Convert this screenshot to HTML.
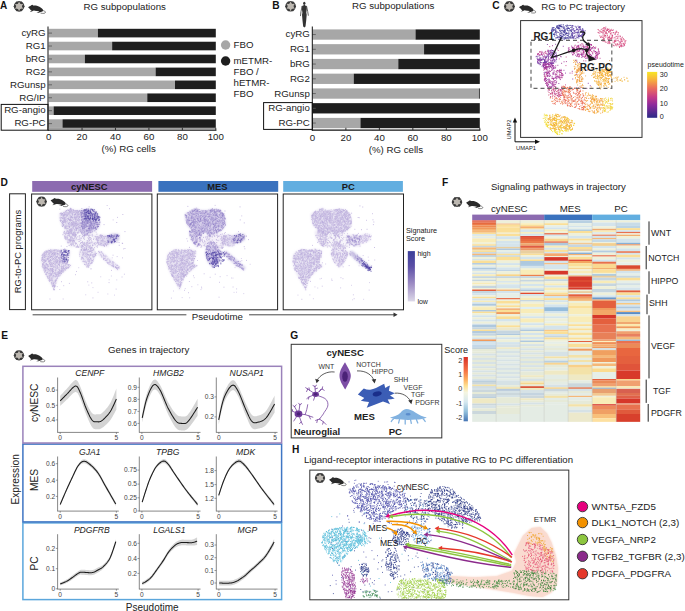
<!DOCTYPE html><html><head><meta charset="utf-8"><style>html,body{margin:0;padding:0;background:#fff}body{width:685px;height:611px;overflow:hidden;font-family:"Liberation Sans",sans-serif}svg{display:block;font-family:"Liberation Sans",sans-serif}</style></head><body><svg width="685" height="611" viewBox="0 0 685 611"><text x="0.0" y="8.5" font-size="10.0" font-weight="bold" fill="#111">A</text>
<circle cx="19.10" cy="6.35" r="5.30" fill="#3a3a3a"/>
<circle cx="23.98" cy="6.35" r="0.64" fill="#3a3a3a"/>
<circle cx="21.54" cy="10.57" r="0.64" fill="#3a3a3a"/>
<circle cx="16.66" cy="10.57" r="0.64" fill="#3a3a3a"/>
<circle cx="14.22" cy="6.35" r="0.64" fill="#3a3a3a"/>
<circle cx="16.66" cy="2.13" r="0.64" fill="#3a3a3a"/>
<circle cx="21.54" cy="2.13" r="0.64" fill="#3a3a3a"/>
<polygon points="19.10,1.47 20.37,4.15 23.32,3.91 21.64,6.35 23.32,8.79 20.37,8.55 19.10,11.23 17.83,8.55 14.88,8.79 16.56,6.35 14.88,3.91 17.83,4.15" fill="#bdb8b1"/>
<circle cx="19.10" cy="6.35" r="2.86" fill="#bdb8b1"/>
<g transform="translate(28.10,4.70) scale(1.040)"><path d="M0 2.5 C0.7 1.8 1.4 1.4 2.1 1.3 L3.4 0.2 L4.3 0.1 L4.8 0.8 C6 0.7 7.2 0.6 8.4 0.9 C10.2 1.3 11.8 2.2 13.0 3.4 C13.8 4.2 14.4 4.8 14.4 5.4 C14.4 6.1 14.1 6.5 13.8 6.6 L12.2 7.0 L10.2 7.7 L8.0 7.8 L9.8 7.1 L10.8 6.4 C9 6.0 7.5 5.8 6.2 5.7 C5.2 5.6 4.6 5.8 4.1 6.2 L2.1 6.9 L2.0 6.6 L3.4 5.8 C2.5 5.2 1.8 4.5 1.5 3.9 C1.0 3.4 0.4 3.0 0 2.5 Z" fill="#2a2a2a"/><path d="M14.3 5.6 C15.6 5.9 16.6 6.4 16.7 7.4 C16.5 8.4 14.6 8.6 12 8.1" fill="none" stroke="#2a2a2a" stroke-width="0.55"/></g>
<text x="83.5" y="9.8" font-size="9.7" fill="#222">RG subpopulations</text>
<rect x="48.60" y="28.80" width="49.32" height="8.60" fill="#a7a7a7"/>
<rect x="97.92" y="28.80" width="117.88" height="8.60" fill="#1e1e1e"/>
<line x1="48.60" y1="33.10" x2="52.00" y2="33.10" stroke="#555" stroke-width="0.8"/>
<text x="45.6" y="35.8" font-size="9.7" text-anchor="end" fill="#222">cyRG</text>
<rect x="48.60" y="41.73" width="63.54" height="8.60" fill="#a7a7a7"/>
<rect x="112.14" y="41.73" width="103.66" height="8.60" fill="#1e1e1e"/>
<line x1="48.60" y1="46.03" x2="52.00" y2="46.03" stroke="#555" stroke-width="0.8"/>
<text x="45.6" y="48.7" font-size="9.7" text-anchor="end" fill="#222">RG1</text>
<rect x="48.60" y="54.66" width="36.28" height="8.60" fill="#a7a7a7"/>
<rect x="84.88" y="54.66" width="130.92" height="8.60" fill="#1e1e1e"/>
<line x1="48.60" y1="58.96" x2="52.00" y2="58.96" stroke="#555" stroke-width="0.8"/>
<text x="45.6" y="61.7" font-size="9.7" text-anchor="end" fill="#222">bRG</text>
<rect x="48.60" y="67.59" width="107.01" height="8.60" fill="#a7a7a7"/>
<rect x="155.61" y="67.59" width="60.19" height="8.60" fill="#1e1e1e"/>
<line x1="48.60" y1="71.89" x2="52.00" y2="71.89" stroke="#555" stroke-width="0.8"/>
<text x="45.6" y="74.6" font-size="9.7" text-anchor="end" fill="#222">RG2</text>
<rect x="48.60" y="80.52" width="126.40" height="8.60" fill="#a7a7a7"/>
<rect x="175.00" y="80.52" width="40.80" height="8.60" fill="#1e1e1e"/>
<line x1="48.60" y1="84.82" x2="52.00" y2="84.82" stroke="#555" stroke-width="0.8"/>
<text x="45.6" y="87.5" font-size="9.7" text-anchor="end" fill="#222">RGunsp</text>
<rect x="48.60" y="93.45" width="98.65" height="8.60" fill="#a7a7a7"/>
<rect x="147.25" y="93.45" width="68.55" height="8.60" fill="#1e1e1e"/>
<line x1="48.60" y1="97.75" x2="52.00" y2="97.75" stroke="#555" stroke-width="0.8"/>
<text x="45.6" y="100.5" font-size="9.7" text-anchor="end" fill="#222">RG/IP</text>
<rect x="48.60" y="106.38" width="5.02" height="8.60" fill="#a7a7a7"/>
<rect x="53.62" y="106.38" width="162.18" height="8.60" fill="#1e1e1e"/>
<line x1="48.60" y1="110.68" x2="52.00" y2="110.68" stroke="#555" stroke-width="0.8"/>
<text x="45.6" y="113.4" font-size="9.7" text-anchor="end" fill="#222">RG-angio</text>
<rect x="48.60" y="119.31" width="13.88" height="8.60" fill="#a7a7a7"/>
<rect x="62.48" y="119.31" width="153.32" height="8.60" fill="#1e1e1e"/>
<line x1="48.60" y1="123.61" x2="52.00" y2="123.61" stroke="#555" stroke-width="0.8"/>
<text x="45.6" y="126.3" font-size="9.7" text-anchor="end" fill="#222">RG-PC</text>
<line x1="48.00" y1="26.50" x2="48.00" y2="130.60" stroke="#111" stroke-width="1.0"/>
<rect x="48.60" y="127.80" width="167.20" height="1.90" fill="#a0a0a0"/>
<line x1="48.00" y1="130.20" x2="216.40" y2="130.20" stroke="#111" stroke-width="1.1"/>
<text x="48.6" y="140.0" font-size="9.7" text-anchor="middle" fill="#222">0</text>
<line x1="82.04" y1="127.80" x2="82.04" y2="130.20" stroke="#222" stroke-width="0.9"/>
<text x="82.0" y="140.0" font-size="9.7" text-anchor="middle" fill="#222">20</text>
<line x1="115.48" y1="127.80" x2="115.48" y2="130.20" stroke="#222" stroke-width="0.9"/>
<text x="115.5" y="140.0" font-size="9.7" text-anchor="middle" fill="#222">40</text>
<line x1="148.92" y1="127.80" x2="148.92" y2="130.20" stroke="#222" stroke-width="0.9"/>
<text x="148.9" y="140.0" font-size="9.7" text-anchor="middle" fill="#222">60</text>
<line x1="182.36" y1="127.80" x2="182.36" y2="130.20" stroke="#222" stroke-width="0.9"/>
<text x="182.4" y="140.0" font-size="9.7" text-anchor="middle" fill="#222">80</text>
<line x1="215.80" y1="127.80" x2="215.80" y2="130.20" stroke="#222" stroke-width="0.9"/>
<text x="215.8" y="140.0" font-size="9.7" text-anchor="middle" fill="#222">100</text>
<text x="128.6" y="152.0" font-size="9.7" text-anchor="middle" fill="#222">(%) RG cells</text>
<rect x="1.20" y="104.40" width="46.80" height="25.80" fill="none" stroke="#111" stroke-width="1.0"/>
<circle cx="225.6" cy="45.0" r="4.7" fill="#a7a7a7"/>
<circle cx="225.6" cy="61.0" r="4.7" fill="#1e1e1e"/>
<text x="233.5" y="48.4" font-size="9.7" fill="#222">FBO</text>
<text x="233.5" y="64.4" font-size="9.7" fill="#222">mETMR-</text>
<text x="233.5" y="75.0" font-size="9.7" fill="#222">FBO /</text>
<text x="233.5" y="86.2" font-size="9.7" fill="#222">hETMR-</text>
<text x="233.5" y="97.2" font-size="9.7" fill="#222">FBO</text>
<text x="272.3" y="8.8" font-size="10.2" font-weight="bold" fill="#111">B</text>
<circle cx="290.60" cy="6.30" r="5.30" fill="#3a3a3a"/>
<circle cx="295.48" cy="6.30" r="0.64" fill="#3a3a3a"/>
<circle cx="293.04" cy="10.52" r="0.64" fill="#3a3a3a"/>
<circle cx="288.16" cy="10.52" r="0.64" fill="#3a3a3a"/>
<circle cx="285.72" cy="6.30" r="0.64" fill="#3a3a3a"/>
<circle cx="288.16" cy="2.08" r="0.64" fill="#3a3a3a"/>
<circle cx="293.04" cy="2.08" r="0.64" fill="#3a3a3a"/>
<polygon points="290.60,1.42 291.87,4.10 294.82,3.86 293.14,6.30 294.82,8.74 291.87,8.50 290.60,11.18 289.33,8.50 286.38,8.74 288.06,6.30 286.38,3.86 289.33,4.10" fill="#bdb8b1"/>
<circle cx="290.60" cy="6.30" r="2.86" fill="#bdb8b1"/>
<g fill="#333"><ellipse cx="304.3" cy="3.2" rx="1.15" ry="1.55"/><path d="M303.7 4.5 L304.9 4.5 L305.1 5.6 L306.9 6.0 L306.8 9 L306.3 12.8 L306.7 14.8 L306.2 20.6 L305.5 26.6 L304.4 27.4 L303.2 26.6 L302.5 20.6 L302.0 14.8 L302.4 12.8 L301.9 9 L301.8 6.0 L303.5 5.6 Z"/></g><path d="M302.1 6.4 L301.0 11.5 L300.5 15.7 M306.6 6.4 L307.7 11.5 L308.3 15.3" stroke="#555" stroke-width="0.9" fill="none" stroke-linecap="round"/>
<text x="352.0" y="9.3" font-size="9.7" fill="#222">RG subpopulations</text>
<rect x="312.40" y="29.40" width="103.12" height="10.30" fill="#a7a7a7"/>
<rect x="415.52" y="29.40" width="64.28" height="10.30" fill="#1e1e1e"/>
<line x1="312.40" y1="34.55" x2="315.80" y2="34.55" stroke="#555" stroke-width="0.8"/>
<text x="309.8" y="37.4" font-size="9.7" text-anchor="end" fill="#222">cyRG</text>
<rect x="312.40" y="44.15" width="111.66" height="10.30" fill="#a7a7a7"/>
<rect x="424.06" y="44.15" width="55.74" height="10.30" fill="#1e1e1e"/>
<line x1="312.40" y1="49.30" x2="315.80" y2="49.30" stroke="#555" stroke-width="0.8"/>
<text x="309.8" y="52.2" font-size="9.7" text-anchor="end" fill="#222">RG1</text>
<rect x="312.40" y="58.90" width="85.88" height="10.30" fill="#a7a7a7"/>
<rect x="398.28" y="58.90" width="81.52" height="10.30" fill="#1e1e1e"/>
<line x1="312.40" y1="64.05" x2="315.80" y2="64.05" stroke="#555" stroke-width="0.8"/>
<text x="309.8" y="67.0" font-size="9.7" text-anchor="end" fill="#222">bRG</text>
<rect x="312.40" y="73.65" width="41.35" height="10.30" fill="#a7a7a7"/>
<rect x="353.75" y="73.65" width="126.05" height="10.30" fill="#1e1e1e"/>
<line x1="312.40" y1="78.80" x2="315.80" y2="78.80" stroke="#555" stroke-width="0.8"/>
<text x="309.8" y="81.7" font-size="9.7" text-anchor="end" fill="#222">RG2</text>
<rect x="312.40" y="88.40" width="166.56" height="10.30" fill="#a7a7a7"/>
<rect x="478.96" y="88.40" width="0.84" height="10.30" fill="#1e1e1e"/>
<line x1="312.40" y1="93.55" x2="315.80" y2="93.55" stroke="#555" stroke-width="0.8"/>
<text x="309.8" y="96.5" font-size="9.7" text-anchor="end" fill="#222">RGunsp</text>
<rect x="312.40" y="103.15" width="0.00" height="10.30" fill="#a7a7a7"/>
<rect x="312.40" y="103.15" width="167.40" height="10.30" fill="#1e1e1e"/>
<line x1="312.40" y1="108.30" x2="315.80" y2="108.30" stroke="#555" stroke-width="0.8"/>
<text x="309.8" y="111.2" font-size="9.7" text-anchor="end" fill="#222">RG-angio</text>
<rect x="312.40" y="117.90" width="48.04" height="10.30" fill="#a7a7a7"/>
<rect x="360.44" y="117.90" width="119.36" height="10.30" fill="#1e1e1e"/>
<line x1="312.40" y1="123.05" x2="315.80" y2="123.05" stroke="#555" stroke-width="0.8"/>
<text x="309.8" y="126.0" font-size="9.7" text-anchor="end" fill="#222">RG-PC</text>
<line x1="312.30" y1="26.50" x2="312.30" y2="130.60" stroke="#111" stroke-width="1.0"/>
<line x1="311.80" y1="130.10" x2="480.40" y2="130.10" stroke="#111" stroke-width="1.1"/>
<text x="312.4" y="140.7" font-size="9.7" text-anchor="middle" fill="#222">0</text>
<line x1="345.88" y1="127.80" x2="345.88" y2="130.10" stroke="#222" stroke-width="0.9"/>
<text x="345.9" y="140.7" font-size="9.7" text-anchor="middle" fill="#222">20</text>
<line x1="379.36" y1="127.80" x2="379.36" y2="130.10" stroke="#222" stroke-width="0.9"/>
<text x="379.4" y="140.7" font-size="9.7" text-anchor="middle" fill="#222">40</text>
<line x1="412.84" y1="127.80" x2="412.84" y2="130.10" stroke="#222" stroke-width="0.9"/>
<text x="412.8" y="140.7" font-size="9.7" text-anchor="middle" fill="#222">60</text>
<line x1="446.32" y1="127.80" x2="446.32" y2="130.10" stroke="#222" stroke-width="0.9"/>
<text x="446.3" y="140.7" font-size="9.7" text-anchor="middle" fill="#222">80</text>
<line x1="479.80" y1="127.80" x2="479.80" y2="130.10" stroke="#222" stroke-width="0.9"/>
<text x="479.8" y="140.7" font-size="9.7" text-anchor="middle" fill="#222">100</text>
<text x="395.9" y="152.5" font-size="9.7" text-anchor="middle" fill="#222">(%) RG cells</text>
<rect x="263.60" y="102.60" width="48.70" height="26.80" fill="none" stroke="#111" stroke-width="1.0"/>
<text x="492.3" y="8.8" font-size="10.2" font-weight="bold" fill="#111">C</text>
<circle cx="509.40" cy="6.40" r="5.30" fill="#3a3a3a"/>
<circle cx="514.28" cy="6.40" r="0.64" fill="#3a3a3a"/>
<circle cx="511.84" cy="10.62" r="0.64" fill="#3a3a3a"/>
<circle cx="506.96" cy="10.62" r="0.64" fill="#3a3a3a"/>
<circle cx="504.52" cy="6.40" r="0.64" fill="#3a3a3a"/>
<circle cx="506.96" cy="2.18" r="0.64" fill="#3a3a3a"/>
<circle cx="511.84" cy="2.18" r="0.64" fill="#3a3a3a"/>
<polygon points="509.40,1.52 510.67,4.20 513.62,3.96 511.94,6.40 513.62,8.84 510.67,8.60 509.40,11.28 508.13,8.60 505.18,8.84 506.86,6.40 505.18,3.96 508.13,4.20" fill="#bdb8b1"/>
<circle cx="509.40" cy="6.40" r="2.86" fill="#bdb8b1"/>
<g transform="translate(519.10,4.70) scale(1.000)"><path d="M0 2.5 C0.7 1.8 1.4 1.4 2.1 1.3 L3.4 0.2 L4.3 0.1 L4.8 0.8 C6 0.7 7.2 0.6 8.4 0.9 C10.2 1.3 11.8 2.2 13.0 3.4 C13.8 4.2 14.4 4.8 14.4 5.4 C14.4 6.1 14.1 6.5 13.8 6.6 L12.2 7.0 L10.2 7.7 L8.0 7.8 L9.8 7.1 L10.8 6.4 C9 6.0 7.5 5.8 6.2 5.7 C5.2 5.6 4.6 5.8 4.1 6.2 L2.1 6.9 L2.0 6.6 L3.4 5.8 C2.5 5.2 1.8 4.5 1.5 3.9 C1.0 3.4 0.4 3.0 0 2.5 Z" fill="#2a2a2a"/><path d="M14.3 5.6 C15.6 5.9 16.6 6.4 16.7 7.4 C16.5 8.4 14.6 8.6 12 8.1" fill="none" stroke="#2a2a2a" stroke-width="0.55"/></g>
<text x="541.2" y="9.7" font-size="9.7" fill="#222">RG to PC trajectory</text>
<rect x="520.60" y="20.60" width="121.40" height="116.80" fill="none" stroke="#333" stroke-width="1.0"/>
<path d="M559.5 25.6h.1m.1 1.3h.1m2.5 0h.1m1.1 0h.1m4.4-1.3h.1m3.7 .5h.1m.2-.5h.1m5.8 .6h.1m2.3 .8h.1m-28.6 2.9h.1m.3-2h.1m-.1 3.3h.1m-.1 0h.1m.6-3.1h.1m.3 2.8h.1m0-1.1h.1m1.8 1h.1m1.3 .8h.1m.3 .7h.1m1-3.7h.1m0 .2h.1m.2 3.7h.1m1-3.7h.1m2.3 1.7h.1m.5 1.5h.1m.5-3.9h.1m.8 4.2h.1m.1-4.2h.1m.1 1.5h.1m.4 1h.1m.6-1h.1m.6-.9h.1m1.3-.4h.1m.5 .2h.1m1.9 2.1h.1m.5 .9h.1m.3-.2h.1m0-1.4h.1m.6 2.7h.1m1.2-2.4h.1m.7 .9h.1m2-1.6h.1m.2 3.2h.1m.2-3.4h.1m.3 3.5h.1m1 0h.1m.3-5.4h.1m-.1 .2h.1m.8 4.8h.1m.9-1.6h.1m.7 1.5h.1m.8-3.6h.1m.3 2.7h.1m.3 .9h.1m-29.1 1.8h.1m.4 .7h.1m.7 3.2h.1m.2-4.9h.1m1.3 4.6h.1m.5-.1h.1m1 .2h.1m.7-1.1h.1m.4-1.1h.1m.8 .8h.1m.4-2.4h.1m1 1.1h.1m2-1.8h.1m1.5-.2h.1m.2 4.3h.1m.1-2.1h.1m1.1-2.1h.1m-.1 4.7h.1m1.2-4h.1m1.9-.4h.1m.7 2.1h.1m.1 1h.1m-.1-1.8h.1m.3 3.8h.1m.7-.7h.1m.8-4.9h.1m2.5 4.7h.1m1-.9h.1m.2 1.2h.1m.5-1.7h.1m0-2.2h.1m.1 2h.1m.2-.5h.1m1.9 1.7h.1m1.3-3.8h.1m.1 1.4h.1m-23.1 5.4h.1" stroke="#4a3a9e" stroke-width="0.95" stroke-linecap="round" fill="none"/>
<path d="M556.5 26.1h.1m.6 .5h.1m.4-1.1h.1m.8 .3h.1m.3-.8h.1m.8 .6h.1m.5 1h.1m.2-.3h.1m.9-1.5h.1m2.8 2.2h.1m2.2 0h.1m-15.7 4.4h.1m-.1-1h.1m.6-2.1h.1m1.3 1.9h.1m.5-.8h.1m1.2 .5h.1m.2-1.4h.1m.1 3.9h.1m.1-2.3h.1m1.3-2.1h.1m-.1-.9h.1m.1 1h.1m.6-1h.1m.2 .3h.1m.4 .7h.1m.3 .7h.1m1.1 2.5h.1m.3-.7h.1m.6-2.8h.1m.9 2.4h.1m.6 1.3h.1m.5-.9h.1m.4 1.8h.1m.1-3.5h.1m.1 2.5h.1m.8 1.2h.1m1.2-2.6h.1m0 .1h.1m.6 .7h.1m.6-2.3h.1m0 3.6h.1m.2-1.4h.1m2.7-3h.1m-18.7 6.8h.1m.4-.8h.1m.3 1h.1m1.8-.6h.1m-.1 3.7h.1m3.2-3.7h.1m.5 1.4h.1m0-.2h.1m.2 2.4h.1m1.4-3.9h.1m0 3.4h.1m.1-.6h.1m1-2.1h.1m0 3.5h.1m.8-2.9h.1m.2 2.5h.1m.3 .8h.1m.6-.4h.1m.8-4.7h.1m.2 4.7h.1m.4 0h.1m.7-1.8h.1m.8 .6h.1m1.1 .2h.1m-11.7 2.4h.1m.3-.1h.1m.3 1.1h.1m.3 0h.1" stroke="#3f3a9c" stroke-width="0.95" stroke-linecap="round" fill="none"/>
<path d="M559.7 25.5h.1m-0 .7h.1m.5-1.1h.1m.8 1.3h.1m.2 0h.1m1.7-1.5h.1m2.3 .7h.1m.5 .6h.1m.6-1.2h.1m.6 .8h.1m2.1-.4h.1m-.1 .1h.1m-18 4h.1m.4 .5h.1m.5-2.4h.1m.7 .1h.1m.3 2.4h.1m.5 2.4h.1m.6-1h.1m.6-4.2h.1m.5-.2h.1m1.5 1.1h.1m.7 2.4h.1m.7 1.1h.1m.5-1.5h.1m.3 2.5h.1m2.4-4.6h.1m-0 4.7h.1m.2-.9h.1m-.1-1.4h.1m.6 .6h.1m2.6-2.8h.1m.6-.6h.1m1 .7h.1m.6 1.2h.1m.7-2.1h.1m.1 3h.1m0 1.5h.1m-16.9 4.1h.1m2.5-.6h.1m.1 1.9h.1m.8-.9h.1m1.2 .5h.1m.8-3.3h.1m.4 4.2h.1m-0-.2h.1m.1-4.6h.1m0 4.8h.1m.4-2h.1m-.1 2.4h.1m.4 0h.1m0-1.9h.1m1.3-.5h.1m.9 2.9h.1m.6-4.2h.1m.2 2.4h.1m.1 1.1h.1m0-4.6h.1m.1 1.5h.1m-.1 3.9h.1m.4-5.4h.1m1-.1h.1m-0 2.1h.1m.6-.6h.1m.1 4h.1m.9-1.7h.1m.1 1h.1m.7-.3h.1m-0-1.9h.1m.7-1.3h.1m0 1.2h.1m-0 2.2h.1m-10.5 2.2h.1m0-.2h.1m2.4-.4h.1" stroke="#3b3494" stroke-width="0.95" stroke-linecap="round" fill="none"/>
<path d="M572.2 26.9h.1m6.8-.3h.1m-7.2 1.5h.1m-.1 1.7h.1m3.6 2.3h.1m-0-1.7h.1m0 2.2h.1m.4-5.4h.1m.3 1.5h.1m1 .6h.1m.5 1.6h.1m.1-3.2h.1m.5 1.4h.1m.2-1.7h.1m1 4.5h.1m.7-1.7h.1m.7 .1h.1m1.4 .7h.1m-11.2 2.2h.1m.7-.1h.1m0 3.6h.1m.9-3.5h.1m.5 5.3h.1m1.6-1.8h.1m.8-1.5h.1m.1-.9h.1m2.2 1.3h.1m.3 .4h.1m.2-.5h.1m0 1h.1m2.1-1.4h.1m.2-1.1h.1m.2 .4h.1" stroke="#6e44a8" stroke-width="0.95" stroke-linecap="round" fill="none"/>
<path d="M572.2 25.6h.1m.8 .3h.1m1.9 .4h.1m4.7 .4h.1m-7.9 3h.1m1.1-.5h.1m.3-.7h.1m.3 2.8h.1m.4-.6h.1m1.3-3.5h.1m.8 5.1h.1m.8 .6h.1m0-3h.1m-.1 2.1h.1m.2 .2h.1m.6-1.2h.1m.6-3.9h.1m.1 2h.1m.5 0h.1m.1 .1h.1m.6 2.4h.1m.9-2.4h.1m.2 3.4h.1m.1-2.2h.1m.1 .2h.1m0-.7h.1m.2 1.7h.1m1.1 .8h.1m.5-1.6h.1m-13.3 4.2h.1m0 2.3h.1m0 .2h.1m-0-2.4h.1m.3-1.9h.1m.1 4.5h.1m.6-.3h.1m.9-1.5h.1m0 .5h.1m1.2-1.3h.1m.2 2.8h.1m2-1.9h.1m-.1-.6h.1m.1 1.1h.1m2.7 .1h.1m0-1.5h.1m.5-.4h.1m.2-1.2h.1m0 1.2h.1m0 .2h.1" stroke="#5b3ea6" stroke-width="0.95" stroke-linecap="round" fill="none"/>
<path d="M598 32.4h.1m.4 .4h.1m1.2-2h.1m.1 .5h.1m1.1-1.7h.1m.1 2.6h.1m.7-3.4h.1m.1 2.2h.1m.6-.8h.1m.3 .6h.1m.1-3h.1m.1 3.2h.1m.1-.9h.1m.2-2.3h.1m.6 1.8h.1m.1 2.8h.1m.4-5.3h.1m.6 5.3h.1m.2-1.9h.1m.1-.6h.1m0 .1h.1m.2-.8h.1m.2 1.2h.1m.7 1.1h.1m.2 1h.1m.6-1.6h.1m.7 .8h.1m.3-1.7h.1m.3 .5h.1m1.2-.1h.1m.8 2.2h.1m2.9-.3h.1m.3-.9h.1m1.5 1.5h.1m-17.4 4.5h.1m-.1-1h.1m1.2 1h.1m.5-3.7h.1m0 1.5h.1m.2 3.8h.1m0-1.2h.1m.4 .9h.1m0-4.7h.1m.6 1.6h.1m-0-.7h.1m.6 .6h.1m.2 1.6h.1m-.1-1.2h.1m.1-2.6h.1m.6 .4h.1m.4 .2h.1m.1 1.5h.1m.2 2.7h.1m1-.2h.1m.8-.3h.1m1 1.2h.1m-.1-5.3h.1m.4 5.4h.1m1.2-3.4h.1m2.2 1.9h.1m.6-4.4h.1m.3 5.8h.1m1.7-.5h.1m2.3 .5h.1m.1-2.1h.1m1.1 1.4h.1m.8-.9h.1m.6 1.3h.1m-20.7 1.9h.1m.2-.3h.1m.1 1.3h.1m1.5-.2h.1m.4 .8h.1m.8 .3h.1m1.3 .8h.1m.2-4h.1m1.1 3.1h.1m.2-.5h.1m.4 1.5h.1m1.1-3h.1m.6 .1h.1m2.1 2.4h.1m.3-1.8h.1m0 2h.1m.1-1.6h.1m.2-.1h.1m.8-.4h.1m0 3.3h.1m0-3.9h.1m1.7 4.5h.1m-.1-.3h.1m.2-4.2h.1m2.3 2.2h.1m.2 .8h.1m.1-4h.1m.5 .4h.1m1.8 4.4h.1m.9 .9h.1m.2-3.7h.1m.1 1.5h.1m.2-1.6h.1m-12 4.2h.1m5.7 1.3h.1m.2 .9h.1m1.5-2.3h.1m0 .5h.1m.1 1h.1m.4-1.5h.1" stroke="#d4487a" stroke-width="0.95" stroke-linecap="round" fill="none"/>
<path d="M602.9 32.5h.1m2.5-4.2h.1m1.5 1.9h.1m1.4-.7h.1m1.5 .9h.1m3-.4h.1m.4 2.8h.1m-14.2 .3h.1m8.6 4.2h.1m1.2 .5h.1m1.8 .5h.1m0-3.3h.1m.2 2.2h.1m.4-1.9h.1m2.8-1.2h.1m.5 2.2h.1m1.8 .4h.1m2-.8h.1m-15.7 4.5h.1m.2 .1h.1m3.5-1.1h.1m.5 3.2h.1m0-1.4h.1m.5-.7h.1m5.3 .8h.1m2.8-.7h.1m1.1 1h.1m.5 2.6h.1m1-2.8h.1m.7 2.6h.1m.1-2.4h.1m2.1 2.5h.1m-10 1.7h.1m6.7-.2h.1m1.7 .6h.1m.9-.2h.1m.8-.8h.1" stroke="#c83a80" stroke-width="0.95" stroke-linecap="round" fill="none"/>
<path d="M598 29.5h.1m.4 .5h.1m2.1 1.8h.1m.3 .1h.1m1.8 .4h.1m.3-4.1h.1m.6 .6h.1m.5 2.9h.1m-.1-.8h.1m1.2 .6h.1m1-2.7h.1m.7 .4h.1m1.1-.1h.1m.2 2.7h.1m2.1-2.5h.1m.1 3.4h.1m3.4-.4h.1m.8-1.1h.1m1.7 1.4h.1m-18.4 3.2h.1m.7 1.6h.1m1.3-1.2h.1m1.8 .5h.1m.3-.8h.1m.2 3h.1m.2-2.1h.1m.5-3.4h.1m2.2 3.6h.1m1.6-.4h.1m.3-.7h.1m.4-2.3h.1m-.1 .5h.1m.1 4.4h.1m.1-5.3h.1m-.1 5.6h.1m.6-1.5h.1m.6 .8h.1m.1-1.7h.1m0 .6h.1m1.5 1h.1m.5-3.8h.1m2 2.4h.1m.6 1.5h.1m.2-3.5h.1m.2 .4h.1m.9 1.8h.1m-16.8 3.9h.1m.3-.9h.1m.1 .1h.1m.5-.6h.1m4.4 2.1h.1m.6 2.2h.1m.6-4.3h.1m.1-.2h.1m.1 4.5h.1m-.1-1.4h.1m1.9 2.7h.1m1-2.8h.1m1.3-1.8h.1m.8-.1h.1m.3 1.3h.1m0 .1h.1m-0 2.8h.1m-.1-.2h.1m1.7-.7h.1m1.6-.7h.1m.5 1.2h.1m1-3.7h.1m.7-.5h.1m0 1.1h.1m.2 .4h.1m.7 2h.1m.2 .1h.1m0-3.6h.1m.8 0h.1m.1 4.9h.1m.4-1.2h.1m.8-2.8h.1m-10.2 4.6h.1m.8 .5h.1m1.3-.8h.1m1.7 1.2h.1m-.1 .5h.1m.3-.6h.1m1.1-.1h.1" stroke="#e0608a" stroke-width="0.95" stroke-linecap="round" fill="none"/>
<path d="M580.2 44.8h.1m1.4-.9h.1m4.6 .9h.1m-.1-.6h.1m.1-.6h.1m.6 .5h.1m2.3 .3h.1m.7 0h.1m.9 .1h.1m-23.3 6h.1m.6-1.4h.1m-.1-1.4h.1m.6 2.2h.1m2.3-2.7h.1m.4 .3h.1m.1 1.6h.1m0-1.7h.1m.6 .7h.1m0 .1h.1m.5 1.6h.1m.4-.9h.1m0 .4h.1m.2-4.1h.1m.4 5.2h.1m.4-3.1h.1m.1-.3h.1m.1 2.1h.1m.4-3.3h.1m.1 3.8h.1m0-2.8h.1m.3 4.2h.1m.7-4.8h.1m0 .9h.1m.8 3.6h.1m.1-.8h.1m0-.9h.1m-.1 .5h.1m1.8-3.5h.1m.1 3.5h.1m.8-2.8h.1m0 2.5h.1m.1-4h.1m.5 .9h.1m-.1 .7h.1m-.1 .1h.1m.2 3.3h.1m.5-3h.1m.5 2.7h.1m.1-.4h.1m-.1-.4h.1m.5 .9h.1m.1-1.4h.1m.2 .6h.1m.1-2.7h.1m0 .8h.1m.3 2.1h.1m.5 1.3h.1m-.1-2h.1m-.1-2h.1m1.1 2.1h.1m.1-1.2h.1m.2 3h.1m-.1-.9h.1m.2-4h.1m-.1 3.8h.1m.4 1.1h.1m.4-2.9h.1m.1 .2h.1m-.1 .7h.1m.4-3.1h.1m1.2 2.3h.1m.7 3.1h.1m.8-3.2h.1m1-.5h.1m2.4 1.8h.1m-0 .2h.1m-30 2.5h.1m.5 1h.1m1.5-1.3h.1m2.3 3.4h.1m.1-2.3h.1m-0-.2h.1m.8 .5h.1m.7-1h.1m1.7 4.5h.1m.1-3.3h.1m.1 1.9h.1m.4 .4h.1m-.1-.9h.1m.9-.6h.1m.1 2.6h.1m2.5-1.6h.1m0 .9h.1m-.1-2h.1m1.4 3h.1m.3-5.2h.1m0 1h.1m-.1 1.4h.1m0-1.4h.1m.1 1.4h.1m1.3 2.2h.1m.3 .3h.1m.2-1.1h.1m.4-.8h.1m.8 2.4h.1m-.1-2.2h.1m.4-2.4h.1m0 1.1h.1m-.1 2.4h.1m.1-3.5h.1m.9 1h.1m.2-1.3h.1m0 2.4h.1m.7 2.5h.1m0-2.4h.1m.8 .8h.1m.1-3.7h.1m.8 1.5h.1m1.9-1.3h.1m.8 1.6h.1m.6 3.4h.1m-.1-1.4h.1m.2 .2h.1m.1-3.2h.1m.4 .6h.1m.6 1.6h.1m.2-.4h.1m.9-1.4h.1m-.1 .5h.1m-14.6 3.7h.1m0 .1h.1m4.9 .1h.1m2.2 0h.1m.4 .1h.1m.2 .2h.1m.3 .2h.1m.6 1.7h.1m0-1.3h.1m.8 1.5h.1m.7-1.6h.1m1 0h.1m.7 0h.1m2.3 .3h.1" stroke="#b5318d" stroke-width="0.95" stroke-linecap="round" fill="none"/>
<path d="M585.7 44.8h.1m1.3-.3h.1m3.8 .1h.1m-22.8 3.6h.1m0 1.8h.1m3.1-3.9h.1m.5 1.8h.1m-0 1.1h.1m.1-1.5h.1m1.5 1h.1m.9 1.1h.1m1.6 1h.1m.1-2.4h.1m.6 1h.1m.1-3.2h.1m.4-.6h.1m.5 5.6h.1m0-3.3h.1m.3 2.1h.1m.4-.7h.1m1.1-1.3h.1m.8 2.8h.1m1-.1h.1m.4-3.1h.1m1.6-.6h.1m.2 2.3h.1m-0-.5h.1m1.1 0h.1m.2-.6h.1m1.2 1.9h.1m.3-.6h.1m1 .4h.1m.1 .6h.1m.3-.6h.1m1-.9h.1m.9-.6h.1m1.2 2h.1m0-2.1h.1m-23.5 3.7h.1m.2 0h.1m.6 1.1h.1m.5 1.8h.1m.2-2.8h.1m2.8 3.3h.1m1.4 1h.1m.6-2.1h.1m.8 .5h.1m.1 2.3h.1m.8-2.6h.1m.8 0h.1m.1-2.2h.1m.6 2.4h.1m.6-.5h.1m.4 2.5h.1m-.1-2.2h.1m-.1 1.1h.1m1.3-3.5h.1m1 3.4h.1m.5-1.5h.1m.6-1.3h.1m3.2 1.7h.1m0 1.5h.1m1.5 .1h.1m1.1-1.9h.1m2.5-2.2h.1m.7 .5h.1m.5 2.7h.1m.7-.8h.1m.2-2h.1m.7-.9h.1m.2 2.4h.1m-17.3 3.8h.1m5.2 .5h.1m.5 .2h.1m3.1 1.9h.1m2.1-1.9h.1m-.1-.8h.1m1.8 .5h.1m.2-.6h.1m.7 2h.1" stroke="#9a2e9c" stroke-width="0.95" stroke-linecap="round" fill="none"/>
<path d="M578 42.3h.1m4.6 1.7h.1m-34.9 6.8h.1m0 .1h.1m1.6-4.3h.1m8.4 3.9h.1m15.1 .1h.1m.8-4.5h.1m0 2.1h.1m2.5 .6h.1m.5 1.3h.1m.1 .8h.1m.3-2.4h.1m-0-1.3h.1m.2-.6h.1m1.4-.8h.1m7.1 .7h.1m0 .9h.1m.9 .6h.1m0 1.8h.1m2 .5h.1m2.7-3.8h.1m2 1.8h.1m2.9 1.9h.1m-61.2 4h.1m.6-.3h.1m.7 .8h.1m.8-2.2h.1m0-1h.1m0 .2h.1m1.2 .9h.1m.7 2h.1m2-2.3h.1m-0 2.7h.1m.7-1.5h.1m.5-.7h.1m1.4 1.4h.1m2.9-1.9h.1m22.9 1.7h.1m3-2h.1m1.6-.7h.1m.7 .2h.1m.1 4.9h.1m.3-.7h.1m2.6-2.8h.1m1-1.2h.1m2 3.2h.1m.3 1.4h.1m-0-4.8h.1m2.6 .6h.1m4.2 .1h.1m2.2 4.3h.1m1-2.5h.1m.4-1h.1m.5 3.4h.1m.2-1.1h.1m1.3-3.8h.1m-39.9 7.4h.1m6.8-1.9h.1m17.5 3.8h.1m2 .1h.1m.2-2.7h.1m4.3 .4h.1m6.7-.7h.1m-44.2 7.6h.1m12.6 .1h.1m6.1 7.5h.1m27.2 .1h.1m.4-1.5h.1m-34.6 13.2h.1" stroke="#c8408a" stroke-width="0.95" stroke-linecap="round" fill="none"/>
<path d="M537.5 54.8h.1m.3-.9h.1m.4-.3h.1m1.2 1.3h.1m.1 .1h.1m1.1-.3h.1m.1-1.1h.1m.1 .8h.1m.3-.3h.1m-.1-2.7h.1m.7 1.3h.1m.6 1.2h.1m1.9-2.5h.1m1.1 2.3h.1m.5-2h.1" stroke="#b03a98" stroke-width="0.95" stroke-linecap="round" fill="none"/>
<path d="M547.3 44.5h.1m8.2-.2h.1m-4.2 5.7h.1m11.6-3.7h.1m-18.5 9.7h.1m3.3-.7h.1m-0-.6h.1m.5 .2h.1m0 1.7h.1m.1-2.4h.1m.1-.7h.1m.2 .3h.1m1.4 2.9h.1m.5-2.8h.1m.7-.3h.1m3.7 1.2h.1m4.6 2h.1m-23.8 2.6h.1m0 2.1h.1m0 .7h.1m.4 .2h.1m.5-2.6h.1m-.1 .8h.1m.2-.2h.1m0-1.2h.1m.5 1.9h.1m.6-1.3h.1m.2 0h.1m.2 .2h.1m.8-2h.1m1.4 4.7h.1m1.3-1.4h.1m0 1h.1m0-.7h.1m.4 1.2h.1m.7-.3h.1m.1-1.3h.1m0-3.6h.1m1.7 3.2h.1m0-2.5h.1m0 1.4h.1m1.8 3.1h.1m.5-4.1h.1m-.1-1h.1m.7 3h.1m.2-.4h.1m1-1.4h.1m-.1-.7h.1m.2-.9h.1m.1 5.7h.1m.2-3h.1m.5 .4h.1m1.2-3.1h.1m.2 1.4h.1m.6-1.7h.1m18.4 3.4h.1m1.1-.2h.1m.4 2h.1m8.5-3.8h.1m9.7-1.3h.1m-55.8 7.6h.1m1.9 1.5h.1m1.2-.9h.1m-0 .7h.1m1.3 1.8h.1m1.2-.4h.1m.3-1h.1m0-.1h.1m0 1.2h.1m1.8-3.3h.1m.1 .8h.1m2.7-1.4h.1m36.6 4.1h.1m11.2-3.8h.1m-54.9 9.5h.1m8.5 .3h.1m6.3-3h.1m4.1-.4h.1m1.4 2.8h.1m13.6-3.9h.1m-6.5 9.8h.1m-14 4.5h.1m5.9 3.5h.1m23.3-3.7h.1m1.9 2.5h.1m-15.7 2.5h.1m2-.4h.1m3.4-.1h.1m2.9 .4h.1" stroke="#8a3aa8" stroke-width="0.95" stroke-linecap="round" fill="none"/>
<path d="M548.6 51h.1m2.6 0h.1m-15.3 5.8h.1m.1-.5h.1m2.4-.2h.1m3.4-.4h.1m.8 1.2h.1m3.3-.3h.1m1.7-4.5h.1m1.5 1.7h.1m.3 1.6h.1m.1-1.4h.1m1.4-1.4h.1m.2 3.5h.1m.1-.5h.1m.2 .6h.1m.1 0h.1m1-4.5h.1m-0 2.8h.1m0-1.6h.1m1 2.9h.1m.1 0h.1m.1-2.9h.1m.7 3.2h.1m-19.7 2.5h.1m.4 1.3h.1m1-.7h.1m-0 3h.1m.1-2.6h.1m.8-1.1h.1m.3-.3h.1m.4 2.4h.1m.8-.6h.1m.5-.8h.1m1.1 .2h.1m.8 .3h.1m.8-1.1h.1m.1 3.5h.1m-.1-4.8h.1m.1-.1h.1m.3 4.4h.1m.3-4.3h.1m1.5 5.6h.1m4.5-.6h.1m.1-3.7h.1m.1 1h.1m1.3 2h.1m1.1-1.5h.1m.1 1.8h.1m.6-2.3h.1m-17.6 3.8h.1m1.1 1h.1m3.1 .1h.1m.8-1.3h.1m1.7 1.2h.1m1.3-.8h.1m2.5-.1h.1m-.1 2.9h.1m2.2-3.2h.1m.5 .4h.1" stroke="#7a3aa8" stroke-width="0.95" stroke-linecap="round" fill="none"/>
<path d="M548 50.1h.1m2.6 .5h.1m1.7 0h.1m-12.8 5.1h.1m4.2 1.2h.1m3.9-2.8h.1m.6-2.1h.1m1.3 .3h.1m.8 2.9h.1m-.1-2.8h.1m2.9-.4h.1m.1 4h.1m.3-3.8h.1m-0-.2h.1m-17 8.2h.1m2.2 2.1h.1m-.1-1.7h.1m1.3-.9h.1m.5 3.2h.1m2.2-.3h.1m.1-1.7h.1m.3-.6h.1m.1-3.3h.1m-.1 2.1h.1m2.3 .1h.1m.5-2h.1m.7 2.2h.1m1.3 .7h.1m.1 .7h.1m.1-3h.1m0 .1h.1m.1 .5h.1m.3 3.8h.1m1.4-1.5h.1m-.1 1.5h.1m.7-5h.1m2.1 .2h.1m-13.4 7.9h.1m.1-.6h.1m.2 1.6h.1m.1-.2h.1m.1 .2h.1m1.1 1.3h.1m.2 .2h.1m1.4-.4h.1m.8-3.4h.1m.6 .6h.1m1.6 1.8h.1m.1-3h.1m.4 .7h.1m.2-.8h.1m.7 1.6h.1m1.3-1.8h.1" stroke="#9a36a0" stroke-width="0.95" stroke-linecap="round" fill="none"/>
<path d="M549.9 50.7h.1m2.4-.1h.1m.5 .2h.1m-15.7 6.1h.1m9.5-1.8h.1m.2 1h.1m.8 .2h.1m.2-3.1h.1m1.5-2h.1m1.6 1.9h.1m.1 1.8h.1m-.1-.5h.1m.1-1.9h.1m1.2-1.4h.1m1 1.4h.1m1.1 .8h.1m.7 2.6h.1m-19.2 7.1h.1m2-3.3h.1m.2-2.1h.1m.5 4.6h.1m.6 .4h.1m.1-2.8h.1m.7 0h.1m.9-1.1h.1m.1 3.9h.1m.8-.3h.1m-.1-1.9h.1m.1-.2h.1m0 1.7h.1m.2-.9h.1m.1 1.4h.1m0 .4h.1m.7-3.8h.1m.3 3.2h.1m1.2-.9h.1m.6-3.5h.1m.5 4.7h.1m1.9 .5h.1m-.1-1h.1m.1-4.9h.1m1.1 3.8h.1m1.6-1.4h.1m-15.7 4.2h.1m1.3 0h.1m3.2 3.4h.1m.1-.7h.1m.6-2.2h.1m.5 1h.1m.4 2.2h.1m.2-2.7h.1m1.8 2.1h.1m1.3-.4h.1m1.5 .1h.1m.9-3.2h.1m.7 1.9h.1m.5-1.7h.1" stroke="#6a3aa0" stroke-width="0.95" stroke-linecap="round" fill="none"/>
<path d="M549.7 62.5h.1m-5.8 5.7h.1m.8-.8h.1m.1-1.6h.1m.2 1.1h.1m-.1-2.8h.1m.2-.4h.1m.5 3h.1m.8-2.8h.1m.2 2.9h.1m.6-.3h.1m.6-2.3h.1m2 2.9h.1m.1 .3h.1m.8-1.3h.1m.8 2.3h.1m0-2.5h.1m-9.5 4.2h.1m.8-1.1h.1m-.1 5.9h.1m-.1-5.6h.1m.1 5.7h.1m1.3-5.6h.1m-0-.2h.1m.1 3.1h.1m0 2.4h.1m-.1-.8h.1m.2-.1h.1m0-1.1h.1m.1 .8h.1m-.1-2.3h.1m1.1 1h.1m.6 .5h.1m-.1-2.3h.1m1.3 1h.1m4.6 2.4h.1m.6 1.1h.1m.1-3.3h.1m.5 2.8h.1m.1-3.4h.1m.1 1.9h.1m.2-2.4h.1m1 .3h.1m.8 3.4h.1m0-3.9h.1m-.1-.3h.1m0 2h.1m.8-1.3h.1m.8 2.8h.1m-.1-.7h.1m.1-2.2h.1m-.1 3.4h.1m.7-.1h.1m.8 1.1h.1m-19.1 4.5h.1m-.1 1.1h.1m-.1-3.9h.1m.1 1.7h.1m.1-2.2h.1m.2 3.5h.1m.2-2.8h.1m.1 2.2h.1m0-1.8h.1m.1 1.1h.1m.4-2.4h.1m1.1-.6h.1m4.6 3.3h.1m-.1-.3h.1m-.1 0h.1m1.8 .1h.1m3.7-1.5h.1m1.1-.6h.1m0-1.1h.1m.1 2.8h.1m.6-.7h.1m0 1.6h.1m.4-3.8h.1m.9 .7h.1m.1 1.7h.1m-.1 .1h.1m.7-2h.1m-16.6 7.9h.1m.3 1.4h.1m0-.8h.1m-.1-1.7h.1m.6 4h.1m.1-.7h.1m.1-1.9h.1m-.1-1.8h.1m.2 0h.1m1.3-.1h.1m0 .7h.1m0-1.7h.1m2.2 .4h.1m1.1 1.7h.1m.2-1.2h.1m.1 3.5h.1m.7 .8h.1m.3-1.6h.1m-.1 1.9h.1m1.1-3.7h.1m-8.4 5.7h.1m1.7-.3h.1m-.1-1h.1m.5 .9h.1m.1-.1h.1" stroke="#b8408e" stroke-width="0.95" stroke-linecap="round" fill="none"/>
<path d="M543.5 65.8h.1m-.1-2.2h.1m.2 .7h.1m.2 3.8h.1m.1-2.8h.1m.3-1.4h.1m.1 1.1h.1m0 .2h.1m0 3.2h.1m.2 .1h.1m0-2.5h.1m.2 .5h.1m.1-2.2h.1m0 3.1h.1m-.1 .6h.1m-.1-3.6h.1m0-.4h.1m.2 .8h.1m0 3.8h.1m.6-4.8h.1m.3 5.1h.1m-0-1.6h.1m.7-.2h.1m.4-1.2h.1m0-1.5h.1m.3 .2h.1m0 2.4h.1m.4-1.7h.1m1.2-.8h.1m.1 .4h.1m-0 .2h.1m1.1 .8h.1m0 2.3h.1m.2-.6h.1m.3-.6h.1m.1 1.5h.1m1.1-.5h.1m.3-.3h.1m-11.7 7h.1m-.1-1.9h.1m2.6-.6h.1m.7 1.2h.1m.3-.8h.1m0 1.3h.1m.1-1h.1m.7-1.4h.1m.6-.2h.1m1.9-.8h.1m.1-.7h.1m.3-.5h.1m.3 3.7h.1m.1 1.2h.1m.8-1.8h.1m-.1 1.8h.1m.1-2.2h.1m0-1.3h.1m1.1 4.2h.1m.6-.7h.1m.7-2.2h.1m.3-1.5h.1m.2-.1h.1m1.3 1.4h.1m.6 .1h.1m.4 .6h.1m0-1.9h.1m.3 1.9h.1m.3-3.1h.1m.1 1.5h.1m1 3h.1m-17.9 5.9h.1m1.2-1.2h.1m0 2h.1m.5 .1h.1m-.1-.3h.1m.8-4.3h.1m0-.7h.1m.1 1.2h.1m-0-.8h.1m.9-.4h.1m0 3.5h.1m1.3-3.3h.1m1.7 2.3h.1m-.1-1.5h.1m1.2 3.1h.1m.7 1.3h.1m.8-2.8h.1m0-.7h.1m-0 3.3h.1m.4-3.5h.1m.1 .6h.1m.1-1h.1m-.1 1.5h.1m.1 .7h.1m.5-2.9h.1m0 .5h.1m.4-.3h.1m.1 1.8h.1m.5-.7h.1m.3-.7h.1m.6 1h.1m.7 2h.1m.6-2.4h.1m0-2.1h.1m.7 .2h.1m.5 .3h.1m-17.4 5.8h.1m.1 .1h.1m.2 2h.1m.5-.9h.1m1.3 .9h.1m-.1 1.5h.1m.8-4h.1m.4 1.1h.1m0 .3h.1m.3 4h.1m.6-5.4h.1m.1 1.3h.1m.5 4.5h.1m.3-2.8h.1m.7 1.4h.1m-.1-1.9h.1m0 .9h.1m.9 0h.1m0 1.6h.1m.6-5h.1m-0 3.2h.1m.5-1.8h.1m.6 2h.1m.9-3.1h.1m-8.6 6h.1m-.1 .6h.1m-.1-.8h.1m1.6 1.4h.1m.8-.7h.1m1 0h.1m3.6-.5h.1" stroke="#a83aa0" stroke-width="0.95" stroke-linecap="round" fill="none"/>
<path d="M544.8 67.4h.1m.8-3.3h.1m2.7 .5h.1m.1-1.2h.1m.6 4.9h.1m.7-2.1h.1m1.4 1.9h.1m.3-1.1h.1m.2-1h.1m.2-.5h.1m.8 3.3h.1m.4-1.7h.1m-9.2 5.1h.1m.2 .2h.1m1.7-2.3h.1m.9 2.1h.1m1.1 1.3h.1m.3 .8h.1m-4.3 4.6h.1m.6-.2h.1m1 1h.1m1.3 .1h.1m.6 .1h.1m.2-3.6h.1m3.7 2h.1m-.1 .4h.1m-6.8 6.8h.1m.9 .1h.1m.7-1.1h.1m2-1.2h.1m.1 3.1h.1m.9-4.7h.1m.3 4.4h.1m-.1-3.5h.1m3.8 .1h.1m-7.6 6.2h.1m2.7-1.7h.1m4 0h.1" stroke="#9030a0" stroke-width="0.95" stroke-linecap="round" fill="none"/>
<path d="M576.6 61h.1m-2.1 7.4h.1m1.7 4.1h.1m.7-1.6h.1m.6 .3h.1m.2-1.5h.1m.2 1.1h.1m1.3 .1h.1m1.5-1h.1m-3.4 10.2h.1m1-3.8h.1m.6 1h.1m-.1-1.8h.1m2.6 3.8h.1m-.8 6.2h.1m-2.5 3.1h.1" stroke="#ec8a50" stroke-width="0.95" stroke-linecap="round" fill="none"/>
<path d="M573.6 60.3h.1m2.5 1.3h.1m-1.2 5.4h.1m-.1 1.4h.1m.7-3.8h.1m1.1 2.4h.1m.4-1.6h.1m.1-1.6h.1m.4 4.5h.1m.3-2.4h.1m.6-1.8h.1m1.6 4h.1m5.6-1.3h.1m25-.3h.1m-36.3 8.1h.1m.8-4.5h.1m.2 0h.1m.2-.8h.1m1.9 .1h.1m.4 1.4h.1m-.1 4.1h.1m.4-4.5h.1m.8 2.4h.1m.1 .8h.1m1-2h.1m.2-2.2h.1m1.1 3.6h.1m10-2.1h.1m-18.8 7.8h.1m.4-3.6h.1m2.1 2.1h.1m1.3 .9h.1m0 2.2h.1m1.8-.2h.1m.5-2.4h.1m.8 1h.1m12.7-3.5h.1m10.4 .1h.1m-29.7 7.3h.1m.3-1.3h.1m2.4 .3h.1m.4 1.8h.1m.3-1.9h.1m.4 4.5h.1m1.5-1.6h.1m8.6 2.5h.1m4.9-5.9h.1m8.7 2.9h.1m-27.8 5.3h.1" stroke="#f5b040" stroke-width="0.95" stroke-linecap="round" fill="none"/>
<path d="M573.7 62.5h.1m.9-1.1h.1m.3-1.3h.1m.2 2.7h.1m34.1-2.2h.1m-35.5 5.8h.1m1.3-2.2h.1m0 .2h.1m1.9 1.5h.1m.7-1.9h.1m0 4.5h.1m.3-.8h.1m0 1.1h.1m.5-2.1h.1m.1 1.5h.1m1-1.3h.1m13-3.1h.1m10.1-.1h.1m-29.9 5.5h.1m.6 2.8h.1m1.1 .6h.1m.1-.5h.1m.2-.7h.1m.4 1.2h.1m0-1.9h.1m.2-.6h.1m.1 4.6h.1m0-4.6h.1m-.1 1.2h.1m1.1-2.3h.1m.5 3.9h.1m.4 1.7h.1m.2-3.4h.1m.3 3h.1m.7-1.4h.1m0 .4h.1m.5-2.1h.1m.1 2h.1m0-3.1h.1m11-.4h.1m6.1 1.1h.1m-25.6 4.6h.1m.3-.1h.1m.2 2.4h.1m1.3 2.5h.1m.2 .8h.1m-.1-4.6h.1m0 3.6h.1m-0-.1h.1m-.1-4.6h.1m.2 4.3h.1m.4-1.9h.1m.7-.4h.1m.5 3.6h.1m0-4.8h.1m-.1 3.9h.1m.1-1.2h.1m-.1 1.6h.1m1.5-3.8h.1m0 2.9h.1m0-.3h.1m.5-1h.1m3.3-2.2h.1m6.1-.3h.1m6.4 .8h.1m4.2-.9h.1m5.4-.2h.1m-31.5 6.1h.1m-.1 1.4h.1m.8 2.2h.1m.1-3.1h.1m1.9-.5h.1m0 4.9h.1m1.7-4.8h.1m.3-.3h.1m.8 4.5h.1m15.5-.4h.1m5.3-2.1h.1m4.5-.7h.1m2.8 3.4h.1m-30 1.4h.1m.1 0h.1m1 .3h.1m17.6 1.4h.1m7.5-1.6h.1" stroke="#f0a040" stroke-width="0.95" stroke-linecap="round" fill="none"/>
<path d="M606.1 67.9h.1m2.5 1h.1m-16.2 5.1h.1m.6-.2h.1m.7 .1h.1m.9-2.3h.1m1.6-.8h.1m2.4 .5h.1m.2-.6h.1m.2 2.3h.1m0-2.9h.1m-.1 3.3h.1m0-1.8h.1m.3 .6h.1m.1-.1h.1m.1 2.7h.1m.6-5.1h.1m0 3.7h.1m-0-2.7h.1m.1 1.4h.1m.1-.4h.1m1.2-.5h.1m0 .1h.1m.1-.4h.1m0 .6h.1m0 .4h.1m.5-2.1h.1m.1 2.9h.1m.1 1.8h.1m.2 .1h.1m.3-4.1h.1m.9 2.7h.1m-0-3.9h.1m.3 2.1h.1m.1 3.1h.1m.1-1.8h.1m-.1 .8h.1m0-.2h.1m.8-1.6h.1m0-1.4h.1m.9 4.4h.1m-.1-2.4h.1m.1-1.1h.1m.3 3.5h.1m.6-.1h.1m0-3.5h.1m.5 3.9h.1m-.1-3.3h.1m-17.2 9h.1m.1-3.6h.1m2.2 1.7h.1m0-.7h.1m.1-2.9h.1m0-.1h.1m.1 2.1h.1m.1-1.1h.1m.7 3.1h.1m.4-3.6h.1m.4 1.5h.1m.1-1.2h.1m.4 1.5h.1m1.1-2h.1m.6 .1h.1m.4 3.9h.1m.4 1h.1m.6-1.5h.1m.2 .9h.1m.6-2.9h.1m1.9 3.6h.1m.8-4.4h.1m0 2.6h.1m0-2.4h.1m.2 3h.1m.2-.7h.1m.6 0h.1m.4-3.2h.1m1.4 2.1h.1m.4 2.3h.1m-17.1 1.5h.1m1.1 .5h.1m.3 1.2h.1m1.2-.2h.1m.3-1.1h.1m.3 3.3h.1m0-.6h.1m.4 .6h.1m1.8 .8h.1m1.7-4.5h.1m1 .3h.1m.6 2h.1m.3 1.3h.1m.1-1.5h.1m.3-2.3h.1m.2 4.2h.1m.5-3.4h.1m1.7 .1h.1m.1 0h.1m.7 1.8h.1m.3 .1h.1m2-2h.1m-12.2 5.3h.1m1.3-.1h.1" stroke="#f5b030" stroke-width="0.95" stroke-linecap="round" fill="none"/>
<path d="M593.7 72.1h.1m.9 1.1h.1m.5 .9h.1m.2-1.8h.1m2.4 .3h.1m1.6-1h.1m0 .8h.1m-.1 1.7h.1m1-1.3h.1m.4 1.8h.1m.8-1h.1m-.1-3.7h.1m.1-.1h.1m.5 5.2h.1m.6-5.5h.1m1.4-.3h.1m0 4.1h.1m.6-3.2h.1m.1 3h.1m.4-1.4h.1m1.2 1.6h.1m.3-3.9h.1m0 .8h.1m.2 1.9h.1m-.1-.7h.1m.1 .5h.1m-0-1.3h.1m.6 1.9h.1m.1-.7h.1m.1 .1h.1m.8 .4h.1m.1-.2h.1m0 .7h.1m-.1 1.7h.1m.2-.9h.1m-18.6 4h.1m.6-.8h.1m-.1 .5h.1m1.4 1.1h.1m.3-1.9h.1m3.6-1h.1m1.3 2.5h.1m.2 .3h.1m.2-.9h.1m.3-2.3h.1m.2 2.2h.1m.5-1.3h.1m.4 .5h.1m1.4 1.4h.1m.1 2.6h.1m-0-5.3h.1m0-.1h.1m.3 2.8h.1m0 .3h.1m.2 .8h.1m.2-.3h.1m0 .2h.1m1-.2h.1m.3 2.2h.1m.5-4.6h.1m.3-1.2h.1m1.1 .9h.1m-.1-.6h.1m.9 .8h.1m-.1 2.9h.1m-14.4 2.2h.1m.1 2.7h.1m.5 .7h.1m.2-2.1h.1m.2-1.6h.1m.6 2.5h.1m0-.9h.1m.4-1.3h.1m.7 3.1h.1m.1-.3h.1m.2-1.3h.1m0 1.2h.1m-.1-.7h.1m-.1 1.5h.1m2.4 .9h.1m.3 .9h.1m1.2-3h.1m2.3-.8h.1m.4-1.2h.1m.3-.3h.1" stroke="#f3a838" stroke-width="0.95" stroke-linecap="round" fill="none"/>
<path d="M607.5 67.9h.1m-14 6.7h.1m3.3-1.7h.1m.9-.2h.1m3.8 2.1h.1m-.1 0h.1m.6-3.9h.1m0 2.3h.1m-0-3h.1m1.6 1h.1m1 1.5h.1m1-1.1h.1m.2-2.5h.1m.1-.1h.1m.6 4h.1m.3-.2h.1m.4-1.4h.1m-13.7 4.5h.1m1.7 2.5h.1m.4-1.3h.1m1.2 1h.1m.8-2.6h.1m.3 2.7h.1m.2 1.1h.1m.5 1.5h.1m.8-5.4h.1m.1 .7h.1m.4-.4h.1m.6 3.9h.1m1.5 .4h.1m-.1-.7h.1m.2 1.3h.1m.8-2.7h.1m1.3-2.5h.1m3.4 1.4h.1m-12.4 7.3h.1m-0-2.6h.1m5.4 3.4h.1m.6-2.7h.1m1.6 4h.1m.6-3.9h.1m.9 2h.1m-8.9 3h.1" stroke="#f8c040" stroke-width="0.95" stroke-linecap="round" fill="none"/>
<path d="M564.5 86.5h.1m-2.3 4.8h.1m.2-1.7h.1m.9 0h.1m.4 .8h.1m-.1-2.6h.1m.2 3.5h.1m.4-3.9h.1m.1 .5h.1m.6-.5h.1m.2 4.3h.1m.5-3.2h.1m.6-1.1h.1m0 4.6h.1m.2-2.1h.1m.5 2.1h.1m-.1-2.3h.1m0 1.9h.1m.1-1.8h.1m.3 .7h.1m-.1 2h.1m0-3h.1m.1 2.5h.1m1-3h.1m3.6-.5h.1m2.2 .8h.1m.4-.2h.1m.4 .2h.1m2.3 2.1h.1m.1-.3h.1m2.7-.2h.1m-32.4 6.7h.1m8.9 1.1h.1m.9-1.1h.1m2-3.4h.1m1-1.2h.1m.6 3.1h.1m.4-2h.1m.7 1.3h.1m0 2.2h.1m.7-1.5h.1m.2 1.8h.1m.6 1h.1m1.1-1.6h.1m.9 .1h.1m.8 1.4h.1m.1-3.2h.1m1.1 2.8h.1m2.7-1.7h.1m1 2.2h.1m.7-1.4h.1m1.4-4.5h.1m.1 4.1h.1m.9-.9h.1m.5-1.3h.1m.4-.2h.1m2-1.1h.1m.6 2.2h.1m-31.9 5.5h.1m.8 .1h.1m1.2-.5h.1m1.3 1.5h.1m5.1-2.9h.1m.7 1.8h.1m.4 1.5h.1m.3-.4h.1m6.4-2.2h.1m.2 3.4h.1m.7-3.4h.1m.5 4h.1m0 .2h.1m.7-1.2h.1m.6-3.4h.1m0 3.1h.1m.9-1.7h.1m2.4-.3h.1m.3 1.9h.1m.9-.8h.1m.3-.4h.1m.3-.2h.1m.1 2.5h.1m1-4.7h.1m2-.1h.1m-.1 3h.1m1.7 .4h.1m-.1-2.4h.1m-11.8 4.9h.1m1 1.3h.1m2.6 1.1h.1m1.2-2.1h.1m3.1 3.3h.1m2-.8h.1m.4 2h.1m.1-2.3h.1m1.2 1.2h.1m.1 1h.1m.2-3.5h.1m-0 1h.1m.2-.6h.1" stroke="#f08048" stroke-width="0.95" stroke-linecap="round" fill="none"/>
<path d="M563.1 86.9h.1m-1.2 1.7h.1m.8-.5h.1m3.1 3.2h.1m.3-2.5h.1m1.3-.6h.1m1.3 4.6h.1m.2-2.8h.1m.2-2.5h.1m1.9 2.5h.1m.6-.4h.1m.6 2.7h.1m1-3.9h.1m2.2 2.6h.1m.3-.1h.1m.5-.4h.1m-.1-.5h.1m.7-2h.1m0 .3h.1m.4 3.6h.1m1.2-1.7h.1m-.1 1.4h.1m-25.5 5.4h.1m.1 1.4h.1m1-.7h.1m6-4.3h.1m.2 1.5h.1m.8 .5h.1m0 2h.1m-0-2.5h.1m.5 2.4h.1m0 0h.1m2.7-1.3h.1m-.1 2h.1m.8-.4h.1m.1-1.9h.1m.4-2.6h.1m.1 1.5h.1m.8 2.3h.1m1.5-.1h.1m-.1-.9h.1m3.2-2.6h.1m.5 .8h.1m.8-.7h.1m.6 1.6h.1m.2 2.9h.1m1.1-4.1h.1m.5-.2h.1m2.9 4h.1m.7-2.8h.1m.2 1h.1m-30.5 7.6h.1m1.5 0h.1m.9 .7h.1m.9-2.9h.1m.8-.1h.1m.3 .5h.1m5.1-1.3h.1m1.4-1.2h.1m-.1 .3h.1m.4 1.3h.1m0 .8h.1m.8-1h.1m-.1 2.6h.1m1.1 1.8h.1m.4-2.8h.1m-.1 1.8h.1m.8-2.4h.1m1.9 2.5h.1m2.8-2.6h.1m.2-.9h.1m1.1 3.3h.1m.1-4.3h.1m3.3 .8h.1m0 4.1h.1m-0-.2h.1m2.2-3.3h.1m.6 0h.1m.4 4h.1m.2-2.1h.1m-.1 .4h.1m.1 .3h.1m2.1-2.9h.1m-17.3 5.1h.1m1.6 .2h.1m.9 .6h.1m3.7 .9h.1m1.1-.4h.1m.4-.4h.1m2 1.9h.1m4.8 .7h.1m.4-2.7h.1m-.1 1.7h.1m.4-1.2h.1" stroke="#e86458" stroke-width="0.95" stroke-linecap="round" fill="none"/>
<path d="M610.6 98.6h.1m.2 .2h.1m1.4 .1h.1m-5.7 3.5h.1m.7 .8h.1m.1-2.3h.1m1.2 2.6h.1m3.3-2.6h.1m.1 2.8h.1m-9.8 4.6h.1m1.3 2.2h.1m.2-5h.1m1.2 1.4h.1m1-.8h.1m.4 2.1h.1m.9-.3h.1m1.8 .5h.1m.8 .5h.1m.1-1.8h.1m.5 1.8h.1m-.1-.9h.1m-7.7 3.1h.1" stroke="#f0d030" stroke-width="0.95" stroke-linecap="round" fill="none"/>
<path d="M586 92.5h.1m2.6 5.9h.1m.9-3h.1m.5 2.9h.1m1.4 .1h.1m.8-.1h.1m.9 .4h.1m2.2-2.5h.1m.1 .3h.1m5.4 2.4h.1m-15.9 1.7h.1m1 3.5h.1m4.4-2.1h.1m-.1-2.4h.1m.5 3.8h.1m.6-3.9h.1m1.6 1.2h.1m0 .3h.1m0-1.5h.1m.5 .6h.1m1.4 1.5h.1m2.1-1.4h.1m.1 1.1h.1m.2 .8h.1m1.1 1.9h.1m.1-3.3h.1m0-.1h.1m.7 4.2h.1m-16.6 2.5h.1m1.6-.7h.1m.2 2.7h.1m.3-4.2h.1m.2 4.4h.1m.3-3.8h.1m.6-.5h.1m.2 1.2h.1m.1 .5h.1m.2 1.5h.1m.7-1h.1m2.8-2.3h.1m.8 5.8h.1m.7-4.2h.1m.2 .4h.1m.9 2.6h.1m.4-4.4h.1m.1 .4h.1m.2 2.5h.1m1.2-.8h.1m.7 .5h.1m2.2-.1h.1m-13.8 3.5h.1m4.5 .4h.1m1.2 0h.1m3.6-.1h.1" stroke="#f09038" stroke-width="0.95" stroke-linecap="round" fill="none"/>
<path d="M561.9 86.3h.1m-13.7 3h.1m.6 3.2h.1m.3-3.1h.1m2.2 1.5h.1m.9-1.6h.1m.5-1.4h.1m2.1 0h.1m.9 3.7h.1m1.7-1.9h.1m2.1 .2h.1m.4 .8h.1m.3 .3h.1m-12.8 4h.1m3.3-.6h.1m.1 2.3h.1m.5-1.1h.1m1.6 .7h.1m.3-2.2h.1m3-1h.1m.6 1.5h.1m.6 .7h.1m.9 .2h.1m.5-1.8h.1m0 1.8h.1" stroke="#d04a70" stroke-width="0.95" stroke-linecap="round" fill="none"/>
<path d="M548.1 91h.1m1-.6h.1m2.2-.2h.1m.6 2.3h.1m1.4-2.7h.1m-0-1h.1m.2 4h.1m.2-1.4h.1m1-1.5h.1m.3-2.7h.1m.4 1.6h.1m1.9 1.5h.1m1.1 2.5h.1m.4-1.8h.1m1.4-3.1h.1m.3 1.5h.1m-11.9 4.8h.1m.3 2.3h.1m3.6-2.6h.1m.5-.7h.1m.3 1h.1m1.3-.6h.1m.4 2h.1m.3-.3h.1m.9-2.3h.1m.3 1.4h.1m.6 2.1h.1" stroke="#b83a88" stroke-width="0.95" stroke-linecap="round" fill="none"/>
<path d="M585.4 94.9h.1m.1-1.3h.1m2.6-.4h.1m1.6 2.1h.1m.7 0h.1m1 1.7h.1m.2 .3h.1m-.1-.8h.1m-0-.5h.1m0 2.8h.1m.3-.6h.1m.8-1h.1m1.4-.3h.1m.6-.5h.1m.6 2.2h.1m3.8-.1h.1m0 .5h.1m0-.4h.1m-10.8 6.3h.1m.3-3.9h.1m-.1 .3h.1m1.5 2.2h.1m1.2-2.3h.1m.9 1.5h.1m0-3.2h.1m1.7 2.4h.1m.5 2.7h.1m.5-3.4h.1m.1 2.9h.1m.3-1.5h.1m.5 1.6h.1m1.1-2.7h.1m0 .7h.1m1.7-3.1h.1m1.1 2.3h.1m-17.7 6.3h.1m.2 2.6h.1m1.4-2h.1m5.7-.3h.1m.1-2.2h.1m.4 .4h.1m.1 .5h.1m2.9 3.8h.1m.1-2.1h.1m.7-3.2h.1m.8 4.8h.1m.2-1.9h.1m.2-2h.1m1.1-1.1h.1m.5 3h.1m1.7 2.9h.1m-53.4 4.5h.1m6.2-1h.1m.1 1.2h.1m.3 .8h.1m1 .4h.1m1.7-.6h.1m34.5-3.5h.1m2.1 .3h.1m.9-.7h.1m-0-.5h.1m5.4-.7h.1m-54.5 11.4h.1m1.5-5.3h.1m.2 5.7h.1m.1-2.3h.1m0-1.5h.1m.1 .7h.1m.8 1.2h.1m.6-.9h.1m0 .8h.1m1.7-3.8h.1m.7 3.2h.1m.7 .5h.1m2.8 1.9h.1m.1-1.6h.1m1.1 1.1h.1m1.8-3.2h.1m.3 3.2h.1m.6-1.2h.1m1.3-.8h.1m1.1 0h.1m.3 .9h.1m-0 1.6h.1m.2-3.3h.1m.3 2.4h.1m0-2.9h.1m1.1-.2h.1m2.4 3.8h.1m1.3-1.6h.1m-23.2 7.2h.1m1.1-.7h.1m.4-2.8h.1m0-.8h.1m1.3 1.5h.1m.7 1.4h.1m.4-1.2h.1m.8-.3h.1m1.5 2.4h.1m.1-2.4h.1m.2-1.3h.1m-.1 .7h.1m1.3 1.6h.1m1.5 .9h.1m2-3.5h.1m.4 4.1h.1m.7-.1h.1m.5 .3h.1m2.3 .4h.1m.4-2.9h.1m2.4 2.4h.1m.1-2h.1m.3 2.5h.1m.1-4.5h.1m.5 1.5h.1m1-.4h.1m.8 3.2h.1m-17.3 1.4h.1m1.3 0h.1m2.7 0h.1m7.5-.5h.1" stroke="#f3b038" stroke-width="0.95" stroke-linecap="round" fill="none"/>
<path d="M563.5 86.2h.1m6.2 .6h.1m.2 0h.1m-7.4 .3h.1m0 5.1h.1m0 0h.1m.8-1.3h.1m1 1.2h.1m.2-4h.1m.3 3.6h.1m.1-.7h.1m.1-2.8h.1m1.6-.5h.1m.9 1.8h.1m.4-1.5h.1m.5 2h.1m.3 1.6h.1m1.2-3.6h.1m1.6 1.5h.1m1.6-1.5h.1m2.2 4.4h.1m2.1-.5h.1m-29.4 6h.1m2.3 .3h.1m3.7 .5h.1m.8 .2h.1m5.1-5.6h.1m0 1.8h.1m.8-.1h.1m0 1.2h.1m1.1 .3h.1m.2-1.6h.1m5.2 0h.1m-.1-1.1h.1m.9 2.9h.1m.2 2.3h.1m1.7-1.5h.1m.1-4.2h.1m3.4 1.5h.1m-.1 1h.1m1 3.2h.1m0-4.1h.1m.7-1.9h.1m.3 4h.1m.1-1.1h.1m-.1 1.7h.1m1.4 .8h.1m1.1-1.1h.1m1.2-1.5h.1m.7 2.2h.1m-30.7 5.9h.1m.3-4.3h.1m1 .7h.1m3.4-.6h.1m.2 .1h.1m.2 1.9h.1m.9 1.9h.1m1.7 .5h.1m.5-2.4h.1m0 1.9h.1m.4-4.5h.1m1 3.2h.1m.3 1.3h.1m0-3.5h.1m.3 0h.1m.1 2.8h.1m.1-2.7h.1m1.5 .9h.1m.7-1.2h.1m.8 2.9h.1m1.1 2h.1m1.2-3.7h.1m.1-.9h.1m.9 1.1h.1m1.5-.4h.1m0 .5h.1m.1 3.3h.1m1.5-.6h.1m3.1-3.9h.1m.9 1.3h.1m.4 2h.1m-0-2.8h.1m1 .9h.1m.4 .5h.1m1.2 1.3h.1m.3 .4h.1m0-4.2h.1m-17.4 6.1h.1m.3 0h.1m3.2 .2h.1m8.1 3.3h.1m0-2.6h.1m1.4-.7h.1m.1 3.7h.1m.6-1.8h.1m.6 1.7h.1m.1-2.1h.1m.6 2.4h.1m.1-1.6h.1" stroke="#ec7050" stroke-width="0.95" stroke-linecap="round" fill="none"/>
<path d="M605.7 98.1h.1m-2.6 5.9h.1m.9-4.1h.1m-0 4.9h.1m.7-4.2h.1m.6 1.4h.1m2.6-2.2h.1m-.1 1.5h.1m.1-.6h.1m1.5 3.2h.1m.5-3.6h.1m-.1 4.3h.1m1.5-.5h.1m-9.2 3.4h.1m.1-2.3h.1m.6 3.5h.1m.2-.4h.1m.9 1.4h.1m.2-1.5h.1m.7-2.5h.1m.8 1.3h.1m1.2-1.2h.1m.2 2.3h.1m.7 2.3h.1m.2-2.7h.1m.2-1.6h.1m0 .5h.1m-60.8 8.6h.1m2.2 1h.1m3.4-2h.1m-.1 1.3h.1m1.3-1.1h.1m.5 2h.1m47.4-5.3h.1m1.7 1.1h.1m-57.3 5.6h.1m0 3.9h.1m1.6-2.1h.1m.8-1h.1m.1 1h.1m.5-.4h.1m.1 .8h.1m.6-2.2h.1m.1 .2h.1m.2 .7h.1m.7-.7h.1m.5 4.9h.1m.2-1.7h.1m0-3h.1m.1 4.8h.1m-.1-3.5h.1m1.7-.1h.1m.9 .2h.1m0 2.1h.1m.7-.6h.1m.9 .9h.1m1.8-4.6h.1m1.2 4.2h.1m.1 1.2h.1m.4-2.2h.1m1-1h.1m.8-1.2h.1m.2 2h.1m.4 .2h.1m.4 1.2h.1m2.3-1.6h.1m.5 .6h.1m.3 .1h.1m-22.3 4h.1m1.2-.6h.1m.2 .7h.1m0 0h.1m1.2-1.7h.1m.8 3.6h.1m.5-.6h.1m0-1.9h.1m.3 4h.1m2-3.3h.1m1.1 2.4h.1m-0-3.5h.1m0 4.9h.1m-.1 0h.1m1.4-5.7h.1m.1 3h.1m.3-.4h.1m1.3-.3h.1m0-.6h.1m1.7-1.8h.1m1.3 5.6h.1m-0-.6h.1m.3-4.3h.1m-.1 1.6h.1m.4 2.5h.1m.2-.8h.1m.5-1.5h.1m.6 1h.1m.9-.3h.1m.5 1.6h.1m0-.1h.1m.1-1.6h.1m.8-1.8h.1m.8 2.1h.1m1.8-1.1h.1m.8-1.8h.1m-19.7 6h.1m2-.4h.1m4.6 .7h.1m9.5 .1h.1" stroke="#f5c030" stroke-width="0.95" stroke-linecap="round" fill="none"/>
<path d="M553.1 91.1h.1m.4-1h.1m.2-1.1h.1m1.1 1.7h.1m2.2 .2h.1m.6 1h.1m0 .9h.1m1-3.6h.1m.7 1.6h.1m.2-1.3h.1m.9-1.9h.1m-.1 5.3h.1m.5-3.1h.1m-11.6 3.7h.1m1.2-.3h.1m.3 .2h.1m-0-.3h.1m3.5 1.9h.1m2 1h.1m.2 0h.1m.2 1h.1m1.3-2.6h.1m.9 .9h.1" stroke="#c8407a" stroke-width="0.95" stroke-linecap="round" fill="none"/>
<path d="M604.3 98.7h.1m4.1-.6h.1m2.6 0h.1m-7.6 3.6h.1m1.4 1.3h.1m.1 .1h.1m1.1-3.5h.1m-.1 2h.1m0-.1h.1m1.5-2.1h.1m2.1 4.1h.1m.7 .6h.1m-8.3 4.9h.1m.4-1.5h.1m.1 2.3h.1m.2-4.3h.1m.2 1.6h.1m.5 3.6h.1m3.7-3.6h.1m1.1-1.2h.1m.4 3.5h.1m.8-1.5h.1m.1-1.2h.1m.4 .5h.1m.5 .1h.1m-8.2 4.3h.1m3.8 .3h.1" stroke="#eee040" stroke-width="0.95" stroke-linecap="round" fill="none"/>
<path d="M585.7 97.6h.1m.6 .5h.1m.1 .3h.1m.4-2.4h.1m.8-.4h.1m.5-1.3h.1m2 3h.1m1.6-2.4h.1m1.1 .7h.1m1.1 3.1h.1m1-.6h.1m1.9 .9h.1m4.7-.2h.1m-17.7 4.1h.1m.3 1.8h.1m.9-3.5h.1m1-.6h.1m2.7 3.5h.1m1-2h.1m0-1.2h.1m.1-1.2h.1m.6 2.5h.1m1.2-2.7h.1m0 .9h.1m.1-.7h.1m.1 .4h.1m.6 4.8h.1m1-1.2h.1m.1-4.1h.1m.2 1.5h.1m.1 1.4h.1m.4-2.2h.1m1.4 4.3h.1m.2-4.5h.1m2.6 4.7h.1m.1-3.7h.1m.1 2.9h.1m.3-3h.1m0 1.7h.1m-17.6 4.2h.1m.2 3.1h.1m1.1-.8h.1m.8 .2h.1m1 .5h.1m1.6-2.4h.1m.2 1.2h.1m1.3-2h.1m-.1 3.9h.1m1.8-2.1h.1m.6-.4h.1m1.9 1.4h.1m.2-2.1h.1m.3 3.6h.1m1.5-5.7h.1m1.2 2.8h.1m.1 1.6h.1m1.8-4.3h.1m-12.9 6.3h.1m.2-.4h.1m3.2 1.3h.1m1-.2h.1m.3 1h.1m3.9-1.6h.1m1.9 1.4h.1m1.8-.6h.1" stroke="#f5a030" stroke-width="0.95" stroke-linecap="round" fill="none"/>
<path d="M552.7 114.6h.1m-0 1.5h.1m1.4-.5h.1m1.9 .7h.1m1.6-1.8h.1m.3 1.4h.1m6.2 .8h.1m-16.8 2.6h.1m1.3-.5h.1m1.8 2.6h.1m1.3-3.6h.1m1.5 4.7h.1m1.1 0h.1m-.1-3.9h.1m.4 2h.1m.5-2.4h.1m-.1 2.4h.1m.1 .7h.1m.4-1.8h.1m3.1 1.3h.1m.1 .5h.1m.3-3.3h.1m1.5 4.7h.1m.7-2.2h.1m.9 1.7h.1m0-5.1h.1m1 .6h.1m-0 3.1h.1m1.2-3.4h.1m0 1.8h.1m-.1-1h.1m.9 1.6h.1m.2 2.2h.1m-20.5 2h.1m.3 1.3h.1m1.7-.9h.1m0 4.2h.1m.5-3.6h.1m.6 3.7h.1m.4-.3h.1m.6 .2h.1m.3-5.1h.1m.1 .9h.1m-.1 3.3h.1m1 1.2h.1m.1-2.4h.1m.6-1h.1m.1 .1h.1m-.1 2.7h.1m.6-5.2h.1m1.7 2.6h.1m.6-2.5h.1m.3 3.4h.1m.6-.7h.1m.4 2.1h.1m0-.5h.1m0-2.4h.1m.3 2h.1m.5 .1h.1m1.4 .5h.1m.1-1.3h.1m.3-2.5h.1m0 3.9h.1m0-4.7h.1m1.8 3.5h.1m1 2.3h.1m.9-2.4h.1m.4-.6h.1m.5 2.5h.1m2.2-2.5h.1m-.1 0h.1m2.3-.7h.1m.1-2h.1m.5 .2h.1m-24.6 6h.1m9.1 .5h.1m1.6-.9h.1m7.3 .3h.1m2.9 .1h.1" stroke="#f5d030" stroke-width="0.95" stroke-linecap="round" fill="none"/>
<path d="M545.4 115.7h.1m.5-.9h.1m.2 .5h.1m-3.2 3.1h.1m1 2.5h.1m.8-3.1h.1m.2 4.1h.1m-.1-2.3h.1m1.8 2.4h.1m-1.5 2.8h.1m0-1.4h.1m0 .6h.1m.6 .8h.1m.4 1.2h.1m.5 1.5h.1m3.3 3h.1m1.1 1.2h.1m1.6-.1h.1m-.1-1.1h.1m.9 2h.1m-.1 .2h.1m0-.8h.1m1.1 1.4h.1m.1 .4h.1m0-1.2h.1m.4 1.6h.1m.3 .3h.1m1.5-4.3h.1m.1 4.2h.1m-.1-2.2h.1m.2 0h.1m.1-.9h.1m.6-.9h.1m1 3.2h.1m0 .5h.1m.1-3.5h.1m2.5-.2h.1m.2 0h.1m1.1 .1h.1m1.6-.1h.1m2.4 0h.1" stroke="#f0e020" stroke-width="0.95" stroke-linecap="round" fill="none"/>
<path d="M549.8 116.8h.1m5.9-1.2h.1m.3 .3h.1m1.6-1.4h.1m1 2.2h.1m1-1.4h.1m3.3 1.6h.1m-15.4 5.4h.1m.3-3.3h.1m0 1.1h.1m-.1-1.6h.1m.8 .9h.1m.3-1.7h.1m.9-.4h.1m.8 5.3h.1m1.2-3.7h.1m.4 3.9h.1m-.1-4.3h.1m.5-.6h.1m0 2.5h.1m-.1-.8h.1m1.2 1.1h.1m.4-.6h.1m4-1.2h.1m.9-1.7h.1m.1 3.5h.1m.2 .8h.1m.4 .7h.1m0-5.1h.1m.1 5.1h.1m1.4-.5h.1m.2-2.4h.1m.1-.4h.1m.1-1.8h.1m0 2.1h.1m0-2.2h.1m.7 4.1h.1m0-3.2h.1m1.2 5h.1m.5-1.6h.1m.9 1.1h.1m.6-2.5h.1m1.2 2.7h.1m.2-.3h.1m1 .5h.1m-20.2 5.5h.1m.2-2.5h.1m.4-.6h.1m.6 3.5h.1m.2-4.5h.1m.4 1.1h.1m0-.4h.1m.1 3.4h.1m-.1 .4h.1m.5-1.7h.1m-.1-3.6h.1m.2 .7h.1m1.2-.3h.1m.7 3.2h.1m1.3 .9h.1m1.2-1.8h.1m1 2h.1m0-3.2h.1m2.5 1.5h.1m-0 .6h.1m.1 1.3h.1m.6 .5h.1m.2-1.4h.1m.4-1.4h.1m0 1.2h.1m0-4.1h.1m.5 1.5h.1m.3 .1h.1m-0 4.1h.1m0-3.9h.1m.1-.6h.1m1.5-1.2h.1m-0 2.3h.1m0 1.1h.1m.2 2.3h.1m.3-1.3h.1m-.1-.2h.1m2.3 1.6h.1m-21.8 .4h.1m7.9 .3h.1m7-.3h.1m1-.1h.1m2.9 .1h.1m2.1 .1h.1" stroke="#f0a838" stroke-width="0.95" stroke-linecap="round" fill="none"/>
<path d="M544.2 115.9h.1m-0-1.7h.1m2.7 1h.1m0 .5h.1m-2.5 2.5h.1m-.1 4.3h.1m1.4-1.9h.1m.4-3.5h.1m.2 1.7h.1m-.1 3.7h.1m-1 2.1h.1m-0 1.5h.1m.3-1.7h.1m.5 2.1h.1m0-.4h.1m0-.3h.1m7.3 4.7h.1m.6-.2h.1m.5 1.5h.1m.9 2.1h.1m.5-2.2h.1m4.7-1h.1m.4 .8h.1m2.4-.5h.1m.7 0h.1m1.5 .2h.1m2.9-1.2h.1" stroke="#f2d82a" stroke-width="0.95" stroke-linecap="round" fill="none"/>
<path d="M614 78.2h.1m5.8 2.3h.1m.1-.9h.1m6.8-1.1h.1m.8 2.4h.1m-10.2 .2h.1m4.2 .1h.1m5.7 .1h.1" stroke="#f5c040" stroke-width="0.95" stroke-linecap="round" fill="none"/>
<path d="M611.6 79.5h.1m3.8-1.7h.1m1.1 .9h.1m-.1 1.5h.1m-0-3h.1m.5 .7h.1m.1 1.8h.1m.5-2.7h.1m2.4 3.5h.1m.7-1.7h.1m2.4-1.5h.1m.3 2.5h.1m.2 0h.1m2-1.9h.1m-14.7 3.8h.1m2.7-.3h.1m7-.3h.1" stroke="#f0b040" stroke-width="0.95" stroke-linecap="round" fill="none"/>
<path d="M588.7 43h.1m-36.3 2.7h.1m4.6 3.2h.1m35.2-1.5h.1m-32 8.9h.1m13.5-2.7h.1m14.7 2.6h.1m6.3-4.7h.1m.4 3.7h.1m-52.1 1.8h.1m3.3 3.8h.1m16.6 1h.1m2.2-.2h.1m13.3 .9h.1m-24.1 3.4h.1m2-.6h.1m3.7-2h.1m8.3 9.8h.1m2.1-1.8h.1m4.1 2.9h.1m10.8-4.2h.1m-38.2 6.4h.1m37.5 12h.1" stroke="#a03090" stroke-width="0.95" stroke-linecap="round" fill="none"/>
<rect x="531.0" y="40.4" width="80.8" height="47.9" fill="none" stroke="#666" stroke-width="1.2" stroke-dasharray="4,3"/>
<path d="M561.4 37.3 L551.8 57.4 C555 56.8 566 52.5 573.6 50.4 C577 49 582 47.2 586.8 50.4 C590.8 48.5 590 45 588.1 44.3 C584.5 42 582 39 582.8 36.4 C583.5 34.6 585.8 34 584.6 32.4 C583.5 31.6 581.5 32 580.2 32" fill="none" stroke="#1a1a1a" stroke-width="1.3"/>
<path d="M586.8 50.4 C586 53 587 55.5 589 57.2" fill="none" stroke="#1a1a1a" stroke-width="1.3"/>
<polygon points="588.0,54.6 596.2,59.2 588.6,61.4" fill="#1a1a1a"/>
<circle cx="573.6" cy="50.4" r="1.8" fill="#1a1a1a"/>
<circle cx="586.8" cy="50.4" r="1.8" fill="#1a1a1a"/>
<circle cx="588.1" cy="44.3" r="1.8" fill="#1a1a1a"/>
<text x="533.4" y="40.0" font-size="10" font-weight="bold" fill="#222">RG1</text>
<text x="579.8" y="70.6" font-size="10" font-weight="bold" fill="#222">RG-PC</text>
<defs><linearGradient id="plasma" x1="0" y1="0" x2="0" y2="1"><stop offset="0" stop-color="#f7e625"/><stop offset="0.15" stop-color="#f8b83a"/><stop offset="0.35" stop-color="#eb6d5c"/><stop offset="0.55" stop-color="#c53a88"/><stop offset="0.72" stop-color="#8c2a9c"/><stop offset="1" stop-color="#2b2a86"/></linearGradient></defs>
<rect x="647.10" y="71.90" width="10.10" height="45.90" fill="url(#plasma)"/>
<text x="647.6" y="66.5" font-size="7.0" fill="#222">pseudotime</text>
<text x="659.7" y="76.5" font-size="7.2" fill="#222">30</text>
<text x="659.7" y="90.8" font-size="7.2" fill="#222">20</text>
<text x="659.7" y="105.5" font-size="7.2" fill="#222">10</text>
<text x="659.7" y="119.4" font-size="7.2" fill="#222">0</text>
<path d="M515 141.8 L515 121" stroke="#111" stroke-width="1" fill="none"/>
<polygon points="512.8,122.5 515,117.6 517.2,122.5" fill="#111"/>
<path d="M515 141.8 L536 141.8" stroke="#111" stroke-width="1" fill="none"/>
<polygon points="535,139.6 540,141.8 535,144" fill="#111"/>
<text x="511.0" y="129.5" font-size="5.8" text-anchor="middle" fill="#222" transform="rotate(-90 511 129.5)">UMAP2</text>
<text x="516.0" y="150.4" font-size="5.8" fill="#222">UMAP1</text>
<text x="0.5" y="185.8" font-size="10.2" font-weight="bold" fill="#111">D</text>
<rect x="32.20" y="181.00" width="119.90" height="10.80" fill="#8c6bb0"/>
<text x="89.2" y="189.7" font-size="9.4" text-anchor="middle" font-weight="bold" fill="#1a1a1a">cyNESC</text>
<rect x="158.40" y="181.00" width="119.80" height="10.80" fill="#3a72be"/>
<text x="217.3" y="189.7" font-size="9.4" text-anchor="middle" font-weight="bold" fill="#1a1a1a">MES</text>
<rect x="283.20" y="181.00" width="119.70" height="10.80" fill="#62aee0"/>
<text x="348.2" y="189.7" font-size="9.4" text-anchor="middle" font-weight="bold" fill="#1a1a1a">PC</text>
<rect x="9.60" y="193.80" width="15.80" height="115.80" fill="none" stroke="#222" stroke-width="1.0"/>
<text x="20.8" y="251.5" font-size="9.4" text-anchor="middle" fill="#222" transform="rotate(-90 20.8 251.5)">RG-to-PC programs</text>
<rect x="31.60" y="194.00" width="120.30" height="115.80" fill="none" stroke="#222" stroke-width="1.0"/>
<rect x="157.30" y="194.00" width="120.30" height="115.80" fill="none" stroke="#222" stroke-width="1.0"/>
<rect x="283.20" y="194.00" width="120.30" height="115.80" fill="none" stroke="#222" stroke-width="1.0"/>
<line x1="32.60" y1="314.80" x2="186.40" y2="314.80" stroke="#333" stroke-width="0.9"/>
<line x1="249.10" y1="314.80" x2="395.00" y2="314.80" stroke="#333" stroke-width="0.9"/>
<polygon points="393.5,312.6 397.6,314.8 393.5,317.0" fill="#333"/>
<text x="191.8" y="319.9" font-size="9.7" fill="#222">Pseudotime</text>
<text x="405.9" y="232.8" font-size="7.3" fill="#222">Signature</text>
<text x="405.9" y="240.9" font-size="7.3" fill="#222">Score</text>
<defs><linearGradient id="sig" x1="0" y1="0" x2="0" y2="1"><stop offset="0" stop-color="#3b3f9a"/><stop offset="0.3" stop-color="#5b4fa6"/><stop offset="0.65" stop-color="#9d8cc4"/><stop offset="1" stop-color="#dcd8e8"/></linearGradient></defs>
<rect x="407.80" y="251.10" width="7.10" height="50.30" fill="url(#sig)"/>
<text x="417.4" y="256.4" font-size="7.0" fill="#222">high</text>
<text x="417.4" y="303.6" font-size="7.0" fill="#222">low</text>
<defs><filter id="bl1" x="-20%" y="-20%" width="140%" height="140%"><feGaussianBlur stdDeviation="1.2"/></filter></defs>
<g filter="url(#bl1)">
<polygon points="59.3,213.8 64.5,210.9 70.4,207.9 74.8,210.2 80.7,210.2 82.0,222.0 80.0,232.0 74.0,236.0 68.0,232.0 62.0,226.0 59.5,219.0" fill="#d6cdea" opacity="0.55"/>
<polygon points="80.7,210.2 86.6,208.7 93.9,209.4 98.3,213.8 99.8,219.7 99.8,225.6 96.9,230.0 93.2,231.5 88.0,234.5 83.6,236.7 80.0,232.0 82.0,222.0" fill="#b4a8da" opacity="0.55"/>
<polygon points="63.0,231.0 70.0,230.0 76.0,236.0 74.0,244.0 71.8,247.7 68.0,244.0 64.5,238.0" fill="#dcd4ec" opacity="0.55"/>
<polygon points="82.0,242.0 88.0,241.8 96.9,253.6 93.0,262.0 88.0,268.3 82.0,262.0 79.2,253.6" fill="#ddd6ed" opacity="0.55"/>
<polygon points="95.4,236.0 102.0,234.5 108.6,236.0 108.6,246.2 102.0,246.2 96.0,244.0" fill="#d2c8e8" opacity="0.55"/>
<polygon points="107.0,236.0 112.0,233.7 119.0,234.0 119.0,240.0 113.0,243.3 108.0,243.0" fill="#9a8ecc" opacity="0.55"/>
<polygon points="98.3,251.0 101.0,251.0 112.0,260.5 120.0,267.5 118.5,270.5 110.0,265.5 97.5,254.0" fill="#d8d0ec" opacity="0.55"/>
<polygon points="43.8,252.1 49.7,249.2 57.1,249.9 64.5,249.2 70.4,250.7 69.6,256.6 67.4,263.9 71.8,265.4 64.5,271.3 58.6,277.2 55.6,284.5 54.1,290.4 51.2,284.5 46.8,277.2 42.4,268.3 40.9,261.0 41.6,255.1" fill="#d8cfea" opacity="0.55"/>
<polygon points="68.0,232.0 84.0,236.0 96.0,232.0 100.0,236.0 98.0,248.0 92.0,250.0 84.0,246.0 76.0,248.0 70.0,244.0" fill="#f0ecf6" opacity="0.55"/>
</g>
<path d="M89.1 206.8h.1m17.9-1.3h.1m-47.4 3.7h.1m6.9 2.9h.1m.7-2.1h.1m.8 .6h.1m.5 2.2h.1m.3-.6h.1m.9-3.7h.1m.5 2.5h.1m1-1.3h.1m1-.1h.1m1.1 1.3h.1m1.2 0h.1m.1-.3h.1m.1 2.3h.1m.4-1.6h.1m.3 .6h.1m.1 1h.1m.2-.6h.1m.3-1.8h.1m1.1 1.1h.1m1.6 1.2h.1m-0 0h.1m9.5-3.6h.1m-30.5 8.9h.1m.8-4.2h.1m.4-.1h.1m1.6 .6h.1m.2 3.7h.1m0-2.5h.1m-.1-.8h.1m-0 .6h.1m1.2-1.1h.1m.3 .6h.1m.5 1.6h.1m.3-.7h.1m1.4-1.2h.1m.7 2.4h.1m.6-3.1h.1m.7 3.4h.1m.3-2.2h.1m1.4-2.1h.1m.1 1h.1m.1 4.7h.1m1.3-3.8h.1m.5 2.2h.1m.3 1.7h.1m-.1-1.5h.1m.9-2.1h.1m.4 2.6h.1m-0-.6h.1m.2-2h.1m.9 1.2h.1m-.1-2.9h.1m-0 3.3h.1m.1 1.8h.1m1.4-2.3h.1m.2-1.5h.1m-.1-.2h.1m.4 .9h.1m.4 1.6h.1m.1 1.1h.1m10.1-2.7h.1m25.9 1.9h.1m-55.1 4h.1m1.2 .8h.1m-0-1.2h.1m.4-.1h.1m.2 1h.1m.1 .3h.1m.5 .5h.1m.3-3.4h.1m.8 5.6h.1m2-5.6h.1m-.1 5.4h.1m.1-.8h.1m-0-4.4h.1m.1 1.1h.1m.7-.2h.1m1.1 3.4h.1m.6-3.5h.1m.2 4.4h.1m.6-2.8h.1m.2 2.3h.1m.1 .5h.1m-0-2.7h.1m-.1-2.7h.1m1.6 3.4h.1m.4 1.6h.1m.6-2.7h.1m.5 3.3h.1m-.1-5h.1m.2 4.1h.1m-0 .4h.1m-0-3.9h.1m.5 4.2h.1m.2-3.5h.1m.7 2.1h.1m.5 .8h.1m.1-.3h.1m.7-.9h.1m.9-.7h.1m31.1-2.3h.1m-48.4 6.3h.1m.2 2h.1m-.1-3h.1m-.1 2.9h.1m.1-.4h.1m0 .4h.1m-0-2h.1m.1 1h.1m3.1-1.5h.1m.6 1.7h.1m1 3.4h.1m.5-2.3h.1m.1-2.7h.1m.2 5h.1m.4-2.8h.1m.5-2.1h.1m.4 2.1h.1m-0 .9h.1m.1-1.6h.1m1-.7h.1m.3 2h.1m-0-1.4h.1m.8-1.4h.1m1.2 2.2h.1m-0-2.6h.1m.3 1.7h.1m.7 1.3h.1m1.1-2.4h.1m-0-.3h.1m.4 .1h.1m-.1 3.5h.1m.3-3.4h.1m-.1 3.8h.1m1.5 .8h.1m1.9-1h.1m1.6 .9h.1m8.6 .4h.1m.8-1.2h.1m-31.6 6.5h.1m.1 .8h.1m.4-.7h.1m1.1-2.6h.1m.7-2.1h.1m1.5 .2h.1m.9 3.8h.1m.7 1.5h.1m1-5.2h.1m.7 2.5h.1m.3 .6h.1m.9 1.1h.1m.5 .3h.1m.6 .5h.1m.1-3.3h.1m0 1.4h.1m.2 .8h.1m3.1-3.4h.1m1.3-.8h.1m0 .5h.1m4.6 2.9h.1m.5 0h.1m.6-.2h.1m-.1-.1h.1m.7-.1h.1m.7-.6h.1m1.3 1.3h.1m.5-3h.1m1.1 .5h.1m.4-.8h.1m.3 .2h.1m.3 2.3h.1m2.3 2h.1m.8 .4h.1m.2-4.5h.1m1.1 4.4h.1m4.1-.7h.1m-.1 .8h.1m.2-.9h.1m.4-.3h.1m3.8 1.2h.1m-41.6 1.5h.1m.3-.7h.1m1 .2h.1m3.8 3.4h.1m.1 .9h.1m.7-1.9h.1m1.4-1.3h.1m6.1 2.6h.1m1.2-3.4h.1m2.3 3.8h.1m-0 .4h.1m.9-4h.1m.6 1.2h.1m4.6 2.8h.1m4.8-4h.1m3 2.3h.1m.3 .1h.1m1-2.3h.1m.3 4.2h.1m1.9-1.5h.1m-.1-2.2h.1m-0 2.1h.1m.8-.2h.1m.2 .7h.1m.4-1.7h.1m.5 .5h.1m.5 1h.1m.2-4h.1m1.8 5.5h.1m10.7-.3h.1m-55.8 3.7h.1m9.3-1.8h.1m.8 .9h.1m.9-1.3h.1m.7 0h.1m4.2 1.9h.1m.5 1.5h.1m-0-.1h.1m1.5-.2h.1m1.2-.1h.1m.3-1.8h.1m1.1 .2h.1m2 3.5h.1m1.8-1.6h.1m.9-1.1h.1m.4-.2h.1m1-2.5h.1m.1 4.3h.1m.1-.2h.1m.7-2.2h.1m.2 3.4h.1m-0 .2h.1m1.5-3.5h.1m5.9-1.8h.1m.2 .3h.1m2.2-.5h.1m.4 0h.1m.1 1.8h.1m2-.5h.1m.1 .6h.1m.8-1.1h.1m18.4 4.7h.1m-79.2 3h.1m1.6-.5h.1m.8 .9h.1m0-1.1h.1m2.5-.2h.1m.5 1.8h.1m.2-1.3h.1m-0-1.5h.1m-.1-.4h.1m.3 5.2h.1m.1-2.6h.1m0-.1h.1m.1 2h.1m-0 .2h.1m0 0h.1m2.5 .6h.1m.1-4h.1m-0 0h.1m-.1 2.1h.1m.1 .4h.1m.9-3.3h.1m0-.2h.1m1.3 .5h.1m.3 3.2h.1m1-2.3h.1m-.1 3h.1m.7-1.4h.1m0-1.7h.1m.2 1.2h.1m6.6-.8h.1m1.2 2.6h.1m1.2-2.9h.1m11.6-1.1h.1m-0-.5h.1m.3 .6h.1m.8 4.6h.1m.6-5.4h.1m.4 4h.1m.3-.8h.1m1-2.9h.1m0 3h.1m1.3 .8h.1m1.2 1.3h.1m.8-2.6h.1m1 2.1h.1m.3-5.4h.1m-0 5.8h.1m.7-2.1h.1m.3-3.7h.1m.6 1.6h.1m.8-1.4h.1m.7 4.6h.1m1.6-.3h.1m.4 0h.1m2.6-1.6h.1m1.6 3.1h.1m.5-3.1h.1m1.8 2.4h.1m-61.5 5.1h.1m-.1-4h.1m.1 3.8h.1m-.1-1.5h.1m2.3-2.5h.1m.1 4.8h.1m1.8-3.4h.1m.5-1.5h.1m.2 4.5h.1m.3-1.8h.1m.1 1.5h.1m.1-2.4h.1m0 1.8h.1m.4-.3h.1m.2-2.6h.1m.2 1.5h.1m.6 2.2h.1m-0-2.8h.1m.5 4.1h.1m.6-4.2h.1m.1-.1h.1m.1 0h.1m.1 2.5h.1m.2-1.4h.1m.4-1.8h.1m0-.5h.1m.4 .8h.1m2.3 2.5h.1m0-1.4h.1m.7-.8h.1m.4 3.5h.1m-.1-3.4h.1m0-1.4h.1m1.1 3.1h.1m-.1-.6h.1m.6 2.6h.1m.7 .5h.1m.1-1.1h.1m0 1h.1m.3-5.3h.1m1.8 5.2h.1m3.9-2.1h.1m.2 2.3h.1m.7-4.9h.1m11.7 .3h.1m1.4 3h.1m1.3-.9h.1m.6 .2h.1m.6-3.1h.1m1.9-.2h.1m.1 2.7h.1m2.3 .6h.1m0 1.1h.1m.4-4.3h.1m.2 4.8h.1m.8-4.6h.1m.2 3h.1m-.1-2.9h.1m.3 4.6h.1m1 .5h.1m.2-.1h.1m.2-4.5h.1m.5 3.3h.1m.2-2.7h.1m-0 0h.1m-.1 1.2h.1m.2-1.4h.1m1.6-1.1h.1m5.7 1.7h.1m1.7-1.7h.1m1.6 3.3h.1m.5 1.6h.1m-0-4.9h.1m1.6 3.7h.1m2.1 1.9h.1m3.2-5.7h.1m4 1.4h.1m5.2 1.3h.1m-80 6.8h.1m0 .6h.1m-.1 1.7h.1m0-3.1h.1m.8-1.6h.1m.3 3.4h.1m.2-4.7h.1m.1 1.2h.1m.2 3.1h.1m.1 1.6h.1m-.1-3h.1m.3 2.9h.1m.2-5.3h.1m-.1 .3h.1m.1 3.2h.1m-.1 .4h.1m1.6-.8h.1m-.1 .1h.1m.8-3.5h.1m.9 1.8h.1m.7 3.6h.1m.6-2h.1m.3-.7h.1m0 2.7h.1m.6-3.6h.1m1.2 .4h.1m.2 3.4h.1m.1-5.6h.1m2 .8h.1m2.8-.1h.1m.2 3h.1m.1 1.1h.1m-.1-1.9h.1m1.3-2.1h.1m.5-.1h.1m.6 .3h.1m-0 .8h.1m.3 .1h.1m.6 2.9h.1m.1 .4h.1m0-5.2h.1m1 0h.1m.7 3.9h.1m-.1-1.2h.1m2.2 1.2h.1m15.4-3.8h.1m1.6-.3h.1m.6 3.8h.1m.4-2.6h.1m1.5 3.2h.1m.9-3.3h.1m.6 3.1h.1m1.5-2.3h.1m.2-.2h.1m.3 .6h.1m.4-1h.1m15 .5h.1m1.7 1.4h.1m2.2 1.2h.1m.8-3.5h.1m-0 3.9h.1m0-3.8h.1m.6 .1h.1m2.1 4.8h.1m0-2.7h.1m.7 1.1h.1m2.5 1.5h.1m-74.6 2h.1m.3 2.2h.1m.1-3.5h.1m.2 3.7h.1m0-2.9h.1m.9-.6h.1m.1 1h.1m1.1 2.9h.1m0-2.3h.1m0 .3h.1m1.3 1.4h.1m.1-2h.1m.7 2.1h.1m-.1-2.5h.1m.1 .8h.1m.6 1.2h.1m.5 1.6h.1m.2-2h.1m.2-1.2h.1m2.1 3.5h.1m.3-1.7h.1m1.2 2.1h.1m1-.2h.1m.2-1.3h.1m.2 .7h.1m.4-.6h.1m.3-1.9h.1m-.1 2.3h.1m.4-1.6h.1m.1 .2h.1m.2 2h.1m-0-.6h.1m.7-3h.1m0 1.6h.1m.1 .3h.1m0-2.5h.1m.2-.2h.1m.4 3.9h.1m.3-3.1h.1m.4 2.3h.1m1.9-1h.1m3.2-2.4h.1m.1-.3h.1m7.7 4h.1m10.4-4.4h.1m24.4 3.3h.1m4.6-3.1h.1m.1 1.2h.1m-70.2 6.2h.1m-.1 .1h.1m.7 1.7h.1m.4 1.5h.1m.5-4.1h.1m1.3 1.5h.1m.9-1h.1m.3-.2h.1m.2 1.2h.1m.1 3.6h.1m.9-5.2h.1m.2 4h.1m.5-2h.1m.6-2.1h.1m.7-.7h.1m.1 .8h.1m.5 .6h.1m.8 2.1h.1m0-2.2h.1m.5 3.3h.1m0 1h.1m.2-5.4h.1m-0 2.1h.1m.3 1h.1m-0-.6h.1m0-2.7h.1m1.7 1.2h.1m1-.5h.1m14 1h.1m46.5 2.3h.1m2.2-2.8h.1m-74.9 7.2h.1m.2-2.2h.1m.1 1.5h.1m1.7 2h.1m.1 1.1h.1m.2-3h.1m.3-.1h.1m.7 2.5h.1m.7-.5h.1m.4-1.8h.1m.8 .1h.1m-0 2.1h.1m.2-3.1h.1m5.2 1.7h.1m7.8 1.7h.1m18.3-1.6h.1m3.9 1.1h.1m17.2-.3h.1m-56.9 3.2h.1m1.2-.8h.1m.4 .6h.1m9.6 .1h.1m52.3 3.4h.1m-66.3 9.9h.1m13.1 0h.1m29.7-1.1h.1" stroke="#c3b6e0" stroke-width="0.85" stroke-linecap="round" fill="none"/>
<path d="M63.9 212.6h.1m.1-.2h.1m1.1-1.2h.1m.1 .5h.1m.9-.8h.1m.4 1.7h.1m1-2.6h.1m.8 .8h.1m-0 1.8h.1m-.1-2.2h.1m.1-.5h.1m.5 2.4h.1m.4-4h.1m-0 4.3h.1m.3-.8h.1m.2 .9h.1m.1-3.7h.1m-.1 1h.1m.4 1.2h.1m1.6-.8h.1m0 2.2h.1m.8-.2h.1m.6-.5h.1m2-1.1h.1m1 1.2h.1m-0 .3h.1m.3-.8h.1m.9-1.1h.1m-0 .7h.1m-20.1 2.5h.1m.4-.3h.1m.2-.1h.1m.3 1.3h.1m.1 .5h.1m0-1.8h.1m0 4.5h.1m.8-2.7h.1m.5 1.4h.1m1 2.1h.1m0-4.2h.1m.2 1.1h.1m.6 2.3h.1m1-1.8h.1m.2-2.5h.1m.7 5.2h.1m.2-4.5h.1m-0-1h.1m.5 .2h.1m0 4.9h.1m.2-3.9h.1m1.1 2.9h.1m.5-.4h.1m.4 0h.1m.3-3h.1m.1 3.3h.1m.5-2.3h.1m1.7-.6h.1m.2 3.1h.1m.2-.6h.1m.5 1.2h.1m.2-4.3h.1m.1 3.6h.1m.1 .7h.1m1.4-3h.1m-.1 0h.1m.1 1.2h.1m.5-1.3h.1m.9 1.6h.1m1.2-.6h.1m.1-1.2h.1m-20.6 6.8h.1m2.3 .9h.1m0 1.7h.1m.6-1.2h.1m.8-2.8h.1m-.1 1h.1m.6 .6h.1m.5 1.5h.1m-0-3.5h.1m-0 1.9h.1m1.3-1.3h.1m.8-.7h.1m-.1-.4h.1m.8 3.4h.1m0-2.2h.1m.4 4.1h.1m.2-4.6h.1m-0 1.2h.1m0 2.9h.1m1.4-.6h.1m-0 .6h.1m.7 .3h.1m1-2.7h.1m.1 1h.1m.2 1.8h.1m.8-5.1h.1m0 4.3h.1m-.1 1.2h.1m-0-5.3h.1m1.3-.3h.1m1.2 5h.1m1.1-3.9h.1m1.6-.1h.1m-.1 4h.1m.1-1h.1m.1-4h.1m.1 1.2h.1m-19.7 5.5h.1m1.2-.3h.1m2.3 1.6h.1m.8-.5h.1m.9 1.8h.1m.1 2.5h.1m.7-4.5h.1m.5 .9h.1m.1 3.4h.1m.8-1h.1m-.1 .4h.1m.1-4.3h.1m1.2 4.5h.1m-0-4.5h.1m1.2 .2h.1m.4 .5h.1m1 3.4h.1m.2 .3h.1m.3-2.6h.1m1.7 1h.1m.9-.7h.1m.5-1.8h.1m.3 1.8h.1m-0-2.7h.1m.1 5.4h.1m.4-.7h.1m.4-2.3h.1m.8 3.2h.1m.6 .2h.1m2.6-1.2h.1m.9 .4h.1m1.6-.7h.1m1.5-.5h.1m2.1 .4h.1m-0 1.1h.1m.5-.4h.1m2.1 .8h.1m1.5-1.7h.1m-0-.1h.1m-32.6 3.9h.1m.8 .2h.1m-.1-1.8h.1m.7 3.2h.1m0-1.4h.1m.9-.9h.1m.6 1.5h.1m1.5-.6h.1m.4 .8h.1m.3 2.4h.1m.3-4.7h.1m.8 .8h.1m1.6 1.3h.1m1.3-.4h.1m-0 1.1h.1m.4-2.8h.1m.5 .7h.1m-0 1.7h.1m-.1 2.7h.1m0-.9h.1m2.2 .9h.1m.1-4.5h.1m.2 .6h.1m4.2 1.5h.1m1.6 1.4h.1m.6-1.9h.1m-.1 .8h.1m2.4 .4h.1m.1-.5h.1m.7 1.1h.1m1.6-.4h.1m5.4 1.5h.1m1.1-2.6h.1m3.8 1.7h.1m2.2 .8h.1m.5-.1h.1m1.9-.2h.1m-40.2 2.5h.1m.4-.3h.1m-0 .7h.1m1.2 .6h.1m.3 1.9h.1m1.4-1.8h.1m.2 1.1h.1m-.1-1.1h.1m.3 .8h.1m.1-2.1h.1m.1 2.2h.1m.2-3.6h.1m.3 2.6h.1m1-2.5h.1m.6 2.8h.1m.5 .3h.1m-0 .2h.1m.8-2.6h.1m-0 2.4h.1m.3-1.3h.1m1.1-1.5h.1m3-.7h.1m.2 4.3h.1m1.1-.8h.1m.1 2.1h.1m1.3 .4h.1m.6-.2h.1m.7-4.6h.1m.6 4.3h.1m1.9 .5h.1m.6-.9h.1m.5-4.4h.1m.6 2.3h.1m.8-2.5h.1m-0 .2h.1m.7 1.4h.1m.2 3.5h.1m.3-1.4h.1m.3-1.1h.1m4.1 2.7h.1m-0-3.6h.1m.5-1.3h.1m2.1 2.6h.1m.2-2.9h.1m.6-.5h.1m2.2 .3h.1m.7 3.3h.1m-0-2.2h.1m2 3.3h.1m2.2 .6h.1m.5-4.6h.1m0 5.2h.1m-36.8 1.2h.1m-.1 .7h.1m1.6-.8h.1m1.2 1.4h.1m1.4-.7h.1m-0-1.2h.1m.6 0h.1m.8 1.4h.1m2.4 .8h.1m2.1 .6h.1m.8 .4h.1m.2-2.5h.1m.1 0h.1m.9 3.6h.1m1.8-.1h.1m-0-1.5h.1m.2-1.8h.1m1.3-1.1h.1m-0 3.8h.1m1.1-4.1h.1m.5 5.4h.1m0-1.6h.1m.5-3.3h.1m.7 3.9h.1m2.1-4.1h.1m.5 4.3h.1m2.5-1h.1m.5-1.3h.1m.8-1.8h.1m.5 1.4h.1m5.1 1.1h.1m1.4-1.3h.1m.6 .9h.1m-.1-.5h.1m1.3-1h.1m-65.3 10h.1m1.2 .6h.1m.5-1.2h.1m.2 1h.1m.3 .3h.1m.9-.2h.1m0-3.1h.1m0 1.8h.1m.3-1.5h.1m1.3 2.5h.1m.1-4h.1m1 3.4h.1m-.1-3h.1m1.2 1.7h.1m1.4 1.1h.1m.3-1.4h.1m.4 0h.1m.2-1.7h.1m0 2.3h.1m-0 2h.1m.3-.6h.1m.1-1.5h.1m.5-.2h.1m.7-2.6h.1m0 4.7h.1m-.1-2.3h.1m1.1 1.2h.1m.7 .7h.1m1.9-2.1h.1m.5 .5h.1m0-.9h.1m.3 1.3h.1m.7 1h.1m.5-1.2h.1m.8-.2h.1m1.5-2.5h.1m.1 1.6h.1m.7-.8h.1m1.7-.5h.1m12.3 2h.1m.9-2.3h.1m1.1 2.8h.1m.6-.8h.1m.1-1.9h.1m1.7-.4h.1m1.2 3.4h.1m.7-.8h.1m0-1.3h.1m2 0h.1m.9-2h.1m.1 2.4h.1m-.1-.6h.1m.7 .5h.1m.3-.9h.1m.2 0h.1m.1 4.3h.1m.6-5.7h.1m.9 5.7h.1m-0 .1h.1m7.6-2.8h.1m.8 1.2h.1m-61.1 7.3h.1m.4-2.9h.1m.2 1.4h.1m0-2.2h.1m0 2.1h.1m.2 .2h.1m-.1-3.8h.1m.1 5.2h.1m.6-.6h.1m.7-4.6h.1m.2 5.3h.1m1.4-.5h.1m1.3-1.4h.1m1.2-2.9h.1m1.2 1.2h.1m.1 .4h.1m1 3.2h.1m1.6-2h.1m1.7-3.1h.1m.2 3h.1m.1-1.7h.1m.2 2.5h.1m-.1 1.2h.1m.3-.7h.1m.7-3.4h.1m1.3 1.5h.1m-.1 2.3h.1m1.1-2.9h.1m.1 .7h.1m.2-1.2h.1m.2 .6h.1m1.2-1.1h.1m.7 3h.1m4.1-1.8h.1m14.9-.5h.1m.4 .4h.1m.4 .6h.1m3.6-1.2h.1m.6 2h.1m-.1-1.9h.1m.4 2.5h.1m.1-1.5h.1m1.4-.8h.1m-.1 2.9h.1m.3-2.3h.1m-0 1.6h.1m2.8-2.9h.1m10.1 .6h.1m.4 2.5h.1m0-4h.1m.7 2.7h.1m.4-1.8h.1m1.2 3.5h.1m-63.8 1.3h.1m.2 4.4h.1m.1-1.4h.1m1 1.5h.1m.1 1h.1m1.4 .2h.1m.3-3.2h.1m1.3 1.4h.1m.5 1.3h.1m0-5.4h.1m0 5.4h.1m.2-4.4h.1m-.1 3.1h.1m.1-4.2h.1m.4 2.8h.1m.1 0h.1m.6-1.8h.1m.2 3h.1m-0 .1h.1m1.2-.1h.1m.2 1.2h.1m.6-2.8h.1m.6-2h.1m.2 4.9h.1m.8-2.1h.1m0-.8h.1m.4 1.5h.1m.1-3.8h.1m.8 .3h.1m.1 4h.1m.1 1.3h.1m.1-3.6h.1m-.1-1.4h.1m1 2.6h.1m1.2-1.1h.1m.8-1h.1m1.7 .6h.1m0 3.9h.1m.5-2.8h.1m.4 2h.1m0-3.2h.1m2 .7h.1m.1 1.2h.1m-0-2.5h.1m.4 1.6h.1m.6 .5h.1m1.1 1.4h.1m.5 1h.1m1.2-1.2h.1m12.4-4h.1m1.6 .2h.1m1.3 .8h.1m1.6 3.5h.1m.4-1.2h.1m.3 1.5h.1m0-5.1h.1m.7 .5h.1m1.9 1.4h.1m1.6-2h.1m16.8 .3h.1m.4 .9h.1m2.1 3.5h.1m.5 .8h.1m.1-.5h.1m3.7-.8h.1m.3 .4h.1m-74 2.7h.1m.6 3.9h.1m.4-2.5h.1m1.5 2.7h.1m-.1-2.3h.1m-0-2.2h.1m.9 .7h.1m.2 1.7h.1m1.5 .2h.1m2.7 0h.1m.6 .8h.1m.2 .5h.1m1.5-4.6h.1m0 2.7h.1m-0-1.9h.1m-.1 2.4h.1m.6-1.1h.1m.6-1.2h.1m.4 .4h.1m.9 4.4h.1m.6-5.2h.1m.4 2.6h.1m1.3 1.1h.1m.1-.2h.1m.8-3h.1m-.1 .5h.1m.2 1.8h.1m.1-.6h.1m.6 2.3h.1m0-2.8h.1m-.1 1.2h.1m.1-2.3h.1m.3 .2h.1m0 2.4h.1m1.5-3.1h.1m1 .9h.1m21.9-1.6h.1m27.7 .8h.1m1 1.7h.1m.2-1.1h.1m-71.7 5.7h.1m1.2 3h.1m.8 .9h.1m.5-1.8h.1m.6-1.2h.1m.1-1.5h.1m-.1 4.3h.1m.3-2.5h.1m1.2 2.4h.1m3.1-1.8h.1m.6-2.9h.1m.1 1.1h.1m.2 1.3h.1m.1-1h.1m.1 .9h.1m2.1-1.7h.1m.1 2h.1m.8-2h.1m.2 1.9h.1m-11 5h.1m.4-1.3h.1m1.1-.1h.1m.4 3.3h.1m.2-1.8h.1m0 3.2h.1m.2-4.8h.1m3.5 2h.1m0 1.9h.1m-1.9 6.8h.1m.2-3.7h.1m-0 .9h.1" stroke="#bfb2de" stroke-width="0.85" stroke-linecap="round" fill="none"/>
<path d="M63.8 212.6h.1m.3 .2h.1m1-.3h.1m.1 .4h.1m3.6-.2h.1m.1-.2h.1m.2-.9h.1m.5 1.3h.1m-.1-3.7h.1m.3 1.7h.1m.5 2h.1m.2-1.5h.1m-.1-1h.1m1.1 1.8h.1m.1-1.8h.1m-0 1.6h.1m.1-1.3h.1m0-.5h.1m.2 1.8h.1m1 .3h.1m2.7-.4h.1m2.3-1.3h.1m.6 2.3h.1m-20.6 1.2h.1m-0 1.8h.1m1.4-1.2h.1m.2 3.5h.1m0-4.8h.1m.2 .3h.1m-.1 0h.1m.2 4.4h.1m0 0h.1m.4 0h.1m.3-4.8h.1m.4 4.4h.1m.2 .7h.1m.1-.9h.1m.2-.3h.1m0-3.7h.1m.6 4.9h.1m.1-.6h.1m0-2.7h.1m.3 1.2h.1m-.1 .6h.1m0-1.9h.1m.2-1.6h.1m.1 2.9h.1m2.5-2.7h.1m1.3 2.9h.1m-0-.4h.1m1.8 1h.1m1-1.4h.1m.3-.6h.1m-0 3h.1m.9 0h.1m.6-1.9h.1m-0 .9h.1m-.1 .2h.1m-.1-.4h.1m.8-2.1h.1m.3 .4h.1m.1 .3h.1m.1-2.2h.1m2.4 2.9h.1m.3-1.1h.1m-20.9 4.2h.1m1.6 5.4h.1m0-1.7h.1m.2 .7h.1m.9-3.9h.1m2.1 .8h.1m1.1 .3h.1m.1 .8h.1m0 .4h.1m1.3 2.6h.1m.8 .1h.1m.3-5.2h.1m.2-.5h.1m-0 2.9h.1m.3-2.8h.1m.4-.1h.1m-0 4h.1m0-2.3h.1m.2 2.1h.1m.2 .1h.1m.2 1.3h.1m.7-.9h.1m0-3.4h.1m.3 4.1h.1m.4-2.2h.1m1.6 1.9h.1m.4-3.1h.1m0-1.2h.1m.1 2.3h.1m0 2.7h.1m.4-5.1h.1m.1 3.8h.1m2.1-1.9h.1m.1 1.5h.1m0 .2h.1m.7 .7h.1m-16.4 3.6h.1m.4 1.4h.1m1.1-2.2h.1m-.1 .3h.1m.4 2.1h.1m-.1-1h.1m.2-2.4h.1m-0 5.4h.1m1.5-2.2h.1m1.4-3.5h.1m0 3.8h.1m.3 1.8h.1m.2-4.7h.1m1.1 3.1h.1m.1 1h.1m-.1-4.9h.1m.4 2.8h.1m-.1-.2h.1m.1-.6h.1m.3 1.2h.1m1.2-2.7h.1m-0 .6h.1m.8 1.7h.1m.9-.7h.1m3.6-1.8h.1m6.2 5.2h.1m.5-1.6h.1m4.3 .8h.1m-27.1 3.4h.1m1.3 3.5h.1m.8-5.7h.1m-0 1.9h.1m1.3-1.4h.1m.3 4.1h.1m.6-3.1h.1m.5 .2h.1m-.1-1h.1m.3 1.9h.1m.1-.8h.1m0 3.7h.1m.3-4h.1m0 3.7h.1m.3-1.6h.1m.5-.5h.1m.1 .7h.1m-.1-.9h.1m.2-3h.1m.3 1.5h.1m.2 2.9h.1m.8-.7h.1m.4 .1h.1m1.2-.1h.1m.9-2h.1m.2 .3h.1m.7-1.5h.1m1.5 4h.1m2.9 .3h.1m1.1-3.6h.1m.4 .2h.1m.2 2.6h.1m-0-1.6h.1m2.6-.1h.1m0 .4h.1m.7 1.8h.1m-0-3.6h.1m.4-.7h.1m1.9 3.7h.1m.8 1.1h.1m4.1 .5h.1m1.7 .2h.1m1.8-1.4h.1m.2-.3h.1m.3-.3h.1m.3 1.1h.1m-.1-.8h.1m-35.1 2h.1m2.1 3.7h.1m.9 1.6h.1m.5-3h.1m1.3-.1h.1m.3 1.7h.1m1.3-2.5h.1m-0 3.8h.1m.5-.2h.1m.6-1.4h.1m0-2.9h.1m1.5 .5h.1m.1 .5h.1m.4 1h.1m2.6-.9h.1m2-1.6h.1m2.1 0h.1m3.1 3.7h.1m-0 2h.1m.2-.2h.1m1.1-1.3h.1m.3-4.4h.1m2.2 1.3h.1m3.2 4.3h.1m1.7-3h.1m0 3.3h.1m.5-5.4h.1m.2 1h.1m-.1 1h.1m.8-1h.1m.3 1.3h.1m1-1.9h.1m.2 .6h.1m.1-.8h.1m.3 4.4h.1m1.3-2.2h.1m.2 .8h.1m-.1-1.3h.1m-.1 .1h.1m.1 2.4h.1m.2 .3h.1m.4-1.4h.1m.3-2.8h.1m.3-.9h.1m2.2 1.3h.1m.2 0h.1m.5 3.3h.1m-36.4 2.6h.1m0 1.1h.1m2.3-2.2h.1m.2 3.1h.1m2.1 .9h.1m1-.9h.1m.3 .8h.1m.2-.3h.1m1.5-2.3h.1m2.5 .8h.1m.7 2.8h.1m.7-4.4h.1m.2 4.9h.1m.2-3.3h.1m2-.6h.1m.7 .2h.1m.6 .4h.1m.2-1.4h.1m.6 3.8h.1m1.3-.3h.1m1.7 .4h.1m-.1-3.9h.1m.8 4.9h.1m1.6-4.2h.1m1.1 1.4h.1m.1-2.5h.1m1-.5h.1m-.1 4.1h.1m.9-3.5h.1m2.1 1.1h.1m2.4 .5h.1m1.1 .8h.1m3.2-2.9h.1m-64.1 11.7h.1m0-1.6h.1m-0 .5h.1m.8-1.4h.1m1 1.6h.1m.1-2h.1m-.1 .3h.1m.7-.6h.1m.1-1h.1m1.1 2.4h.1m-0-2.7h.1m.7 4.1h.1m.1-.3h.1m.6-3.4h.1m.4 1.1h.1m.2 1.2h.1m.5-.8h.1m.9-2.2h.1m1.7 .5h.1m.1 .1h.1m0 1.5h.1m.8 1h.1m.1 1.4h.1m.8-3.4h.1m.5-1.3h.1m0 4.4h.1m.2-2.6h.1m1-1.5h.1m0 0h.1m.4 1.2h.1m.1 1.8h.1m.6 0h.1m.6-2h.1m.1-1.2h.1m19.1 1.4h.1m1.2-1h.1m1.1 1.2h.1m.6 1.1h.1m.6 .2h.1m.7-1.5h.1m-.1-1.8h.1m.1 4.1h.1m.7-2.7h.1m.5-1.3h.1m.9 2.1h.1m.4-1.5h.1m.1 1.2h.1m5.4-1.4h.1m.2 4.4h.1m.8 0h.1m5.6-2.3h.1m0 2.2h.1m-58.8 4.3h.1m.6-3.5h.1m.1 .6h.1m.4 2.2h.1m.3-.2h.1m.2 2.3h.1m.3-4.8h.1m.9 2.3h.1m0-1.4h.1m.9 4h.1m2-1h.1m-.1-1.2h.1m.6 0h.1m.5-2.3h.1m-.1-.3h.1m.2 4.9h.1m.7-3.6h.1m.2 1.9h.1m.1-2.8h.1m.5 2.6h.1m.5-2.3h.1m.1 3.7h.1m1.7 .4h.1m0-3.6h.1m2.1 4.2h.1m.5-.4h.1m.2-2.9h.1m1.4 3.4h.1m.1-3.7h.1m-0 3.2h.1m1.1-4.6h.1m1.2 4.9h.1m1.8-3.6h.1m17.1 1.4h.1m.3 .8h.1m.6-3.7h.1m-0 2.9h.1m1.1-2.5h.1m1.7 .2h.1m2 3.5h.1m.2 1.1h.1m.8-5.5h.1m-.1 4.2h.1m-0 1.1h.1m1.8-1.6h.1m.1 .7h.1m1.5 .6h.1m-0-4.8h.1m0 1.8h.1m.6-.1h.1m10.5-1.4h.1m.2 2.9h.1m.8-1.7h.1m1.3-.6h.1m1.3 2.6h.1m1.1 1h.1m2.7-2.2h.1m-70.2 8.6h.1m.7-2.1h.1m.5-1.2h.1m.3 1.9h.1m3 1h.1m1.6 .7h.1m1-4.6h.1m0-.1h.1m1.2 1.7h.1m2 2.1h.1m.8-1.2h.1m-.1-.4h.1m.4-2.1h.1m.5 2.9h.1m0 .1h.1m.3-1h.1m-.1 2.4h.1m1.6-.9h.1m.9-1.3h.1m1-2.7h.1m.2 .9h.1m.7 .4h.1m.1 3.7h.1m.1-5.2h.1m.1-.2h.1m.7 2.1h.1m1.5 2.8h.1m.1-2.2h.1m.3-1.7h.1m1.4 1.8h.1m.8 2.8h.1m.1-3.8h.1m.3-.3h.1m.2-.1h.1m1.2 2h.1m-0 .3h.1m.3 1.2h.1m14.2-4.5h.1m.7 .2h.1m.1 2.6h.1m.5-3h.1m.5 .7h.1m.2 3h.1m.2-2h.1m1.6 2.8h.1m.2-2.5h.1m.4 1.6h.1m.6-2.2h.1m18.1 .4h.1m.4 .8h.1m-0-1.4h.1m1.3-1.1h.1m.3 3.2h.1m1.5 1.2h.1m-0-2.5h.1m.7-.5h.1m1.1-.2h.1m-71 5.2h.1m.2 0h.1m.4-.2h.1m.1 3h.1m.3-2.4h.1m0 .3h.1m-.1 3.1h.1m.5 .3h.1m1.8-3.3h.1m.2 .1h.1m2.2 1.4h.1m.3 .7h.1m.4-2.2h.1m.2 2.6h.1m.2-.9h.1m-.1-.1h.1m1.4-1.9h.1m2.1-1.2h.1m.6 4.8h.1m.3-1.4h.1m1.2-3.3h.1m1 2h.1m.5-.3h.1m.1 2.6h.1m2.1 .4h.1m.6-.5h.1m-.1-1.5h.1m1.1-2.4h.1m.4 .1h.1m.8 1.8h.1m.4-.8h.1m13.4-1h.1m9.8-.5h.1m2.2 1.6h.1m-0 0h.1m26.2 .4h.1m1.6-.6h.1m-73.3 5.9h.1m.3 0h.1m.7-1.3h.1m1.2 5.6h.1m.7-2.9h.1m.1-.4h.1m1-2.5h.1m.9 1.4h.1m.6 2.5h.1m0-.7h.1m.5 .1h.1m1.1 .6h.1m.9-.5h.1m2 .4h.1m.3-.3h.1m.7-2.2h.1m.1 .1h.1m.5 1.7h.1m41.5 .7h.1m10.5-.8h.1m-60.1 7.6h.1m.6-.9h.1m.2-1.9h.1m-.1-1.7h.1m1.4 4.6h.1m55.2-3.9h.1m7.5 .1h.1m-64.1 5.9h.1m.7 2.9h.1m.1-3.1h.1m.4 3.6h.1m.3-2.3h.1m2.5-.3h.1m2.4 2.9h.1m29-4.4h.1m4 2.5h.1m-7.3 7.2h.1m12.2-2.5h.1m9.7 1.7h.1m6.5 1.1h.1" stroke="#cdc3e6" stroke-width="0.85" stroke-linecap="round" fill="none"/>
<path d="M66.4 210.6h.1m1.7-.1h.1m1.3 1.3h.1m.2-.3h.1m-0-2.4h.1m.3 .3h.1m.2-.4h.1m-0 1.7h.1m.2 .2h.1m1.8 .9h.1m.6-1.3h.1m1.2 .6h.1m.9-.5h.1m.1 2.1h.1m.5-.5h.1m.2-1.8h.1m.9 1.4h.1m.1 .1h.1m1.1-1.3h.1m.7 1.5h.1m1.4-3.6h.1m27.5 .2h.1m-49.4 9.1h.1m1.5-2.8h.1m-0 2.5h.1m.4-3.9h.1m-.1 4.8h.1m0-4.7h.1m.5 2.3h.1m.6 2.1h.1m.1-2.6h.1m.3 1.6h.1m0-3h.1m.1 4.7h.1m.2-4.5h.1m1.2 .3h.1m1.2 .7h.1m.1-.2h.1m.3 3.4h.1m1.7-2.9h.1m.4 3.4h.1m.7-1.4h.1m-0-.8h.1m.4 .1h.1m.5 .6h.1m-0-2.5h.1m.1-1.8h.1m1.3 4.5h.1m.3-3h.1m.4 4.1h.1m.4-4.6h.1m-.1 .4h.1m.2-.6h.1m.2 3.2h.1m1-.1h.1m.3-3.2h.1m.8 4.3h.1m-0-3.9h.1m.3 2.8h.1m.2-3.3h.1m-.1 3.5h.1m.1 .5h.1m.8-3.8h.1m.8 2.9h.1m19 .4h.1m22.3-2.8h.1m-62.8 5.8h.1m.3 .3h.1m.9-.3h.1m.1 2.4h.1m.4-1.4h.1m.1 2.3h.1m.2-1.9h.1m.3 .5h.1m0-2h.1m.4 4.3h.1m-.1-2.5h.1m.8-2.1h.1m-.1 .1h.1m.8 .9h.1m2.4 2.3h.1m.3 .4h.1m.5-.5h.1m.2-3.7h.1m.7 .5h.1m.8 .5h.1m-.1-.4h.1m.3 4.7h.1m.1-2.1h.1m.1 .2h.1m.5 1.3h.1m-.1-3.1h.1m-0 3.6h.1m.4-1h.1m.1-1.2h.1m.6 1.7h.1m.6-.7h.1m.3-.6h.1m.5-1.7h.1m0 0h.1m.3 2.3h.1m-.1 .5h.1m0-.1h.1m.5-1.5h.1m1.1 2.2h.1m-0-4.2h.1m0 2.8h.1m-0-3.2h.1m1.2-.3h.1m.6 3.6h.1m.2 .3h.1m.3-.3h.1m-0 0h.1m0-3.1h.1m.4 2.2h.1m22.2 2.3h.1m12.6-2.1h.1m-54.3 4h.1m.4-.6h.1m.4-.9h.1m1.4 1.8h.1m1.8 1.8h.1m.1-2.4h.1m.5 4.8h.1m1.5-3.9h.1m0-.6h.1m.1 3.4h.1m.1-.1h.1m1.1-.8h.1m.2 1.2h.1m.4-.6h.1m1.4-3.4h.1m.8-.7h.1m.1 4.3h.1m.6-4.1h.1m1 2.6h.1m-0-2.5h.1m-.1 2.4h.1m0 .6h.1m-.1 1.7h.1m-0-1.4h.1m-0 .4h.1m0-3.7h.1m.4 2.7h.1m1.2-2.1h.1m-.1 3.6h.1m.8-2.5h.1m.4 2.2h.1m.3-1.9h.1m1.9 1.4h.1m6.8 1.2h.1m.7 .6h.1m.2-.6h.1m5.3-.9h.1m-32.9 5.2h.1m1.1-2.7h.1m3.1 3.8h.1m.2-2.6h.1m.7 .3h.1m.3 2h.1m-.1-2.3h.1m0-.8h.1m-.1 2.4h.1m-0-2.6h.1m-.1 1.7h.1m1.6-2.4h.1m.1 1.8h.1m.4 0h.1m.1-1.2h.1m1 2.2h.1m.1 1h.1m-0-.1h.1m.1-2.8h.1m.3 1.5h.1m0 .7h.1m-0-1.6h.1m.6 0h.1m-.1 2.3h.1m1.1-.7h.1m-0 0h.1m-.1 1.3h.1m1.3-3.1h.1m1.9 3h.1m1.1-4.7h.1m.4 .2h.1m.4 1.2h.1m-0-.2h.1m-.1 .9h.1m.1-.3h.1m.3-.1h.1m.1-.9h.1m0 4.6h.1m1-1h.1m.9-1h.1m.1 .4h.1m.1-.2h.1m-0-3.3h.1m.9 4.1h.1m.6-1.3h.1m.5 .1h.1m-.1-3h.1m1.4 4.9h.1m1.2-3.2h.1m.2-.5h.1m.1-.3h.1m1.9-.6h.1m0 4.2h.1m7.2-.4h.1m.1 .7h.1m.6-.1h.1m1.2-.4h.1m2.7 .8h.1m2-.7h.1m.4 .5h.1m3.9-.3h.1m13.2-4.3h.1m-59.4 5.4h.1m1.8 .2h.1m-.1 1h.1m.4 4.7h.1m-.1-.4h.1m.5-2.8h.1m1.1 0h.1m.4 .3h.1m.4-2h.1m.1 2.7h.1m-0-2.6h.1m.7-1.1h.1m.1 3.4h.1m.1 1.5h.1m0 0h.1m.4-3.3h.1m.2 1.7h.1m-.1-.3h.1m.5 1.3h.1m.6 .5h.1m.7 1.2h.1m.5 0h.1m2.2-3.6h.1m1.5 0h.1m1.3-.8h.1m.2 4h.1m5.4 .1h.1m.1-2h.1m1.4-1.8h.1m-0-.3h.1m.5 1.8h.1m.5-.8h.1m.3-1.9h.1m1.2 4.6h.1m.9-.2h.1m.6-2.7h.1m3.1-.6h.1m0 .2h.1m.6 3.4h.1m-.1-.6h.1m.3-1.9h.1m0-2.9h.1m.6 5.1h.1m.3-4.2h.1m2.4-.7h.1m.3 3.3h.1m2.3-1.9h.1m.6 2.8h.1m2 1.1h.1m.3-5.3h.1m-.1 5h.1m.1-5.1h.1m.6 .5h.1m10.5 5h.1m-54.4 6.3h.1m2.1-2.3h.1m2.1-1.1h.1m1.9-2.3h.1m2 1.8h.1m2.7 2h.1m.8-.6h.1m1 .5h.1m2.3-3.5h.1m1 4.3h.1m.1-1.7h.1m.4-.2h.1m.1 .1h.1m.1 2.2h.1m.5-1.8h.1m.6-2.3h.1m.5 1h.1m-0-1.2h.1m.3 4h.1m.4-2.7h.1m.1 .9h.1m.2-2.6h.1m.4 5.4h.1m-0-.2h.1m.3-3.5h.1m2.5 1.2h.1m0-.3h.1m1.4 1.9h.1m.7-.9h.1m.4-1.7h.1m.5-.2h.1m1.2-1.7h.1m.5 1.3h.1m3.8-.2h.1m1.7-1.3h.1m-.1 .9h.1m.2 1h.1m2-.8h.1m0 1.2h.1m1-2.3h.1m0 2.8h.1m1.1-2.5h.1m.1 .8h.1m1.2-.2h.1m12 1.2h.1m2.9-2.1h.1m.3 .3h.1m2.2 5h.1m-82.1 6.2h.1m.9-1.7h.1m1 0h.1m.8-1.9h.1m-.1 1.3h.1m1.7-.4h.1m.7 0h.1m.3 1.6h.1m.4-.8h.1m-.1-2.2h.1m.7 .6h.1m1.2-.3h.1m.8 2.8h.1m.2-2.6h.1m-.1 2.5h.1m.1-.3h.1m.9 .7h.1m0-4.2h.1m.4 4.4h.1m0-4.1h.1m.5 3.7h.1m1.7-.7h.1m.6 .4h.1m.1-2.1h.1m1.7-.6h.1m1.1 .4h.1m0 1h.1m.1-2.1h.1m.3 3h.1m5.6 1.5h.1m1.2-3.9h.1m10.9 3.5h.1m1.6-4.8h.1m1.7 4.9h.1m.1-4h.1m0 3.8h.1m.8-4.2h.1m.1 .4h.1m.1-.8h.1m-0 .8h.1m.3 4h.1m.5-4.1h.1m-.1-.6h.1m.8 5.4h.1m-.1-5.6h.1m.3 .6h.1m.1 4.1h.1m0 .4h.1m.7-2.9h.1m.2 3.1h.1m-.1-5.3h.1m.9 2h.1m.4-.6h.1m.6 3.2h.1m1.2 1h.1m.1-2.7h.1m1.4-2.4h.1m1.3 2.2h.1m.2 2.5h.1m.1-.6h.1m2.9-2.6h.1m.8 1.2h.1m-57.2 4.8h.1m1.2-1h.1m.1 3.3h.1m.3-2.1h.1m.1-.4h.1m0-1.4h.1m.3 4.3h.1m0-3.7h.1m.7 2.5h.1m1.2-.5h.1m.3 .4h.1m.4-2.3h.1m1.1 4h.1m1.1-.6h.1m0-2.8h.1m-.1 3h.1m.8-3.7h.1m1.1 3.2h.1m.8-1h.1m.6-1h.1m.2 1.7h.1m1.5-2.5h.1m-.1 .6h.1m1 2.7h.1m.8-2.3h.1m.9-2.6h.1m.3 4.2h.1m.1-.9h.1m.3-1.2h.1m.4-1.6h.1m2.8 2.6h.1m18-.9h.1m2 2.3h.1m1.2-3.2h.1m2.6-.6h.1m1.7 .3h.1m.9 2.3h.1m1.5 2.3h.1m2.5-4.5h.1m.4-.9h.1m6.2 .5h.1m1.9 2.9h.1m.1-.1h.1m1.3 1.8h.1m1.5 0h.1m-64 3.7h.1m0-.3h.1m0 3.1h.1m.8-4.6h.1m1-1.4h.1m.3 0h.1m.7 2.8h.1m.3 .7h.1m.6 1.6h.1m2-4.5h.1m.8 2.6h.1m.3 1.8h.1m0-3.3h.1m.8 .3h.1m-.1 3.5h.1m.5-1.7h.1m.9-1.6h.1m1.4-1h.1m.3-1.1h.1m.7 1.8h.1m.5 0h.1m.1-.4h.1m.3-1h.1m-.1 5.5h.1m.8-2.7h.1m.5 .5h.1m.1-1.8h.1m.2-1.5h.1m-.1 .5h.1m0 0h.1m0 3.3h.1m.9-3.9h.1m.7 5.4h.1m.2-1.8h.1m.2 2h.1m1.9-3.7h.1m.9 2.5h.1m-.1-3.1h.1m1.2 .6h.1m.3-1.6h.1m.1 1.1h.1m1.9 1.7h.1m15.7-.1h.1m2.2 2.3h.1m-0-2.7h.1m.8-2.9h.1m.8 2.4h.1m1.6 .2h.1m.5-2.6h.1m15.7 1h.1m.8 .9h.1m1.4-.3h.1m3.6 2.2h.1m-.1 1.4h.1m.1-2.3h.1m.5 3h.1m1.6 0h.1m-71.7 2.8h.1m.7-1.9h.1m.1 .7h.1m.4 1.7h.1m0-2.8h.1m1.6 .4h.1m-0 4.6h.1m1.2-3.1h.1m1.4-.6h.1m.8 .2h.1m.6 .9h.1m.1-1.3h.1m.2 2.9h.1m.1 1.2h.1m0-4.1h.1m.2 2.8h.1m0-.5h.1m-.1-1.6h.1m0 .3h.1m.2-2.4h.1m6.1 5.1h.1m1.7-2.4h.1m.2 1.4h.1m.1 .7h.1m1.6-4.2h.1m1.1 .8h.1m.2 1.1h.1m.9-2.5h.1m.5 1.2h.1m.3-.4h.1m.7-.7h.1m.1 .6h.1m47.4-.4h.1m.7 .4h.1m1.2-.1h.1m.5-.4h.1m.5 0h.1m-72.9 6.4h.1m1.6 2.3h.1m1.2-2.8h.1m0 4.8h.1m.4-.9h.1m.3-4.2h.1m0 3.2h.1m1.1-2.7h.1m0 1.1h.1m1.7 .6h.1m.3 .7h.1m.2-2.7h.1m1.5 3.6h.1m.8 2.1h.1m1.2-4.4h.1m1.3-.7h.1m.4-.5h.1m.9-.2h.1m.6 .4h.1m-12.2 6.6h.1m1.4 .5h.1m2.5 2.9h.1m.3-1.3h.1m1.4-.8h.1m.3-1.3h.1m.4 .2h.1m-3.8 6.3h.1m.4-1.5h.1m.1 0h.1m.5 4h.1m-0-2.1h.1m0-1.7h.1m0 1.1h.1m.1 3.3h.1m.2-2.9h.1m.1-1.8h.1m.3 .2h.1m-.1 1.1h.1" stroke="#b9abdb" stroke-width="0.85" stroke-linecap="round" fill="none"/>
<path d="M84.5 210h.1m.1 .3h.1m.8-.3h.1m.2 2.5h.1m.2 .3h.1m-0-3.7h.1m.5 3.1h.1m.2 .7h.1m-.1-2.6h.1m.6 1.2h.1m.1-2.6h.1m0 1h.1m.4 .6h.1m.2 1.1h.1m.5-.5h.1m-.1 1.7h.1m.8-1.1h.1m-0-1.2h.1m.9-1.2h.1m0-.1h.1m2.9 2.1h.1m1 1.3h.1m-11.1 2.8h.1m0 3.3h.1m-0-5.4h.1m.2 2.1h.1m.1 2.2h.1m.6-3h.1m.4 2.8h.1m.3-2.2h.1m.1 3h.1m.4-.3h.1m0-.5h.1m-0-3.8h.1m.9 .2h.1m-.1 4.8h.1m1.3-.9h.1m.1 .1h.1m1.4-1.3h.1m.3 2.3h.1m-0-4.2h.1m-.1 1.4h.1m.8-2.1h.1m.8 .5h.1m1.4 1h.1m.3 1.1h.1m.8-1.6h.1m.2 1.8h.1m-0-1.5h.1m1.3 1.5h.1m-10.4 3.5h.1m.3-.9h.1m.4 .2h.1m.9 1.2h.1m2.5 .2h.1m.5 0h.1m1.5-1.1h.1m1.3-.6h.1m11.9 16.5h.1m0 .5h.1m1.4 .1h.1m3.4 0h.1m3.1-1h.1m1.4 1.2h.1m.2-.9h.1m-11.1 4.8h.1m.2 1.1h.1m2.1-3.6h.1m.8 4.7h.1m.3 .4h.1m.8-1.8h.1m.7-2.3h.1m.9 3.1h.1m.7-3.3h.1m.8-1h.1m-55 14.2h.1m.1 2.6h.1m.1-.3h.1m.3 0h.1m.4-1.4h.1m.3 .1h.1m.8-1.5h.1m.1 .8h.1m.7-2.3h.1m.5 .4h.1m.1 1.3h.1m.9-1.3h.1m.5 1.6h.1m.6 1.6h.1m.4-2.2h.1m.4 1.5h.1m.2-2.2h.1m-7.3 8.1h.1m1-3.1h.1m0 3.2h.1m-0-2.7h.1m.6-.6h.1m.4-.4h.1m-.1 4.8h.1m-0-.1h.1m.8-4.1h.1m1.2 .6h.1m.5-1h.1m.4 4.4h.1m.2-2.2h.1m-.9 4.4h.1m.2-.8h.1" stroke="#6a5cb4" stroke-width="0.85" stroke-linecap="round" fill="none"/>
<path d="M81.8 210.7h.1m2.1-.9h.1m3.7 3h.1m-6.8 .5h.1m0-.3h.1m.2 3.4h.1m-0-1.7h.1m0 1.3h.1m4.3 2.3h.1m.1 .4h.1m.2-4.6h.1m.2 4.6h.1m2.2-.1h.1m3.5-.2h.1m-11 4.8h.1m-0 .1h.1m.6 1.6h.1m.1-1h.1m.2-4.5h.1m1.2 3.5h.1m.9 1.2h.1m-0-2.7h.1m0 2.9h.1m.3-.9h.1m-.1-.2h.1m2.1 .8h.1m-.1-1h.1m.6-1.3h.1m.5 .9h.1m.4 1.2h.1m.2-1.1h.1m-.1-.3h.1m-.1-2.4h.1m-.1 2.4h.1m.3 1.7h.1m.1-1.7h.1m.5 1.2h.1m0 .9h.1m-0-1.4h.1m.1 .1h.1m1.6 .6h.1m-0 .7h.1m1.2-.3h.1m-.1-.6h.1m0-1.7h.1m.5-.2h.1m.7 2.4h.1m1.1-1.5h.1m1.7-.5h.1m.1-.1h.1m-18.1 4h.1m.5 2.1h.1m-.1-.3h.1m1.1-.7h.1m.1-1.8h.1m.3 .9h.1m.4 .4h.1m.2-1.1h.1m.4 .8h.1m.7-.6h.1m0 1.1h.1m1-.5h.1m.8 .5h.1m.3-1.2h.1m.2 1.3h.1m.6 .6h.1m.7 1.1h.1m.1-.4h.1m0-.4h.1m.2-2.3h.1m.2 2.6h.1m.3-.4h.1m.2 .5h.1m1.2 .1h.1m-0-2.2h.1m1.6 .8h.1m1.8-1.9h.1m.1 1.2h.1m.2 .6h.1m-.1-.7h.1m.3-.1h.1m0 .5h.1" stroke="#a899d4" stroke-width="0.85" stroke-linecap="round" fill="none"/>
<path d="M84.2 211h.1m.8 .2h.1m.6-.9h.1m-.1-.6h.1m1.4 1.8h.1m.9-1.1h.1m0 1.6h.1m2.1-.3h.1m0 .8h.1m1.6-2.9h.1m.2 1.1h.1m.1-.4h.1m.4 1h.1m.6-1.7h.1m1.7 3h.1m-12 1.1h.1m.4 .5h.1m-0 2.1h.1m.5 2.4h.1m-.1-.3h.1m-.1-.1h.1m.1-1.8h.1m1.6-.3h.1m0-.2h.1m.3 .5h.1m.6-.6h.1m-.1-2.2h.1m-.1 2.8h.1m.1 1.7h.1m-0-4.6h.1m.4-.2h.1m.4 0h.1m.5 4.8h.1m-0-2.9h.1m.3 1.8h.1m.5-4.1h.1m.3 .8h.1m.1 4.9h.1m.2-3.5h.1m-0 3.6h.1m.3-.2h.1m-0-.1h.1m.4-1.5h.1m.4 1.8h.1m.2-3.9h.1m.2 2.5h.1m.4-.6h.1m.5-3h.1m.1 1.2h.1m.1 2.2h.1m.1 1.2h.1m1.2-.7h.1m.2-1.4h.1m-0 2.1h.1m-.1-.4h.1m.6-1.4h.1m.2 1h.1m.2-.5h.1m-14 2.9h.1m.6 0h.1m.8 .9h.1m.6 0h.1m1.5-.2h.1m.7-1.2h.1m2.6-.1h.1m2.7 1.4h.1m-.1-1.4h.1m.3 1.4h.1m.3-.6h.1m11.5 15.8h.1m0-.4h.1m1.3 .8h.1m.2-.3h.1m1.6-1h.1m2.6 .8h.1m2.6-.9h.1m.9 0h.1m-9.1 7.3h.1m3.1-1h.1m-.1 .8h.1m-.1-4.9h.1m1 .1h.1m.8 2.3h.1m-.1 .6h.1m.4-.9h.1m-.1 2.4h.1m1.7-3.3h.1m-55.1 12.3h.1m1.9 4h.1m1-2.8h.1m0 2.8h.1m.7-2.5h.1m.2-.1h.1m.6 .5h.1m-0-.3h.1m1 1.5h.1m-6 1.4h.1m1.4 1.4h.1m.2 1.3h.1m.9-.7h.1m.6 .5h.1m.1 2.1h.1m.9-4.5h.1m-0 4.1h.1m.1 0h.1m2.1-4.3h.1m-3.5 6.1h.1" stroke="#4c41a2" stroke-width="0.85" stroke-linecap="round" fill="none"/>
<path d="M81.4 210.7h.1m.8 1.5h.1m.7-1.2h.1m5.2 1.1h.1m5.3-.9h.1m-12.5 4.8h.1m-.1-2h.1m.3 3.3h.1m.5-.9h.1m-0-3.3h.1m-0 5.7h.1m.2-2h.1m.2-1.2h.1m.4 .7h.1m2.1 2.7h.1m2.9-1.6h.1m2.9-3h.1m1.9 .5h.1m-0 3.7h.1m-12.3 1.3h.1m0-.4h.1m-0 .9h.1m.4 3.1h.1m-.1-1.2h.1m-0-.8h.1m.1 0h.1m0 1.5h.1m.3-2.6h.1m0 3.8h.1m.4-4.9h.1m-.1 5.5h.1m.1-2.3h.1m.3-1.1h.1m.5 .6h.1m.4-.9h.1m.3 1.6h.1m.6-.7h.1m-.1-.3h.1m.2 1.4h.1m1-.2h.1m.1-1.8h.1m1.6 1.7h.1m.6-.4h.1m-0 1.2h.1m.2 .1h.1m.2 .6h.1m.6 .2h.1m.2-3.3h.1m.7 1.6h.1m1.5-1.6h.1m.5 .4h.1m.2 1.1h.1m.4 2h.1m-0-2.2h.1m.3 1.9h.1m1.8-4.4h.1m0 4.4h.1m.1-.1h.1m.1-4.8h.1m.5 3.1h.1m-18.2 4.2h.1m.1-.4h.1m.5 1.6h.1m.4 1.3h.1m-0-1.1h.1m.7 2.1h.1m-.1-4h.1m1.2-1.1h.1m1.3 4.9h.1m-.1 .9h.1m-0 0h.1m.8-4.7h.1m.1 4.2h.1m.1 .2h.1m-0 .3h.1m.1-2.3h.1m.6 1.3h.1m.3-1.4h.1m.2 1.3h.1m-.1-1.6h.1m.2-2.9h.1m-.1 4.7h.1m-0-2.6h.1m.1-2.3h.1m.5 4.6h.1m.4-3.4h.1m.5-.6h.1m-.1 2.5h.1m-.1 .5h.1m-0 .2h.1m1-1.3h.1m-.1-1.6h.1m.1 2.7h.1m-.1-2h.1m.4 1.1h.1m-.1-2.1h.1m0 2.4h.1m.2-.1h.1m.7 .1h.1m.2-.7h.1m.3 .9h.1m.7 .9h.1m.6-1.6h.1m-13.4 5.2h.1m.3-1.1h.1m.1 4.1h.1m2.6-2.8h.1m-.1 .5h.1m1.3-1.2h.1m1.3-.4h.1m21.6 4.6h.1m2.8-.2h.1m.3-2.1h.1m.3 1.8h.1m1.1 .3h.1m0-.4h.1m-8.7 6h.1m.4-4.7h.1m1.4 4.3h.1m2.3-2h.1m.2 2.8h.1m.6-2.3h.1" stroke="#9d8fcf" stroke-width="0.85" stroke-linecap="round" fill="none"/>
<path d="M80.9 212.2h.1m.2 .4h.1m.7-1.7h.1m.7 1.5h.1m.5-1.9h.1m-.1 .7h.1m1.3 1.2h.1m1.9-3.1h.1m-5.2 8.1h.1m-0-3.1h.1m.3-.7h.1m-0 3.3h.1m1-3.1h.1m-0 5.2h.1m.3-.7h.1m-.1-2.1h.1m-.1-1.6h.1m-0 2.1h.1m.9 .7h.1m1.6 1.2h.1m.8-1.4h.1m2-.2h.1m3.9-3.2h.1m2.2 3.3h.1m.7-.7h.1m.8 .7h.1m-16 6.2h.1m.3 1.4h.1m.2-3h.1m.2-.3h.1m0 .9h.1m-0-.2h.1m1 2.3h.1m.4-2h.1m.1 1.2h.1m.9 1.3h.1m.7 0h.1m.3-1.7h.1m.1-3.9h.1m.1 3.7h.1m-0-1.8h.1m-0 2.1h.1m-.1-.6h.1m.8-.9h.1m1.3 2.8h.1m-.1-2.4h.1m.6-.7h.1m.6 1.3h.1m.3 .7h.1m-.1-2.2h.1m1.3 1.9h.1m1.3 .5h.1m.3-.8h.1m.1-.8h.1m.9 0h.1m.3 .5h.1m.6 1.4h.1m-0-1.6h.1m0 2.1h.1m1.6-.3h.1m-17.5 2.1h.1m-0-1.1h.1m.3 1.2h.1m.1 1.8h.1m.9 .1h.1m.4-1.6h.1m.2-1h.1m-0 1.7h.1m.1 1h.1m1-1h.1m.7-1.2h.1m2 2.4h.1m.2-.3h.1m0 0h.1m.1 .5h.1m0-2.6h.1m.1 2h.1m.5-1.7h.1m.1-1.3h.1m-.1 .6h.1m.4 .4h.1m.5 1.3h.1m.9-2.2h.1m.9 1.5h.1m.4 0h.1m.7-1.6h.1m.7 2.3h.1m-0 .1h.1m.1 .6h.1m1.1-1.6h.1m.4 0h.1m.3-.1h.1m.6 0h.1" stroke="#8f80c6" stroke-width="0.85" stroke-linecap="round" fill="none"/>
<path d="M84.2 209.7h.1m-0 2.6h.1m1.6 0h.1m.2-.1h.1m.1 0h.1m.1-2.1h.1m-.1 2.6h.1m1-.7h.1m.7-1.6h.1m-.1 1.7h.1m1.5-2.8h.1m.3 3.3h.1m5.4-.8h.1m-11.8 7.2h.1m.3-.4h.1m.9-4.1h.1m-.1 1.8h.1m0-3.3h.1m-.1 1h.1m.3 1.2h.1m.2 3.1h.1m.4-1.9h.1m.9 1.3h.1m-.1 .5h.1m0 .7h.1m.7-3.1h.1m.1 2.8h.1m.5-3.8h.1m.5-1h.1m-0 4.7h.1m.1-2.3h.1m.2-1.1h.1m.9-1.5h.1m.2 1.3h.1m0 2.5h.1m.8 1.6h.1m1-2.7h.1m-.1 1.3h.1m-0 1.3h.1m-.1-3.6h.1m-0-2.2h.1m0 4.7h.1m.8-4.1h.1m1.2 0h.1m.6 .2h.1m1.2 4.1h.1m-12.5 1.1h.1m5.6 .4h.1m1.2 1.3h.1m.3-1.5h.1m.5 0h.1m.8-.1h.1m.8 .2h.1m0-.2h.1m1.8 1.1h.1m.5 0h.1m.2-.1h.1m.1-.9h.1m10 16.1h.1m1.5-.3h.1m0 1.5h.1m.9-.9h.1m4.1 .9h.1m.6-.8h.1m0 .2h.1m-6.1 6.5h.1m.3-.7h.1m1.9-2.2h.1m.4 .9h.1m.5 .6h.1m.6 .5h.1m-53.1 12.4h.1m.8-4.1h.1m0 4.9h.1m1.2-3.9h.1m-0 .4h.1m1 3.4h.1m1.4 0h.1m.9-3.6h.1m-0-.4h.1m.3 2.3h.1m-7.4 5h.1m0-1h.1m.2 3.3h.1m1.4-.8h.1m.3 1.4h.1m.4-2.6h.1m1.3 .7h.1m.3-.9h.1m.3 2.1h.1m1.3 0h.1m-5.3 1.4h.1m1.2 .2h.1m.5 0h.1" stroke="#5a4cab" stroke-width="0.85" stroke-linecap="round" fill="none"/>
<circle cx="41.60" cy="201.60" r="5.10" fill="#3a3a3a"/>
<circle cx="46.29" cy="201.60" r="0.61" fill="#3a3a3a"/>
<circle cx="43.95" cy="205.66" r="0.61" fill="#3a3a3a"/>
<circle cx="39.25" cy="205.66" r="0.61" fill="#3a3a3a"/>
<circle cx="36.91" cy="201.60" r="0.61" fill="#3a3a3a"/>
<circle cx="39.25" cy="197.54" r="0.61" fill="#3a3a3a"/>
<circle cx="43.95" cy="197.54" r="0.61" fill="#3a3a3a"/>
<polygon points="41.60,196.91 42.82,199.48 45.66,199.25 44.05,201.60 45.66,203.95 42.82,203.72 41.60,206.29 40.38,203.72 37.54,203.95 39.15,201.60 37.54,199.25 40.38,199.48" fill="#bdb8b1"/>
<circle cx="41.60" cy="201.60" r="2.75" fill="#bdb8b1"/>
<g transform="translate(50.60,198.00) scale(1.040)"><path d="M0 2.5 C0.7 1.8 1.4 1.4 2.1 1.3 L3.4 0.2 L4.3 0.1 L4.8 0.8 C6 0.7 7.2 0.6 8.4 0.9 C10.2 1.3 11.8 2.2 13.0 3.4 C13.8 4.2 14.4 4.8 14.4 5.4 C14.4 6.1 14.1 6.5 13.8 6.6 L12.2 7.0 L10.2 7.7 L8.0 7.8 L9.8 7.1 L10.8 6.4 C9 6.0 7.5 5.8 6.2 5.7 C5.2 5.6 4.6 5.8 4.1 6.2 L2.1 6.9 L2.0 6.6 L3.4 5.8 C2.5 5.2 1.8 4.5 1.5 3.9 C1.0 3.4 0.4 3.0 0 2.5 Z" fill="#2a2a2a"/><path d="M14.3 5.6 C15.6 5.9 16.6 6.4 16.7 7.4 C16.5 8.4 14.6 8.6 12 8.1" fill="none" stroke="#2a2a2a" stroke-width="0.55"/></g>
<g filter="url(#bl1)">
<polygon points="185.0,213.8 190.2,210.9 196.1,207.9 200.5,210.2 206.4,210.2 207.7,222.0 205.7,232.0 199.7,236.0 193.7,232.0 187.7,226.0 185.2,219.0" fill="#b8acdc" opacity="0.55"/>
<polygon points="206.4,210.2 212.3,208.7 219.6,209.4 224.0,213.8 225.5,219.7 225.5,225.6 222.6,230.0 218.9,231.5 213.7,234.5 209.3,236.7 205.7,232.0 207.7,222.0" fill="#c0b4e0" opacity="0.55"/>
<polygon points="188.7,231.0 195.7,230.0 201.7,236.0 199.7,244.0 197.5,247.7 193.7,244.0 190.2,238.0" fill="#c8bce2" opacity="0.55"/>
<polygon points="207.7,242.0 213.7,241.8 222.6,253.6 218.7,262.0 213.7,268.3 207.7,262.0 204.9,253.6" fill="#b0a4d8" opacity="0.55"/>
<polygon points="221.1,236.0 227.7,234.5 234.3,236.0 234.3,246.2 227.7,246.2 221.7,244.0" fill="#ccc2e6" opacity="0.55"/>
<polygon points="232.7,236.0 237.7,233.7 244.7,234.0 244.7,240.0 238.7,243.3 233.7,243.0" fill="#a496d0" opacity="0.55"/>
<polygon points="224.0,251.0 226.7,251.0 237.7,260.5 245.7,267.5 244.2,270.5 235.7,265.5 223.2,254.0" fill="#b8acdc" opacity="0.55"/>
<polygon points="169.5,252.1 175.4,249.2 182.8,249.9 190.2,249.2 196.1,250.7 195.3,256.6 193.1,263.9 197.5,265.4 190.2,271.3 184.3,277.2 181.3,284.5 179.8,290.4 176.9,284.5 172.5,277.2 168.1,268.3 166.6,261.0 167.3,255.1" fill="#d4cae8" opacity="0.55"/>
<polygon points="193.7,232.0 209.7,236.0 221.7,232.0 225.7,236.0 223.7,248.0 217.7,250.0 209.7,246.0 201.7,248.0 195.7,244.0" fill="#ece6f4" opacity="0.55"/>
</g>
<path d="M190 211.5h.1m.5 .8h.1m1.2-2.3h.1m.5 .5h.1m.4 .9h.1m.2-1.1h.1m1.1 .2h.1m-.1-1.3h.1m1.2 .4h.1m.6 1.7h.1m.2-1.7h.1m-.1-.4h.1m-0 .3h.1m-0 1.3h.1m.4 0h.1m-0-.3h.1m2 1.5h.1m.1-.2h.1m1.1 .6h.1m1-1.5h.1m2 1.6h.1m.9-2h.1m4.4 .1h.1m.4 1h.1m-.1 .2h.1m.3-1.9h.1m.6 .3h.1m.9 .4h.1m.7-.6h.1m-.1 .4h.1m.7 2.3h.1m.5-1.9h.1m1.1 1.7h.1m.2-.7h.1m.6-1.7h.1m.9 .4h.1m-0 .1h.1m-.1-.9h.1m.3 2.1h.1m1.3-.6h.1m.4-.8h.1m-.1-.1h.1m1.8 2.6h.1m-36.3 2.6h.1m.7 2.5h.1m-.1-.3h.1m1.7-3.5h.1m.1 3.6h.1m.7-2.5h.1m.3-1.5h.1m-0 1.9h.1m1.4 .8h.1m-.1 2.1h.1m-0-1.3h.1m-0 1h.1m0-4.3h.1m-.1 1.6h.1m.3 2.9h.1m1-4.2h.1m.9-.1h.1m.1 4.8h.1m.2-4.3h.1m1.1 1.5h.1m.9 .9h.1m1.2-2.8h.1m.2 3.5h.1m1.5-1h.1m.1 1.7h.1m-0-2.8h.1m.6 1.7h.1m.1-2h.1m.3-1.9h.1m.6 3.1h.1m.2-3.6h.1m.1 3h.1m.4 2.4h.1m-.1 .3h.1m.8-.8h.1m-.1-.8h.1m.5-3.8h.1m-.1 1.6h.1m.8 1.1h.1m.9 2.7h.1m1.2-1.8h.1m.1-.1h.1m.3-2.4h.1m.1-.2h.1m.1 2.3h.1m.3-.8h.1m.3-1.9h.1m.5 5h.1m-0-4.4h.1m.1 2.4h.1m.2-2.1h.1m.5 3.3h.1m.8-.4h.1m.9 1.1h.1m.3-4.9h.1m.1 4.7h.1m.5-.3h.1m.1-4.7h.1m.2 1.1h.1m.6-.3h.1m.1 .6h.1m.4 .1h.1m.1-1.2h.1m.1 2.5h.1m.2 2.1h.1m2.4-3.5h.1m.2-1h.1m.9 3.6h.1m.4-3.9h.1m.1 3.9h.1m.1-3h.1m-.1-.9h.1m0-.6h.1m-0 5.7h.1m.3-2.6h.1m.1 2.5h.1m.7-4.9h.1m1 4.4h.1m-38.5 3.8h.1m-0 .6h.1m.1 .3h.1m-0 .1h.1m.2-2.1h.1m.3-.3h.1m-0-.9h.1m.4 1.4h.1m0 3.9h.1m.3-3.2h.1m-.1-1.4h.1m.7 4.2h.1m-0-.2h.1m.6 .4h.1m-0-.3h.1m-.1-.1h.1m.2-.2h.1m-.1-3.8h.1m.6 2h.1m.4-2h.1m1.1 2.1h.1m.2 2.5h.1m.1-.1h.1m.2-4h.1m-.1 2h.1m.2 1.9h.1m0-1h.1m-0-1.8h.1m.5 .1h.1m.2-2.8h.1m-.1 1.5h.1m-0 .3h.1m1.1 .7h.1m.5-.6h.1m.4-1.7h.1m1 1.8h.1m.6 .8h.1m.9-1.7h.1m.2 .9h.1m.4 .3h.1m.5-.3h.1m-0-.8h.1m1.9 .6h.1m.3 2.5h.1m1.7 .1h.1m.4 1.3h.1m.1-1.6h.1m-.1 1.2h.1m.1-5.3h.1m1.7 2.6h.1m-.1 2h.1m.3-1h.1m1.1-3h.1m.6 0h.1m.6-.2h.1m-0 3.4h.1m1.3 1.3h.1m.1-4.5h.1m1.7 5h.1m.3-1.1h.1m.1-.2h.1m.3-4.2h.1m-.1-.1h.1m1.6 3.6h.1m.5-3h.1m.7 .4h.1m.5 1h.1m-.1 1.1h.1m-0-.4h.1m-.1-1.7h.1m1.1 .5h.1m.5 3.4h.1m.3-4.2h.1m.3 2.9h.1m1.5-1.8h.1m-.1 2.7h.1m.1-1.7h.1m-0 1.5h.1m.1-4.4h.1m-.1 3.8h.1m-36 2.3h.1m.7 .6h.1m.7-.8h.1m.9 4.9h.1m-0-2.5h.1m-.1 .2h.1m.2 2.6h.1m-.1 .7h.1m-0-1.1h.1m.2-4.5h.1m.5 4.6h.1m.3-4.3h.1m-0 3.8h.1m1.3-2.3h.1m.1 .6h.1m.7 1h.1m-0-1.2h.1m1.8 1.4h.1m.3-2h.1m.6 3.8h.1m1.8-1.7h.1m.1 .6h.1m.1-1.7h.1m.8 2.4h.1m.3-1.9h.1m.5 2.3h.1m1.4-.3h.1m.3-1.6h.1m.6 1.5h.1m.9 .7h.1m.2-1h.1m.6 .2h.1m.1-4.4h.1m.3-.7h.1m1 2.9h.1m.2-1.9h.1m.5 4.1h.1m-.1-2.3h.1m.1-2.4h.1m.3 5.5h.1m1.1-1.3h.1m1.1-.9h.1m1.3 2.2h.1m.1-2.6h.1m.3-.7h.1m2.6-1.4h.1m.2 3.7h.1m-.1-1.9h.1m.1 1.2h.1m-0 .4h.1m-.1-3.4h.1m-.1 3.9h.1m.2-4.4h.1m.2 4.4h.1m.4-.1h.1m.6-.3h.1m-30.3 3h.1m1.2 3.9h.1m-.1-1.5h.1m-0-3.2h.1m2.6 3.9h.1m.5-3.8h.1m.8 2.1h.1m.5-3.1h.1m-.1 2.2h.1m.2-2h.1m1.2 4.1h.1m.5-4.2h.1m1.3 2.3h.1m.3 1.9h.1m-0-2.9h.1m-0 2.2h.1m.1 1.4h.1m.1-4.9h.1m-.1 4.4h.1m.1-.9h.1m1.4-3.6h.1m.9 1.7h.1m-0-1.2h.1m-0 .2h.1m2.6-.2h.1m.3 2.2h.1m1-1.5h.1m1.3 2.3h.1m.4 .4h.1m.1-1.7h.1m1.3-.7h.1m.2 .4h.1m1.8 .4h.1m.4-.7h.1m20.9 3.3h.1m.6-.2h.1m4.9 .4h.1m1.5 .2h.1m-50.2 1.8h.1m.2 1.2h.1m1 3.5h.1m-.1-.6h.1m.5 .1h.1m.3 .4h.1m-.1-.7h.1m.1-4h.1m-.1 1.8h.1m.5-2.8h.1m.7 5.5h.1m-0-2.5h.1m14 2.2h.1m3.3 .4h.1m19.3-.7h.1m.5 0h.1m3.3-1.6h.1m.5-.9h.1m4.2-.9h.1m-48.5 4.9h.1m1.4 .8h.1m3-.4h.1m0 .1h.1m.5 .1h.1m7.2 2.2h.1m.3-.2h.1m.6-.6h.1m.2 .4h.1m.1 .6h.1m.8-3.3h.1m-.1 2.7h.1m.4 .8h.1m1.7-2.2h.1m2.5 3.3h.1m.2-3.8h.1m.6 0h.1m1.4 1.7h.1m-11.1 7h.1m.5-1.3h.1m1-2.1h.1m.8 3.6h.1m-.1-3.6h.1m1.2-.1h.1m.1 .9h.1m.5 1.5h.1m2.5 3.4h.1m.7-3.8h.1m1.2 .2h.1m1.3-1.7h.1m.6 1.7h.1m-0-1.1h.1m.7 .3h.1m-.1 1.2h.1m.2 1.5h.1m.2-3.9h.1m1.9 1.7h.1m4 2.4h.1m0 1.5h.1m1-2.3h.1m.4-.4h.1m-18.9 7.5h.1m-0 .8h.1m4.1-4.2h.1m4.6 4.1h.1m1.2-1.4h.1m-0-1.5h.1m.3 .1h.1m2.2-.9h.1m6.3 .3h.1m2-.1h.1m-.1-.5h.1m.7 0h.1m.4 3.3h.1m.5-1.7h.1m.2 1.9h.1m1-3.1h.1m.3 .5h.1m1.2 1.8h.1m.2-.7h.1m-23.8 2.7h.1m1.5-.1h.1m.5 1.6h.1m2.1 .1h.1m.6-.8h.1m18 1.5h.1m.9 0h.1m.8-.5h.1m1 0h.1m1.5-1.6h.1m.6 4.8h.1m.8-2.1h.1m.3 .6h.1m1.8 .5h.1m-.8 3.3h.1m-0-.8h.1" stroke="#9d8fcf" stroke-width="0.85" stroke-linecap="round" fill="none"/>
<path d="M193.7 211.5h.1m.7-.9h.1m-0-.1h.1m2.8-.2h.1m.2 .6h.1m.6 .8h.1m1.3 0h.1m2.4-.5h.1m.8-.5h.1m2.1 .9h.1m1 .6h.1m.7 .7h.1m.2-1.7h.1m3.1-.9h.1m.1 2.2h.1m1.8-.4h.1m-0-1.2h.1m1.2-.1h.1m1.7-.6h.1m0 1.4h.1m.2-2.4h.1m1.8 .6h.1m.1 1.7h.1m.2-.7h.1m.5-.5h.1m-.1 1.1h.1m-0 .3h.1m1.5 .6h.1m-34.8 4.5h.1m1.9 2.2h.1m-.1-1.8h.1m-0 .7h.1m.6-3.1h.1m2.8 1.4h.1m.5 .6h.1m-.1-2h.1m.4 3.3h.1m-.1-3.9h.1m.1 4.7h.1m.6-4.5h.1m.4 2.4h.1m1.2-1.3h.1m.3-2.1h.1m.3 4.1h.1m.2 1.1h.1m.4-1.7h.1m0-2.8h.1m-0 4.7h.1m.3-2.2h.1m1.5-1h.1m1.3 3.3h.1m1.4-4.1h.1m.7-1.5h.1m-0 2.2h.1m.2 2.6h.1m.4 0h.1m.2-2.7h.1m-.1 1.8h.1m1-.3h.1m.2-1.1h.1m-.1-2.8h.1m.9 1.4h.1m.6-.9h.1m.8 2.4h.1m-0-1.9h.1m.6 1.6h.1m-0-.2h.1m0-1.3h.1m.4 4.7h.1m.6-2.5h.1m1.8 2.1h.1m.7-.2h.1m.3-3.8h.1m.4-.1h.1m1.4 .9h.1m1.1 1h.1m.1-1.3h.1m2-.1h.1m.8 1.4h.1m.1-2.7h.1m.9 3.4h.1m1 2.1h.1m-.1-4.9h.1m1 3h.1m.3 .1h.1m-38 2.9h.1m-0 1.9h.1m.2 1h.1m-.1-.9h.1m.1-1.2h.1m.2 .6h.1m.7 2.8h.1m-.1-1.3h.1m.1 0h.1m2.2 .9h.1m.2-.8h.1m1.9-1.1h.1m.1-.9h.1m.2-.6h.1m.1-1.2h.1m1.9 3.9h.1m2 1.1h.1m.2-4.7h.1m-0 .8h.1m-0-1h.1m.8 2h.1m.2 .3h.1m.6-1.7h.1m.4 1.4h.1m.1 0h.1m-.1-.7h.1m2 .3h.1m1.6-1.6h.1m-0 2.5h.1m.1-1.6h.1m.2-.8h.1m-.1-.2h.1m0 3.8h.1m.4-.5h.1m.4-2.4h.1m.9 4.6h.1m.1-.6h.1m.2-2.8h.1m.3-1.1h.1m.8 2.6h.1m.9 1.6h.1m.2-.5h.1m.2-2.9h.1m1.7 1.8h.1m-.1-.5h.1m-0 .5h.1m.4-1.8h.1m.1 3.4h.1m.4-.1h.1m.3-.8h.1m.2 1.3h.1m-.1-5.4h.1m.4 1.3h.1m.2 2.5h.1m-0-4.2h.1m.4 4.8h.1m-0-1.3h.1m-0 .1h.1m-.1-1.1h.1m.1 1.8h.1m-0-4.3h.1m-.1 .6h.1m.8 3.9h.1m3.4-.9h.1m1.1 .3h.1m.1-2h.1m-.1-.1h.1m0 2.5h.1m.1 .6h.1m.3-1h.1m1.3-1.1h.1m-0 0h.1m-0-.6h.1m-34.5 4.3h.1m2.3 4.9h.1m-.1-.7h.1m.3-.5h.1m.6-3h.1m.6 3h.1m.6-1.6h.1m-.1-.5h.1m.3 3.2h.1m.3-3.9h.1m-.1 1.3h.1m.1-1.9h.1m.1 1.1h.1m2 .7h.1m.7-.5h.1m.2 3.4h.1m.1-1.7h.1m1.8-.2h.1m.5-1.5h.1m.9-1.3h.1m1.4 4.7h.1m.6-2.6h.1m.2 2.3h.1m.4-5.1h.1m.8 2.8h.1m.3-1.8h.1m.3 3.9h.1m-0 .7h.1m.3-5.6h.1m1.8 4.7h.1m.2-3h.1m-0 3.5h.1m.9-1.5h.1m.2 .6h.1m1-1.3h.1m.1-1.1h.1m0 3.1h.1m-0-3.4h.1m.2-.5h.1m.2 .5h.1m.2-.2h.1m1.3-.7h.1m.4 4.6h.1m.1-3h.1m2.2-1.4h.1m0 4.7h.1m.2-4.7h.1m1.4 4.6h.1m.6-.4h.1m.3-4.5h.1m0 .1h.1m1.9-.9h.1m.2 1.7h.1m-34.6 6.2h.1m.4 1.8h.1m-0 0h.1m0-2.8h.1m1.3 .8h.1m.2-.3h.1m1 2.2h.1m2.1 1.3h.1m-0-1.4h.1m.5 2.3h.1m.2-2.6h.1m-.1 1.7h.1m.9-4.1h.1m.2 3.3h.1m.9 .1h.1m.3 0h.1m.4-4h.1m.1 3.1h.1m1-2.6h.1m2.4 1.3h.1m.1-1.8h.1m3.2 1.5h.1m1.5 .8h.1m-0-1.3h.1m.5-.7h.1m.4 2.4h.1m-0 2.5h.1m-.1-2.9h.1m.2 0h.1m1.8 .5h.1m-0-.1h.1m1.4-2.2h.1m.2 2h.1m2.6-1.7h.1m-.1 .9h.1m-0-.1h.1m22.5 3.4h.1m5.2-.4h.1m-53.4 3.5h.1m0 0h.1m.4 .5h.1m1 0h.1m.8-2.7h.1m1.1 4.5h.1m.3-.5h.1m-0-2.9h.1m.7 1.8h.1m.4 2.4h.1m.4-4h.1m2-.7h.1m9.4 5.1h.1m1.7-.3h.1m2-.1h.1m.5-.5h.1m20.4-2.3h.1m4.2 .6h.1m1.4 .5h.1m.2 1.8h.1m2.5-2.4h.1m1.2-3h.1m-0 1.9h.1m-49.7 4.9h.1m.6 .5h.1m2 2.1h.1m.7-2.3h.1m.2 1.4h.1m.3-1.3h.1m7.8 3.8h.1m-.1 .6h.1m2.8-4.5h.1m-0 1.9h.1m.4 .5h.1m.5-3.2h.1m.3 4.8h.1m1.7-1.5h.1m-.1 .7h.1m.6-1.7h.1m.1 .7h.1m1.1 .2h.1m.8 1.9h.1m.1 .3h.1m1.4-1.6h.1m-10.2 2h.1m1.3 1.5h.1m.5-.8h.1m.8 .8h.1m-0 .7h.1m.3 2h.1m.6 1.6h.1m.6-.3h.1m.1-4.4h.1m.3-1.2h.1m1.4-.1h.1m1 2.1h.1m.2-1.3h.1m.3 1.3h.1m2.7 .2h.1m6.2 2.3h.1m1.3-.7h.1m.5 .9h.1m.8 .4h.1m.5 .7h.1m.3-.2h.1m-22.2 3.9h.1m-0 .7h.1m.5 1.3h.1m.3-.4h.1m.7-4.9h.1m4.3 1.9h.1m1.2 2.5h.1m1.1-2.2h.1m3 1.6h.1m1-3.4h.1m7.9 .8h.1m.2 1.7h.1m2.4-1.5h.1m.2 0h.1m.3-.7h.1m1.8 3.7h.1m1.1 .2h.1m-22.5 1.2h.1m3.5 .6h.1m1.1-.3h.1m17.1 0h.1m-0 1.8h.1m1.7 2h.1m1.6-3.6h.1m-0 0h.1m.2 4.8h.1m1.4-1.4h.1m-.1-.8h.1m2 .7h.1m-2.2 2.5h.1m2.1 1.1h.1m1 1.2h.1m.4-1.1h.1m-.1 1.4h.1" stroke="#a899d4" stroke-width="0.85" stroke-linecap="round" fill="none"/>
<path d="M215.1 205.4h.1m-26.2 7.4h.1m7.4-4.6h.1m5.3 4h.1m3.1 .3h.1m.8-.6h.1m.2 .7h.1m.3 .3h.1m2.7-2.6h.1m2 1h.1m2.9 1.5h.1m1.1-1.1h.1m2 .2h.1m3 .7h.1m-29.4 5.4h.1m1.1-3.2h.1m.8-1.2h.1m-0 3.2h.1m.9-1.7h.1m4.4 2.4h.1m.4 .5h.1m1.6-4.3h.1m1.2 1.7h.1m3.4-1.3h.1m1.5-.7h.1m.5 .1h.1m1.3 2h.1m.2-.5h.1m2.2 4h.1m.3-.7h.1m.6-5.3h.1m.2 2.8h.1m.9-.1h.1m.8 .4h.1m4.5 2.4h.1m2.4-2.5h.1m18.6-.1h.1m-55.5 4.2h.1m1.4-.2h.1m.9 1.8h.1m.1 .4h.1m.1 1.8h.1m.9-3.4h.1m.8-.1h.1m2.1 .6h.1m-.1-.8h.1m4.7-.4h.1m.4 5.1h.1m1.2-4.9h.1m1.4 4.2h.1m3-3.8h.1m.8 .9h.1m.2 2.4h.1m.6-3.8h.1m4.3 2.8h.1m2.9-.4h.1m1.6-.5h.1m2.5 .8h.1m1.1-1.3h.1m.3 2h.1m1.9-4h.1m1.6 4.7h.1m1.9 .6h.1m-35.2 2.6h.1m.4-.8h.1m2.5 4h.1m.5-5.3h.1m3.9 4.4h.1m1.2-1.7h.1m1.9-2.4h.1m.7 1.1h.1m.4-.6h.1m.5 .2h.1m2.7 4.1h.1m.9-4.4h.1m1.3 4.6h.1m1-5.2h.1m.8 3.6h.1m2.3-1.2h.1m1.8-.2h.1m3-2h.1m2.3 .4h.1m0-.6h.1m.6 2.1h.1m1 .5h.1m1.6-2.5h.1m-34 10.6h.1m4.5-3.9h.1m.9 1.1h.1m2.8 .3h.1m2 .6h.1m.2-.7h.1m3.1-1.5h.1m1.8 4.6h.1m.9-4.8h.1m1.9 4.5h.1m-0-3.2h.1m.9-1.7h.1m.1 4.4h.1m3.2-1h.1m.5 .9h.1m.3 .7h.1m-.1-2.7h.1m.1 2.9h.1m4.5-.4h.1m1.7 .3h.1m1.1-2.3h.1m1.4 1.8h.1m-0 .5h.1m.5-2.7h.1m.5 2.2h.1m4.8-.3h.1m1.9 .5h.1m1.2-.1h.1m5.1-4.3h.1m7.6 4.7h.1m-59.5 2.4h.1m.7 2.4h.1m3.4-1.4h.1m2 .6h.1m2.3-.5h.1m-0 1.6h.1m.4-3.2h.1m.4 3.1h.1m1.4-2.8h.1m1.1 2.5h.1m2.9-.3h.1m3.1-3h.1m2.2 .5h.1m.4 1.5h.1m1.9 1.7h.1m.6 1h.1m5.5 .3h.1m6-.1h.1m.4-3.7h.1m.5 2.6h.1m.3-3.4h.1m.1 1.4h.1m-.1-.8h.1m.4 .6h.1m.1 2.3h.1m.1-4.6h.1m2.1 3.2h.1m-.1-1.9h.1m-0 4.1h.1m.5-.7h.1m3.9-2.4h.1m1.3-1.4h.1m.3 .9h.1m-32.6 7.1h.1m2.8-1.1h.1m.4-1.6h.1m3.6 4.8h.1m2-4.2h.1m2.2 2.5h.1m3-1.2h.1m.3 0h.1m-0 0h.1m4.6 1h.1m.5-2.2h.1m1 1.8h.1m.2-2.1h.1m.3-.4h.1m3.7 2.2h.1m2.3 0h.1m2.9-.2h.1m.5-1.7h.1m11.1 5.3h.1m-76.1 5.7h.1m1.8 .4h.1m.1-.5h.1m-0-.9h.1m.8 1.2h.1m.3-.1h.1m.1-.8h.1m.1 0h.1m.8 1.2h.1m.2-3h.1m1.6-1.8h.1m-.1 2h.1m.1-.7h.1m-.1 1.3h.1m.5 2h.1m1.2-1.5h.1m.5-3h.1m.4 3.6h.1m.5 .3h.1m.8-1.4h.1m.7 .2h.1m.2 .4h.1m1.7-.8h.1m1.6-1h.1m2 2.8h.1m.3-.1h.1m.6-.4h.1m-0 .4h.1m.7 .6h.1m.7-2.7h.1m-.1 0h.1m.7 2.2h.1m1.7 0h.1m.2 .6h.1m.2-2.2h.1m-.1-1.1h.1m2.6 .1h.1m-27.7 7h.1m.4 .5h.1m1.3 1.4h.1m-0-3.3h.1m.2 1h.1m1.5 .9h.1m.8-1h.1m.9 .5h.1m-0-1.2h.1m.4 1.2h.1m-0-3h.1m1.4 3.6h.1m3.9 1h.1m-.1-4.7h.1m.8 4.8h.1m.1-2.5h.1m.8-.8h.1m-0 3.4h.1m-.1-5h.1m.1 .7h.1m.5 1.1h.1m.3 1.9h.1m.3-3.9h.1m-.1 1.6h.1m2.6 2.7h.1m.3 0h.1m.1-2.4h.1m-.1-1.6h.1m1.3 2.9h.1m-0-1.8h.1m.9-.9h.1m1.4 2.7h.1m-0-2.1h.1m-.1-.2h.1m.2 4.2h.1m.1 .1h.1m1.4-2.3h.1m.1 2.1h.1m-0-4.1h.1m.3 .1h.1m21.2 3.8h.1m12.8-.5h.1m13.6 1h.1m4.6-.3h.1m-79 4.6h.1m.7 1.4h.1m-.1-2.6h.1m1.4 1.2h.1m.9 .9h.1m-0-.8h.1m.3 0h.1m2.1-3.2h.1m.3-.6h.1m1.5 3.7h.1m.2-.8h.1m-.1 2.6h.1m.4-1.9h.1m.3-2.7h.1m-0 1.6h.1m-.1-1.1h.1m-0-1.6h.1m.2 5.1h.1m.2-2.8h.1m.2-1.9h.1m.5 .1h.1m1 2.6h.1m-0-2.3h.1m.7 1.5h.1m.7-.8h.1m.3 2.1h.1m.6-1.1h.1m.5 .4h.1m.4 .5h.1m1.5 1.4h.1m.1-3.7h.1m.1 2.9h.1m.3-1.2h.1m.5-1.9h.1m.2-.4h.1m-0-.6h.1m-0 5.4h.1m-.1-.8h.1m.6-.1h.1m.1-2.7h.1m.6 2.3h.1m.3 .7h.1m.1-4.2h.1m.2 3.3h.1m1.5-1.5h.1m.2 .2h.1m-0 2.8h.1m.7-2.8h.1m.9 2.9h.1m-0-2.5h.1m.7 2.1h.1m45.9-4.7h.1m-71.7 5.7h.1m-.1 1.9h.1m1.2 0h.1m1.2-.1h.1m2.1 3h.1m.2-1.6h.1m1.3-2.9h.1m.9-.1h.1m.3 5h.1m.9-.9h.1m.4-1.8h.1m.2-1.6h.1m.1 1.6h.1m.3 1.8h.1m.1-2.2h.1m-.1 .4h.1m.4-2.5h.1m1.9 3.1h.1m.6-2.2h.1m-0 .8h.1m-.1 .6h.1m1.6-.3h.1m1 1.8h.1m.3-1h.1m1.9 .3h.1m-0 .2h.1m1.5 1.1h.1m.3-4h.1m.2 .3h.1m.5 3h.1m-.1-3.7h.1m-19.6 6.4h.1m.3 1h.1m.1 .1h.1m.7 1.3h.1m.9-2.9h.1m.1 2.1h.1m-.1 1.9h.1m.2 0h.1m.5-3.9h.1m-.1 .1h.1m-0 4.8h.1m1-4.5h.1m.2 3.5h.1m1.1-1.4h.1m.3-.7h.1m.6 2.3h.1m2.4-4.2h.1m.2 2.3h.1m.2 2.8h.1m-.1-2h.1m1-1.2h.1m.3-.8h.1m.4 .9h.1m.3 .2h.1m1.6 .4h.1m-.1-.9h.1m.9 1.4h.1m1-2.7h.1m5.6 2.4h.1m10.6-2h.1m5.9 3.5h.1m5-3.1h.1m4.8 2.5h.1m-44.8 4.6h.1m.1 .3h.1m.5-2.2h.1m2.4-.1h.1m1.5 4.9h.1m.1-2.6h.1m-.1 2.2h.1m.8-1.1h.1m.4 .1h.1m.1-2.9h.1m7.1 1.6h.1m30 .8h.1m-39.8 4.4h.1m4.6 3.6h.1m7.3-3.6h.1m9.5 .4h.1m22.4 .1h.1m9-.2h.1m3.5 1.9h.1m-48.3 3.8h.1m-17.2 5.4h.1m47.6-.9h.1" stroke="#c3b6e0" stroke-width="0.85" stroke-linecap="round" fill="none"/>
<path d="M188.1 212.7h.1m2.1 .1h.1m1.5-1.7h.1m.6 1.8h.1m-0-1.3h.1m1.4-1h.1m1.2-.8h.1m.2 1.9h.1m.4-.7h.1m.6 .5h.1m.3-.5h.1m.2-.8h.1m1.2-.7h.1m.8 2.2h.1m5.4 .7h.1m.7-.6h.1m.5-1h.1m3.1 1.6h.1m.3-1.9h.1m.9 .6h.1m.4-1.7h.1m.1 1.9h.1m.1-2.5h.1m1.8 1h.1m0 1.8h.1m-0 1h.1m.3-.6h.1m-0-2.7h.1m-0 3.1h.1m-.1 .2h.1m.7-.7h.1m1.3-.3h.1m1.5-.8h.1m1 .9h.1m.7-1.1h.1m0 2.2h.1m-35.7 1.9h.1m.4 1.1h.1m.3-.2h.1m.4 .5h.1m4.5 2.1h.1m0-.4h.1m.2-4.2h.1m1.1 3.7h.1m-0-3.3h.1m.7 4h.1m1.6-.9h.1m.1-4h.1m.5 .5h.1m.3 1.7h.1m.3 3.3h.1m-0-5.2h.1m.6 5.3h.1m.4-3.6h.1m.7-2.1h.1m-0 4.1h.1m.9 1.3h.1m.1-4.7h.1m.1 3.4h.1m1.1-4h.1m1.2 3.8h.1m1.1-3.3h.1m.7 4.3h.1m.3-1.4h.1m2.2-1.9h.1m-.1 2.3h.1m.2-3.6h.1m1.1 4.9h.1m.4-1.8h.1m1.2 1.4h.1m.3 .3h.1m.1 .7h.1m.4-2.9h.1m.1-2.1h.1m.4 3.4h.1m.6-2.6h.1m-0 .8h.1m1.3 .5h.1m-0-.9h.1m.5 2.6h.1m.2 .7h.1m-0-2.9h.1m.5-1.5h.1m.4 2.3h.1m1.1 .8h.1m.4 .4h.1m-0-2.5h.1m.5 .4h.1m.2 1.5h.1m.7 1.2h.1m-0-.8h.1m.8-1.8h.1m.5 .5h.1m-0-2.1h.1m.1 1.7h.1m0 .8h.1m.2-1.2h.1m.1-.9h.1m.1 .4h.1m.3 2.3h.1m.1-1.6h.1m.6 3.4h.1m-.1 0h.1m-37.1 1.3h.1m.1 4.3h.1m1-3.8h.1m.2-.3h.1m.6 3.6h.1m.4 .1h.1m.4 .5h.1m.2-1.1h.1m.3-2.9h.1m.1 2h.1m.3-.2h.1m.7-.4h.1m-.1 2.1h.1m0-3.8h.1m-.1 .8h.1m.4 2.3h.1m.7 1.6h.1m.1-5.3h.1m-0 2.6h.1m.8-.5h.1m.1 1.6h.1m1.5-.5h.1m.4 1.5h.1m.1-3.7h.1m1.6 .7h.1m.2-1.6h.1m-0 0h.1m2 2.9h.1m.3 1.1h.1m-0-.9h.1m.8-2.5h.1m-0-1h.1m.2 4.6h.1m-0-4.7h.1m.3 2.8h.1m-0-1.1h.1m.3 .2h.1m.5-1.6h.1m-0 5.4h.1m.6-4h.1m.4 .5h.1m.5-.5h.1m-.1 2.4h.1m.1-.5h.1m.3 1.2h.1m.2-4.1h.1m1 2.2h.1m.2 1.1h.1m1.7 1.4h.1m-0-3.7h.1m-0 2.7h.1m.5-1.9h.1m-.1-2.5h.1m.2 4.2h.1m.2-2.7h.1m.1 3.9h.1m.9-4.1h.1m.6 3.9h.1m0-1.2h.1m.1-3.8h.1m.4 .6h.1m1.1 .6h.1m.2 1h.1m1 0h.1m.3-.5h.1m.1 3h.1m1.8-2.6h.1m1.8 .8h.1m.3 .7h.1m-.1 1.6h.1m.1-4.2h.1m-34.1 6.4h.1m1.3 1.6h.1m1.2-2.2h.1m.1 4.9h.1m.2-.2h.1m-.1-4.9h.1m1.8-.1h.1m.1 3.8h.1m3.2-2.5h.1m.2 3.5h.1m.9-5.2h.1m.3 2.7h.1m.9-1.4h.1m.5 3.1h.1m.2 .1h.1m.9-1.4h.1m.3-1.1h.1m.5-2.2h.1m.1 2.8h.1m.2 1.3h.1m.5-3h.1m.7 0h.1m0-1.3h.1m.5 2.9h.1m.7 1.1h.1m.3-2h.1m.3-1.6h.1m.2-.1h.1m.5 1.5h.1m.4 1.3h.1m.1 2.5h.1m.6-3.4h.1m3 2.6h.1m.2-2.1h.1m.5-1.5h.1m.4-.7h.1m-0 5h.1m.2-4.9h.1m.2 3.9h.1m.3-1.7h.1m-.1-.8h.1m.2 3.6h.1m.7-3.9h.1m-.1 3.3h.1m-0-4h.1m.2 3.5h.1m.8-3.4h.1m.1-.9h.1m-0 1.5h.1m.9 4.2h.1m1-.9h.1m.5-2.6h.1m.3-1.5h.1m.2 0h.1m.2 2.8h.1m.2-1.7h.1m.8 .8h.1m1.8-2.7h.1m-36.1 6.4h.1m.1-.4h.1m.4 4.2h.1m-0-3.9h.1m2.1 5h.1m.6-.6h.1m.2-3.9h.1m.6 1.8h.1m.6-2h.1m-0-.6h.1m-.1 2.8h.1m.3-1.1h.1m.7-.6h.1m.4 .3h.1m-0 3.3h.1m-.1 .5h.1m0-3.8h.1m-0 3.8h.1m.4-2.3h.1m1.6 .3h.1m-0-1.9h.1m-.1 2.2h.1m-.1 .4h.1m.1-1.8h.1m-.1 .5h.1m2.1-1.4h.1m.7-.4h.1m.2-.6h.1m.4 2.2h.1m2-1.6h.1m1.9-.1h.1m.2 2.1h.1m1.2-1.8h.1m.3 3.7h.1m.4-.1h.1m.3 .5h.1m0-3.7h.1m1 .8h.1m5.2-1.7h.1m.1 .6h.1m-.1-.1h.1m1.3-.4h.1m16.7 5h.1m-43.7 1h.1m1 3.1h.1m.6-2.6h.1m.3 4.7h.1m1.1 0h.1m1.1-.6h.1m.3-.3h.1m.3-2.6h.1m-.1 2.1h.1m2.4-4.1h.1m.2 1.5h.1m.3-1.4h.1m-0 1.4h.1m.4 1.2h.1m10.5 2h.1m.6 .9h.1m1.9-.2h.1m19.8-3.7h.1m1.8-1.6h.1m1.1 5.4h.1m.4-2.1h.1m2.2-3.1h.1m.3 1.5h.1m2.8-2.1h.1m.6 1.2h.1m-48.9 5h.1m2.5 2.1h.1m.7-1.1h.1m-0 0h.1m8 2.9h.1m.9-3.8h.1m-0 3.8h.1m2.6 .4h.1m.9-4.5h.1m1.3 2.6h.1m1.2 1.2h.1m.9 1.5h.1m-.1-.7h.1m.2-1.7h.1m.2 1h.1m1.8 .6h.1m-.1-.4h.1m-11.7 2.1h.1m.3 2.6h.1m.5-2.4h.1m.9 2.2h.1m.3-1.5h.1m.3 3.2h.1m.9-4h.1m3.5 .9h.1m1.2 1.4h.1m.7-2.4h.1m1 5.4h.1m.7-3.3h.1m.1-1.3h.1m-.1 1.4h.1m-0-.8h.1m1.4-.4h.1m1.2 1.4h.1m3 1h.1m.6-1h.1m1.8 1.6h.1m2.7 .8h.1m-22.4 4.1h.1m7.1-.1h.1m1-.7h.1m1-1.6h.1m4.8 1.2h.1m-.1-1.9h.1m5.5 1.4h.1m1.2-.3h.1m1.2 2.1h.1m.4 .4h.1m.1 .6h.1m.6-1.4h.1m1.3 1.2h.1m1.4 1.5h.1m.4-2.8h.1m-22 8.3h.1m2.7-5.1h.1m2.8 1.7h.1m17.7-.4h.1m.4-.3h.1m-0 3.8h.1m.5-2.3h.1m.5 1.5h.1m.4 1.2h.1m.8-2.7h.1m-0-.1h.1m.1 1.7h.1m.2 0h.1m1-.7h.1m1 .7h.1m-1 2h.1m1.5 2h.1" stroke="#8f80c6" stroke-width="0.85" stroke-linecap="round" fill="none"/>
<path d="M190.1 211h.1m1.1 1.5h.1m1-2.4h.1m-0 2.7h.1m1.2-3.6h.1m.6 2.8h.1m2.3 .3h.1m.5-2.5h.1m.7 1.6h.1m2.8-1h.1m2.2 1h.1m1-.5h.1m11.2 1.3h.1m2.1-.8h.1m1.4 1.2h.1m-34.6 3.3h.1m.2 1.7h.1m3.8-4.4h.1m1.5 5.6h.1m1.1-5.2h.1m3.2 4h.1m.1-1.7h.1m-0-.9h.1m.2 2.9h.1m4.3-.4h.1m.2-.2h.1m.9 1.7h.1m2.2-3.9h.1m.4-.1h.1m1.2 .7h.1m2.3-.9h.1m3.3-.3h.1m2.8-.2h.1m5.5 3.4h.1m.1-2.3h.1m1.7 3.6h.1m-35.1 1.8h.1m.6 2.6h.1m3.4-4.1h.1m4 1.3h.1m.6 4.1h.1m2.4-1.8h.1m2.2-1.9h.1m1.1 3.2h.1m.3-4.5h.1m4 4h.1m3.7-1.7h.1m.3 2.2h.1m4.3-2h.1m.5-1.4h.1m3 1.9h.1m2.8-1.6h.1m2.3 1.3h.1m-32.9 3.8h.1m.4 0h.1m.1 3.7h.1m1.4-.4h.1m2.1 .8h.1m1.1-4.7h.1m.2 5h.1m2.5-1.3h.1m2.4 1.2h.1m2.8-4.4h.1m.2 3.3h.1m.2-1.7h.1m-0 3.1h.1m.8-.4h.1m2.7-.7h.1m1-2.2h.1m2.1-1.5h.1m.3 .3h.1m.5 3.5h.1m1-3.9h.1m1.5-.8h.1m4.3 1.9h.1m.9 2.3h.1m-26.2 2.4h.1m1.1 3.5h.1m1.9-3.4h.1m1.6 1h.1m-0 2.1h.1m8.3-3.1h.1m3.1 1.9h.1m4.9 .2h.1m5.5 3h.1m.6-1.5h.1m-.1 .8h.1m2.2-.7h.1m3.2-.1h.1m2.1 1h.1m-35.6 3.8h.1m.1 .7h.1m3.7 .8h.1m.5-1.6h.1m3.5 1.6h.1m-.1-.9h.1m2.5-3.8h.1m-0 3.3h.1m.1-2.4h.1m.9 4.4h.1m1.4-4.3h.1m-.1 3.1h.1m.1 1.9h.1m6.5-.5h.1m4.8-2h.1m-0-3.5h.1m.6 5.5h.1m.4-.6h.1m.2-3.9h.1m.4 .4h.1m.1 0h.1m.7 3h.1m.2-1.9h.1m-0 .1h.1m.4-1.5h.1m2.5 1h.1m1.7 3.9h.1m-.1-3.4h.1m1.2 1.2h.1m.3-.2h.1m1.2-1.2h.1m.1-.1h.1m-33.9 6h.1m.5 .2h.1m.3-1h.1m12.5-1.2h.1m.3 1.3h.1m-0 .6h.1m-0 1.8h.1m.5-3h.1m.9 2.7h.1m7 1.5h.1m-.1-4.8h.1m.1 .4h.1m-.1 4.3h.1m1.1-4.2h.1m.7-.7h.1m.2 .2h.1m.4 .4h.1m2.5 .4h.1m.3 .2h.1m-58.9 8.9h.1m1.1-.3h.1m1.1-1.1h.1m.2 1.5h.1m2 1.5h.1m2.8-1.2h.1m.7 1h.1m.7-3.8h.1m1.3 .4h.1m.5 1.8h.1m.6-3.2h.1m-0 3h.1m.1-.4h.1m1.8-1.8h.1m.1 1.3h.1m2.4 .4h.1m-.1-1.9h.1m.9 1.1h.1m.7-.3h.1m3.4-.2h.1m.3 3.7h.1m.7-.6h.1m1.3-.5h.1m-27.1 5.4h.1m.3-2.1h.1m1.5-.3h.1m.2 .2h.1m1.1 2.2h.1m.5-1.8h.1m.6 2.3h.1m.3-3.4h.1m-0 1.1h.1m.1 2.5h.1m0-1.9h.1m.5-.4h.1m.1 1.3h.1m.3-2h.1m.1 3.1h.1m1.3-2.3h.1m.1-.1h.1m.5 .5h.1m.5-1.6h.1m.1 1h.1m.2 3h.1m-0-5.2h.1m.1 1h.1m.2 2.7h.1m2.5-3.2h.1m0 .8h.1m-.1 3.9h.1m.5-1.1h.1m.8 .7h.1m.2-1.1h.1m.3 .2h.1m.2-3.8h.1m.6 1.1h.1m.2 3.9h.1m.2-2.3h.1m.7-2.5h.1m1.5 2.8h.1m.1 1.3h.1m.6-.7h.1m.3-2.8h.1m.4 2.3h.1m.7 .2h.1m.6 .2h.1m.8 .6h.1m.1-3h.1m-23.7 7.9h.1m.3-3.1h.1m.1 5.2h.1m.3-4.7h.1m.4 4.3h.1m1.1-3.1h.1m.1-.6h.1m.4-.6h.1m.2 5.2h.1m.1-.6h.1m.3-1.2h.1m.2 .4h.1m.1 .8h.1m1.3-4.2h.1m.9-1.1h.1m.8 .1h.1m.5 2.6h.1m-0 3.1h.1m-.1 .2h.1m-0-.7h.1m2.3-1.3h.1m1.5-.2h.1m.3-3.6h.1m1.2 1.5h.1m.4 1.2h.1m-.1 1.8h.1m.6-2.4h.1m.2-.8h.1m.6 1.5h.1m.3-2.9h.1m-0 3.7h.1m2.1-2.8h.1m-0 .1h.1m-.1-.7h.1m1.8 2.6h.1m.9 2.6h.1m.1-1.7h.1m.4-.5h.1m.8-.9h.1m.4 3.4h.1m-.1-4.3h.1m.2 2.8h.1m.5-2.8h.1m.5 3.1h.1m.5-.3h.1m-0-.4h.1m2.2 .7h.1m-27.6 1.7h.1m1 4.1h.1m.1-2.2h.1m.1 1.9h.1m.1-3.9h.1m-.1-.2h.1m.4 2.3h.1m.3-.7h.1m1.1 4h.1m1-4.1h.1m1.4 2.9h.1m.6-1.4h.1m2.1-2.8h.1m1.6 .8h.1m.1-.8h.1m-.1 .8h.1m.2 1.5h.1m.3 1.8h.1m-.1-4.1h.1m.1 2.3h.1m.2 3h.1m.6-2.9h.1m.6-2.1h.1m.4 .2h.1m.2 5h.1m.2-3.2h.1m-0-.8h.1m1.5 2h.1m.4 .8h.1m.5-2.3h.1m-0 3.2h.1m0-2.6h.1m.2-.2h.1m1.4-1.1h.1m2.2 1.2h.1m3.2-2.7h.1m-22.5 8.3h.1m.2 .3h.1m-0 .8h.1m5.8-3h.1m1.2 1.2h.1m.1 .2h.1m.1 3h.1m.9-3.8h.1m.1 4.6h.1m.5-2.1h.1m-0-2.9h.1m.4 1h.1m.6 2h.1m-0-.8h.1m.2 1h.1m-.1 .8h.1m.3-1.7h.1m1.1-.8h.1m.4-.8h.1m.8-.6h.1m-10.6 7.1h.1m.4-1.1h.1m.2 .6h.1m.2 .5h.1m.5 3.8h.1m-0-4.9h.1m-.1 3.6h.1m-0-2.8h.1m.3 .7h.1m.5 1h.1m1.4 .2h.1m0 1h.1m-0 1h.1m-1.5 4.1h.1m.2-2.5h.1m-.1-.8h.1m.2 1.9h.1m.6-2h.1" stroke="#bfb2de" stroke-width="0.85" stroke-linecap="round" fill="none"/>
<path d="M187.8 206.4h.1m52.1 .5h.1m-52.8 6h.1m.7-.1h.1m7.8-2.3h.1m.3 .5h.1m.4 1.3h.1m1.1 .5h.1m4.1-.1h.1m1.3-.2h.1m1.2-1.4h.1m3.5-1h.1m3.1-.2h.1m1.7 .9h.1m.6 2h.1m2.4-2.2h.1m1.6-.2h.1m1.3 0h.1m4.9 .6h.1m-39.7 3.6h.1m3.2 2.5h.1m.9-2.5h.1m.3 3.8h.1m.5-.5h.1m4.1-4.2h.1m.2 3.9h.1m.5-3.3h.1m2.8-.4h.1m.4 2.7h.1m1 0h.1m1.3-2.8h.1m3.7 2.1h.1m.7-2h.1m.2 2.2h.1m.1 .4h.1m2.7-1h.1m.3 1.6h.1m4.9-2.4h.1m-0 3.8h.1m-.1-1.4h.1m.4 .4h.1m-0-3.2h.1m1.3 3.8h.1m2.1-2.9h.1m2-.5h.1m1.8-.6h.1m1.6 4.4h.1m-38.4 2.4h.1m1.1 3h.1m3.8-3.2h.1m3.7 .4h.1m1.6 3.6h.1m3.9-3.5h.1m2.1-.8h.1m1.9 3.3h.1m5.9-3.6h.1m3.8 2.9h.1m.2 1.6h.1m1.1-3.2h.1m1.1 2.8h.1m-.1-4.7h.1m.5 3.8h.1m1-4.1h.1m.7 4.8h.1m.1-1.8h.1m1.3 2h.1m.9-4.7h.1m.4 .9h.1m.2 2.1h.1m.1-1.7h.1m-0 2.2h.1m15.9-3.1h.1m3.9 3h.1m-55.5 2.1h.1m3.6 5.8h.1m.9-2.6h.1m4-3h.1m1.2-.2h.1m1.6 3.4h.1m.3 .4h.1m.3 .1h.1m.5 .8h.1m4.1-2.6h.1m3.5-1.1h.1m1.1-.2h.1m3.6 1.9h.1m3 .4h.1m.8-2h.1m1.6 4.5h.1m.6-4.2h.1m-30.2 9.9h.1m6.4 .6h.1m.3-2.1h.1m1.8-3.7h.1m1 2.9h.1m6.6 2.2h.1m.8-1.1h.1m1.3-3.6h.1m2.8 1.5h.1m1.7 .5h.1m.9-1.6h.1m1.3 3.6h.1m1 .7h.1m-.1 .2h.1m2.5-1.9h.1m3.2 1.8h.1m.9 .1h.1m.1-3.9h.1m.7 4.1h.1m2.1-1.7h.1m1.8 .6h.1m16 .5h.1m-49.1 3.6h.1m.1 1.2h.1m2.4 .5h.1m2.1-1.9h.1m.2 2.3h.1m.7 1.1h.1m.2-5.4h.1m2.8 1.8h.1m2.8 0h.1m1.2 2.5h.1m1.5-1.6h.1m2.1 2.5h.1m1.8-3.1h.1m.6 .9h.1m.3-3.2h.1m4.2 .7h.1m.2 1.9h.1m-0 2.6h.1m.5-2.1h.1m.3-1.2h.1m-0 2.7h.1m.3-3.5h.1m.6 1.3h.1m.1 1h.1m-0 1.3h.1m.2-1.4h.1m-.1-.7h.1m-0-2.7h.1m1.6 2.6h.1m.2 3h.1m.4-4.4h.1m.6 .8h.1m1.4 .2h.1m.3-1.5h.1m1 4h.1m.5 .1h.1m-.1-2.9h.1m-0 2.8h.1m1.1 .5h.1m-.1-1.4h.1m.2-1.5h.1m15 .2h.1m-59.2 7.8h.1m11.4-.1h.1m.5-1.2h.1m2.4-.7h.1m4.4 0h.1m6.9 3.5h.1m.8-2.1h.1m.1 1.1h.1m.6-1.5h.1m4.6 1.3h.1m-.1-.1h.1m1-3.3h.1m2.4 .4h.1m2.6 1.1h.1m1.4 .2h.1m4-2.2h.1m10.2 2.9h.1m-74.9 6.3h.1m2.2-1.4h.1m.9 .4h.1m.2-1.1h.1m.3 3h.1m.4-3.8h.1m.6 1.6h.1m.2 1.7h.1m.1-.4h.1m-0-3.2h.1m.9 2.9h.1m-.1-.2h.1m.1-2.7h.1m.3 3.5h.1m-0 1.2h.1m.1-1.2h.1m-0 .9h.1m-.1-1.8h.1m1.2 1.9h.1m-.1-4.3h.1m.1 2.4h.1m2 2.6h.1m.4-4.1h.1m.2 .4h.1m.9-1.1h.1m1.7 .9h.1m.4-.6h.1m-.1-.5h.1m.1 .6h.1m.1 1.5h.1m.8 2.8h.1m1.1-5h.1m.3 3.1h.1m.5-2.5h.1m-.1 3.3h.1m.1-3.9h.1m1.2 3.7h.1m-0 0h.1m-0 .3h.1m.1 .8h.1m.4-4.5h.1m.3 .2h.1m.1 4.3h.1m.1-3.7h.1m.6 2.5h.1m.1 .4h.1m.1-2.5h.1m-.1 1.8h.1m0-1.4h.1m1.1 3.2h.1m.6-2.3h.1m17.1-2.9h.1m-45 9.9h.1m.9-1.1h.1m-.1-1.4h.1m.3-2.1h.1m2 2.5h.1m1.2-.3h.1m-0 2.8h.1m1.6-4.7h.1m.7 .3h.1m-0 5.2h.1m-0-4.6h.1m-0 .8h.1m1 3.4h.1m.5-3.4h.1m.3-1.7h.1m1.2 1.6h.1m2.4 1.3h.1m-0 .7h.1m.9 1.1h.1m.1-.9h.1m.2-2.5h.1m0 3.4h.1m.1-1.7h.1m.3-1.6h.1m1.1 3.7h.1m.8-3.8h.1m.1 3.3h.1m.8-4.2h.1m1-.1h.1m.8 4.5h.1m.9-3.4h.1m-.1 .9h.1m.1 .4h.1m1-2.7h.1m.3 2.6h.1m1.1 2.3h.1m.1-.7h.1m.2-.7h.1m.1-.8h.1m-.1 1.5h.1m0-3.7h.1m1.3 2.9h.1m0-.3h.1m.1 0h.1m.2-2.3h.1m.4 .4h.1m-28.5 5.6h.1m.2 1.3h.1m.4-1.7h.1m.1-.5h.1m4.1 0h.1m1 4.7h.1m.3-4.8h.1m.6 5.3h.1m.6-1h.1m-.1-.6h.1m.2 .6h.1m2.9 .6h.1m.9-.8h.1m.6 .4h.1m.4-.8h.1m.3-.6h.1m.3-1.4h.1m.1-1.9h.1m.4 2.3h.1m.6-.5h.1m-.1 3.6h.1m1 0h.1m.5-2.7h.1m-0 2.3h.1m.9-2.2h.1m.5-2.5h.1m.3 2.5h.1m.3-2.1h.1m.5 4.5h.1m1-2.8h.1m-0 1.7h.1m.1-.9h.1m2.1 2.7h.1m.6-.9h.1m.3-2.9h.1m0-.4h.1m-0 2.6h.1m1 1.5h.1m2.7-1h.1m-27.1 2.5h.1m1.5-.5h.1m.3 3h.1m.8 1.2h.1m.3-2.6h.1m-0 .6h.1m.8-2h.1m.1 1.1h.1m1.2 1.1h.1m.3-.7h.1m-0 2.9h.1m-.1-.9h.1m-0-1h.1m.7-2.2h.1m.6 3.2h.1m2-1.2h.1m-0 1.7h.1m.8-2.4h.1m.6-1.1h.1m.4-.9h.1m.9 2.6h.1m.1-.5h.1m0 1.1h.1m.6 .8h.1m.5 .1h.1m.6-3.2h.1m.2-1.2h.1m1.1 0h.1m.1 3.7h.1m.1 1.6h.1m.1-4.3h.1m.9 .7h.1m-0 .5h.1m1.9-2.1h.1m.8 1.9h.1m.2-.7h.1m1.4-.2h.1m1.2-1.1h.1m-22.2 8.3h.1m.1-1.1h.1m-0 1.6h.1m.4-.2h.1m0-2.7h.1m.6-.2h.1m-0 4.1h.1m4-1.3h.1m.1 1.9h.1m-0-.6h.1m.2-3.5h.1m.4 3h.1m1.5-.3h.1m.2-3.3h.1m0 4.9h.1m.2-4.5h.1m.7 3.4h.1m.1-2h.1m.1-1.6h.1m.6 5.7h.1m-.1-4.9h.1m.4-.7h.1m.2 2.7h.1m.2-1.9h.1m-0 1.6h.1m-.1-.7h.1m0 1.6h.1m.9-2h.1m1.5-.3h.1m-12.7 5.7h.1m.4-.1h.1m1-.7h.1m.3 4.1h.1m1.8 1.3h.1m2.3-.2h.1m.7-4h.1m.2-1h.1m.8-.1h.1m.4 .6h.1m-4.1 6.1h.1m.1-1h.1m.9 1h.1m.2-.3h.1" stroke="#b9abdb" stroke-width="0.85" stroke-linecap="round" fill="none"/>
<path d="M195.5 208.5h.1m1 1.1h.1m1.1-.4h.1m1.7 3.5h.1m1.3-.8h.1m3.4 .4h.1m2.9 .3h.1m.3-.2h.1m-18.1 .8h.1m-.1 2.6h.1m3.2 2.4h.1m.5-2.2h.1m2.1 1.4h.1m-0-3.6h.1m1.1 1.6h.1m.5 2.2h.1m1 0h.1m4.8 1.2h.1m2.3-5.2h.1m2.5-.2h.1m1.7 2.7h.1m-.1 1.8h.1m.1 .6h.1m2-1.5h.1m1-2.3h.1m.3 3.7h.1m2.9-4.1h.1m1.2 4.4h.1m.5-2.2h.1m.1 .3h.1m.2-.7h.1m.3-.1h.1m3.6 .5h.1m-38.1 3.8h.1m.5 1.9h.1m1.2-1h.1m.6 3.2h.1m4.2-4.2h.1m1.6 3.9h.1m3.2 .1h.1m2.1-.9h.1m.7 1.5h.1m.5-3.1h.1m.8 .1h.1m.1 0h.1m9.3 .9h.1m.1 1.2h.1m2.3-3.1h.1m1.8-1.4h.1m1.7 1.4h.1m2.3 .9h.1m.4 .4h.1m-22.9 4.8h.1m.3-1.1h.1m3 1.2h.1m1.6 1h.1m2 3h.1m.7-4.1h.1m-0 3.5h.1m.3-4h.1m.1-1.1h.1m.6 2.9h.1m1.4-3h.1m.1 2.3h.1m-.1 .3h.1m.9-.6h.1m2 2.6h.1m4.3-3.4h.1m.7 3.5h.1m1.8-2.6h.1m-24.9 5.1h.1m.5 2.7h.1m.7-.3h.1m-0-3h.1m4.7 1.8h.1m.6-.8h.1m5.1-1.5h.1m.5 .1h.1m1.4 4.7h.1m.3-2.4h.1m.8-.2h.1m1.3 3.2h.1m-0 .1h.1m.2 0h.1m.3-1.8h.1m.2-.9h.1m1.6 .9h.1m.9-2.2h.1m.5 2.3h.1m7.5 1.1h.1m.9-.9h.1m1.5 1.2h.1m-30.9 2.1h.1m.2 .9h.1m1.1-1.1h.1m.1 .8h.1m3.6 1.1h.1m4.4 1.5h.1m1-2.5h.1m3.4 2.5h.1m.9 .4h.1m6.8-1.5h.1m.5-.5h.1m1.6-1.5h.1m.3 1h.1m.6-1h.1m-.1-.8h.1m1.2 1.5h.1m.1 1.8h.1m.8-.4h.1m-.1 .2h.1m.8-1.7h.1m.7-.5h.1m.2 1.8h.1m.1 .3h.1m-.1-1.4h.1m0-2.1h.1m.3 5h.1m0-1.9h.1m.4-.3h.1m.1-1.3h.1m.4 1h.1m.5 1.6h.1m.6-3.1h.1m.1-1.2h.1m.3 .7h.1m1.6 .9h.1m.2 0h.1m.3-.7h.1m1 3h.1m-35.7 4h.1m6.2 .5h.1m.4 .2h.1m1 .5h.1m.1-2.3h.1m3.7-.6h.1m0 2.1h.1m.1-1.3h.1m.8 .7h.1m.6 1.5h.1m3.4-3h.1m1.4 3.6h.1m.2 1.1h.1m1.1-1.3h.1m.5 .5h.1m.3-1.6h.1m.8 1.7h.1m.3-3.6h.1m.2 1.8h.1m.4 2.8h.1m1.1-2.3h.1m.8-2.5h.1m.1 3.7h.1m.6-3.7h.1m.9 .4h.1m.5 1.1h.1m1.5-.7h.1m.8-.5h.1m3.7 2.2h.1m.5-2.6h.1m1.4 1.6h.1m-65.8 9.3h.1m1.7-.1h.1m-0 .4h.1m.7 0h.1m.4-3.1h.1m.6 .1h.1m.5 2.7h.1m.1-.5h.1m.3-1.9h.1m.2-.8h.1m.4 3h.1m.8-1.6h.1m.4-.2h.1m.1-1.1h.1m.7 2.8h.1m-0-3.2h.1m-.1 3.5h.1m1.4-4.2h.1m.2 1.8h.1m.6-1.3h.1m2.1 .2h.1m-.1 1.4h.1m1.2 2h.1m1.1-.6h.1m-0-.4h.1m.5-2.6h.1m-.1 4.3h.1m.1-4.4h.1m.8 1.7h.1m1.9 .5h.1m-0-1.4h.1m.1 1h.1m-.1 2.3h.1m0-1.8h.1m-0 .1h.1m1.1-3.5h.1m.3 .6h.1m.7 1.6h.1m.6 .2h.1m.1 1.4h.1m.4-.5h.1m.1 1.9h.1m.9-2.8h.1m.4-.3h.1m.2 2.1h.1m.4-2.3h.1m.5-.6h.1m.2 2.8h.1m20.5-4.5h.1m.9 .3h.1m.5-.4h.1m-50.4 7.3h.1m-0-.9h.1m1.1 1.8h.1m1 .5h.1m.3-.4h.1m1 .2h.1m.4 .8h.1m.2 1.5h.1m2.2-3.1h.1m1.8 .1h.1m.3 1.8h.1m1.4-2.2h.1m.7 2h.1m-0 .2h.1m.2-1.5h.1m.1 2.1h.1m-.1-1.1h.1m1.4-1.8h.1m.4 2.1h.1m.2 1h.1m1.9-4.3h.1m.3 1.7h.1m.1 1.3h.1m.3-1.8h.1m.2-1.1h.1m.3 2.2h.1m2.4-.7h.1m.2 1.7h.1m1.8 .1h.1m-0-.4h.1m1.6 1.6h.1m.3-2.9h.1m-.1 2.9h.1m.7-2.9h.1m.4 3.1h.1m3.4 .6h.1m10.3-1.4h.1m14.9 1h.1m18.4-1.6h.1m-74.6 3.6h.1m-0-.1h.1m-0 0h.1m1.6-.6h.1m.6 3.9h.1m.4-2h.1m.3-1h.1m.2 1h.1m.7-1.9h.1m.1 1.2h.1m.5-1.2h.1m1.4 1.1h.1m.7 3.5h.1m-0-1.5h.1m.3 .1h.1m.1-.3h.1m.8 .4h.1m.6-1.7h.1m-0 2h.1m-.1 .5h.1m.2-4h.1m1.3 3.5h.1m1.1-3.6h.1m.3 3.5h.1m.5 1.6h.1m-0-.4h.1m.1-2.1h.1m.2 2.5h.1m1.3-5.1h.1m.9 .7h.1m-0 2.4h.1m.3 .7h.1m.3-2.7h.1m1.9 3h.1m.3-2.2h.1m.3-2h.1m.2 4.1h.1m1-2.7h.1m.5-.3h.1m1 .9h.1m.4-.3h.1m1.4 3.6h.1m.9-5h.1m1.6 4.8h.1m54.7-2.1h.1m-80.2 7.4h.1m.8-2.9h.1m.5 2.4h.1m.1-2.8h.1m.1 4.2h.1m.7-.9h.1m.4 0h.1m.1-2.7h.1m.9 2.4h.1m.3-.8h.1m.4 1.5h.1m-0-2.9h.1m.2 1.8h.1m.8-3.8h.1m1.5 .5h.1m.4 1.9h.1m.8 1.3h.1m-0-2.8h.1m.3 1.1h.1m.1-.2h.1m-.1-.4h.1m-0-.2h.1m.1 1.7h.1m-0-.2h.1m0 2.6h.1m2-.1h.1m.6-.6h.1m.1-2.5h.1m.2-.7h.1m.2-.9h.1m-0 1h.1m.1 3.4h.1m.5 .7h.1m.3-2.3h.1m1 1.5h.1m.6-4.2h.1m1.1 1.5h.1m0 1.5h.1m2.2-2h.1m1.6 0h.1m42.1-1.2h.1m-63.1 6.7h.1m-0 .4h.1m1.3 1.4h.1m-0 2.8h.1m-0-2.2h.1m1.8-1h.1m-0 2.1h.1m0 .5h.1m.2-3h.1m.2 1.7h.1m.4 1.6h.1m.8-4.1h.1m-0 .7h.1m.4 1.2h.1m.8 .5h.1m-.1-.3h.1m1.6 .1h.1m.3-.5h.1m2.5 1.3h.1m10.1 .2h.1m32.7-2.1h.1m4.3 2.4h.1m1.4 .1h.1m-58 1.4h.1m1.9 1.9h.1m-0 3.4h.1m.6-1.3h.1m.3-1.9h.1m.6 3.3h.1m.7-5.1h.1m.7-.5h.1m1.1 .1h.1m.5 0h.1m15.4 5.4h.1m-24.4 6.2h.1m3.8-6h.1m.4 1h.1m1-.8h.1m.2-.2h.1m5.8 3.6h.1m15.6 1h.1m.7-1.5h.1m32.2 4.3h.1m2.3-.2h.1m7.2 1.4h.1m-61.7 4h.1m7.4 .2h.1" stroke="#cdc3e6" stroke-width="0.85" stroke-linecap="round" fill="none"/>
<path d="M236.6 236h.1m1.5 .4h.1m5.8 .5h.1m-10.4 3.9h.1m1.2 2.1h.1m.1-3h.1m.8 2.6h.1m1.3-2.1h.1m4.1-1.8h.1m-34.4 14.9h.1m1 1h.1m2.3-1.6h.1m.1 .4h.1m1.2-.6h.1m.6 0h.1m1-.1h.1m1.3 1.6h.1m.9 .4h.1m1.3-1.3h.1m.5-1.2h.1m.4 2.6h.1m.5-1.6h.1m1.8 1.1h.1m-15.6 1.7h.1m.6 2h.1m-0-.9h.1m.7-1.7h.1m.6 1.3h.1m.9 3.1h.1m.3-2.6h.1m1.2 .4h.1m.9 1h.1m.8-.4h.1m-.1-1h.1m.4 .9h.1m.1-1.8h.1m.5 3.9h.1m-.1 .5h.1m.4-5.3h.1m.5 .7h.1m.2 3.3h.1m-0-3.7h.1m-0 3.5h.1m-.1-3.6h.1m.1 1.1h.1m.3 1.9h.1m.4-1.1h.1m-.1 2.4h.1m3.3-2.6h.1m.3 3h.1m-0-2.3h.1m1.7-1.3h.1m.9 3h.1m.1 .3h.1m.4-3.8h.1m-12.6 8h.1m.1-2.8h.1m.6 2.6h.1m-0 .6h.1m.5-3.2h.1m1.6 .1h.1m.4 3.6h.1m.4-1.8h.1m-.1 2.9h.1m.6-3.2h.1m.6-1.3h.1m3.3-.6h.1m-8.3 6.1h.1m1 .1h.1" stroke="#6a5cb4" stroke-width="0.85" stroke-linecap="round" fill="none"/>
<path d="M238.6 234.8h.1m4.1-.2h.1m-9.7 4.6h.1m.8 1.1h.1m.6-2h.1m2.4 4.5h.1m.5-.4h.1m.1-2.6h.1m1.7 .8h.1m.7 1.4h.1m.3-2.7h.1m.5 .5h.1m-35.8 13.1h.1m.4 1.7h.1m-0-2.2h.1m.3 2.1h.1m.2-1h.1m4.3 1.5h.1m1.1-2.1h.1m.6 1h.1m.2-1.6h.1m-0 .2h.1m.6 .3h.1m.8 .3h.1m.3 1.9h.1m1.4-.2h.1m.9-2.7h.1m1.2 1.4h.1m-.1 1.2h.1m.6-.7h.1m.7 0h.1m1.8-1.1h.1m1.7 1h.1m-18.6 1.2h.1m2.5 3h.1m-0 1.3h.1m.1-.4h.1m.4-.5h.1m1.9-1.1h.1m.6 1.3h.1m.1 .1h.1m-0-3.4h.1m-.1 3.5h.1m.2-.4h.1m.1-.1h.1m.3 1.2h.1m.2-2.1h.1m.7 1.5h.1m.2-3.8h.1m-.1 5.5h.1m.3-5.3h.1m.1-.2h.1m.3 2.7h.1m.1 1.8h.1m2.7 .4h.1m1.2-3.1h.1m1.9 2.8h.1m.7 1h.1m-14 2.6h.1m3.2-.4h.1m0 1.6h.1m.7-2.5h.1m.4 4.8h.1m.1-5.1h.1m.2-.5h.1m.1 1h.1m.6 1.8h.1m-.1 .2h.1m1.1-1h.1m.4-2.1h.1m-.1 1.6h.1m.5-.9h.1m-.1 3.9h.1m.6 .8h.1m.6-5.6h.1m1.5 2h.1m1.8-1.6h.1" stroke="#4c41a2" stroke-width="0.85" stroke-linecap="round" fill="none"/>
<path d="M234.4 235.5h.1m2 .4h.1m3.1-1.5h.1m0 .5h.1m.4-1h.1m-.1 1.7h.1m.6 .3h.1m-4.3 5.2h.1m1.3-2.8h.1m2.4 2.8h.1m0-.3h.1m2.1-3.6h.1m-33.7 16.3h.1m.4 .6h.1m1.1 .8h.1m-0-.3h.1m.5-1.1h.1m.6-1.3h.1m-0 1.7h.1m3.1-1.7h.1m.3 .5h.1m.4 1.5h.1m1.2 0h.1m-0 .3h.1m1.6-.7h.1m-.1-.1h.1m2 .1h.1m-.1-1.7h.1m1.5 .7h.1m.8 1.7h.1m-17.5 2.3h.1m.7 2.5h.1m.8 1.3h.1m.1-1.8h.1m1.5-.5h.1m1.9-.3h.1m.2 .7h.1m.2 1.4h.1m.3-4h.1m.5 0h.1m1.4 1.9h.1m.7 2.3h.1m.9-2.6h.1m.1 2.4h.1m1.3-4.3h.1m.4 .2h.1m.2 1.2h.1m1.6 .7h.1m2.2-2.8h.1m-0 5.3h.1m-14.1 3.6h.1m1.1-.9h.1m-0-.1h.1m0 .3h.1m.7-.3h.1m-.1-.1h.1m.2-1.7h.1m.9 1.9h.1m.1 1h.1m.3-.4h.1m.2-1.2h.1m.2 3h.1m.5 .7h.1m-.1-2.7h.1m1-1.8h.1m.3 2.5h.1m.4 1.6h.1m.8-2.7h.1m.3 2.2h.1m2.2-1.4h.1m-6.6 3.6h.1" stroke="#5a4cab" stroke-width="0.85" stroke-linecap="round" fill="none"/>
<g filter="url(#bl1)">
<polygon points="310.9,213.8 316.1,210.9 322.0,207.9 326.4,210.2 332.3,210.2 333.6,222.0 331.6,232.0 325.6,236.0 319.6,232.0 313.6,226.0 311.1,219.0" fill="#d4caea" opacity="0.55"/>
<polygon points="332.3,210.2 338.2,208.7 345.5,209.4 349.9,213.8 351.4,219.7 351.4,225.6 348.5,230.0 344.8,231.5 339.6,234.5 335.2,236.7 331.6,232.0 333.6,222.0" fill="#d4caea" opacity="0.55"/>
<polygon points="314.6,231.0 321.6,230.0 327.6,236.0 325.6,244.0 323.4,247.7 319.6,244.0 316.1,238.0" fill="#dcd4ec" opacity="0.55"/>
<polygon points="333.6,242.0 339.6,241.8 348.5,253.6 344.6,262.0 339.6,268.3 333.6,262.0 330.8,253.6" fill="#dcd4ec" opacity="0.55"/>
<polygon points="347.0,236.0 353.6,234.5 360.2,236.0 360.2,246.2 353.6,246.2 347.6,244.0" fill="#d4caea" opacity="0.55"/>
<polygon points="358.6,236.0 363.6,233.7 370.6,234.0 370.6,240.0 364.6,243.3 359.6,243.0" fill="#dcd4ee" opacity="0.55"/>
<polygon points="349.9,251.0 352.6,251.0 363.6,260.5 371.6,267.5 370.1,270.5 361.6,265.5 349.1,254.0" fill="#a098d0" opacity="0.55"/>
<polygon points="295.4,252.1 301.3,249.2 308.7,249.9 316.1,249.2 322.0,250.7 321.2,256.6 319.0,263.9 323.4,265.4 316.1,271.3 310.2,277.2 307.2,284.5 305.7,290.4 302.8,284.5 298.4,277.2 294.0,268.3 292.5,261.0 293.2,255.1" fill="#d6cdea" opacity="0.55"/>
<polygon points="319.6,232.0 335.6,236.0 347.6,232.0 351.6,236.0 349.6,248.0 343.6,250.0 335.6,246.0 327.6,248.0 321.6,244.0" fill="#f0ecf6" opacity="0.55"/>
</g>
<path d="M314.1 212.3h.1m.7-.4h.1m.5-.1h.1m4-2.4h.1m1.6 2.6h.1m1.5-2.7h.1m.3 2.9h.1m.4-1h.1m.7 0h.1m2 .9h.1m.1-.8h.1m.6-.5h.1m.3 1h.1m.9-1.5h.1m.4 1.8h.1m.8-.8h.1m5-1.7h.1m1.4-.2h.1m.1 1h.1m.1-.5h.1m0 .6h.1m.7-.7h.1m.1 1.7h.1m.4 1h.1m1.1-1.9h.1m2.2 1.1h.1m1-1.5h.1m-.1 1h.1m1.7 1.2h.1m1.4 .1h.1m-35.6 3.3h.1m.2 1.4h.1m.2-1.3h.1m.3 2.6h.1m.2-3.2h.1m.5-2h.1m-0 .7h.1m1.9 1.4h.1m.1-1.9h.1m-0 3.9h.1m.1-1.5h.1m.4-1.6h.1m.3 4h.1m.6-.8h.1m1.4 .3h.1m.3 .9h.1m.2-5.5h.1m.5 3.6h.1m-0-1.3h.1m.1 1.3h.1m-0 1.4h.1m.2-4.6h.1m.2 3.7h.1m.2-3h.1m.7-.2h.1m.3 2.4h.1m.3-2.7h.1m.1 1.9h.1m.1 2.7h.1m.2-3.2h.1m-.1 1.8h.1m.2-1.3h.1m.6 1.3h.1m.2 1.3h.1m0-4.2h.1m.4 1.1h.1m.1 1.8h.1m.1-.2h.1m.4-3.8h.1m.1 1.1h.1m-.1 1.4h.1m.3 3.2h.1m.7-2.2h.1m1 1h.1m.2 .3h.1m.3-3.9h.1m0-.2h.1m0-.1h.1m-0 .8h.1m-.1 2.7h.1m0-.7h.1m.2 1.2h.1m.3-.9h.1m.5-.6h.1m.4-2.1h.1m-.1 3.5h.1m.2-.7h.1m.1 1.8h.1m1.7 .4h.1m.1-5h.1m1.2 .8h.1m.2 2h.1m.3-.2h.1m-0 .8h.1m-.1-3.5h.1m-.1 4.7h.1m.2-4.1h.1m0 1.1h.1m.3 1.8h.1m0-.7h.1m1.1-2.9h.1m.3 1.2h.1m1.4-.1h.1m.5-1.4h.1m-0 3.8h.1m.3-.4h.1m-0-1.5h.1m.2 .7h.1m.9 2.3h.1m.1-3.1h.1m.5-1.5h.1m0 .8h.1m-0-1.1h.1m.6 .1h.1m.9 .9h.1m0-.2h.1m1.2-1h.1m.2 .4h.1m-0 4h.1m-.1 .4h.1m1.1-3.2h.1m0 .2h.1m0-2h.1m-.1 4.7h.1m.4-.4h.1m.1-2.7h.1m.1-.4h.1m-38.5 5.1h.1m.7 2.8h.1m.1-1.3h.1m1.3-1.6h.1m.7 2.9h.1m.6 2h.1m.7-1.5h.1m.5-.9h.1m.3 2.1h.1m.7-1.7h.1m.6-.7h.1m1.2-2h.1m.5-.4h.1m1.1 2.8h.1m.2 1.8h.1m0-2.2h.1m.5-1.7h.1m0 5h.1m.3-2.1h.1m.6-3.1h.1m2.2 2.2h.1m0-.9h.1m.2 1h.1m-0 1.2h.1m.3 1.4h.1m.2-1.8h.1m1.2-2.3h.1m.2 .9h.1m1.3-.8h.1m-0-.6h.1m.2-.7h.1m.2 1.1h.1m.3 2.4h.1m.5-1.9h.1m.1 4.1h.1m.2-2.1h.1m.5-.9h.1m-.1 .9h.1m.9 2.1h.1m-.1-.2h.1m0-2.4h.1m.2-.3h.1m.9-.7h.1m.1-2.1h.1m.7 3.4h.1m.3-1.8h.1m.3 2.1h.1m.3-1.8h.1m.1 2.9h.1m.2 .5h.1m.9-2.7h.1m1.8 2.4h.1m.8-2.2h.1m-.1 2.4h.1m.7-3.1h.1m.3-.3h.1m.5 1.3h.1m.1-1.9h.1m1.1 3.2h.1m.7 .5h.1m.1-2.6h.1m.5 1.7h.1m.7-2.6h.1m.4-1.5h.1m.8 1.8h.1m.3 3.1h.1m1-2.9h.1m.1 1.3h.1m.1-.3h.1m0-1h.1m-34.5 4.8h.1m.7 1.8h.1m.3 .6h.1m-0-2.6h.1m0 2h.1m-0 1.2h.1m0-.7h.1m-.1 2.2h.1m.2-4.1h.1m.1 3.3h.1m.8 .5h.1m.5 .5h.1m.5-.5h.1m-.1-.1h.1m1.1-1h.1m.4 .5h.1m-.1-.9h.1m.8 1.5h.1m2-3.5h.1m2.7 1.4h.1m.3-2.6h.1m2.3 3.3h.1m.8 .4h.1m.1 1.4h.1m.9-4.6h.1m0 4.4h.1m.3-1.3h.1m0 1h.1m-.1 .2h.1m-0-2.4h.1m.4 2.6h.1m2.1-3h.1m.6-2.2h.1m.4 .9h.1m.5 4.7h.1m0-1.6h.1m.8 .8h.1m.2-.6h.1m.5-1.5h.1m.9 .9h.1m-0-.6h.1m0 0h.1m2.5-.6h.1m0 1.5h.1m0-.1h.1m.8-1.5h.1m.9-1h.1m0 1.3h.1m.4 2.2h.1m2.7-2.6h.1m-33.8 7.9h.1m1.6-3.1h.1m.8-.3h.1m.6-.7h.1m0 1.1h.1m.8 2h.1m.1 1.8h.1m.8-4.1h.1m-0 4.5h.1m.7-5h.1m-.1 1.9h.1m-.1-.2h.1m.3-1.9h.1m0 .5h.1m.2-.2h.1m1.4 1.9h.1m.1-.1h.1m.1 1.4h.1m.1-.1h.1m.1 1.1h.1m.2-4h.1m0 3.4h.1m.3-.4h.1m.6-1.9h.1m.6-.5h.1m.2-1.2h.1m.3 1.8h.1m1.3-1h.1m2.1-.8h.1m1.1 2.6h.1m.6 1.9h.1m.3-3.8h.1m-.1 .8h.1m0-1.6h.1m-.1 1.4h.1m.5 1.8h.1m-.1 1.6h.1m-.1-.9h.1m.3 .9h.1m.2 0h.1m-0-2.5h.1m1.1 2.3h.1m.2-3.5h.1m0 3.2h.1m-.1-3.7h.1m.5 3.6h.1m-0-4.2h.1m0 .3h.1m-0 5.3h.1m.2-4.6h.1m.2 2.9h.1m1.7-3.4h.1m.2 3.9h.1m1.1-1.5h.1m.1-2.4h.1m.4 .5h.1m.1-.9h.1m2.2-.1h.1m1.6 5.7h.1m3.7-.1h.1m1.9-2.1h.1m.5 .8h.1m.9 1.1h.1m2.2-.8h.1m4.7 .7h.1m1.3-.3h.1m1.7-.1h.1m.2-.9h.1m.8 .5h.1m1.1 .1h.1m1.7 .9h.1m1.1 .2h.1m-0 0h.1m-51.6 5.1h.1m1.5-3.7h.1m.6 1.1h.1m0 0h.1m.6-.3h.1m1.2 2.5h.1m-.1 .1h.1m-.1-1.5h.1m.4 2.3h.1m1-4.8h.1m.2 3.6h.1m0-.2h.1m.2 1h.1m.8-2.5h.1m0 1.6h.1m.9 1.4h.1m.9-2h.1m.8 1.2h.1m.7-3.9h.1m1.4 .5h.1m-0-.3h.1m.7 4.6h.1m1.5-3.4h.1m.1 2.8h.1m.8-3.8h.1m1.4 3.7h.1m.3 .8h.1m1.7-4.8h.1m.1-.5h.1m-.1 5.5h.1m.6-2.1h.1m3.7-3.4h.1m5.2 .2h.1m.2 5h.1m0-4h.1m.2-.2h.1m.2 3.1h.1m-0-3.6h.1m.5 .3h.1m.2-.8h.1m1.6 1.8h.1m1.2 2.4h.1m4.8-2.1h.1m.2-2.3h.1m1 0h.1m.6 0h.1m.4 4.4h.1m.2-4h.1m.4 3.2h.1m1.4-3.6h.1m.6 3.8h.1m-0-2.4h.1m0 2.8h.1m1.6-2.5h.1m4 .7h.1m-47 4.9h.1m0-.3h.1m3.4 2.8h.1m.7-1.2h.1m3.1-1.8h.1m1.5 2.2h.1m.2 .8h.1m.5-2.8h.1m.2-.2h.1m.5 3.1h.1m.1 1.3h.1m3.3-5.3h.1m-.1 .6h.1m.1 4h.1m.1-.7h.1m.3-3h.1m-.1 4.5h.1m-.1-2h.1m-0-2h.1m.6 1.6h.1m.5-.6h.1m2.3-.3h.1m2.3 3.2h.1m3.9-1.1h.1m-0-2.3h.1m.2-.1h.1m6.1-.7h.1m2.6-.1h.1m.9 .1h.1m-0-.4h.1m-63.6 8.4h.1m1 2.5h.1m1-.5h.1m.4-3.3h.1m.2 .1h.1m.8-.7h.1m.6-.3h.1m-.1 1.8h.1m-0-1.4h.1m.1 2.4h.1m.1 .9h.1m.4-4.1h.1m-0-.3h.1m.1 1.7h.1m.3 1.9h.1m1.1-3.3h.1m.3 .2h.1m.7 .4h.1m.6 1.1h.1m.1-1.3h.1m.5 .1h.1m1.4 3h.1m2.1 1.5h.1m.3-2.7h.1m.6-1.5h.1m0 .4h.1m.1 .5h.1m3.3 3.5h.1m-.1-2.1h.1m.4-.7h.1m0-2.3h.1m.4 5.2h.1m1.5-1.6h.1m1.2-2.8h.1m0 .1h.1m.2 3.8h.1m.1-4.2h.1m.5 4.1h.1m1.2-2.3h.1m9.8 1.3h.1m.1 1.3h.1m.6-2h.1m.7-3.2h.1m.2 1.7h.1m.3 2.5h.1m.4-2.4h.1m2-2h.1m.5 .2h.1m-.1 4h.1m.6 .8h.1m.5 .4h.1m.3-4.1h.1m.9 3.5h.1m2.1-3.6h.1m.7 .6h.1m.9 3.9h.1m.3-2.6h.1m1.4-1.1h.1m0-.7h.1m.6 1.2h.1m-0 1.1h.1m.2 1.2h.1m.1-.3h.1m2.8-.2h.1m.3 1.1h.1m2-1.7h.1m1.6 1h.1m-60.3 1.5h.1m.7 .1h.1m.1 0h.1m-0 3h.1m-.1-2h.1m.9 2.6h.1m0 1h.1m0-1.9h.1m-0-2.5h.1m.7 3.6h.1m.1-3h.1m.2-.3h.1m.3 2.7h.1m.2-1.8h.1m.2-.6h.1m.5 1.7h.1m1-.8h.1m.1 2.1h.1m.8-1.5h.1m.1 .3h.1m.4-.6h.1m.2-.8h.1m-0 .4h.1m-.1-2h.1m.2 4.5h.1m.1 1h.1m.6-4.7h.1m-.1 4h.1m.9-2.6h.1m2.1 2.2h.1m-0 1.1h.1m.7-3h.1m.8-1.9h.1m-.1 .9h.1m.2 2.2h.1m0 .9h.1m.9 .7h.1m.7-4.5h.1m.4 3.7h.1m.1-3h.1m.2 4.3h.1m.6-2h.1m.5-1.3h.1m.2-.5h.1m.1 .7h.1m1.3 2.5h.1m.7-4.8h.1m.1 4.1h.1m0-1.9h.1m.1-1.3h.1m.6 .9h.1m.4 .3h.1m-.1 1.7h.1m0 .5h.1m.5-4.3h.1m.6 3.4h.1m0-1.2h.1m.2 0h.1m.9-2.3h.1m.5 1.7h.1m10.9-2h.1m1.4 4.6h.1m0-3.9h.1m.8 1.6h.1m.7-2.1h.1m2.2 2.5h.1m0-2.2h.1m1.7 2.5h.1m0-.8h.1m.2 .3h.1m-0 2.9h.1m.2-1.7h.1m.2-3.4h.1m1 3.5h.1m1-1.4h.1m.9 1.2h.1m1.8 0h.1m5.1-3.3h.1m3.8 2.5h.1m.1 1.2h.1m.1-3.7h.1m-61 7.7h.1m.3 .3h.1m.1 1.3h.1m1.1 .8h.1m.3-3.4h.1m.9 .2h.1m-.1 .2h.1m1 3.5h.1m0-2h.1m.1 2.7h.1m1.1-1.4h.1m.4 .8h.1m3.3-2.5h.1m0 .4h.1m.4-1.8h.1m-.1 2.5h.1m1.2-3.4h.1m1.1 4h.1m.1-2.4h.1m.1 1.7h.1m2.6-.2h.1m.9-2h.1m.1 4.5h.1m-.1-1h.1m.3-.9h.1m.4 1.3h.1m1.3-1.7h.1m2.4-.1h.1m.4-3.4h.1m.1 4.3h.1m-0 .1h.1m.1-3h.1m1 4.2h.1m.4-3.5h.1m.5-2.2h.1m.6 5.2h.1m.3-1.1h.1m.1 .5h.1m14.4-3.6h.1m3.2 1.5h.1m.6-1.3h.1m.5-.6h.1m.2 1.3h.1m1.3 .7h.1m1-2.4h.1m.3 1h.1m-47.5 6.4h.1m1.5 3h.1m.4-3h.1m1.8-.1h.1m1.4 2.3h.1m0-2.5h.1m.6 4h.1m.6-.9h.1m.4-2.7h.1m1.5 .4h.1m.2 3h.1m.4-3.8h.1m0-.4h.1m.8-.5h.1m.4 .3h.1m.1 3.9h.1m1.1-1.8h.1m.1 2.6h.1m.3-5.3h.1m.1 3.8h.1m-.1-1.2h.1m-0-2.5h.1m0 2h.1m.7 .3h.1m.4 1h.1m-0-.2h.1m.4-2.2h.1m2.8 .4h.1m2.3 2.5h.1m-.1-1.4h.1m0-1.5h.1m2.9 .4h.1m-20.8 9.2h.1m.1 .6h.1m1.1-4.1h.1m1.1 .8h.1m.2 3.7h.1m.2-4h.1m.3 2.7h.1m0 0h.1m-.1-1.1h.1m.8-.3h.1m0 1.3h.1m.6-3.4h.1m.5-.9h.1m1 1.5h.1m0-1.5h.1m-0 4.7h.1m2.1-2.3h.1m.1 .5h.1m-.1-.6h.1m.1 1.8h.1m.4-2.5h.1m.4 3.1h.1m.3-.8h.1m.6-1.9h.1m0-1.8h.1m2-.2h.1m-12 6.4h.1m.7 3.3h.1m.4-3.2h.1m0 .1h.1m.5 4h.1m.1 .3h.1m-.1-4.5h.1m.6 4.1h.1m.1 .6h.1m.9-2.1h.1m-0 2.5h.1m-.1-3.5h.1m0 .9h.1m.1 7.9h.1" stroke="#bfb2de" stroke-width="0.85" stroke-linecap="round" fill="none"/>
<path d="M315.6 211.1h.1m-0 .8h.1m0 .7h.1m2.6-.9h.1m1.1-1.2h.1m1.4-.4h.1m.9 .3h.1m.5-1.4h.1m.7 3.6h.1m1.1 .3h.1m.5-1.7h.1m6.2 .3h.1m3-1.3h.1m-0 .3h.1m1.1 .6h.1m1.7-1.5h.1m0 2.3h.1m1.5-1h.1m.6 1.6h.1m.1-1.4h.1m-.1 .5h.1m.5 .8h.1m-0-1h.1m1 1.1h.1m.2-2.7h.1m2.5 1.6h.1m.8-.1h.1m.6 .2h.1m.3 .9h.1m-34.4 2.8h.1m.4-.1h.1m0-.9h.1m0 4.2h.1m.5-4.5h.1m.5 5.1h.1m.2-2.9h.1m.1 2.5h.1m.1-5.4h.1m.3 3.5h.1m.8-2.7h.1m.3 3.9h.1m.5-4.7h.1m.7 1.6h.1m.8-1.2h.1m-.1 1h.1m.2 1.3h.1m.1-1.4h.1m.5 3.7h.1m1-3.6h.1m.1-.8h.1m.4 0h.1m.7 4.1h.1m0-3h.1m-.1 .4h.1m.3-2.1h.1m.3 1h.1m.5 1.1h.1m.1-.7h.1m.1 1.1h.1m.2-1.4h.1m.2 2.5h.1m.8 .3h.1m.4 1.6h.1m1.5 .1h.1m.5 0h.1m.1-2.6h.1m.1-2.6h.1m.2 2h.1m0-2.6h.1m.4 .8h.1m-.1 .7h.1m.4 4.2h.1m1-1.7h.1m1.2-3.8h.1m1.3 5.6h.1m.1-4.1h.1m-0 3.6h.1m.1-1.2h.1m.6-.2h.1m.1-1.8h.1m.7 .8h.1m.7 1.3h.1m-.1 1.3h.1m0-2.8h.1m.2-2.1h.1m.3 5.1h.1m1-.6h.1m.2-4.8h.1m2.2 3.1h.1m1.3-2.2h.1m1.2 .8h.1m2-1.5h.1m1-.5h.1m.1 1.7h.1m0 1.4h.1m1.9 .8h.1m8.5 .8h.1m13.1-4h.1m-59.8 5.9h.1m.1 3.7h.1m.6 .2h.1m.7-1.1h.1m.1-.8h.1m1.2 3.1h.1m0-4.4h.1m1.2 4.4h.1m-.1-4.8h.1m.1 3h.1m.7-.1h.1m.2-3.6h.1m.9 .6h.1m.1 3.5h.1m.7 .2h.1m.1-2.1h.1m.6 .9h.1m.2-.9h.1m.4 .3h.1m.7 2.4h.1m.1-.8h.1m.1-.8h.1m-.1 2h.1m.2 .4h.1m.4-4h.1m-.1 1.8h.1m-0-1.2h.1m.3 1.4h.1m.6 .4h.1m.3-3.1h.1m0 3.4h.1m.6-2.8h.1m1.5-.1h.1m.8 1h.1m.2 .4h.1m.3-.1h.1m.2 .7h.1m.2 .1h.1m.6-.1h.1m.3 1.3h.1m.4-3.9h.1m.5 3.2h.1m.5-1h.1m.9 2.6h.1m1.2-3.4h.1m.1-1.4h.1m-.1 2.7h.1m1 .9h.1m0-3h.1m0-.5h.1m1.1 2.9h.1m.1 .7h.1m-.1-2.5h.1m.3-.2h.1m1.2-1.2h.1m0 3.2h.1m.1-3.8h.1m.5-.2h.1m-0 .3h.1m.2 4.5h.1m.2-1.5h.1m.9 .6h.1m1.9-1.5h.1m-0 .5h.1m-.1-1.6h.1m.1 2.2h.1m.1 .9h.1m.2-1.5h.1m1.5-2.7h.1m.1 5h.1m.6-3.2h.1m-0 .9h.1m.5-.6h.1m2.2-.5h.1m-.1 .8h.1m-.1 2h.1m15.2-3.4h.1m-51.6 4.9h.1m1 1.7h.1m1.4 2h.1m.6 .1h.1m.2 1.7h.1m.2-5.2h.1m.1 3.6h.1m.3-2.1h.1m0 2.2h.1m.2-4.2h.1m-.1 2.2h.1m.6 .4h.1m.5-1.7h.1m-.1 2.3h.1m-0 .1h.1m.1-2.8h.1m0 2.7h.1m.2 2.7h.1m.5-4.4h.1m.7 3.6h.1m.1-1.1h.1m.3-1.3h.1m.6-1.2h.1m0 4.4h.1m.1-4.9h.1m-0 2h.1m2.3 .7h.1m.2 2.3h.1m-0-1h.1m-.1-1.3h.1m.7 .2h.1m.2-1.7h.1m-0 1.4h.1m.8-1.1h.1m.2-1.3h.1m-0 3.3h.1m.8-1.6h.1m.1-1.3h.1m.4-1.3h.1m.3 3.4h.1m.7-3.6h.1m.9 2.4h.1m0-2.5h.1m.1 4.1h.1m.5-4.1h.1m-.1 3.6h.1m1.3 2.3h.1m.5-.4h.1m1.3-3.4h.1m.3 2.7h.1m.1-4.2h.1m.4 5.1h.1m.6-2.9h.1m1-2.5h.1m0 3.5h.1m.3-3.4h.1m2.1 1.6h.1m-.1-1.3h.1m.1 4.5h.1m.5-5h.1m0 5.5h.1m.1-2h.1m.2-1.8h.1m.2 3.6h.1m1.4-3.1h.1m.2 2.1h.1m-.1-.6h.1m.9-.9h.1m0-1h.1m.9 .3h.1m1.4-1.1h.1m3.7 3.1h.1m-39.2 6.4h.1m2.5-.6h.1m-0-3.6h.1m.3 1.6h.1m.5-1.4h.1m.3 3h.1m-0 1.6h.1m.2-4.8h.1m.1 3.7h.1m.1-2.1h.1m1.1-.9h.1m-.1 1.3h.1m.1 3h.1m.8-.7h.1m.2-2.4h.1m1 1.5h.1m.3-.4h.1m0 1h.1m.1-3.5h.1m1.7 2.4h.1m.5 0h.1m0-.8h.1m0-.4h.1m.2-1.3h.1m.3 .3h.1m.9 .3h.1m.6 4.3h.1m3.1-3.6h.1m.2 .1h.1m0-2.2h.1m.1 .1h.1m.3 2.5h.1m1.5-2.3h.1m.1 1.5h.1m-.1 0h.1m.3 .9h.1m0 .7h.1m1.2-2.1h.1m-.1 4.1h.1m.1-1.5h.1m.3 1.6h.1m1.1 .2h.1m.2-5.4h.1m.6-.2h.1m1.5 4.1h.1m1.5-4.2h.1m.3 2.3h.1m3.6 2.5h.1m5.8-.6h.1m4.4-1.9h.1m1.9 2.2h.1m4-.8h.1m.8-.9h.1m5.9 2.1h.1m-54 2.1h.1m0 4.3h.1m1.2-2.9h.1m-.1 .1h.1m.9 2.1h.1m-.1-3h.1m.6-.8h.1m0 5.1h.1m.4-1.5h.1m.1-.7h.1m.9-1.5h.1m2.4-1.3h.1m.5 2.1h.1m.4 2.4h.1m7.6-2.2h.1m1-.2h.1m.6-2.9h.1m.4 .3h.1m0 4h.1m.8-1.5h.1m.1 2.1h.1m2.7 .3h.1m.4-.7h.1m1.6-1h.1m3.9-3.3h.1m.1 1.8h.1m1 3.2h.1m.2-.6h.1m.7-3.7h.1m.2 4.5h.1m.4-4.2h.1m.5 1.9h.1m.3 1h.1m-0 .5h.1m1.3-2.6h.1m.2-.2h.1m.2 .1h.1m.2 1h.1m2.8 2.5h.1m.1-5.1h.1m.2 4.5h.1m2.3-.3h.1m.9-3.1h.1m.1 .5h.1m-.1-2h.1m2.2 2.6h.1m.7 2.5h.1m.5 .7h.1m.1-4h.1m-.1 1.9h.1m2.6-1.9h.1m-54 6.5h.1m7.5-1.6h.1m1.1 1.6h.1m.4-1.3h.1m.3 1h.1m.4 .3h.1m.8-.7h.1m.3 1.4h.1m.1-2.4h.1m1.5 2h.1m7.8-.5h.1m.4-1.8h.1m.2 4.7h.1m1.5-4.4h.1m0 4.2h.1m.9-2.1h.1m-0 .6h.1m.4-1.2h.1m.5-.8h.1m.5-.3h.1m.4 2.2h.1m.4-.4h.1m.5-1.2h.1m.2 2.3h.1m.1-1.8h.1m2 3h.1m.2-4.4h.1m.3 4.1h.1m.1-1.6h.1m.4 1.6h.1m2-4.7h.1m2.9 1.2h.1m1.9 .1h.1m8.3 1.6h.1m-64.9 7.5h.1m2.1-.4h.1m2.3 1.5h.1m1.2 .2h.1m.2-1.3h.1m2-3.6h.1m1.1-.3h.1m.2 1.2h.1m0 4.1h.1m.8-3.5h.1m.4 3.4h.1m.6-1.8h.1m.5 .3h.1m2-3.3h.1m.2 4.3h.1m.3-.3h.1m.2-3.5h.1m.4 4h.1m1.6-.5h.1m-.1-2.9h.1m-0 1.2h.1m.4 .6h.1m.5-1.6h.1m1.2-.6h.1m-.1 2.4h.1m.2 1.1h.1m.6-3.4h.1m.2 1.1h.1m.2 2.4h.1m1.9-3.9h.1m.6 .5h.1m1.5 2.3h.1m9.6 1h.1m1-5.2h.1m.3 3.9h.1m.2-2.3h.1m.3 4.2h.1m.2-2.2h.1m1.3-2.9h.1m.5 4.5h.1m.3-2.6h.1m2.5 1.2h.1m.9-.3h.1m2.7 .9h.1m0 .2h.1m.2-4.4h.1m.1 1.8h.1m1.1 2.5h.1m1.9 .5h.1m.3-.2h.1m.7 .4h.1m2.4-.6h.1m.5-2h.1m3.3 3.1h.1m-60.7 3.6h.1m.7 .2h.1m0-2.7h.1m.2 2.4h.1m1 1.3h.1m-.1-1h.1m2.9 1.5h.1m.8-.5h.1m.7-1.3h.1m.1-2.3h.1m.9 1h.1m1.1 1.6h.1m.2-.9h.1m.4 1.1h.1m.4-2.9h.1m.8-.5h.1m0 1.4h.1m.2 1.3h.1m.6 2.8h.1m-0-4.2h.1m.8-1.1h.1m.2 3.2h.1m.5-1.9h.1m1.7 3.7h.1m-.1-5.1h.1m.2 0h.1m.3 5h.1m2.7-2.7h.1m.3-.9h.1m.2 1.2h.1m0 1.4h.1m-.1-1.5h.1m-0-2.1h.1m-.1 4.8h.1m.2 .2h.1m.7-2.3h.1m2.9 .1h.1m.1 .3h.1m1-1.7h.1m13.1 1.4h.1m1.8 .1h.1m.7-1.6h.1m.6 3.2h.1m1.3-4.4h.1m-.1 1.6h.1m.3 1.5h.1m.7 1.3h.1m.8-.9h.1m1.5-2.9h.1m.1 .5h.1m1.3 3.3h.1m0-.7h.1m.2 .2h.1m1-2.5h.1m1.4-1.6h.1m.1-.7h.1m6.9 .8h.1m9.9-.3h.1m11.5 4.4h.1m-82 1.9h.1m.6 3.8h.1m2.1-3.3h.1m.9 3.9h.1m1.4 .4h.1m1.1-5.3h.1m1.8 .7h.1m1.5 3.5h.1m.5 .8h.1m.1-1h.1m-.1-2.8h.1m.9 4.3h.1m2.6-5.2h.1m.2 4.6h.1m-.1-3.5h.1m.1 .2h.1m0 2h.1m.9-1.9h.1m.5 2.2h.1m1.2-.3h.1m0 1.9h.1m0-4.4h.1m.4 .4h.1m.1 .7h.1m.8-1.1h.1m.2 .4h.1m.5-1h.1m.3 2h.1m.3-.1h.1m0-2h.1m.2 .3h.1m1.2-1h.1m.1 .7h.1m.2 .4h.1m.1 2.4h.1m.2 1.6h.1m.4-5h.1m1.2 .8h.1m.1 .1h.1m.5 2.6h.1m1.3 .3h.1m-0 1.4h.1m.3 .4h.1m.6-4h.1m11.4-1.7h.1m2.9 .2h.1m.9 3.3h.1m.3 1.2h.1m.4 .9h.1m1.1-.8h.1m1.6-2.6h.1m1.4-1.4h.1m-.1 4.9h.1m.5-5.7h.1m.3 .6h.1m4.9 3.9h.1m22.4 .1h.1m-76.5 4h.1m.3-1.8h.1m-.1 2.2h.1m.9-1.6h.1m2.3 4.1h.1m.8-4.6h.1m.5 3.1h.1m.2-3.7h.1m.6 .6h.1m.2 2.5h.1m.2 1.6h.1m.3-5h.1m.2 2.5h.1m.8-2.5h.1m.5 3.8h.1m1.4-.7h.1m.4 .6h.1m.3 1.5h.1m1.2-.5h.1m.4-1.8h.1m-.1 2.2h.1m0-5h.1m.9 2.7h.1m.2 1.8h.1m.7-2.5h.1m-.1 1.3h.1m.1-3.4h.1m1.5 2.5h.1m1.1 1.1h.1m.2 0h.1m2.1-2.4h.1m.1-.9h.1m3.1 .1h.1m1-.3h.1m47.5 3.6h.1m-69.6 6.3h.1m.1 .8h.1m.2 .5h.1m.3-.5h.1m0-3.1h.1m.5 1.3h.1m.5 .7h.1m.9-3.4h.1m.5 3.9h.1m-0-.3h.1m4.5-3.3h.1m-.1 2.8h.1m1.5 1.7h.1m.1-1h.1m.4-1.6h.1m-0-2.3h.1m2.3-.2h.1m28.7 4.6h.1m1.9 1h.1m-42.4 1h.1m.7 1.9h.1m1.5 2.4h.1m.4-1.5h.1m.2-.4h.1m1.4 2.4h.1m.1-2.4h.1m.3-2.6h.1m1.1 3.7h.1m1-2.9h.1m2.1 1.1h.1m21.2-2.3h.1m.2 1.4h.1m-26.1 7h.1m16.1-1.3h.1m18.3 1.7h.1m28.4 2.2h.1m-15.9 4.7h.1m-51.6 4.5h.1m52.2-.6h.1" stroke="#c3b6e0" stroke-width="0.85" stroke-linecap="round" fill="none"/>
<path d="M359.9 205.9h.1m2.7 1.1h.1m-48.2 5.5h.1m1.3-.7h.1m2.1 .6h.1m1.2-1.4h.1m.4-1.8h.1m.1 .3h.1m1.4-.1h.1m.2 1.5h.1m1.3 1h.1m2.7 .8h.1m-.1-1.6h.1m1.1 1.2h.1m.6-.5h.1m1 1h.1m1.4-1h.1m.3-1.9h.1m1.7 1.1h.1m.9-1.2h.1m2 1.8h.1m.1-1.5h.1m.1-.4h.1m1.4 2.5h.1m.9-2.2h.1m.3-.9h.1m-0 0h.1m.5 3h.1m.1 .4h.1m.7-3.2h.1m.3 2.1h.1m0 .4h.1m1.7-1.3h.1m.2-.4h.1m.5 2.8h.1m.2-2.4h.1m.9-.8h.1m.3 2.7h.1m.5-1.6h.1m.4 .5h.1m-34.8 3.8h.1m.1 .9h.1m0 1.2h.1m1.1-1.6h.1m1.1-.9h.1m.1 1.5h.1m.3 2.3h.1m.4-2.4h.1m-0 .6h.1m.1 .4h.1m.4 1.4h.1m.1-4.8h.1m.5 4h.1m.8-1.7h.1m1.1 2.8h.1m-0-2.4h.1m.8 .3h.1m.1-1.4h.1m.4 .7h.1m.7 .4h.1m.4-.5h.1m1.8-2.7h.1m-.1 3h.1m.1-2.4h.1m0 4.4h.1m.2 .4h.1m1.1 .3h.1m.3-.7h.1m.2-1.8h.1m.1 1.1h.1m.4-3.1h.1m.2-1.1h.1m.1 1.1h.1m.4 1.8h.1m.4 2.6h.1m.6-3.9h.1m.2 3.2h.1m.1 .1h.1m.1-2.8h.1m1.4-1.4h.1m.2 1.1h.1m.6-.2h.1m1.6 1.6h.1m0 .5h.1m-0 1.7h.1m.7-.2h.1m1-5h.1m.4-.5h.1m.1 .5h.1m1 1.4h.1m.2 .5h.1m.6-2.4h.1m.1 5h.1m-0-.2h.1m.8 .5h.1m.9-.9h.1m.2-.1h.1m.7 .5h.1m.4-2h.1m.6-1.1h.1m.2 1.9h.1m-.1-.3h.1m.2 1.2h.1m0-2.1h.1m-.1 1.5h.1m-.1-.3h.1m.1-1.1h.1m.2 2.5h.1m-.1 .7h.1m-0-.7h.1m.3-4.8h.1m-0 .9h.1m.1 2.4h.1m.3-.6h.1m.1-.5h.1m.4 2.9h.1m.3 .3h.1m.1-1.9h.1m-0-1.5h.1m1.1-.6h.1m.4 1h.1m.2 1.5h.1m.5 .6h.1m.7-4.5h.1m6.4 4.3h.1m-45.2 5.7h.1m0 .6h.1m1.3-2.8h.1m.5-.5h.1m.4-.7h.1m.4 .9h.1m.5 1h.1m1.5-1.3h.1m1-.4h.1m.5 3h.1m.4-.3h.1m.5-2.4h.1m1.3 2.2h.1m-.1-1.4h.1m.1 1.2h.1m.1-.7h.1m.9 1.5h.1m.8-2.9h.1m-0 3.6h.1m.8 1.1h.1m-.1-4.1h.1m.6-1.4h.1m.8 .2h.1m1.2 .2h.1m.7 .7h.1m.3 .8h.1m-.1-1.3h.1m3.9 1h.1m1.4-1.5h.1m.3 5.4h.1m1.5-4.6h.1m0 4.5h.1m.2-3.2h.1m.1-2h.1m.3 1.1h.1m.2 3h.1m.8 1h.1m-.1-1.5h.1m-0-.6h.1m0-1.6h.1m.3-.3h.1m0 .6h.1m.4 1.6h.1m-0-3.3h.1m.8-.5h.1m.2 .1h.1m-.1-.1h.1m.9 1.2h.1m.4-1h.1m.8 2.3h.1m-.1 2.9h.1m.1-2.7h.1m1.6-2.5h.1m0-.2h.1m.9 .4h.1m.1 2.5h.1m.1-2.1h.1m.6 2.3h.1m1.4-1.3h.1m-.1 2.9h.1m.1-.1h.1m.5-1h.1m0 .9h.1m.1-4.5h.1m21.6 .7h.1m.3 4.8h.1m.4-2.6h.1m-59.8 3.7h.1m1.1 1.7h.1m.6-2.1h.1m0 2.4h.1m.1-2.6h.1m1.2 5.9h.1m.5-3.9h.1m.8-1.1h.1m-0 0h.1m-.1 4.6h.1m-.1 .3h.1m.4-4.5h.1m1.5 2.2h.1m-.1 2.3h.1m.1-2.3h.1m1.6-2.9h.1m.7 2.7h.1m.2 1.5h.1m-.1-3.8h.1m.2-.3h.1m.4 1.7h.1m-0 .6h.1m-.1 2.4h.1m.8-1.7h.1m.2-.6h.1m.1-.4h.1m.3 2.4h.1m.1-4.3h.1m.1 3.4h.1m0-3.6h.1m0 3.6h.1m-.1-3.6h.1m1.2 1.4h.1m.2 2.1h.1m.6-.7h.1m.3-.3h.1m.3 .9h.1m0 1h.1m.5-2.5h.1m.1 3.2h.1m.4 .1h.1m1.2-5.8h.1m.1 2.9h.1m.7 2.2h.1m1.2-3h.1m.2 2.7h.1m-.1-2.5h.1m-.1 3.3h.1m.4-4.1h.1m.2 .7h.1m-0 .6h.1m1.6 1.2h.1m1-.2h.1m.2-3.4h.1m.6 2.1h.1m.5 3.1h.1m.1-.2h.1m.1 .2h.1m.6 .2h.1m.6-1.4h.1m.2 .9h.1m0-4.6h.1m0-.1h.1m.1 .5h.1m1.1 2.8h.1m.1-2.7h.1m.5 .8h.1m.5 2.3h.1m.1-.4h.1m-.1-2.2h.1m.3 .3h.1m0 .7h.1m.6 1h.1m.4-.5h.1m13 1.4h.1m5.5-.4h.1m-49.3 3.8h.1m4 .9h.1m0-1.7h.1m.3 2.4h.1m.2-2.2h.1m.1 1.2h.1m-.1 2h.1m0-3h.1m.3-1.2h.1m.1-.2h.1m-.1 1h.1m.1 .6h.1m1.3 .4h.1m.6 .1h.1m0 1.2h.1m-.1-3.1h.1m1 4.8h.1m1.3-3.5h.1m1.3-1.7h.1m-.1 1.3h.1m.8 1.1h.1m.3 1.5h.1m.7-3.3h.1m.9-.6h.1m.8 2.7h.1m.4 1.7h.1m1 .9h.1m.1-5.3h.1m.2 1.7h.1m1.3 .1h.1m.8 2h.1m2.2-3.6h.1m.9 .9h.1m.7 .6h.1m.5-1.6h.1m4.7 5.2h.1m.6 .2h.1m.2-.4h.1m-.1-.2h.1m7.8-.3h.1m.7-.9h.1m1.4 1.6h.1m.8-.2h.1m.1-.4h.1m.6 .7h.1m5.1-.3h.1m2.8 .4h.1m.3-.3h.1m-.1-1.2h.1m-52.4 2.3h.1m1.7 2.7h.1m1.1-1.9h.1m.3 1.5h.1m1.4 2.1h.1m1.1 1h.1m-0-1.3h.1m-.1-4.2h.1m.4 5.7h.1m.3-3.6h.1m1.2 .4h.1m.3-1.9h.1m1.3 2.1h.1m.5 2.5h.1m2-.1h.1m1.5-4.4h.1m1.6 2.9h.1m.3-1.4h.1m3.2 3.3h.1m2.9-1.3h.1m0 1.4h.1m.5-2.8h.1m.5 0h.1m1.3-1.4h.1m3.5 1.9h.1m1-.7h.1m1.3-2h.1m.1 4h.1m.3-2.1h.1m-0-.3h.1m0 0h.1m-.1 2.3h.1m.7 1.1h.1m1.1-3.1h.1m.1-1.5h.1m.5 2.5h.1m2.7-1.7h.1m.4 .9h.1m.2-2.8h.1m.7 1.3h.1m0 .5h.1m4.5-.4h.1m4 1.4h.1m.2-2.4h.1m.2 2.8h.1m.1 1.7h.1m.7-1.3h.1m.7-1.8h.1m-46.8 4.3h.1m0 .6h.1m1.1 0h.1m0 1.6h.1m.2 .7h.1m1.3-2.1h.1m.7-.7h.1m1.7 .7h.1m.9-.4h.1m1.5 2.3h.1m1.7-.8h.1m1.6 .3h.1m2.1 .6h.1m.3-1.8h.1m.1 .8h.1m.6-1.2h.1m.1 4.9h.1m.3-5.5h.1m1.3 2h.1m0-1.4h.1m.6-.3h.1m.3 2.9h.1m.7 2.2h.1m.4-2.5h.1m.6-1.4h.1m1 2.3h.1m.5 1.7h.1m3.4-2.6h.1m6.1-.9h.1m5.9-1.1h.1m3-1.1h.1m12.1 4.4h.1m-76.1 6.6h.1m-.1-3.3h.1m.6 1.7h.1m.5-1.5h.1m.3 3.6h.1m.3-4.1h.1m-.1 3.5h.1m.7-3h.1m.4 3.9h.1m-.1-1h.1m-.1-.1h.1m-0-1h.1m1.2-.1h.1m.6-3.2h.1m.2 5h.1m.3 .5h.1m-0-2.2h.1m0 .4h.1m-0 1.2h.1m.3-.2h.1m1.3-1.6h.1m0-.7h.1m.7 2.1h.1m-0-3.1h.1m.3 0h.1m.2 .9h.1m-.1 2.1h.1m.5-3.5h.1m.2-.2h.1m-0 .9h.1m.4 3.4h.1m.1-.7h.1m.2-2.4h.1m-.1 2.4h.1m.7-3.6h.1m.7-.1h.1m.2 .6h.1m-0-.5h.1m.8 1.3h.1m-0 1.2h.1m.7-.4h.1m.7-3.2h.1m.3 3.2h.1m1.2-1.2h.1m1.2-.5h.1m.4 2.1h.1m0 .3h.1m.1-.5h.1m.4 .6h.1m.3 .4h.1m1.1-2.7h.1m.1 2.4h.1m-0 .6h.1m0-.3h.1m-.1 .1h.1m.2-1.7h.1m10-1.5h.1m-.1 3h.1m1.2-.2h.1m0 1.4h.1m-0-5.5h.1m.5 .5h.1m.2 4.4h.1m2.3-.9h.1m-.1 1.5h.1m.4 .4h.1m.3-1h.1m2.9 .2h.1m.1-1h.1m.9-2.9h.1m.7 4.7h.1m0-4.3h.1m.4 4.1h.1m.9-2.7h.1m.2 1.5h.1m-0-.3h.1m.9-.2h.1m1.8 1.3h.1m.1-2.1h.1m2.6 2.5h.1m3.3-1.5h.1m-59.4 4.6h.1m.7 1.8h.1m.8-1.6h.1m1.8 .7h.1m.1-1.5h.1m.1 1.6h.1m-0-.8h.1m.6 .4h.1m1.9 1.9h.1m1.2-3.3h.1m0 3.4h.1m.1-1.3h.1m4.2-2.3h.1m.1-1.8h.1m0 3.6h.1m.1-2.4h.1m.8-.2h.1m0 1.7h.1m.3-1.2h.1m.2 .1h.1m1 0h.1m.5-.3h.1m.8 2.5h.1m-0-1.1h.1m.7-2.3h.1m.1 2.7h.1m.7 .5h.1m1.9-3h.1m.4 3h.1m.1 .6h.1m.5-3.6h.1m.3 .6h.1m-.1 2.9h.1m.9-1.8h.1m.5-1.9h.1m0 4h.1m-0-.6h.1m0-3.1h.1m.1 .3h.1m0-.4h.1m-0 1.1h.1m1.2 0h.1m11-.7h.1m3.9 4h.1m1.3-3.7h.1m1.4 4h.1m.2-.4h.1m.8-3.5h.1m1.1 3.1h.1m.6-.3h.1m.2-2.6h.1m0 4.1h.1m1.6-4.6h.1m.7 1.6h.1m.4-2.5h.1m.3 0h.1m.1 .9h.1m-0 1.8h.1m1.1-2.2h.1m7.2 1.6h.1m.6 .6h.1m-61.5 4.4h.1m-.1-1.2h.1m.4 2h.1m0 1.4h.1m.5-3.3h.1m.3 4.7h.1m.1 .1h.1m1 .3h.1m3.5-3.1h.1m.1 1.6h.1m.1 1.4h.1m.3-2.9h.1m.1 3.1h.1m.5-2.4h.1m1-2.9h.1m.8 2.6h.1m1-2.3h.1m.1 3.9h.1m.5 1.1h.1m0-2.8h.1m1.6 1.1h.1m1 .9h.1m.5-3.5h.1m.2 1.2h.1m.5-.7h.1m.1 3.5h.1m-.1-.5h.1m.4-2.8h.1m1.9 0h.1m.5-.1h.1m0 .2h.1m-0-.1h.1m-.1 1h.1m.1 .9h.1m1.7 2.1h.1m.9-5.4h.1m.2 1.7h.1m.5 3.4h.1m.7-4.8h.1m.1 4.3h.1m.5-1.5h.1m0 0h.1m14.8-2h.1m2.6 2.8h.1m1.3-.4h.1m.5-3.7h.1m.7 1.6h.1m.1 1.5h.1m.7-3h.1m.6 3.2h.1m.1-3.6h.1m.9 2.4h.1m.9-1.6h.1m-49.7 6.9h.1m.6 1.1h.1m1.4 1.1h.1m.1 .6h.1m-0-3.4h.1m.4-1h.1m.9 4h.1m.2-1.1h.1m.9 1h.1m.4-.8h.1m1.4-.8h.1m.9-.7h.1m1.4 3.5h.1m-.1-4h.1m1.2-.5h.1m2.7 1h.1m.1 3.3h.1m.7-.4h.1m-0 .5h.1m-.1-2.1h.1m.3-2.7h.1m2.5 5.2h.1m.4-.2h.1m.9-1.2h.1m.1-1.1h.1m.2 .8h.1m.4-1.5h.1m-.1-.9h.1m0 2.7h.1m.9-3.1h.1m-0 .9h.1m1.2-1.5h.1m.9 .7h.1m.4 .5h.1m-20.2 5h.1m.8 .6h.1m1.1 1.3h.1m0-1.5h.1m-0 3.7h.1m-.1-.2h.1m.1 .4h.1m1.3-4.1h.1m.4 2.5h.1m.3-1h.1m.2 1.7h.1m.2-3.8h.1m1.1 3.9h.1m.2-.3h.1m.7-2.4h.1m.5 1.9h.1m.6-2.9h.1m1.5 4h.1m1.7-2.4h.1m.1-.4h.1m.8-1.6h.1m.4 1.2h.1m-11.3 6.9h.1m.3 1.7h.1m.3-2.7h.1m0-.3h.1m.2 3.2h.1m1.7-2.2h.1m0 2.7h.1m0-4.1h.1m.1-.2h.1m.4 5.2h.1m1.2-4.3h.1m.3 3.4h.1m-3.9 1.7h.1m1.3 1.8h.1m.4 .3h.1m.1 .4h.1" stroke="#b9abdb" stroke-width="0.85" stroke-linecap="round" fill="none"/>
<path d="M314.6 211.8h.1m2.8-.3h.1m.2 .6h.1m1.8-1.4h.1m.3 1.3h.1m.2-.4h.1m.9-3h.1m1.2-.2h.1m.1 3.9h.1m2.3-2.3h.1m.1 .1h.1m.1 1.8h.1m.2 .5h.1m.5 .3h.1m2.2-1.1h.1m0 .7h.1m-.1-1.7h.1m1.5 2.1h.1m3 0h.1m.8-.9h.1m-0 .9h.1m.4-2.5h.1m1.1 .1h.1m.1 1.5h.1m1.8-2.7h.1m.4 2.6h.1m.6-2h.1m.5 1.1h.1m.4 .1h.1m-0 1.9h.1m.9-3.3h.1m.2 .5h.1m.8-.4h.1m1.9 2.3h.1m1.6-1.1h.1m.6 2.1h.1m.4-.1h.1m-36.3 4.2h.1m.7 1.2h.1m-0-3.6h.1m.5 2.6h.1m.1-1h.1m-.1-2.4h.1m.7 4.2h.1m-0-2.3h.1m.2-1.4h.1m0-.9h.1m.1 5.6h.1m.5-.9h.1m.3-5h.1m0 1.4h.1m-0 3.2h.1m0-.8h.1m.1-3.2h.1m.7 1.7h.1m.7 1.4h.1m.1 0h.1m1.2 2h.1m-0-2.9h.1m1.5 2.3h.1m1.6-3.6h.1m0-.9h.1m.8 1.7h.1m.3 .3h.1m.2 2.3h.1m.2-.8h.1m1.2-.5h.1m-0-2.4h.1m.8 .5h.1m2.6-.3h.1m0 2.4h.1m.6-1.6h.1m.9 1.1h.1m-0-2.8h.1m.1 .5h.1m.3 1.6h.1m2.3 2.2h.1m0 .6h.1m.4-4.3h.1m1.6 2.6h.1m.3-2h.1m1 1.2h.1m.7-1h.1m.3 1.6h.1m.3 1.5h.1m.8-3.5h.1m-.1 .4h.1m0 .2h.1m.1 2.9h.1m.1-.1h.1m.9-3.3h.1m1.9 2.3h.1m-.1-.3h.1m0-1.4h.1m-.1 3.4h.1m.2-2.7h.1m.6-1.3h.1m.8 .8h.1m.5-2.4h.1m.3 2.7h.1m.7 1h.1m.4 1.3h.1m.5-.1h.1m.5-1.5h.1m-37.7 4.1h.1m.6 4.3h.1m.1-2.9h.1m0-2.7h.1m.8 0h.1m0 .2h.1m.1 4.9h.1m.3-2.8h.1m-.1-.5h.1m.4 2.7h.1m1.5-4.2h.1m.1 2.1h.1m.9 1.8h.1m.3-2.9h.1m.1 2.8h.1m2.1-.1h.1m-0-2.4h.1m1 3.2h.1m.3-.5h.1m.9-.2h.1m.2-1.6h.1m.3 .9h.1m-0 .6h.1m.5-3.7h.1m.5 1.8h.1m.3 3h.1m1-.3h.1m0-.2h.1m.1-1.7h.1m.4-3.1h.1m.7 1.6h.1m.8 2.5h.1m.2-2h.1m-.1 0h.1m-.1 2h.1m0-3.1h.1m.3 .9h.1m.4-1.2h.1m0 1.3h.1m-0 3.2h.1m0-5h.1m0 2.5h.1m.4-1.1h.1m-.1 0h.1m.8-1.4h.1m.3 .8h.1m-.1 4h.1m.2-1h.1m.9-2.7h.1m1-.9h.1m.8 3.6h.1m.2-1.1h.1m0 .4h.1m-0 2.2h.1m.2-3.6h.1m.7 1.7h.1m.2 1h.1m.6-3.5h.1m.5 1h.1m.3-1.2h.1m.1 4.4h.1m0-1.7h.1m.1-.9h.1m-0-2h.1m0 3.3h.1m1-3.8h.1m.2 1.8h.1m.2 .6h.1m1.1 3.1h.1m.4-1.9h.1m.6-2.9h.1m-.1 4.6h.1m1.1-4.3h.1m.2 4.6h.1m.1-4.7h.1m-0 4h.1m.4-.6h.1m-.1-3h.1m.5 2h.1m.2 1.1h.1m-0 1h.1m0-1.7h.1m.6-2.6h.1m.4 4h.1m.4-3.1h.1m-36.1 3.7h.1m1.3 .9h.1m.9 1.1h.1m1.8-1.1h.1m.9 .7h.1m.5-1.2h.1m-0 4.2h.1m.1 1.2h.1m.1-5.5h.1m-0 2.4h.1m0 1.1h.1m.2-1h.1m-0 1.8h.1m1.2 .1h.1m.5-2.6h.1m.5 .1h.1m1.2 .1h.1m0-2h.1m.6 2.3h.1m1-.8h.1m.2 3.8h.1m.6-2.9h.1m-.1-1.9h.1m.4 2.7h.1m1.4 1.4h.1m0-2.4h.1m.3 .4h.1m.2 2.2h.1m.8-1.5h.1m-.1 .7h.1m.3-1.6h.1m.5-.8h.1m.6-.8h.1m.2-.3h.1m.4 5h.1m-.1 .2h.1m-.1-.6h.1m.3-2.1h.1m.1 2.1h.1m.6 .4h.1m-.1-3h.1m.1 2.6h.1m.1-3.5h.1m1 2.7h.1m.3-1.7h.1m-.1 2.3h.1m.6-5.2h.1m0 5.5h.1m.2 .3h.1m.2-3.1h.1m0 .9h.1m.2 1.1h.1m.1-1.3h.1m-.1 1.1h.1m.9-3.7h.1m.4 4.1h.1m.2-2.2h.1m.3 3.3h.1m0-4.4h.1m.9-.5h.1m.3 1.6h.1m.6-1.7h.1m.5 3.3h.1m.9-3.7h.1m.5 2.1h.1m.1-.5h.1m.4-1.3h.1m1.8 .1h.1m0 .9h.1m.2 1h.1m.2-.6h.1m.4-2.3h.1m-32.5 10.1h.1m.7 .6h.1m.2-3.7h.1m.5 3.8h.1m-.1-2.8h.1m.6-1.9h.1m.3 5.1h.1m.1-.5h.1m.6-3.1h.1m0 2.9h.1m.9 1h.1m.5-2.7h.1m.2 1.3h.1m1.1-1.5h.1m0 .9h.1m-0-.7h.1m.3-.6h.1m.3 3.3h.1m1.2 0h.1m-.1 .3h.1m.2-1.6h.1m.7-3.4h.1m1.7-.1h.1m.3 3.2h.1m2.7-1.7h.1m.5-2h.1m1.7 1h.1m.2 4.1h.1m1.8-3.3h.1m1.8 .1h.1m.2-1.9h.1m.1 5.6h.1m.3-3h.1m1.3-.7h.1m1-.8h.1m1.8-1.1h.1m2.2 4.5h.1m.7-2h.1m12 3h.1m-0 .2h.1m2.2-1.4h.1m3.8 .1h.1m1.1-1.7h.1m.3 2.7h.1m-48.8 4.8h.1m.3-1.8h.1m.6 1.9h.1m1.3 .5h.1m1.1-4.9h.1m.1 4.9h.1m1.1-3.5h.1m.3 2.3h.1m.9-2.6h.1m.3 3.7h.1m.5-3.5h.1m1.6 .2h.1m.7-.6h.1m1.5 4.7h.1m.3-5.7h.1m3.6 5.3h.1m.2 .4h.1m-.1-1.1h.1m-0-3.5h.1m.1 3.8h.1m.3 .2h.1m.1-3.4h.1m1.1 3.7h.1m2.2-.2h.1m.1-3.7h.1m1.9-1h.1m1.6 1.8h.1m3.3 3.4h.1m.3-.2h.1m0-3.4h.1m2.3 1.2h.1m.4 .4h.1m.3-3.4h.1m-.1 2.9h.1m-.1 2.4h.1m1.3-4.4h.1m0 4.4h.1m.6-1.2h.1m0 .3h.1m.9 .7h.1m3.4-3.4h.1m.5-1.6h.1m1.6 2.3h.1m.1 0h.1m.4 .3h.1m-.1-1h.1m.3 3.6h.1m.3-1.1h.1m0-2.1h.1m3.6 1.5h.1m.5-1.5h.1m2.2 1h.1m.8-2.9h.1m-45.2 8.6h.1m1.7-.8h.1m1.4 .3h.1m3.7 1.4h.1m1.7-2.4h.1m2 .4h.1m1.1 1h.1m.3-.8h.1m.5-.5h.1m.1-.3h.1m.9 1.5h.1m.9-2.3h.1m.2 1.4h.1m.6 1.5h.1m.2-1.3h.1m.1 1.1h.1m.1 .9h.1m.2-.3h.1m-.1 1.7h.1m1.7-2.1h.1m-.1-.4h.1m.4 .9h.1m.7-1.4h.1m.6 1.6h.1m.4 .5h.1m.2-1.9h.1m-.1 1.9h.1m.3-3.5h.1m3.4-.9h.1m5.6 .3h.1m1 1.3h.1m-60.8 8.9h.1m.7 .5h.1m0-2.2h.1m1.4 .6h.1m1.5 2h.1m.5-3.7h.1m-.1 1.6h.1m.2-.5h.1m.3 .4h.1m2.3 .8h.1m.1-2.9h.1m.5 3.6h.1m0-2.6h.1m1.2 2.7h.1m.2-1.7h.1m1.5 2.6h.1m.6-3.7h.1m1 3.7h.1m0-4.2h.1m.4 4.2h.1m.5-3.6h.1m1.2-1.5h.1m.3 1.7h.1m1.1-.5h.1m.6-.4h.1m.4 2.1h.1m.4-2.5h.1m1.5 1.2h.1m0-1.4h.1m.2 .8h.1m-.1 2.6h.1m2.5 1.5h.1m.2-1.3h.1m12.5 .2h.1m.5-1.6h.1m0 2.6h.1m0-3.2h.1m.4 .3h.1m.3 .5h.1m.3 2h.1m2.9-.7h.1m.4-.8h.1m-.1 1.8h.1m5.1-4.5h.1m.4 .1h.1m2.6 3.2h.1m1 .2h.1m4.8-.1h.1m.6-.4h.1m.3 1h.1m-.1-.5h.1m-60.4 4.3h.1m.2 2.1h.1m-.1-3.6h.1m2.4 .5h.1m0 .4h.1m.2 1.8h.1m1.6-.1h.1m.8-1.1h.1m.3-2h.1m1 0h.1m0 2.2h.1m.1 0h.1m1.5-.3h.1m.6 2.7h.1m.3-.5h.1m.4-2.3h.1m.5 2.8h.1m.2-.1h.1m.6-.5h.1m.9-3.4h.1m0 3.9h.1m-.1-3h.1m.9-2.3h.1m1.6 4.6h.1m.1-4.1h.1m.2 3.5h.1m-0-.7h.1m.7-1.3h.1m.2 2.8h.1m.1-4.6h.1m.5 4.3h.1m.7 0h.1m.5-.6h.1m.5 0h.1m.3 1.1h.1m.2-.9h.1m0-.3h.1m.1 .7h.1m.2-.5h.1m.4-2.4h.1m.3-1.1h.1m.6 .6h.1m.5 1.9h.1m.3-2.4h.1m.6 0h.1m.3-.6h.1m-0 .6h.1m0 1.1h.1m0-.1h.1m1.9-1.4h.1m11.7 3.9h.1m.6 .7h.1m1-3.1h.1m.1-.3h.1m.4-.7h.1m.6 1.7h.1m.4 .7h.1m.5-1.9h.1m.7 1.4h.1m1.1 2.2h.1m.6-2.8h.1m1.7-1.3h.1m1.4 4.2h.1m.8-.9h.1m.7-1.2h.1m.2 2.3h.1m1.3-3.5h.1m7.1 1.2h.1m.7-1h.1m.1 1.7h.1m-.1-1.6h.1m13.3-.1h.1m.4 3.3h.1m-76.1 .6h.1m.5 .4h.1m.3 .4h.1m.8 3.1h.1m.1-2.5h.1m.1 0h.1m-.1-1.2h.1m.3-.2h.1m1.6 3.3h.1m.1 2h.1m.4-.3h.1m1.2-1h.1m.1 .1h.1m.1-2.6h.1m0 2.9h.1m-0-.3h.1m1.7-2.9h.1m0 4.6h.1m1.2-2.5h.1m.9-1.6h.1m.2 1.7h.1m.4-.4h.1m.1-1.7h.1m2.7 3.7h.1m.7-.2h.1m.7-3.5h.1m-0-1h.1m-.1 1h.1m-.1 0h.1m.3 .1h.1m.7 4.6h.1m.1-1.9h.1m-.1 1.9h.1m.1-5.1h.1m1.5 1.7h.1m.2-1.8h.1m.4 4.9h.1m.5-4h.1m0-1.2h.1m-0 1.4h.1m1.3 3.6h.1m.4-4.4h.1m.5 2.5h.1m1 2.2h.1m-.1-4.1h.1m.4 3.4h.1m.2-4.8h.1m.1 3.2h.1m.3-2h.1m.2 2.8h.1m.1 1.6h.1m5.8-2.9h.1m9.9-.9h.1m2 .6h.1m1.2 3h.1m.1-2.5h.1m.8 1.4h.1m1.1-1.3h.1m.5 .7h.1m.1-2.4h.1m1-1.1h.1m15.7 4.3h.1m-64.3 2.1h.1m-0 1h.1m0-1.4h.1m0 3h.1m2.1-1.7h.1m-.1-.1h.1m.4 1.1h.1m.2-1.9h.1m.2 4.4h.1m0-1.3h.1m1.7-2.7h.1m.5 .8h.1m1.1 1.4h.1m.3 .8h.1m.2-3.2h.1m.8 3.7h.1m.2-2.5h.1m-.1-.2h.1m0 1.5h.1m.1-3.4h.1m.8 3.6h.1m.5-1.4h.1m.1-1.2h.1m0-.7h.1m.3 1.8h.1m.3 .5h.1m.9 .4h.1m.8-2.7h.1m.7 2.8h.1m-0 .6h.1m.7-1.3h.1m-.1-.6h.1m.3 .8h.1m0-2.1h.1m0 5.2h.1m2.3-4h.1m-.1 3.2h.1m1.8-1.7h.1m.8 .3h.1m.3-.7h.1m.4-2.7h.1m-.1 0h.1m2.2 .7h.1m-20.6 5.2h.1m.2 .9h.1m.8-1.1h.1m-.1 .4h.1m.1 1.1h.1m.1 .2h.1m.6-1.6h.1m2.1 .8h.1m.5 .7h.1m1.3 3.6h.1m.1-2.7h.1m-.1 2h.1m.8-.2h.1m.4-3.5h.1m.2 3.8h.1m.5-4.3h.1m.1 4.4h.1m-.1 .8h.1m.8-5.3h.1m1 2.3h.1m1.1-.8h.1m1-.2h.1m7.4 4.4h.1m1.4-.5h.1m-20.3 3.6h.1m1.5-2.9h.1m.4 .1h.1m2.4 3.6h.1m0-2.8h.1m-.1-.2h.1m0 .1h.1m-0-.8h.1m.3 2.3h.1m-0 .6h.1m1.3-1.7h.1m61.3 2.3h.1m-64.9 4h.1m.7 2.1h.1m.6-2h.1m.5-1.2h.1m8 1.4h.1m2.7 1.1h.1m33.6-2.7h.1m-53.6 9.8h.1m11.8-.2h.1m3.4 3.8h.1m39.2 1.1h.1m10.9-.5h.1" stroke="#cdc3e6" stroke-width="0.85" stroke-linecap="round" fill="none"/>
<path d="M347.9 235.9h.1m11.6 .8h.1m-10.2 3.5h.1m2.1-.1h.1m2-3.1h.1m.1 1.2h.1m.6 4.2h.1m.1-2h.1m.9-2.3h.1m.3 3.5h.1m.2 1.4h.1m2.1-.9h.1m.8-2.1h.1m-8.8 3.7h.1m3.8 1.4h.1m.7-.5h.1m0 12.5h.1m1.4-1.9h.1m.8 1.8h.1m1.4 1h.1m.2 1.9h.1m.6 0h.1m.3-.7h.1m-2 2.2h.1" stroke="#9d8fcf" stroke-width="0.85" stroke-linecap="round" fill="none"/>
<path d="M355.2 235.4h.1m1.1-.2h.1m-6.6 2.6h.1m.2 1.8h.1m3 1.3h.1m.5-.2h.1m.5-2.1h.1m.2 2.1h.1m3.7-2h.1m-5.1 7.2h.1m1 .1h.1m1.5-1.3h.1m1.5-.3h.1m-2.3 11.8h.1m1.7 3h.1m-.1-2.7h.1m3.2 3.8h.1m.1-1.8h.1m-.3 3.5h.1" stroke="#a899d4" stroke-width="0.85" stroke-linecap="round" fill="none"/>
<path d="M347.9 236.9h.1m1.4-.6h.1m6.4 .6h.1m-8.4 4h.1m.1 2h.1m.1-5.8h.1m.3 2.8h.1m3.5-.6h.1m.3 .9h.1m0 .7h.1m1.7-3.5h.1m.6 3.5h.1m.2 .4h.1m2-2.4h.1m.4-.8h.1m.9 3.8h.1m.1-2.9h.1m.3 1h.1m-7.5 4.4h.1m4.6 16h.1m.1-1.7h.1m.5-.1h.1m.1 1.4h.1m-.1-1.7h.1m.3 1.1h.1m.8-1.5h.1m.9 .3h.1m1.3 2.5h.1m-2.3 1h.1m.2 1.2h.1" stroke="#8f80c6" stroke-width="0.85" stroke-linecap="round" fill="none"/>
<path d="M361.9 260.6h.1m.5 2.9h.1m1.2 .2h.1m.6 .8h.1m.1-.1h.1m.1-.4h.1m.3 1.7h.1m.6-1h.1m.3 2.3h.1m.5-1.7h.1m-1.3 2.6h.1m.2-.6h.1m1.5 2.8h.1m1.1-.5h.1m-.1 0h.1m.2-2.3h.1m.4 1.5h.1m.9-1.4h.1m.2-.2h.1" stroke="#6a5cb4" stroke-width="0.85" stroke-linecap="round" fill="none"/>
<path d="M361.7 259.1h.1m1 1.6h.1m-1.2 4.6h.1m.9-.2h.1m.7-.1h.1m.1-.3h.1m.2-1.4h.1m.2-1.7h.1m1.1 3.2h.1m-.1 1.4h.1m.3 .3h.1m.4-.9h.1m.9-1.3h.1m.2 1.5h.1m0 .4h.1m.2 .1h.1m-2.2 2h.1m1-.8h.1m.1-.1h.1m.3 1.2h.1m.7-.2h.1m0-1h.1m-.1 1.2h.1m-0-1h.1m.5-.2h.1m.1 .5h.1m0 .2h.1m-0-.2h.1m-.1 .7h.1m.1-.6h.1m.2 1.5h.1m1.1-2h.1" stroke="#5a4cab" stroke-width="0.85" stroke-linecap="round" fill="none"/>
<path d="M362.1 261.2h.1m-0 2.6h.1m.4 2.3h.1m.7-3.5h.1m.5 .8h.1m-0 3.3h.1m.7-.9h.1m0-.7h.1m.2 1.1h.1m.5-3.3h.1m.3 3.7h.1m0-.2h.1m.6 .4h.1m.3 .2h.1m-.9 .4h.1m.1 .4h.1m1.1 2.6h.1m.7-2h.1m.3-.9h.1m.1 2.8h.1m-.1-1.4h.1m.3 1.1h.1m.2-.4h.1m.6 1.7h.1m0-4.2h.1" stroke="#4c41a2" stroke-width="0.85" stroke-linecap="round" fill="none"/>
<text x="1.2" y="339.0" font-size="10.2" font-weight="bold" fill="#111">E</text>
<circle cx="19.00" cy="355.30" r="5.10" fill="#3a3a3a"/>
<circle cx="23.69" cy="355.30" r="0.61" fill="#3a3a3a"/>
<circle cx="21.35" cy="359.36" r="0.61" fill="#3a3a3a"/>
<circle cx="16.65" cy="359.36" r="0.61" fill="#3a3a3a"/>
<circle cx="14.31" cy="355.30" r="0.61" fill="#3a3a3a"/>
<circle cx="16.65" cy="351.24" r="0.61" fill="#3a3a3a"/>
<circle cx="21.35" cy="351.24" r="0.61" fill="#3a3a3a"/>
<polygon points="19.00,350.61 20.22,353.18 23.06,352.95 21.45,355.30 23.06,357.65 20.22,357.42 19.00,359.99 17.78,357.42 14.94,357.65 16.55,355.30 14.94,352.95 17.78,353.18" fill="#bdb8b1"/>
<circle cx="19.00" cy="355.30" r="2.75" fill="#bdb8b1"/>
<g transform="translate(28.20,353.50) scale(1.000)"><path d="M0 2.5 C0.7 1.8 1.4 1.4 2.1 1.3 L3.4 0.2 L4.3 0.1 L4.8 0.8 C6 0.7 7.2 0.6 8.4 0.9 C10.2 1.3 11.8 2.2 13.0 3.4 C13.8 4.2 14.4 4.8 14.4 5.4 C14.4 6.1 14.1 6.5 13.8 6.6 L12.2 7.0 L10.2 7.7 L8.0 7.8 L9.8 7.1 L10.8 6.4 C9 6.0 7.5 5.8 6.2 5.7 C5.2 5.6 4.6 5.8 4.1 6.2 L2.1 6.9 L2.0 6.6 L3.4 5.8 C2.5 5.2 1.8 4.5 1.5 3.9 C1.0 3.4 0.4 3.0 0 2.5 Z" fill="#2a2a2a"/><path d="M14.3 5.6 C15.6 5.9 16.6 6.4 16.7 7.4 C16.5 8.4 14.6 8.6 12 8.1" fill="none" stroke="#2a2a2a" stroke-width="0.55"/></g>
<text x="108.0" y="352.8" font-size="9.7" fill="#222">Genes in trajectory</text>
<rect x="22.90" y="522.90" width="258.70" height="76.70" fill="none" stroke="#5ba6dc" stroke-width="1.5"/>
<rect x="22.90" y="444.10" width="258.70" height="77.80" fill="none" stroke="#3f76c4" stroke-width="1.5"/>
<rect x="22.90" y="366.30" width="258.70" height="76.70" fill="none" stroke="#9a82ba" stroke-width="1.5"/>
<text x="38.2" y="402.8" font-size="10.2" text-anchor="middle" fill="#222" transform="rotate(-90 38.2 402.8)">cyNESC</text>
<text x="37.6" y="479.9" font-size="10.2" text-anchor="middle" fill="#222" transform="rotate(-90 37.6 479.9)">MES</text>
<text x="37.6" y="563.5" font-size="10.2" text-anchor="middle" fill="#222" transform="rotate(-90 37.6 563.5)">PC</text>
<text x="18.6" y="479.4" font-size="10.2" text-anchor="middle" fill="#222" transform="rotate(-90 18.6 479.4)">Expression</text>
<text x="152.2" y="610.6" font-size="10.0" text-anchor="middle" fill="#222">Pseudotime</text>
<path d="M60.20 395.90 L60.52 395.55 L60.92 395.11 L61.38 394.59 L61.90 394.02 L62.47 393.39 L63.08 392.72 L63.71 392.03 L64.36 391.31 L65.03 390.59 L65.70 389.88 L66.36 389.18 L67.00 388.50 L67.66 387.79 L68.35 386.99 L69.08 386.14 L69.82 385.24 L70.58 384.35 L71.34 383.47 L72.09 382.64 L72.82 381.88 L73.53 381.22 L74.20 380.68 L74.83 380.30 L75.40 380.10 L75.91 380.06 L76.37 380.14 L76.78 380.33 L77.16 380.63 L77.52 381.03 L77.85 381.53 L78.18 382.10 L78.50 382.76 L78.84 383.48 L79.20 384.27 L79.58 385.11 L80.00 386.00 L80.45 387.00 L80.92 388.14 L81.40 389.41 L81.90 390.77 L82.40 392.20 L82.91 393.68 L83.43 395.18 L83.95 396.66 L84.47 398.11 L84.98 399.51 L85.50 400.81 L86.00 402.00 L86.50 403.12 L87.01 404.23 L87.52 405.33 L88.04 406.40 L88.55 407.43 L89.06 408.42 L89.57 409.36 L90.07 410.24 L90.57 411.05 L91.06 411.79 L91.54 412.44 L92.00 413.00 L92.45 413.46 L92.89 413.81 L93.32 414.07 L93.74 414.25 L94.15 414.36 L94.56 414.42 L94.97 414.43 L95.37 414.42 L95.77 414.39 L96.18 414.35 L96.59 414.31 L97.00 414.30 L97.41 414.31 L97.80 414.33 L98.18 414.35 L98.56 414.36 L98.93 414.36 L99.31 414.33 L99.70 414.25 L100.11 414.14 L100.54 413.96 L100.99 413.72 L101.48 413.40 L102.00 413.00 L102.57 412.51 L103.18 411.95 L103.83 411.33 L104.50 410.64 L105.20 409.90 L105.91 409.11 L106.63 408.26 L107.34 407.38 L108.04 406.45 L108.72 405.50 L109.38 404.51 L110.00 403.50 L110.61 402.39 L111.23 401.14 L111.86 399.79 L112.49 398.35 L113.10 396.88 L113.70 395.41 L114.27 393.97 L114.80 392.59 L115.29 391.32 L115.72 390.20 L116.10 389.24 L116.40 388.50 L116.40 409.50 L116.10 410.04 L115.72 410.74 L115.29 411.56 L114.80 412.48 L114.27 413.48 L113.70 414.53 L113.10 415.61 L112.49 416.69 L111.86 417.74 L111.23 418.74 L110.61 419.67 L110.00 420.50 L109.38 421.27 L108.72 422.02 L108.04 422.77 L107.34 423.49 L106.63 424.19 L105.91 424.86 L105.20 425.49 L104.50 426.09 L103.83 426.64 L103.18 427.15 L102.57 427.60 L102.00 428.00 L101.48 428.34 L100.99 428.62 L100.54 428.85 L100.11 429.03 L99.70 429.16 L99.31 429.26 L98.93 429.33 L98.56 429.36 L98.18 429.37 L97.80 429.36 L97.41 429.34 L97.00 429.30 L96.59 429.27 L96.18 429.25 L95.77 429.23 L95.37 429.20 L94.97 429.14 L94.56 429.04 L94.15 428.90 L93.74 428.69 L93.32 428.41 L92.89 428.04 L92.45 427.58 L92.00 427.00 L91.54 426.30 L91.06 425.49 L90.57 424.57 L90.07 423.57 L89.57 422.49 L89.06 421.36 L88.55 420.17 L88.04 418.95 L87.52 417.71 L87.01 416.46 L86.50 415.22 L86.00 414.00 L85.50 412.74 L84.98 411.39 L84.47 409.97 L83.95 408.51 L83.43 407.03 L82.91 405.56 L82.40 404.10 L81.90 402.70 L81.40 401.36 L80.92 400.12 L80.45 398.99 L80.00 398.00 L79.58 397.11 L79.20 396.28 L78.84 395.50 L78.50 394.79 L78.18 394.15 L77.85 393.59 L77.52 393.10 L77.16 392.71 L76.78 392.40 L76.37 392.20 L75.91 392.09 L75.40 392.10 L74.83 392.25 L74.20 392.58 L73.53 393.04 L72.82 393.62 L72.09 394.29 L71.34 395.03 L70.58 395.81 L69.82 396.61 L69.08 397.41 L68.35 398.17 L67.66 398.88 L67.00 399.50 L66.36 400.09 L65.70 400.70 L65.03 401.32 L64.36 401.94 L63.71 402.56 L63.08 403.16 L62.47 403.74 L61.90 404.28 L61.38 404.77 L60.92 405.22 L60.52 405.59 L60.20 405.90 Z" fill="#d4d4d4"/>
<path d="M60.20 400.90 L60.52 400.57 L60.92 400.16 L61.38 399.68 L61.90 399.15 L62.47 398.56 L63.08 397.94 L63.71 397.30 L64.36 396.63 L65.03 395.96 L65.70 395.29 L66.36 394.63 L67.00 394.00 L67.66 393.33 L68.35 392.58 L69.08 391.77 L69.82 390.93 L70.58 390.08 L71.34 389.25 L72.09 388.46 L72.82 387.75 L73.53 387.13 L74.20 386.63 L74.83 386.28 L75.40 386.10 L75.91 386.08 L76.37 386.17 L76.78 386.37 L77.16 386.67 L77.52 387.07 L77.85 387.56 L78.18 388.13 L78.50 388.77 L78.84 389.49 L79.20 390.27 L79.58 391.11 L80.00 392.00 L80.45 392.99 L80.92 394.13 L81.40 395.38 L81.90 396.73 L82.40 398.15 L82.91 399.62 L83.43 401.11 L83.95 402.59 L84.47 404.04 L84.98 405.45 L85.50 406.77 L86.00 408.00 L86.50 409.17 L87.01 410.35 L87.52 411.52 L88.04 412.67 L88.55 413.80 L89.06 414.89 L89.57 415.93 L90.07 416.90 L90.57 417.81 L91.06 418.64 L91.54 419.37 L92.00 420.00 L92.45 420.52 L92.89 420.93 L93.32 421.24 L93.74 421.47 L94.15 421.63 L94.56 421.73 L94.97 421.79 L95.37 421.81 L95.77 421.81 L96.18 421.80 L96.59 421.79 L97.00 421.80 L97.41 421.82 L97.80 421.85 L98.18 421.86 L98.56 421.86 L98.93 421.84 L99.31 421.79 L99.70 421.71 L100.11 421.58 L100.54 421.40 L100.99 421.17 L101.48 420.87 L102.00 420.50 L102.57 420.06 L103.18 419.55 L103.83 418.99 L104.50 418.37 L105.20 417.70 L105.91 416.98 L106.63 416.23 L107.34 415.43 L108.04 414.61 L108.72 413.76 L109.38 412.89 L110.00 412.00 L110.61 411.03 L111.23 409.94 L111.86 408.76 L112.49 407.52 L113.10 406.24 L113.70 404.97 L114.27 403.72 L114.80 402.54 L115.29 401.44 L115.72 400.47 L116.10 399.64 L116.40 399.00" fill="none" stroke="#1a1a1a" stroke-width="1.05"/>
<line x1="57.60" y1="377.50" x2="57.60" y2="432.70" stroke="#555" stroke-width="0.7"/>
<line x1="57.60" y1="432.40" x2="118.80" y2="432.40" stroke="#555" stroke-width="0.7"/>
<line x1="55.80" y1="390.10" x2="57.60" y2="390.10" stroke="#555" stroke-width="0.6"/>
<text x="55.2" y="392.4" font-size="6.6" text-anchor="end" fill="#444">0.6</text>
<line x1="55.80" y1="405.30" x2="57.60" y2="405.30" stroke="#555" stroke-width="0.6"/>
<text x="55.2" y="407.6" font-size="6.6" text-anchor="end" fill="#444">0.5</text>
<line x1="55.80" y1="419.90" x2="57.60" y2="419.90" stroke="#555" stroke-width="0.6"/>
<text x="55.2" y="422.2" font-size="6.6" text-anchor="end" fill="#444">0.4</text>
<line x1="60.20" y1="432.40" x2="60.20" y2="434.00" stroke="#555" stroke-width="0.6"/>
<text x="60.2" y="440.4" font-size="6.6" text-anchor="middle" fill="#444">0</text>
<line x1="116.40" y1="432.40" x2="116.40" y2="434.00" stroke="#555" stroke-width="0.6"/>
<text x="116.4" y="440.4" font-size="6.6" text-anchor="middle" fill="#444">5</text>
<text x="89.8" y="375.9" font-size="8.6" text-anchor="middle" font-style="italic" fill="#222">CENPF</text>
<path d="M142.20 413.40 L142.43 412.39 L142.70 411.10 L143.02 409.56 L143.37 407.84 L143.76 405.98 L144.18 404.02 L144.62 402.02 L145.08 400.01 L145.55 398.06 L146.03 396.21 L146.52 394.51 L147.00 393.00 L147.49 391.59 L148.01 390.18 L148.55 388.79 L149.11 387.42 L149.68 386.10 L150.26 384.86 L150.84 383.70 L151.43 382.65 L152.01 381.72 L152.58 380.95 L153.15 380.33 L153.70 379.90 L154.23 379.65 L154.75 379.56 L155.26 379.62 L155.77 379.81 L156.27 380.13 L156.77 380.57 L157.27 381.11 L157.79 381.74 L158.31 382.46 L158.86 383.25 L159.42 384.10 L160.00 385.00 L160.61 386.02 L161.23 387.20 L161.88 388.53 L162.54 389.97 L163.21 391.49 L163.89 393.07 L164.58 394.67 L165.27 396.26 L165.96 397.82 L166.65 399.32 L167.33 400.72 L168.00 402.00 L168.67 403.21 L169.36 404.40 L170.05 405.58 L170.74 406.73 L171.43 407.84 L172.12 408.91 L172.81 409.93 L173.48 410.90 L174.14 411.79 L174.78 412.61 L175.40 413.35 L176.00 414.00 L176.57 414.55 L177.12 415.01 L177.64 415.38 L178.15 415.67 L178.64 415.90 L179.12 416.07 L179.60 416.19 L180.07 416.27 L180.55 416.33 L181.02 416.36 L181.51 416.38 L182.00 416.40 L182.49 416.44 L182.96 416.49 L183.42 416.55 L183.87 416.60 L184.32 416.61 L184.78 416.58 L185.24 416.49 L185.73 416.31 L186.25 416.05 L186.79 415.67 L187.37 415.16 L188.00 414.50 L188.70 413.62 L189.50 412.50 L190.37 411.18 L191.29 409.71 L192.23 408.14 L193.18 406.53 L194.10 404.93 L194.98 403.38 L195.79 401.94 L196.51 400.67 L197.12 399.60 L197.60 398.80 L197.60 415.80 L197.12 416.45 L196.51 417.31 L195.79 418.34 L194.98 419.49 L194.10 420.74 L193.18 422.03 L192.23 423.33 L191.29 424.60 L190.37 425.79 L189.50 426.86 L188.70 427.78 L188.00 428.50 L187.37 429.05 L186.79 429.49 L186.25 429.84 L185.73 430.09 L185.24 430.28 L184.78 430.39 L184.32 430.46 L183.87 430.49 L183.42 430.48 L182.96 430.46 L182.49 430.43 L182.00 430.40 L181.51 430.39 L181.02 430.38 L180.55 430.37 L180.07 430.35 L179.60 430.29 L179.12 430.19 L178.64 430.04 L178.15 429.82 L177.64 429.52 L177.12 429.12 L176.57 428.62 L176.00 428.00 L175.40 427.26 L174.78 426.40 L174.14 425.43 L173.48 424.38 L172.81 423.24 L172.12 422.04 L171.43 420.78 L170.74 419.47 L170.05 418.12 L169.36 416.76 L168.67 415.38 L168.00 414.00 L167.33 412.55 L166.65 410.96 L165.96 409.28 L165.27 407.52 L164.58 405.73 L163.89 403.94 L163.21 402.18 L162.54 400.49 L161.88 398.89 L161.23 397.42 L160.61 396.11 L160.00 395.00 L159.42 394.03 L158.86 393.13 L158.31 392.32 L157.79 391.60 L157.27 390.97 L156.77 390.44 L156.27 390.03 L155.77 389.74 L155.26 389.57 L154.75 389.54 L154.23 389.64 L153.70 389.90 L153.15 390.33 L152.58 390.96 L152.01 391.75 L151.43 392.69 L150.84 393.75 L150.26 394.92 L149.68 396.17 L149.11 397.49 L148.55 398.86 L148.01 400.24 L147.49 401.63 L147.00 403.00 L146.52 404.46 L146.03 406.09 L145.55 407.86 L145.08 409.72 L144.62 411.62 L144.18 413.52 L143.76 415.37 L143.37 417.14 L143.02 418.77 L142.70 420.22 L142.43 421.44 L142.20 422.40 Z" fill="#d4d4d4"/>
<path d="M142.20 417.90 L142.43 416.92 L142.70 415.66 L143.02 414.16 L143.37 412.49 L143.76 410.67 L144.18 408.77 L144.62 406.82 L145.08 404.87 L145.55 402.96 L146.03 401.15 L146.52 399.48 L147.00 398.00 L147.49 396.61 L148.01 395.21 L148.55 393.82 L149.11 392.46 L149.68 391.14 L150.26 389.89 L150.84 388.72 L151.43 387.67 L152.01 386.74 L152.58 385.95 L153.15 385.33 L153.70 384.90 L154.23 384.65 L154.75 384.55 L155.26 384.59 L155.77 384.77 L156.27 385.08 L156.77 385.51 L157.27 386.04 L157.79 386.67 L158.31 387.39 L158.86 388.19 L159.42 389.07 L160.00 390.00 L160.61 391.06 L161.23 392.31 L161.88 393.71 L162.54 395.23 L163.21 396.84 L163.89 398.51 L164.58 400.20 L165.27 401.89 L165.96 403.55 L166.65 405.14 L167.33 406.63 L168.00 408.00 L168.67 409.29 L169.36 410.58 L170.05 411.85 L170.74 413.10 L171.43 414.31 L172.12 415.47 L172.81 416.59 L173.48 417.64 L174.14 418.61 L174.78 419.50 L175.40 420.30 L176.00 421.00 L176.57 421.58 L177.12 422.06 L177.64 422.45 L178.15 422.74 L178.64 422.97 L179.12 423.13 L179.60 423.24 L180.07 423.31 L180.55 423.35 L181.02 423.37 L181.51 423.38 L182.00 423.40 L182.49 423.43 L182.96 423.47 L183.42 423.52 L183.87 423.54 L184.32 423.54 L184.78 423.49 L185.24 423.38 L185.73 423.20 L186.25 422.94 L186.79 422.58 L187.37 422.10 L188.00 421.50 L188.70 420.70 L189.50 419.68 L190.37 418.48 L191.29 417.15 L192.23 415.74 L193.18 414.28 L194.10 412.83 L194.98 411.44 L195.79 410.14 L196.51 408.99 L197.12 408.03 L197.60 407.30" fill="none" stroke="#1a1a1a" stroke-width="1.05"/>
<line x1="139.30" y1="377.50" x2="139.30" y2="432.70" stroke="#555" stroke-width="0.7"/>
<line x1="139.30" y1="432.40" x2="200.50" y2="432.40" stroke="#555" stroke-width="0.7"/>
<line x1="137.50" y1="387.30" x2="139.30" y2="387.30" stroke="#555" stroke-width="0.6"/>
<text x="136.9" y="389.6" font-size="6.6" text-anchor="end" fill="#444">0.9</text>
<line x1="137.50" y1="399.30" x2="139.30" y2="399.30" stroke="#555" stroke-width="0.6"/>
<text x="136.9" y="401.6" font-size="6.6" text-anchor="end" fill="#444">0.8</text>
<line x1="137.50" y1="411.40" x2="139.30" y2="411.40" stroke="#555" stroke-width="0.6"/>
<text x="136.9" y="413.7" font-size="6.6" text-anchor="end" fill="#444">0.7</text>
<line x1="137.50" y1="423.40" x2="139.30" y2="423.40" stroke="#555" stroke-width="0.6"/>
<text x="136.9" y="425.7" font-size="6.6" text-anchor="end" fill="#444">0.6</text>
<line x1="141.90" y1="432.40" x2="141.90" y2="434.00" stroke="#555" stroke-width="0.6"/>
<text x="141.9" y="440.4" font-size="6.6" text-anchor="middle" fill="#444">0</text>
<line x1="198.10" y1="432.40" x2="198.10" y2="434.00" stroke="#555" stroke-width="0.6"/>
<text x="198.1" y="440.4" font-size="6.6" text-anchor="middle" fill="#444">5</text>
<text x="168.4" y="375.9" font-size="8.6" text-anchor="middle" font-style="italic" fill="#222">HMGB2</text>
<path d="M218.70 415.30 L218.95 414.19 L219.25 412.76 L219.59 411.07 L219.97 409.16 L220.40 407.10 L220.85 404.94 L221.33 402.73 L221.84 400.54 L222.36 398.42 L222.90 396.41 L223.45 394.59 L224.00 393.00 L224.58 391.55 L225.20 390.13 L225.86 388.74 L226.54 387.41 L227.24 386.14 L227.96 384.96 L228.67 383.87 L229.38 382.89 L230.08 382.04 L230.75 381.33 L231.39 380.78 L232.00 380.40 L232.56 380.19 L233.09 380.14 L233.59 380.23 L234.07 380.46 L234.54 380.82 L235.00 381.29 L235.46 381.87 L235.93 382.54 L236.41 383.30 L236.91 384.14 L237.44 385.04 L238.00 386.00 L238.60 387.09 L239.24 388.36 L239.91 389.79 L240.59 391.34 L241.29 392.98 L242.00 394.66 L242.71 396.37 L243.41 398.06 L244.09 399.70 L244.76 401.26 L245.40 402.71 L246.00 404.00 L246.57 405.19 L247.12 406.36 L247.64 407.48 L248.15 408.57 L248.64 409.60 L249.12 410.58 L249.60 411.50 L250.07 412.36 L250.55 413.14 L251.02 413.84 L251.51 414.47 L252.00 415.00 L252.49 415.44 L252.98 415.78 L253.45 416.03 L253.93 416.20 L254.40 416.30 L254.88 416.33 L255.36 416.31 L255.85 416.25 L256.36 416.15 L256.88 416.02 L257.43 415.86 L258.00 415.70 L258.59 415.53 L259.21 415.35 L259.85 415.16 L260.50 414.93 L261.16 414.67 L261.84 414.36 L262.52 413.99 L263.21 413.56 L263.91 413.05 L264.61 412.47 L265.31 411.78 L266.00 411.00 L266.72 410.04 L267.50 408.87 L268.31 407.54 L269.14 406.09 L269.98 404.56 L270.80 403.01 L271.60 401.47 L272.35 399.99 L273.04 398.62 L273.66 397.40 L274.18 396.38 L274.60 395.60 L274.60 412.60 L274.18 413.23 L273.66 414.05 L273.04 415.03 L272.35 416.14 L271.60 417.33 L270.80 418.57 L269.98 419.82 L269.14 421.05 L268.31 422.22 L267.50 423.29 L266.72 424.23 L266.00 425.00 L265.31 425.63 L264.61 426.17 L263.91 426.64 L263.21 427.04 L262.52 427.38 L261.84 427.67 L261.16 427.91 L260.50 428.11 L259.85 428.29 L259.21 428.44 L258.59 428.57 L258.00 428.70 L257.43 428.83 L256.88 428.97 L256.36 429.10 L255.85 429.21 L255.36 429.29 L254.88 429.33 L254.40 429.32 L253.93 429.23 L253.45 429.07 L252.98 428.82 L252.49 428.47 L252.00 428.00 L251.51 427.42 L251.02 426.75 L250.55 425.98 L250.07 425.13 L249.60 424.21 L249.12 423.21 L248.64 422.14 L248.15 421.01 L247.64 419.83 L247.12 418.59 L246.57 417.32 L246.00 416.00 L245.40 414.57 L244.76 412.96 L244.09 411.22 L243.41 409.39 L242.71 407.50 L242.00 405.60 L241.29 403.72 L240.59 401.90 L239.91 400.17 L239.24 398.59 L238.60 397.19 L238.00 396.00 L237.44 394.97 L236.91 394.02 L236.41 393.16 L235.93 392.39 L235.46 391.72 L235.00 391.16 L234.54 390.71 L234.07 390.39 L233.59 390.18 L233.09 390.11 L232.56 390.18 L232.00 390.40 L231.39 390.79 L230.75 391.35 L230.08 392.07 L229.38 392.93 L228.67 393.92 L227.96 395.02 L227.24 396.21 L226.54 397.48 L225.86 398.81 L225.20 400.19 L224.58 401.59 L224.00 403.00 L223.45 404.54 L222.90 406.29 L222.36 408.21 L221.84 410.24 L221.33 412.34 L220.85 414.44 L220.40 416.49 L219.97 418.46 L219.59 420.27 L219.25 421.88 L218.95 423.24 L218.70 424.30 Z" fill="#d4d4d4"/>
<path d="M218.70 419.80 L218.95 418.72 L219.25 417.32 L219.59 415.67 L219.97 413.81 L220.40 411.80 L220.85 409.69 L221.33 407.54 L221.84 405.39 L222.36 403.31 L222.90 401.35 L223.45 399.56 L224.00 398.00 L224.58 396.57 L225.20 395.16 L225.86 393.78 L226.54 392.44 L227.24 391.18 L227.96 389.99 L228.67 388.89 L229.38 387.91 L230.08 387.05 L230.75 386.34 L231.39 385.78 L232.00 385.40 L232.56 385.19 L233.09 385.12 L233.59 385.21 L234.07 385.42 L234.54 385.76 L235.00 386.22 L235.46 386.80 L235.93 387.47 L236.41 388.23 L236.91 389.08 L237.44 390.01 L238.00 391.00 L238.60 392.14 L239.24 393.48 L239.91 394.98 L240.59 396.62 L241.29 398.35 L242.00 400.13 L242.71 401.94 L243.41 403.73 L244.09 405.46 L244.76 407.11 L245.40 408.64 L246.00 410.00 L246.57 411.26 L247.12 412.48 L247.64 413.66 L248.15 414.79 L248.64 415.87 L249.12 416.89 L249.60 417.85 L250.07 418.74 L250.55 419.56 L251.02 420.30 L251.51 420.94 L252.00 421.50 L252.49 421.95 L252.98 422.30 L253.45 422.55 L253.93 422.71 L254.40 422.81 L254.88 422.83 L255.36 422.80 L255.85 422.73 L256.36 422.62 L256.88 422.49 L257.43 422.35 L258.00 422.20 L258.59 422.05 L259.21 421.90 L259.85 421.72 L260.50 421.52 L261.16 421.29 L261.84 421.01 L262.52 420.69 L263.21 420.30 L263.91 419.85 L264.61 419.32 L265.31 418.71 L266.00 418.00 L266.72 417.14 L267.50 416.08 L268.31 414.88 L269.14 413.57 L269.98 412.19 L270.80 410.79 L271.60 409.40 L272.35 408.06 L273.04 406.83 L273.66 405.72 L274.18 404.80 L274.60 404.10" fill="none" stroke="#1a1a1a" stroke-width="1.05"/>
<line x1="216.30" y1="377.50" x2="216.30" y2="432.70" stroke="#555" stroke-width="0.7"/>
<line x1="216.30" y1="432.40" x2="277.50" y2="432.40" stroke="#555" stroke-width="0.7"/>
<line x1="214.50" y1="396.90" x2="216.30" y2="396.90" stroke="#555" stroke-width="0.6"/>
<text x="213.9" y="399.2" font-size="6.6" text-anchor="end" fill="#444">0.3</text>
<line x1="214.50" y1="416.90" x2="216.30" y2="416.90" stroke="#555" stroke-width="0.6"/>
<text x="213.9" y="419.2" font-size="6.6" text-anchor="end" fill="#444">0.2</text>
<line x1="218.90" y1="432.40" x2="218.90" y2="434.00" stroke="#555" stroke-width="0.6"/>
<text x="218.9" y="440.4" font-size="6.6" text-anchor="middle" fill="#444">0</text>
<line x1="275.10" y1="432.40" x2="275.10" y2="434.00" stroke="#555" stroke-width="0.6"/>
<text x="275.1" y="440.4" font-size="6.6" text-anchor="middle" fill="#444">5</text>
<text x="246.7" y="375.9" font-size="8.6" text-anchor="middle" font-style="italic" fill="#222">NUSAP1</text>
<path d="M60.20 503.00 L60.48 502.35 L60.83 501.53 L61.24 500.56 L61.70 499.48 L62.20 498.31 L62.73 497.06 L63.28 495.77 L63.84 494.46 L64.40 493.16 L64.95 491.88 L65.49 490.65 L66.00 489.50 L66.49 488.40 L66.99 487.29 L67.49 486.19 L67.99 485.09 L68.49 484.00 L68.99 482.91 L69.49 481.82 L69.99 480.74 L70.50 479.67 L71.00 478.60 L71.50 477.55 L72.00 476.50 L72.50 475.44 L73.00 474.36 L73.51 473.27 L74.01 472.17 L74.52 471.08 L75.02 470.01 L75.53 468.97 L76.03 467.96 L76.53 467.00 L77.02 466.09 L77.51 465.26 L78.00 464.50 L78.48 463.80 L78.95 463.14 L79.41 462.53 L79.87 461.95 L80.32 461.43 L80.78 460.95 L81.23 460.53 L81.69 460.16 L82.15 459.85 L82.62 459.60 L83.11 459.42 L83.60 459.30 L84.10 459.26 L84.60 459.29 L85.11 459.39 L85.61 459.55 L86.13 459.77 L86.65 460.04 L87.18 460.37 L87.72 460.73 L88.27 461.13 L88.83 461.56 L89.41 462.02 L90.00 462.50 L90.61 463.01 L91.24 463.55 L91.89 464.12 L92.55 464.74 L93.22 465.39 L93.90 466.07 L94.59 466.80 L95.27 467.56 L95.96 468.36 L96.65 469.20 L97.33 470.08 L98.00 471.00 L98.66 471.96 L99.31 472.98 L99.96 474.04 L100.60 475.14 L101.24 476.29 L101.89 477.46 L102.54 478.67 L103.20 479.90 L103.87 481.15 L104.56 482.42 L105.27 483.71 L106.00 485.00 L106.78 486.37 L107.64 487.87 L108.55 489.46 L109.50 491.10 L110.45 492.77 L111.40 494.43 L112.32 496.03 L113.19 497.55 L114.00 498.95 L114.71 500.20 L115.32 501.26 L115.80 502.10 L115.80 506.10 L115.32 505.26 L114.71 504.20 L114.00 502.95 L113.19 501.55 L112.32 500.03 L111.40 498.43 L110.45 496.77 L109.50 495.10 L108.55 493.46 L107.64 491.87 L106.78 490.37 L106.00 489.00 L105.27 487.71 L104.56 486.42 L103.87 485.15 L103.20 483.90 L102.54 482.67 L101.89 481.46 L101.24 480.29 L100.60 479.14 L99.96 478.04 L99.31 476.98 L98.66 475.96 L98.00 475.00 L97.33 474.08 L96.65 473.20 L95.96 472.36 L95.27 471.56 L94.59 470.80 L93.90 470.07 L93.22 469.39 L92.55 468.74 L91.89 468.12 L91.24 467.55 L90.61 467.01 L90.00 466.50 L89.41 466.02 L88.83 465.57 L88.27 465.15 L87.72 464.77 L87.18 464.42 L86.65 464.11 L86.13 463.84 L85.61 463.62 L85.11 463.46 L84.60 463.34 L84.10 463.29 L83.60 463.30 L83.11 463.37 L82.62 463.48 L82.15 463.65 L81.69 463.86 L81.23 464.13 L80.78 464.45 L80.32 464.82 L79.87 465.25 L79.41 465.73 L78.95 466.26 L78.48 466.85 L78.00 467.50 L77.51 468.22 L77.02 469.04 L76.53 469.93 L76.03 470.89 L75.53 471.90 L75.02 472.95 L74.52 474.03 L74.01 475.14 L73.51 476.25 L73.00 477.35 L72.50 478.44 L72.00 479.50 L71.50 480.55 L71.00 481.60 L70.50 482.67 L69.99 483.74 L69.49 484.82 L68.99 485.91 L68.49 487.00 L67.99 488.09 L67.49 489.19 L66.99 490.29 L66.49 491.40 L66.00 492.50 L65.49 493.65 L64.95 494.88 L64.40 496.16 L63.84 497.46 L63.28 498.77 L62.73 500.06 L62.20 501.31 L61.70 502.48 L61.24 503.56 L60.83 504.53 L60.48 505.35 L60.20 506.00 Z" fill="#d4d4d4"/>
<path d="M60.20 504.50 L60.48 503.85 L60.83 503.03 L61.24 502.06 L61.70 500.98 L62.20 499.81 L62.73 498.56 L63.28 497.27 L63.84 495.96 L64.40 494.66 L64.95 493.38 L65.49 492.15 L66.00 491.00 L66.49 489.90 L66.99 488.79 L67.49 487.69 L67.99 486.59 L68.49 485.50 L68.99 484.41 L69.49 483.32 L69.99 482.24 L70.50 481.17 L71.00 480.10 L71.50 479.05 L72.00 478.00 L72.50 476.94 L73.00 475.86 L73.51 474.76 L74.01 473.66 L74.52 472.56 L75.02 471.48 L75.53 470.43 L76.03 469.42 L76.53 468.46 L77.02 467.57 L77.51 466.74 L78.00 466.00 L78.48 465.33 L78.95 464.70 L79.41 464.13 L79.87 463.60 L80.32 463.12 L80.78 462.70 L81.23 462.33 L81.69 462.01 L82.15 461.75 L82.62 461.54 L83.11 461.39 L83.60 461.30 L84.10 461.27 L84.60 461.31 L85.11 461.42 L85.61 461.59 L86.13 461.80 L86.65 462.08 L87.18 462.39 L87.72 462.75 L88.27 463.14 L88.83 463.57 L89.41 464.02 L90.00 464.50 L90.61 465.01 L91.24 465.55 L91.89 466.12 L92.55 466.74 L93.22 467.39 L93.90 468.07 L94.59 468.80 L95.27 469.56 L95.96 470.36 L96.65 471.20 L97.33 472.08 L98.00 473.00 L98.66 473.96 L99.31 474.98 L99.96 476.04 L100.60 477.14 L101.24 478.29 L101.89 479.46 L102.54 480.67 L103.20 481.90 L103.87 483.15 L104.56 484.42 L105.27 485.71 L106.00 487.00 L106.78 488.37 L107.64 489.87 L108.55 491.46 L109.50 493.10 L110.45 494.77 L111.40 496.43 L112.32 498.03 L113.19 499.55 L114.00 500.95 L114.71 502.20 L115.32 503.26 L115.80 504.10" fill="none" stroke="#1a1a1a" stroke-width="1.05"/>
<line x1="57.60" y1="456.50" x2="57.60" y2="511.40" stroke="#555" stroke-width="0.7"/>
<line x1="57.60" y1="511.10" x2="118.80" y2="511.10" stroke="#555" stroke-width="0.7"/>
<line x1="55.80" y1="463.70" x2="57.60" y2="463.70" stroke="#555" stroke-width="0.6"/>
<text x="55.2" y="466.0" font-size="6.6" text-anchor="end" fill="#444">0.6</text>
<line x1="55.80" y1="480.20" x2="57.60" y2="480.20" stroke="#555" stroke-width="0.6"/>
<text x="55.2" y="482.5" font-size="6.6" text-anchor="end" fill="#444">0.4</text>
<line x1="55.80" y1="496.40" x2="57.60" y2="496.40" stroke="#555" stroke-width="0.6"/>
<text x="55.2" y="498.7" font-size="6.6" text-anchor="end" fill="#444">0.2</text>
<line x1="60.20" y1="511.10" x2="60.20" y2="512.70" stroke="#555" stroke-width="0.6"/>
<text x="60.2" y="519.1" font-size="6.6" text-anchor="middle" fill="#444">0</text>
<line x1="116.40" y1="511.10" x2="116.40" y2="512.70" stroke="#555" stroke-width="0.6"/>
<text x="116.4" y="519.1" font-size="6.6" text-anchor="middle" fill="#444">5</text>
<text x="89.8" y="454.9" font-size="8.6" text-anchor="middle" font-style="italic" fill="#222">GJA1</text>
<path d="M142.20 500.60 L142.38 500.01 L142.61 499.28 L142.88 498.41 L143.17 497.44 L143.50 496.39 L143.84 495.27 L144.20 494.11 L144.57 492.94 L144.94 491.77 L145.31 490.62 L145.66 489.53 L146.00 488.50 L146.33 487.52 L146.65 486.55 L146.96 485.58 L147.28 484.62 L147.60 483.67 L147.92 482.71 L148.25 481.76 L148.59 480.81 L148.94 479.86 L149.31 478.91 L149.69 477.96 L150.10 477.00 L150.53 476.03 L150.97 475.02 L151.43 474.00 L151.90 472.97 L152.38 471.95 L152.87 470.93 L153.38 469.92 L153.89 468.95 L154.41 468.01 L154.94 467.12 L155.47 466.28 L156.00 465.50 L156.55 464.76 L157.11 464.04 L157.70 463.35 L158.29 462.68 L158.90 462.05 L159.50 461.46 L160.10 460.92 L160.70 460.43 L161.28 460.01 L161.84 459.66 L162.38 459.39 L162.90 459.20 L163.38 459.09 L163.83 459.04 L164.25 459.06 L164.65 459.14 L165.04 459.29 L165.42 459.49 L165.80 459.76 L166.20 460.09 L166.61 460.48 L167.04 460.93 L167.50 461.44 L168.00 462.00 L168.53 462.64 L169.06 463.36 L169.61 464.16 L170.18 465.03 L170.76 465.95 L171.36 466.93 L171.97 467.95 L172.61 469.01 L173.27 470.09 L173.95 471.19 L174.66 472.29 L175.40 473.40 L176.17 474.53 L176.97 475.72 L177.80 476.94 L178.66 478.20 L179.54 479.49 L180.44 480.79 L181.35 482.10 L182.27 483.41 L183.20 484.72 L184.14 486.00 L185.07 487.27 L186.00 488.50 L186.97 489.75 L188.01 491.06 L189.10 492.41 L190.22 493.77 L191.35 495.12 L192.46 496.44 L193.54 497.71 L194.56 498.91 L195.49 500.01 L196.33 500.99 L197.04 501.83 L197.60 502.50 L197.60 506.50 L197.04 505.78 L196.33 504.87 L195.49 503.81 L194.56 502.61 L193.54 501.32 L192.46 499.94 L191.35 498.52 L190.22 497.06 L189.10 495.61 L188.01 494.18 L186.97 492.80 L186.00 491.50 L185.07 490.23 L184.14 488.93 L183.20 487.62 L182.27 486.30 L181.35 484.98 L180.44 483.66 L179.54 482.36 L178.66 481.09 L177.80 479.85 L176.97 478.65 L176.17 477.49 L175.40 476.40 L174.66 475.34 L173.95 474.31 L173.27 473.29 L172.61 472.30 L171.97 471.35 L171.36 470.43 L170.76 469.56 L170.18 468.73 L169.61 467.96 L169.06 467.24 L168.53 466.59 L168.00 466.00 L167.50 465.47 L167.04 465.00 L166.61 464.58 L166.20 464.20 L165.80 463.88 L165.42 463.62 L165.04 463.41 L164.65 463.25 L164.25 463.15 L163.83 463.11 L163.38 463.13 L162.90 463.20 L162.38 463.34 L161.84 463.54 L161.28 463.81 L160.70 464.14 L160.10 464.52 L159.50 464.96 L158.90 465.44 L158.29 465.97 L157.70 466.55 L157.11 467.16 L156.55 467.82 L156.00 468.50 L155.47 469.24 L154.94 470.06 L154.41 470.94 L153.89 471.87 L153.38 472.85 L152.87 473.86 L152.38 474.89 L151.90 475.94 L151.43 476.98 L150.97 478.01 L150.53 479.02 L150.10 480.00 L149.69 480.96 L149.31 481.91 L148.94 482.86 L148.59 483.81 L148.25 484.76 L147.92 485.71 L147.60 486.67 L147.28 487.62 L146.96 488.58 L146.65 489.55 L146.33 490.52 L146.00 491.50 L145.66 492.53 L145.31 493.62 L144.94 494.77 L144.57 495.94 L144.20 497.11 L143.84 498.27 L143.50 499.39 L143.17 500.44 L142.88 501.41 L142.61 502.28 L142.38 503.01 L142.20 503.60 Z" fill="#d4d4d4"/>
<path d="M142.20 502.10 L142.38 501.51 L142.61 500.78 L142.88 499.91 L143.17 498.94 L143.50 497.89 L143.84 496.77 L144.20 495.61 L144.57 494.44 L144.94 493.27 L145.31 492.12 L145.66 491.03 L146.00 490.00 L146.33 489.02 L146.65 488.05 L146.96 487.08 L147.28 486.12 L147.60 485.17 L147.92 484.21 L148.25 483.26 L148.59 482.31 L148.94 481.36 L149.31 480.41 L149.69 479.46 L150.10 478.50 L150.53 477.52 L150.97 476.52 L151.43 475.49 L151.90 474.46 L152.38 473.42 L152.87 472.39 L153.38 471.39 L153.89 470.41 L154.41 469.47 L154.94 468.59 L155.47 467.76 L156.00 467.00 L156.55 466.29 L157.11 465.60 L157.70 464.95 L158.29 464.33 L158.90 463.74 L159.50 463.21 L160.10 462.72 L160.70 462.29 L161.28 461.91 L161.84 461.60 L162.38 461.36 L162.90 461.20 L163.38 461.11 L163.83 461.08 L164.25 461.11 L164.65 461.20 L165.04 461.35 L165.42 461.56 L165.80 461.82 L166.20 462.15 L166.61 462.53 L167.04 462.97 L167.50 463.46 L168.00 464.00 L168.53 464.61 L169.06 465.30 L169.61 466.06 L170.18 466.88 L170.76 467.75 L171.36 468.68 L171.97 469.65 L172.61 470.66 L173.27 471.69 L173.95 472.75 L174.66 473.82 L175.40 474.90 L176.17 476.01 L176.97 477.18 L177.80 478.39 L178.66 479.64 L179.54 480.92 L180.44 482.22 L181.35 483.54 L182.27 484.86 L183.20 486.17 L184.14 487.47 L185.07 488.75 L186.00 490.00 L186.97 491.28 L188.01 492.62 L189.10 494.01 L190.22 495.41 L191.35 496.82 L192.46 498.19 L193.54 499.52 L194.56 500.76 L195.49 501.91 L196.33 502.93 L197.04 503.80 L197.60 504.50" fill="none" stroke="#1a1a1a" stroke-width="1.05"/>
<line x1="139.30" y1="456.50" x2="139.30" y2="511.40" stroke="#555" stroke-width="0.7"/>
<line x1="139.30" y1="511.10" x2="200.50" y2="511.10" stroke="#555" stroke-width="0.7"/>
<line x1="137.50" y1="470.10" x2="139.30" y2="470.10" stroke="#555" stroke-width="0.6"/>
<text x="136.9" y="472.4" font-size="6.6" text-anchor="end" fill="#444">0.75</text>
<line x1="137.50" y1="484.10" x2="139.30" y2="484.10" stroke="#555" stroke-width="0.6"/>
<text x="136.9" y="486.4" font-size="6.6" text-anchor="end" fill="#444">0.5</text>
<line x1="137.50" y1="497.80" x2="139.30" y2="497.80" stroke="#555" stroke-width="0.6"/>
<text x="136.9" y="500.1" font-size="6.6" text-anchor="end" fill="#444">0.25</text>
<line x1="137.50" y1="511.00" x2="139.30" y2="511.00" stroke="#555" stroke-width="0.6"/>
<text x="136.9" y="513.3" font-size="6.6" text-anchor="end" fill="#444">0</text>
<line x1="141.90" y1="511.10" x2="141.90" y2="512.70" stroke="#555" stroke-width="0.6"/>
<text x="141.9" y="519.1" font-size="6.6" text-anchor="middle" fill="#444">0</text>
<line x1="198.10" y1="511.10" x2="198.10" y2="512.70" stroke="#555" stroke-width="0.6"/>
<text x="198.1" y="519.1" font-size="6.6" text-anchor="middle" fill="#444">5</text>
<text x="167.8" y="454.9" font-size="8.6" text-anchor="middle" font-style="italic" fill="#222">TPBG</text>
<path d="M218.70 493.90 L218.95 493.15 L219.27 492.19 L219.64 491.05 L220.05 489.78 L220.50 488.40 L220.97 486.95 L221.47 485.46 L221.99 483.95 L222.50 482.47 L223.01 481.05 L223.52 479.71 L224.00 478.50 L224.47 477.37 L224.94 476.25 L225.40 475.15 L225.87 474.07 L226.35 473.02 L226.83 471.99 L227.32 470.99 L227.83 470.03 L228.34 469.09 L228.88 468.19 L229.43 467.32 L230.00 466.50 L230.60 465.69 L231.24 464.89 L231.91 464.10 L232.59 463.33 L233.29 462.59 L234.00 461.89 L234.71 461.25 L235.41 460.67 L236.09 460.17 L236.76 459.75 L237.40 459.42 L238.00 459.20 L238.57 459.08 L239.10 459.06 L239.61 459.13 L240.10 459.28 L240.58 459.50 L241.04 459.79 L241.51 460.13 L241.98 460.53 L242.46 460.98 L242.95 461.46 L243.46 461.97 L244.00 462.50 L244.55 463.07 L245.10 463.68 L245.65 464.34 L246.21 465.05 L246.78 465.80 L247.36 466.60 L247.95 467.44 L248.57 468.31 L249.21 469.23 L249.87 470.19 L250.57 471.18 L251.30 472.20 L252.07 473.28 L252.87 474.43 L253.70 475.64 L254.56 476.90 L255.45 478.19 L256.35 479.52 L257.27 480.86 L258.20 482.21 L259.15 483.56 L260.10 484.90 L261.05 486.22 L262.00 487.50 L263.00 488.81 L264.08 490.19 L265.21 491.62 L266.38 493.08 L267.56 494.53 L268.72 495.96 L269.85 497.33 L270.91 498.62 L271.89 499.81 L272.77 500.87 L273.51 501.78 L274.10 502.50 L274.10 506.50 L273.51 505.72 L272.77 504.75 L271.89 503.61 L270.91 502.33 L269.85 500.93 L268.72 499.46 L267.56 497.93 L266.38 496.37 L265.21 494.83 L264.08 493.31 L263.00 491.86 L262.00 490.50 L261.05 489.18 L260.10 487.83 L259.15 486.47 L258.20 485.10 L257.27 483.74 L256.35 482.39 L255.45 481.07 L254.56 479.79 L253.70 478.54 L252.87 477.36 L252.07 476.24 L251.30 475.20 L250.57 474.23 L249.87 473.31 L249.21 472.43 L248.57 471.61 L247.95 470.83 L247.36 470.10 L246.78 469.41 L246.21 468.76 L245.65 468.14 L245.10 467.56 L244.55 467.01 L244.00 466.50 L243.46 466.01 L242.95 465.53 L242.46 465.07 L241.98 464.64 L241.51 464.26 L241.04 463.91 L240.58 463.62 L240.10 463.39 L239.61 463.22 L239.10 463.13 L238.57 463.12 L238.00 463.20 L237.40 463.37 L236.76 463.63 L236.09 463.97 L235.41 464.38 L234.71 464.86 L234.00 465.39 L233.29 465.98 L232.59 466.62 L231.91 467.30 L231.24 468.01 L230.60 468.74 L230.00 469.50 L229.43 470.29 L228.88 471.13 L228.34 472.02 L227.83 472.95 L227.32 473.92 L226.83 474.93 L226.35 475.97 L225.87 477.04 L225.40 478.13 L224.94 479.24 L224.47 480.36 L224.00 481.50 L223.52 482.71 L223.01 484.05 L222.50 485.47 L221.99 486.95 L221.47 488.46 L220.97 489.95 L220.50 491.40 L220.05 492.78 L219.64 494.05 L219.27 495.19 L218.95 496.15 L218.70 496.90 Z" fill="#d4d4d4"/>
<path d="M218.70 495.40 L218.95 494.65 L219.27 493.69 L219.64 492.55 L220.05 491.28 L220.50 489.90 L220.97 488.45 L221.47 486.96 L221.99 485.45 L222.50 483.97 L223.01 482.55 L223.52 481.21 L224.00 480.00 L224.47 478.86 L224.94 477.74 L225.40 476.64 L225.87 475.56 L226.35 474.50 L226.83 473.46 L227.32 472.46 L227.83 471.49 L228.34 470.55 L228.88 469.66 L229.43 468.81 L230.00 468.00 L230.60 467.22 L231.24 466.45 L231.91 465.70 L232.59 464.97 L233.29 464.29 L234.00 463.64 L234.71 463.05 L235.41 462.53 L236.09 462.07 L236.76 461.69 L237.40 461.40 L238.00 461.20 L238.57 461.10 L239.10 461.10 L239.61 461.18 L240.10 461.33 L240.58 461.56 L241.04 461.85 L241.51 462.20 L241.98 462.59 L242.46 463.02 L242.95 463.49 L243.46 463.99 L244.00 464.50 L244.55 465.04 L245.10 465.62 L245.65 466.24 L246.21 466.90 L246.78 467.61 L247.36 468.35 L247.95 469.14 L248.57 469.96 L249.21 470.83 L249.87 471.75 L250.57 472.70 L251.30 473.70 L252.07 474.76 L252.87 475.89 L253.70 477.09 L254.56 478.34 L255.45 479.63 L256.35 480.96 L257.27 482.30 L258.20 483.66 L259.15 485.02 L260.10 486.37 L261.05 487.70 L262.00 489.00 L263.00 490.33 L264.08 491.75 L265.21 493.22 L266.38 494.73 L267.56 496.23 L268.72 497.71 L269.85 499.13 L270.91 500.47 L271.89 501.71 L272.77 502.81 L273.51 503.75 L274.10 504.50" fill="none" stroke="#1a1a1a" stroke-width="1.05"/>
<line x1="216.30" y1="456.50" x2="216.30" y2="511.40" stroke="#555" stroke-width="0.7"/>
<line x1="216.30" y1="511.10" x2="277.50" y2="511.10" stroke="#555" stroke-width="0.7"/>
<line x1="214.50" y1="470.60" x2="216.30" y2="470.60" stroke="#555" stroke-width="0.6"/>
<text x="213.9" y="472.9" font-size="6.6" text-anchor="end" fill="#444">1.8</text>
<line x1="214.50" y1="484.60" x2="216.30" y2="484.60" stroke="#555" stroke-width="0.6"/>
<text x="213.9" y="486.9" font-size="6.6" text-anchor="end" fill="#444">1.5</text>
<line x1="214.50" y1="498.30" x2="216.30" y2="498.30" stroke="#555" stroke-width="0.6"/>
<text x="213.9" y="500.6" font-size="6.6" text-anchor="end" fill="#444">1.2</text>
<line x1="218.90" y1="511.10" x2="218.90" y2="512.70" stroke="#555" stroke-width="0.6"/>
<text x="218.9" y="519.1" font-size="6.6" text-anchor="middle" fill="#444">0</text>
<line x1="275.10" y1="511.10" x2="275.10" y2="512.70" stroke="#555" stroke-width="0.6"/>
<text x="275.1" y="519.1" font-size="6.6" text-anchor="middle" fill="#444">5</text>
<text x="245.6" y="454.9" font-size="8.6" text-anchor="middle" font-style="italic" fill="#222">MDK</text>
<path d="M60.20 582.50 L60.57 582.33 L61.01 582.13 L61.53 581.91 L62.11 581.67 L62.75 581.39 L63.43 581.09 L64.14 580.77 L64.89 580.41 L65.66 580.03 L66.44 579.61 L67.22 579.17 L68.00 578.70 L68.82 578.16 L69.70 577.54 L70.64 576.85 L71.62 576.11 L72.62 575.35 L73.63 574.58 L74.62 573.81 L75.58 573.07 L76.49 572.39 L77.35 571.76 L78.12 571.23 L78.80 570.80 L79.37 570.47 L79.83 570.22 L80.20 570.03 L80.51 569.91 L80.77 569.83 L81.01 569.79 L81.24 569.78 L81.48 569.78 L81.76 569.80 L82.09 569.81 L82.50 569.82 L83.00 569.80 L83.60 569.79 L84.27 569.81 L85.01 569.85 L85.79 569.91 L86.61 569.98 L87.44 570.05 L88.29 570.11 L89.12 570.17 L89.94 570.20 L90.71 570.20 L91.44 570.17 L92.10 570.10 L92.70 569.99 L93.27 569.84 L93.81 569.67 L94.32 569.47 L94.81 569.25 L95.27 569.01 L95.73 568.77 L96.18 568.51 L96.63 568.25 L97.08 568.00 L97.53 567.74 L98.00 567.50 L98.47 567.28 L98.93 567.07 L99.38 566.88 L99.83 566.70 L100.27 566.51 L100.71 566.31 L101.16 566.09 L101.61 565.84 L102.06 565.56 L102.53 565.23 L103.01 564.85 L103.50 564.40 L104.01 563.91 L104.53 563.40 L105.07 562.87 L105.62 562.30 L106.17 561.70 L106.73 561.06 L107.29 560.36 L107.85 559.62 L108.40 558.81 L108.95 557.95 L109.48 557.01 L110.00 556.00 L110.53 554.84 L111.07 553.49 L111.64 552.00 L112.20 550.40 L112.76 548.74 L113.31 547.08 L113.83 545.43 L114.32 543.87 L114.77 542.42 L115.18 541.12 L115.52 540.04 L115.80 539.20 L115.80 544.20 L115.52 544.99 L115.18 546.00 L114.77 547.21 L114.32 548.57 L113.83 550.04 L113.31 551.58 L112.76 553.14 L112.20 554.70 L111.64 556.20 L111.07 557.61 L110.53 558.89 L110.00 560.00 L109.48 560.97 L108.95 561.88 L108.40 562.72 L107.85 563.51 L107.29 564.24 L106.73 564.93 L106.17 565.58 L105.62 566.19 L105.07 566.78 L104.53 567.33 L104.01 567.87 L103.50 568.40 L103.01 568.90 L102.53 569.35 L102.06 569.76 L101.61 570.14 L101.16 570.49 L100.71 570.81 L100.27 571.12 L99.83 571.40 L99.38 571.68 L98.93 571.95 L98.47 572.22 L98.00 572.50 L97.53 572.78 L97.08 573.05 L96.63 573.32 L96.18 573.59 L95.73 573.84 L95.27 574.08 L94.81 574.30 L94.32 574.50 L93.81 574.69 L93.27 574.85 L92.70 574.99 L92.10 575.10 L91.44 575.17 L90.71 575.21 L89.94 575.21 L89.12 575.19 L88.29 575.15 L87.44 575.09 L86.61 575.02 L85.79 574.96 L85.01 574.89 L84.27 574.84 L83.60 574.81 L83.00 574.80 L82.50 574.79 L82.09 574.75 L81.76 574.69 L81.48 574.63 L81.24 574.58 L81.01 574.54 L80.77 574.52 L80.51 574.54 L80.20 574.61 L79.83 574.74 L79.37 574.93 L78.80 575.20 L78.12 575.57 L77.35 576.04 L76.49 576.60 L75.58 577.21 L74.62 577.88 L73.63 578.57 L72.62 579.28 L71.62 579.97 L70.64 580.64 L69.70 581.26 L68.82 581.82 L68.00 582.30 L67.22 582.71 L66.44 583.10 L65.66 583.45 L64.89 583.77 L64.14 584.07 L63.43 584.34 L62.75 584.59 L62.11 584.81 L61.53 585.02 L61.01 585.20 L60.57 585.36 L60.20 585.50 Z" fill="#d4d4d4"/>
<path d="M60.20 584.00 L60.57 583.84 L61.01 583.67 L61.53 583.46 L62.11 583.24 L62.75 582.99 L63.43 582.72 L64.14 582.42 L64.89 582.09 L65.66 581.74 L66.44 581.36 L67.22 580.94 L68.00 580.50 L68.82 579.99 L69.70 579.40 L70.64 578.75 L71.62 578.04 L72.62 577.31 L73.63 576.57 L74.62 575.85 L75.58 575.14 L76.49 574.49 L77.35 573.90 L78.12 573.40 L78.80 573.00 L79.37 572.70 L79.83 572.48 L80.20 572.32 L80.51 572.23 L80.77 572.18 L81.01 572.16 L81.24 572.18 L81.48 572.21 L81.76 572.25 L82.09 572.28 L82.50 572.30 L83.00 572.30 L83.60 572.30 L84.27 572.33 L85.01 572.37 L85.79 572.43 L86.61 572.50 L87.44 572.57 L88.29 572.63 L89.12 572.68 L89.94 572.71 L90.71 572.71 L91.44 572.67 L92.10 572.60 L92.70 572.49 L93.27 572.35 L93.81 572.18 L94.32 571.99 L94.81 571.77 L95.27 571.54 L95.73 571.30 L96.18 571.05 L96.63 570.79 L97.08 570.52 L97.53 570.26 L98.00 570.00 L98.47 569.75 L98.93 569.51 L99.38 569.28 L99.83 569.05 L100.27 568.81 L100.71 568.56 L101.16 568.29 L101.61 567.99 L102.06 567.66 L102.53 567.29 L103.01 566.87 L103.50 566.40 L104.01 565.89 L104.53 565.37 L105.07 564.82 L105.62 564.25 L106.17 563.64 L106.73 562.99 L107.29 562.30 L107.85 561.56 L108.40 560.77 L108.95 559.91 L109.48 558.99 L110.00 558.00 L110.53 556.87 L111.07 555.55 L111.64 554.10 L112.20 552.55 L112.76 550.94 L113.31 549.33 L113.83 547.74 L114.32 546.22 L114.77 544.81 L115.18 543.56 L115.52 542.51 L115.80 541.70" fill="none" stroke="#1a1a1a" stroke-width="1.05"/>
<line x1="57.60" y1="534.20" x2="57.60" y2="589.40" stroke="#555" stroke-width="0.7"/>
<line x1="57.60" y1="589.10" x2="118.80" y2="589.10" stroke="#555" stroke-width="0.7"/>
<line x1="55.80" y1="548.40" x2="57.60" y2="548.40" stroke="#555" stroke-width="0.6"/>
<text x="55.2" y="550.7" font-size="6.6" text-anchor="end" fill="#444">0.2</text>
<line x1="55.80" y1="568.70" x2="57.60" y2="568.70" stroke="#555" stroke-width="0.6"/>
<text x="55.2" y="571.0" font-size="6.6" text-anchor="end" fill="#444">0.1</text>
<line x1="55.80" y1="588.80" x2="57.60" y2="588.80" stroke="#555" stroke-width="0.6"/>
<text x="55.2" y="591.1" font-size="6.6" text-anchor="end" fill="#444">0</text>
<line x1="60.20" y1="589.10" x2="60.20" y2="590.70" stroke="#555" stroke-width="0.6"/>
<text x="60.2" y="597.1" font-size="6.6" text-anchor="middle" fill="#444">0</text>
<line x1="116.40" y1="589.10" x2="116.40" y2="590.70" stroke="#555" stroke-width="0.6"/>
<text x="116.4" y="597.1" font-size="6.6" text-anchor="middle" fill="#444">5</text>
<text x="91.8" y="532.6" font-size="8.6" text-anchor="middle" font-style="italic" fill="#222">PDGFRB</text>
<path d="M142.20 581.70 L142.38 581.61 L142.60 581.51 L142.85 581.39 L143.13 581.27 L143.44 581.12 L143.77 580.97 L144.12 580.80 L144.48 580.61 L144.86 580.41 L145.24 580.19 L145.62 579.95 L146.00 579.70 L146.39 579.43 L146.79 579.16 L147.21 578.87 L147.64 578.56 L148.08 578.24 L148.53 577.91 L148.99 577.55 L149.45 577.17 L149.91 576.77 L150.38 576.34 L150.84 575.88 L151.30 575.40 L151.76 574.88 L152.22 574.33 L152.68 573.75 L153.14 573.14 L153.61 572.51 L154.08 571.86 L154.56 571.19 L155.03 570.51 L155.52 569.82 L156.00 569.12 L156.50 568.41 L157.00 567.70 L157.51 566.98 L158.04 566.24 L158.57 565.48 L159.11 564.71 L159.66 563.93 L160.21 563.14 L160.75 562.34 L161.30 561.54 L161.84 560.75 L162.37 559.96 L162.89 559.17 L163.40 558.40 L163.89 557.63 L164.37 556.85 L164.84 556.06 L165.30 555.27 L165.75 554.48 L166.20 553.69 L166.65 552.92 L167.10 552.16 L167.56 551.41 L168.03 550.68 L168.51 549.98 L169.00 549.30 L169.51 548.64 L170.03 547.99 L170.56 547.34 L171.10 546.71 L171.65 546.10 L172.20 545.50 L172.75 544.93 L173.30 544.38 L173.84 543.86 L174.37 543.37 L174.89 542.92 L175.40 542.50 L175.89 542.12 L176.38 541.78 L176.85 541.47 L177.31 541.20 L177.77 540.95 L178.23 540.73 L178.68 540.53 L179.13 540.35 L179.59 540.19 L180.05 540.05 L180.52 539.92 L181.00 539.80 L181.49 539.71 L181.98 539.65 L182.49 539.61 L183.00 539.61 L183.51 539.62 L184.02 539.64 L184.53 539.68 L185.04 539.71 L185.54 539.75 L186.04 539.78 L186.52 539.80 L187.00 539.80 L187.47 539.80 L187.93 539.80 L188.39 539.81 L188.84 539.82 L189.28 539.83 L189.72 539.84 L190.16 539.84 L190.60 539.82 L191.03 539.80 L191.45 539.75 L191.88 539.69 L192.30 539.60 L192.73 539.48 L193.18 539.32 L193.65 539.14 L194.11 538.93 L194.58 538.71 L195.03 538.49 L195.47 538.26 L195.87 538.04 L196.25 537.84 L196.58 537.66 L196.87 537.51 L197.10 537.40 L197.10 545.00 L196.87 545.03 L196.58 545.07 L196.25 545.13 L195.87 545.19 L195.47 545.25 L195.03 545.31 L194.58 545.38 L194.11 545.44 L193.65 545.49 L193.18 545.54 L192.73 545.58 L192.30 545.60 L191.88 545.61 L191.45 545.61 L191.03 545.60 L190.60 545.59 L190.16 545.56 L189.72 545.54 L189.28 545.51 L188.84 545.48 L188.39 545.45 L187.93 545.43 L187.47 545.41 L187.00 545.40 L186.52 545.39 L186.04 545.36 L185.54 545.34 L185.04 545.31 L184.53 545.28 L184.02 545.26 L183.51 545.24 L183.00 545.24 L182.49 545.25 L181.98 545.28 L181.49 545.33 L181.00 545.40 L180.52 545.49 L180.05 545.58 L179.59 545.68 L179.13 545.79 L178.68 545.92 L178.23 546.06 L177.77 546.23 L177.31 546.42 L176.85 546.64 L176.38 546.89 L175.89 547.17 L175.40 547.50 L174.89 547.87 L174.37 548.27 L173.84 548.70 L173.30 549.17 L172.75 549.67 L172.20 550.19 L171.65 550.73 L171.10 551.30 L170.56 551.88 L170.03 552.47 L169.51 553.08 L169.00 553.70 L168.51 554.34 L168.03 555.00 L167.56 555.69 L167.10 556.41 L166.65 557.14 L166.20 557.88 L165.75 558.63 L165.30 559.39 L164.84 560.15 L164.37 560.91 L163.89 561.66 L163.40 562.40 L162.89 563.14 L162.37 563.89 L161.84 564.64 L161.30 565.40 L160.75 566.15 L160.21 566.91 L159.66 567.67 L159.11 568.41 L158.57 569.15 L158.04 569.88 L157.51 570.60 L157.00 571.30 L156.50 571.99 L156.00 572.69 L155.52 573.39 L155.03 574.08 L154.56 574.77 L154.08 575.44 L153.61 576.09 L153.14 576.73 L152.68 577.34 L152.22 577.93 L151.76 578.48 L151.30 579.00 L150.84 579.48 L150.38 579.94 L149.91 580.37 L149.45 580.77 L148.99 581.15 L148.53 581.51 L148.08 581.84 L147.64 582.16 L147.21 582.47 L146.79 582.76 L146.39 583.03 L146.00 583.30 L145.62 583.55 L145.24 583.79 L144.86 584.01 L144.48 584.21 L144.12 584.40 L143.77 584.57 L143.44 584.72 L143.13 584.87 L142.85 584.99 L142.60 585.11 L142.38 585.21 L142.20 585.30 Z" fill="#d4d4d4"/>
<path d="M142.20 583.50 L142.38 583.41 L142.60 583.31 L142.85 583.19 L143.13 583.07 L143.44 582.92 L143.77 582.77 L144.12 582.60 L144.48 582.41 L144.86 582.21 L145.24 581.99 L145.62 581.75 L146.00 581.50 L146.39 581.23 L146.79 580.96 L147.21 580.67 L147.64 580.36 L148.08 580.04 L148.53 579.71 L148.99 579.35 L149.45 578.97 L149.91 578.57 L150.38 578.14 L150.84 577.68 L151.30 577.20 L151.76 576.68 L152.22 576.13 L152.68 575.55 L153.14 574.94 L153.61 574.30 L154.08 573.65 L154.56 572.98 L155.03 572.30 L155.52 571.60 L156.00 570.90 L156.50 570.20 L157.00 569.50 L157.51 568.79 L158.04 568.06 L158.57 567.32 L159.11 566.56 L159.66 565.80 L160.21 565.02 L160.75 564.25 L161.30 563.47 L161.84 562.69 L162.37 561.92 L162.89 561.16 L163.40 560.40 L163.89 559.64 L164.37 558.88 L164.84 558.10 L165.30 557.33 L165.75 556.56 L166.20 555.79 L166.65 555.03 L167.10 554.28 L167.56 553.55 L168.03 552.84 L168.51 552.16 L169.00 551.50 L169.51 550.86 L170.03 550.23 L170.56 549.61 L171.10 549.00 L171.65 548.41 L172.20 547.84 L172.75 547.30 L173.30 546.77 L173.84 546.28 L174.37 545.82 L174.89 545.39 L175.40 545.00 L175.89 544.65 L176.38 544.33 L176.85 544.06 L177.31 543.81 L177.77 543.59 L178.23 543.39 L178.68 543.22 L179.13 543.07 L179.59 542.94 L180.05 542.81 L180.52 542.70 L181.00 542.60 L181.49 542.52 L181.98 542.46 L182.49 542.43 L183.00 542.42 L183.51 542.43 L184.02 542.45 L184.53 542.48 L185.04 542.51 L185.54 542.54 L186.04 542.57 L186.52 542.59 L187.00 542.60 L187.47 542.60 L187.93 542.62 L188.39 542.63 L188.84 542.65 L189.28 542.67 L189.72 542.69 L190.16 542.70 L190.60 542.70 L191.03 542.70 L191.45 542.68 L191.88 542.65 L192.30 542.60 L192.73 542.53 L193.18 542.43 L193.65 542.32 L194.11 542.19 L194.58 542.05 L195.03 541.90 L195.47 541.75 L195.87 541.61 L196.25 541.48 L196.58 541.37 L196.87 541.27 L197.10 541.20" fill="none" stroke="#1a1a1a" stroke-width="1.05"/>
<line x1="139.30" y1="534.20" x2="139.30" y2="589.40" stroke="#555" stroke-width="0.7"/>
<line x1="139.30" y1="589.10" x2="200.50" y2="589.10" stroke="#555" stroke-width="0.7"/>
<line x1="137.50" y1="543.30" x2="139.30" y2="543.30" stroke="#555" stroke-width="0.6"/>
<text x="136.9" y="545.6" font-size="6.6" text-anchor="end" fill="#444">0.6</text>
<line x1="137.50" y1="558.50" x2="139.30" y2="558.50" stroke="#555" stroke-width="0.6"/>
<text x="136.9" y="560.8" font-size="6.6" text-anchor="end" fill="#444">0.4</text>
<line x1="137.50" y1="573.40" x2="139.30" y2="573.40" stroke="#555" stroke-width="0.6"/>
<text x="136.9" y="575.7" font-size="6.6" text-anchor="end" fill="#444">0.2</text>
<line x1="141.90" y1="589.10" x2="141.90" y2="590.70" stroke="#555" stroke-width="0.6"/>
<text x="141.9" y="597.1" font-size="6.6" text-anchor="middle" fill="#444">0</text>
<line x1="198.10" y1="589.10" x2="198.10" y2="590.70" stroke="#555" stroke-width="0.6"/>
<text x="198.1" y="597.1" font-size="6.6" text-anchor="middle" fill="#444">5</text>
<text x="169.4" y="532.6" font-size="8.6" text-anchor="middle" font-style="italic" fill="#222">LGALS1</text>
<path d="M219.20 580.60 L219.53 580.61 L219.95 580.63 L220.44 580.65 L220.99 580.67 L221.59 580.70 L222.22 580.73 L222.88 580.75 L223.54 580.77 L224.20 580.79 L224.83 580.80 L225.44 580.80 L226.00 580.80 L226.53 580.79 L227.06 580.78 L227.58 580.78 L228.10 580.76 L228.61 580.75 L229.11 580.73 L229.61 580.70 L230.10 580.66 L230.59 580.61 L231.07 580.55 L231.54 580.48 L232.00 580.40 L232.45 580.30 L232.90 580.19 L233.34 580.06 L233.78 579.93 L234.20 579.78 L234.62 579.62 L235.04 579.46 L235.44 579.30 L235.84 579.12 L236.24 578.95 L236.62 578.78 L237.00 578.60 L237.37 578.42 L237.72 578.24 L238.07 578.05 L238.40 577.86 L238.73 577.67 L239.05 577.47 L239.37 577.27 L239.69 577.06 L240.01 576.85 L240.33 576.64 L240.66 576.42 L241.00 576.20 L241.34 575.98 L241.68 575.76 L242.02 575.54 L242.36 575.32 L242.71 575.10 L243.05 574.87 L243.40 574.63 L243.75 574.39 L244.10 574.14 L244.46 573.87 L244.83 573.59 L245.20 573.30 L245.58 572.99 L245.96 572.66 L246.36 572.32 L246.75 571.97 L247.15 571.60 L247.56 571.23 L247.96 570.86 L248.37 570.48 L248.78 570.10 L249.19 569.73 L249.59 569.36 L250.00 569.00 L250.40 568.65 L250.81 568.30 L251.21 567.96 L251.62 567.61 L252.02 567.27 L252.43 566.93 L252.84 566.59 L253.25 566.24 L253.66 565.89 L254.07 565.53 L254.48 565.17 L254.90 564.80 L255.32 564.42 L255.75 564.03 L256.17 563.64 L256.61 563.24 L257.04 562.84 L257.47 562.43 L257.91 562.02 L258.34 561.61 L258.76 561.21 L259.18 560.80 L259.60 560.40 L260.00 560.00 L260.40 559.61 L260.78 559.24 L261.17 558.87 L261.54 558.50 L261.92 558.14 L262.29 557.77 L262.66 557.40 L263.02 557.02 L263.39 556.62 L263.76 556.20 L264.13 555.76 L264.50 555.30 L264.87 554.82 L265.24 554.32 L265.61 553.81 L265.98 553.29 L266.34 552.75 L266.71 552.19 L267.08 551.62 L267.46 551.04 L267.83 550.43 L268.22 549.81 L268.60 549.16 L269.00 548.50 L269.42 547.78 L269.87 546.98 L270.35 546.11 L270.84 545.21 L271.34 544.29 L271.83 543.38 L272.31 542.48 L272.76 541.63 L273.17 540.85 L273.54 540.15 L273.85 539.56 L274.10 539.10 L274.10 545.10 L273.85 545.51 L273.54 546.04 L273.17 546.66 L272.76 547.36 L272.31 548.12 L271.83 548.91 L271.34 549.73 L270.84 550.55 L270.35 551.36 L269.87 552.13 L269.42 552.85 L269.00 553.50 L268.60 554.10 L268.22 554.68 L267.83 555.25 L267.46 555.80 L267.08 556.34 L266.71 556.86 L266.34 557.36 L265.98 557.86 L265.61 558.34 L265.24 558.80 L264.87 559.26 L264.50 559.70 L264.13 560.12 L263.76 560.52 L263.39 560.90 L263.02 561.26 L262.66 561.60 L262.29 561.94 L261.92 562.27 L261.54 562.60 L261.17 562.93 L260.78 563.28 L260.40 563.63 L260.00 564.00 L259.60 564.38 L259.18 564.78 L258.76 565.18 L258.34 565.59 L257.91 565.99 L257.47 566.41 L257.04 566.82 L256.61 567.23 L256.17 567.63 L255.75 568.03 L255.32 568.42 L254.90 568.80 L254.48 569.17 L254.07 569.53 L253.66 569.88 L253.25 570.23 L252.84 570.57 L252.43 570.91 L252.02 571.24 L251.62 571.59 L251.21 571.93 L250.81 572.28 L250.40 572.63 L250.00 573.00 L249.59 573.38 L249.19 573.77 L248.78 574.18 L248.37 574.59 L247.96 575.00 L247.56 575.42 L247.15 575.83 L246.75 576.23 L246.36 576.63 L245.96 577.00 L245.58 577.36 L245.20 577.70 L244.83 578.02 L244.46 578.32 L244.10 578.60 L243.75 578.87 L243.40 579.13 L243.05 579.38 L242.71 579.62 L242.36 579.86 L242.02 580.10 L241.68 580.33 L241.34 580.56 L241.00 580.80 L240.66 581.04 L240.33 581.27 L240.01 581.50 L239.69 581.73 L239.37 581.96 L239.05 582.18 L238.73 582.40 L238.40 582.61 L238.07 582.82 L237.72 583.02 L237.37 583.21 L237.00 583.40 L236.62 583.58 L236.24 583.76 L235.84 583.94 L235.44 584.11 L235.04 584.28 L234.62 584.44 L234.20 584.59 L233.78 584.73 L233.34 584.87 L232.90 584.99 L232.45 585.10 L232.00 585.20 L231.54 585.28 L231.07 585.35 L230.59 585.41 L230.10 585.46 L229.61 585.50 L229.11 585.52 L228.61 585.55 L228.10 585.56 L227.58 585.58 L227.06 585.58 L226.53 585.59 L226.00 585.60 L225.44 585.60 L224.83 585.60 L224.20 585.59 L223.54 585.57 L222.88 585.55 L222.22 585.52 L221.59 585.50 L220.99 585.47 L220.44 585.45 L219.95 585.43 L219.53 585.41 L219.20 585.40 Z" fill="#d4d4d4"/>
<path d="M219.20 583.00 L219.53 583.01 L219.95 583.03 L220.44 583.05 L220.99 583.07 L221.59 583.10 L222.22 583.12 L222.88 583.15 L223.54 583.17 L224.20 583.19 L224.83 583.20 L225.44 583.20 L226.00 583.20 L226.53 583.19 L227.06 583.18 L227.58 583.18 L228.10 583.16 L228.61 583.15 L229.11 583.13 L229.61 583.10 L230.10 583.06 L230.59 583.01 L231.07 582.95 L231.54 582.88 L232.00 582.80 L232.45 582.70 L232.90 582.59 L233.34 582.46 L233.78 582.33 L234.20 582.18 L234.62 582.03 L235.04 581.87 L235.44 581.70 L235.84 581.53 L236.24 581.36 L236.62 581.18 L237.00 581.00 L237.37 580.82 L237.72 580.63 L238.07 580.44 L238.40 580.24 L238.73 580.03 L239.05 579.83 L239.37 579.61 L239.69 579.40 L240.01 579.18 L240.33 578.95 L240.66 578.73 L241.00 578.50 L241.34 578.27 L241.68 578.05 L242.02 577.82 L242.36 577.59 L242.71 577.36 L243.05 577.12 L243.40 576.88 L243.75 576.63 L244.10 576.37 L244.46 576.09 L244.83 575.80 L245.20 575.50 L245.58 575.18 L245.96 574.83 L246.36 574.47 L246.75 574.10 L247.15 573.72 L247.56 573.32 L247.96 572.93 L248.37 572.53 L248.78 572.14 L249.19 571.75 L249.59 571.37 L250.00 571.00 L250.40 570.64 L250.81 570.29 L251.21 569.94 L251.62 569.60 L252.02 569.26 L252.43 568.92 L252.84 568.58 L253.25 568.23 L253.66 567.89 L254.07 567.53 L254.48 567.17 L254.90 566.80 L255.32 566.42 L255.75 566.03 L256.17 565.64 L256.61 565.23 L257.04 564.83 L257.47 564.42 L257.91 564.01 L258.34 563.60 L258.76 563.19 L259.18 562.79 L259.60 562.39 L260.00 562.00 L260.40 561.62 L260.78 561.26 L261.17 560.90 L261.54 560.55 L261.92 560.21 L262.29 559.86 L262.66 559.50 L263.02 559.14 L263.39 558.76 L263.76 558.36 L264.13 557.94 L264.50 557.50 L264.87 557.04 L265.24 556.56 L265.61 556.07 L265.98 555.57 L266.34 555.05 L266.71 554.52 L267.08 553.98 L267.46 553.42 L267.83 552.84 L268.22 552.25 L268.60 551.63 L269.00 551.00 L269.42 550.31 L269.87 549.55 L270.35 548.74 L270.84 547.88 L271.34 547.01 L271.83 546.14 L272.31 545.30 L272.76 544.50 L273.17 543.76 L273.54 543.10 L273.85 542.54 L274.10 542.10" fill="none" stroke="#1a1a1a" stroke-width="1.05"/>
<line x1="216.30" y1="534.20" x2="216.30" y2="589.40" stroke="#555" stroke-width="0.7"/>
<line x1="216.30" y1="589.10" x2="277.50" y2="589.10" stroke="#555" stroke-width="0.7"/>
<line x1="214.50" y1="545.00" x2="216.30" y2="545.00" stroke="#555" stroke-width="0.6"/>
<text x="213.9" y="547.3" font-size="6.6" text-anchor="end" fill="#444">0.3</text>
<line x1="214.50" y1="557.70" x2="216.30" y2="557.70" stroke="#555" stroke-width="0.6"/>
<text x="213.9" y="560.0" font-size="6.6" text-anchor="end" fill="#444">0.2</text>
<line x1="214.50" y1="570.50" x2="216.30" y2="570.50" stroke="#555" stroke-width="0.6"/>
<text x="213.9" y="572.8" font-size="6.6" text-anchor="end" fill="#444">0.1</text>
<line x1="214.50" y1="583.00" x2="216.30" y2="583.00" stroke="#555" stroke-width="0.6"/>
<text x="213.9" y="585.3" font-size="6.6" text-anchor="end" fill="#444">0</text>
<line x1="218.90" y1="589.10" x2="218.90" y2="590.70" stroke="#555" stroke-width="0.6"/>
<text x="218.9" y="597.1" font-size="6.6" text-anchor="middle" fill="#444">0</text>
<line x1="275.10" y1="589.10" x2="275.10" y2="590.70" stroke="#555" stroke-width="0.6"/>
<text x="275.1" y="597.1" font-size="6.6" text-anchor="middle" fill="#444">5</text>
<text x="247.4" y="532.6" font-size="8.6" text-anchor="middle" font-style="italic" fill="#222">MGP</text>
<text x="442.1" y="185.9" font-size="10.2" font-weight="bold" fill="#111">F</text>
<circle cx="457.00" cy="202.00" r="5.10" fill="#3a3a3a"/>
<circle cx="461.69" cy="202.00" r="0.61" fill="#3a3a3a"/>
<circle cx="459.35" cy="206.06" r="0.61" fill="#3a3a3a"/>
<circle cx="454.65" cy="206.06" r="0.61" fill="#3a3a3a"/>
<circle cx="452.31" cy="202.00" r="0.61" fill="#3a3a3a"/>
<circle cx="454.65" cy="197.94" r="0.61" fill="#3a3a3a"/>
<circle cx="459.35" cy="197.94" r="0.61" fill="#3a3a3a"/>
<polygon points="457.00,197.31 458.22,199.88 461.06,199.65 459.45,202.00 461.06,204.35 458.22,204.12 457.00,206.69 455.78,204.12 452.94,204.35 454.55,202.00 452.94,199.65 455.78,199.88" fill="#bdb8b1"/>
<circle cx="457.00" cy="202.00" r="2.75" fill="#bdb8b1"/>
<g transform="translate(466.10,200.30) scale(1.000)"><path d="M0 2.5 C0.7 1.8 1.4 1.4 2.1 1.3 L3.4 0.2 L4.3 0.1 L4.8 0.8 C6 0.7 7.2 0.6 8.4 0.9 C10.2 1.3 11.8 2.2 13.0 3.4 C13.8 4.2 14.4 4.8 14.4 5.4 C14.4 6.1 14.1 6.5 13.8 6.6 L12.2 7.0 L10.2 7.7 L8.0 7.8 L9.8 7.1 L10.8 6.4 C9 6.0 7.5 5.8 6.2 5.7 C5.2 5.6 4.6 5.8 4.1 6.2 L2.1 6.9 L2.0 6.6 L3.4 5.8 C2.5 5.2 1.8 4.5 1.5 3.9 C1.0 3.4 0.4 3.0 0 2.5 Z" fill="#2a2a2a"/><path d="M14.3 5.6 C15.6 5.9 16.6 6.4 16.7 7.4 C16.5 8.4 14.6 8.6 12 8.1" fill="none" stroke="#2a2a2a" stroke-width="0.55"/></g>
<text x="490.9" y="190.0" font-size="9.6" fill="#222">Signaling pathways in trajectory</text>
<text x="491.0" y="211.6" font-size="9.7" fill="#222">cyNESC</text>
<text x="559.8" y="211.6" font-size="9.7" fill="#222">MES</text>
<text x="614.2" y="211.6" font-size="9.7" fill="#222">PC</text>
<rect x="472.20" y="214.60" width="72.00" height="5.60" fill="#8c6bb0"/>
<rect x="544.20" y="214.60" width="48.00" height="5.60" fill="#3a72be"/>
<rect x="592.20" y="214.60" width="48.00" height="5.60" fill="#62aee0"/>
<rect x="472.20" y="220.40" width="24.00" height="0.95" fill="#d6372a"/>
<rect x="472.20" y="221.30" width="24.00" height="1.35" fill="#e25a3a"/>
<rect x="472.20" y="222.60" width="24.00" height="1.45" fill="#e66a40"/>
<rect x="472.20" y="224.00" width="24.00" height="1.35" fill="#ec7a48"/>
<rect x="472.20" y="225.30" width="24.00" height="1.95" fill="#f08c52"/>
<rect x="472.20" y="227.20" width="24.00" height="1.85" fill="#f09a5c"/>
<rect x="472.20" y="229.00" width="24.00" height="1.85" fill="#f6b070"/>
<rect x="472.20" y="230.80" width="24.00" height="1.95" fill="#f5b878"/>
<rect x="472.20" y="232.70" width="24.00" height="1.55" fill="#fadf98"/>
<rect x="472.20" y="234.20" width="24.00" height="1.65" fill="#d4e4ec"/>
<rect x="472.20" y="235.80" width="24.00" height="1.65" fill="#eef0da"/>
<rect x="472.20" y="237.40" width="24.00" height="1.05" fill="#d4e4ec"/>
<rect x="472.20" y="238.40" width="24.00" height="4.25" fill="#f8ecb8"/>
<rect x="472.20" y="242.60" width="24.00" height="1.65" fill="#eef0da"/>
<rect x="472.20" y="244.20" width="24.00" height="1.65" fill="#fadf98"/>
<rect x="472.20" y="245.80" width="24.00" height="1.65" fill="#c6d6e0"/>
<rect x="472.20" y="247.40" width="24.00" height="1.65" fill="#f5b878"/>
<rect x="472.20" y="249.00" width="24.00" height="1.55" fill="#e9cfa0"/>
<rect x="472.20" y="250.50" width="24.00" height="1.65" fill="#fadf98"/>
<rect x="472.20" y="252.10" width="24.00" height="1.65" fill="#c6d6e0"/>
<rect x="472.20" y="253.70" width="24.00" height="1.65" fill="#f5b878"/>
<rect x="472.20" y="255.30" width="24.00" height="1.55" fill="#aec8de"/>
<rect x="472.20" y="256.80" width="24.00" height="2.25" fill="#eef0da"/>
<rect x="472.20" y="259.00" width="24.00" height="1.55" fill="#d4e4ec"/>
<rect x="472.20" y="260.50" width="24.00" height="2.65" fill="#fadf98"/>
<rect x="472.20" y="263.10" width="24.00" height="1.65" fill="#aec8de"/>
<rect x="472.20" y="264.70" width="24.00" height="1.75" fill="#eef0da"/>
<rect x="472.20" y="266.40" width="24.00" height="1.65" fill="#d4e4ec"/>
<rect x="472.20" y="268.00" width="24.00" height="1.65" fill="#aec8de"/>
<rect x="472.20" y="269.60" width="24.00" height="1.65" fill="#d4e4ec"/>
<rect x="472.20" y="271.20" width="24.00" height="1.55" fill="#eef0da"/>
<rect x="472.20" y="272.70" width="24.00" height="1.65" fill="#d4e4ec"/>
<rect x="472.20" y="274.30" width="24.00" height="1.95" fill="#f8ecb8"/>
<rect x="472.20" y="276.20" width="24.00" height="1.85" fill="#c6d6e0"/>
<rect x="472.20" y="278.00" width="24.00" height="1.65" fill="#eef0da"/>
<rect x="472.20" y="279.60" width="24.00" height="1.55" fill="#c6d6e0"/>
<rect x="472.20" y="281.10" width="24.00" height="1.65" fill="#eef0da"/>
<rect x="472.20" y="282.70" width="24.00" height="1.65" fill="#f8ecb8"/>
<rect x="472.20" y="284.30" width="24.00" height="1.65" fill="#eef0da"/>
<rect x="472.20" y="285.90" width="24.00" height="2.15" fill="#c6d6e0"/>
<rect x="472.20" y="288.00" width="24.00" height="1.55" fill="#eef0da"/>
<rect x="472.20" y="289.50" width="24.00" height="1.55" fill="#e4603e"/>
<rect x="472.20" y="291.00" width="24.00" height="2.55" fill="#c6d6e0"/>
<rect x="472.20" y="293.50" width="24.00" height="1.85" fill="#d4e4ec"/>
<rect x="472.20" y="295.30" width="24.00" height="1.65" fill="#eef0da"/>
<rect x="472.20" y="296.90" width="24.00" height="1.65" fill="#fadf98"/>
<rect x="472.20" y="298.50" width="24.00" height="2.15" fill="#d4e4ec"/>
<rect x="472.20" y="300.60" width="24.00" height="1.65" fill="#f8ecb8"/>
<rect x="472.20" y="302.20" width="24.00" height="1.65" fill="#d4e4ec"/>
<rect x="472.20" y="303.80" width="24.00" height="2.05" fill="#aec8de"/>
<rect x="472.20" y="305.80" width="24.00" height="1.35" fill="#eef0da"/>
<rect x="472.20" y="307.10" width="24.00" height="2.95" fill="#f8ecb8"/>
<rect x="472.20" y="310.00" width="24.00" height="1.65" fill="#aec8de"/>
<rect x="472.20" y="311.60" width="24.00" height="1.65" fill="#fadf98"/>
<rect x="472.20" y="313.20" width="24.00" height="2.15" fill="#eef0da"/>
<rect x="472.20" y="315.30" width="24.00" height="2.15" fill="#d4e4ec"/>
<rect x="472.20" y="317.40" width="24.00" height="2.15" fill="#eef0da"/>
<rect x="472.20" y="319.50" width="24.00" height="2.15" fill="#d4e4ec"/>
<rect x="472.20" y="321.60" width="24.00" height="2.15" fill="#eef0da"/>
<rect x="472.20" y="323.70" width="24.00" height="1.05" fill="#d4e4ec"/>
<rect x="472.20" y="324.70" width="24.00" height="2.75" fill="#aec8de"/>
<rect x="472.20" y="327.40" width="24.00" height="2.15" fill="#c6d6e0"/>
<rect x="472.20" y="329.50" width="24.00" height="1.55" fill="#fadf98"/>
<rect x="472.20" y="331.00" width="24.00" height="2.45" fill="#b4cadc"/>
<rect x="472.20" y="333.40" width="24.00" height="2.45" fill="#c6d6e0"/>
<rect x="472.20" y="335.80" width="24.00" height="1.55" fill="#eef0da"/>
<rect x="472.20" y="337.30" width="24.00" height="2.15" fill="#d4e4ec"/>
<rect x="472.20" y="339.40" width="24.00" height="1.65" fill="#f09a5c"/>
<rect x="472.20" y="341.00" width="24.00" height="1.65" fill="#c6d6e0"/>
<rect x="472.20" y="342.60" width="24.00" height="2.15" fill="#d4e4ec"/>
<rect x="472.20" y="344.70" width="24.00" height="2.65" fill="#c4d8e8"/>
<rect x="472.20" y="347.30" width="24.00" height="1.65" fill="#bccfdc"/>
<rect x="472.20" y="348.90" width="24.00" height="2.65" fill="#e6ead8"/>
<rect x="472.20" y="351.50" width="24.00" height="2.15" fill="#e6ead8"/>
<rect x="472.20" y="353.60" width="24.00" height="2.15" fill="#d6e2e6"/>
<rect x="472.20" y="355.70" width="24.00" height="2.15" fill="#e6ead8"/>
<rect x="472.20" y="357.80" width="24.00" height="2.15" fill="#d6e2e6"/>
<rect x="472.20" y="359.90" width="24.00" height="2.15" fill="#e6ead8"/>
<rect x="472.20" y="362.00" width="24.00" height="2.15" fill="#d6e2e6"/>
<rect x="472.20" y="364.10" width="24.00" height="2.15" fill="#e6ead8"/>
<rect x="472.20" y="366.20" width="24.00" height="2.15" fill="#d6e2e6"/>
<rect x="472.20" y="368.30" width="24.00" height="2.15" fill="#e6ead8"/>
<rect x="472.20" y="370.40" width="24.00" height="2.15" fill="#d6e2e6"/>
<rect x="472.20" y="372.50" width="24.00" height="2.15" fill="#e6ead8"/>
<rect x="472.20" y="374.60" width="24.00" height="2.15" fill="#d6e2e6"/>
<rect x="472.20" y="376.70" width="24.00" height="2.15" fill="#e6ead8"/>
<rect x="472.20" y="378.80" width="24.00" height="1.65" fill="#d6e2e6"/>
<rect x="472.20" y="380.40" width="24.00" height="1.65" fill="#bccfdc"/>
<rect x="472.20" y="382.00" width="24.00" height="2.65" fill="#cbd7dc"/>
<rect x="472.20" y="384.60" width="24.00" height="1.65" fill="#f3e2a8"/>
<rect x="472.20" y="386.20" width="24.00" height="1.65" fill="#cbd7dc"/>
<rect x="472.20" y="387.80" width="24.00" height="2.15" fill="#d6e2e6"/>
<rect x="472.20" y="389.90" width="24.00" height="2.15" fill="#cbd7dc"/>
<rect x="472.20" y="392.00" width="24.00" height="2.05" fill="#e6ead8"/>
<rect x="472.20" y="394.00" width="24.00" height="2.25" fill="#cbd7dc"/>
<rect x="472.20" y="396.20" width="24.00" height="2.15" fill="#bccfdc"/>
<rect x="472.20" y="398.30" width="24.00" height="5.25" fill="#efe9c4"/>
<rect x="472.20" y="403.50" width="24.00" height="2.15" fill="#cbd7dc"/>
<rect x="472.20" y="405.60" width="24.00" height="2.75" fill="#d6e2e6"/>
<rect x="472.20" y="408.30" width="24.00" height="2.75" fill="#e6ead8"/>
<rect x="472.20" y="411.00" width="24.00" height="3.05" fill="#cbd7dc"/>
<rect x="472.20" y="414.00" width="24.00" height="7.85" fill="#e4ece4"/>
<rect x="496.20" y="220.40" width="24.00" height="3.35" fill="#eef0da"/>
<rect x="496.20" y="223.70" width="24.00" height="0.85" fill="#f09a5c"/>
<rect x="496.20" y="224.50" width="24.00" height="1.85" fill="#fadf98"/>
<rect x="496.20" y="226.30" width="24.00" height="1.15" fill="#fbd88a"/>
<rect x="496.20" y="227.40" width="24.00" height="5.35" fill="#fadf98"/>
<rect x="496.20" y="232.70" width="24.00" height="1.05" fill="#eef0da"/>
<rect x="496.20" y="233.70" width="24.00" height="2.65" fill="#fadf98"/>
<rect x="496.20" y="236.30" width="24.00" height="2.75" fill="#d4e4ec"/>
<rect x="496.20" y="239.00" width="24.00" height="2.05" fill="#eef0da"/>
<rect x="496.20" y="241.00" width="24.00" height="2.25" fill="#d4e4ec"/>
<rect x="496.20" y="243.20" width="24.00" height="3.75" fill="#d4e4ec"/>
<rect x="496.20" y="246.90" width="24.00" height="1.65" fill="#e9cfa0"/>
<rect x="496.20" y="248.50" width="24.00" height="1.55" fill="#aec8de"/>
<rect x="496.20" y="250.00" width="24.00" height="2.15" fill="#e6efe8"/>
<rect x="496.20" y="252.10" width="24.00" height="1.65" fill="#d4e4ec"/>
<rect x="496.20" y="253.70" width="24.00" height="1.65" fill="#fadf98"/>
<rect x="496.20" y="255.30" width="24.00" height="1.55" fill="#c6d6e0"/>
<rect x="496.20" y="256.80" width="24.00" height="3.75" fill="#fadf98"/>
<rect x="496.20" y="260.50" width="24.00" height="2.65" fill="#eef0da"/>
<rect x="496.20" y="263.10" width="24.00" height="2.15" fill="#d4e4ec"/>
<rect x="496.20" y="265.20" width="24.00" height="2.25" fill="#eef0da"/>
<rect x="496.20" y="267.40" width="24.00" height="2.25" fill="#d4e4ec"/>
<rect x="496.20" y="269.60" width="24.00" height="1.65" fill="#c0d4e4"/>
<rect x="496.20" y="271.20" width="24.00" height="3.15" fill="#eef0da"/>
<rect x="496.20" y="274.30" width="24.00" height="1.95" fill="#f8d488"/>
<rect x="496.20" y="276.20" width="24.00" height="1.85" fill="#c6d6e0"/>
<rect x="496.20" y="278.00" width="24.00" height="3.15" fill="#eef0da"/>
<rect x="496.20" y="281.10" width="24.00" height="1.65" fill="#d4e4ec"/>
<rect x="496.20" y="282.70" width="24.00" height="1.65" fill="#eef0da"/>
<rect x="496.20" y="284.30" width="24.00" height="1.65" fill="#d4e4ec"/>
<rect x="496.20" y="285.90" width="24.00" height="2.15" fill="#d4e4ec"/>
<rect x="496.20" y="288.00" width="24.00" height="1.55" fill="#eef0da"/>
<rect x="496.20" y="289.50" width="24.00" height="1.55" fill="#f5b878"/>
<rect x="496.20" y="291.00" width="24.00" height="2.35" fill="#d4e4ec"/>
<rect x="496.20" y="293.30" width="24.00" height="4.75" fill="#e6efe8"/>
<rect x="496.20" y="298.00" width="24.00" height="1.55" fill="#e87250"/>
<rect x="496.20" y="299.50" width="24.00" height="1.55" fill="#eef0da"/>
<rect x="496.20" y="301.00" width="24.00" height="2.75" fill="#fadf98"/>
<rect x="496.20" y="303.70" width="24.00" height="1.65" fill="#eef0da"/>
<rect x="496.20" y="305.30" width="24.00" height="2.15" fill="#fadf98"/>
<rect x="496.20" y="307.40" width="24.00" height="1.15" fill="#eef0da"/>
<rect x="496.20" y="308.50" width="24.00" height="1.35" fill="#f09a5c"/>
<rect x="496.20" y="309.80" width="24.00" height="2.35" fill="#fadf98"/>
<rect x="496.20" y="312.10" width="24.00" height="2.15" fill="#f09a5c"/>
<rect x="496.20" y="314.20" width="24.00" height="2.15" fill="#eef0da"/>
<rect x="496.20" y="316.30" width="24.00" height="2.75" fill="#fadf98"/>
<rect x="496.20" y="319.00" width="24.00" height="2.65" fill="#d4e4ec"/>
<rect x="496.20" y="321.60" width="24.00" height="3.75" fill="#eef0da"/>
<rect x="496.20" y="325.30" width="24.00" height="2.15" fill="#fadf98"/>
<rect x="496.20" y="327.40" width="24.00" height="3.15" fill="#ece8cc"/>
<rect x="496.20" y="330.50" width="24.00" height="3.25" fill="#c6d6e0"/>
<rect x="496.20" y="333.70" width="24.00" height="1.55" fill="#aec8de"/>
<rect x="496.20" y="335.20" width="24.00" height="2.15" fill="#eef0da"/>
<rect x="496.20" y="337.30" width="24.00" height="2.15" fill="#d4e4ec"/>
<rect x="496.20" y="339.40" width="24.00" height="2.75" fill="#eef0da"/>
<rect x="496.20" y="342.10" width="24.00" height="2.15" fill="#d4e4ec"/>
<rect x="496.20" y="344.20" width="24.00" height="3.15" fill="#d6e2e6"/>
<rect x="496.20" y="347.30" width="24.00" height="1.65" fill="#efe9c4"/>
<rect x="496.20" y="348.90" width="24.00" height="2.15" fill="#e4ece4"/>
<rect x="496.20" y="351.00" width="24.00" height="2.15" fill="#d6e2e6"/>
<rect x="496.20" y="353.10" width="24.00" height="2.15" fill="#e4ece4"/>
<rect x="496.20" y="355.20" width="24.00" height="2.15" fill="#d6e2e6"/>
<rect x="496.20" y="357.30" width="24.00" height="2.15" fill="#e4ece4"/>
<rect x="496.20" y="359.40" width="24.00" height="2.15" fill="#d6e2e6"/>
<rect x="496.20" y="361.50" width="24.00" height="2.15" fill="#e4ece4"/>
<rect x="496.20" y="363.60" width="24.00" height="2.15" fill="#d6e2e6"/>
<rect x="496.20" y="365.70" width="24.00" height="2.15" fill="#e4ece4"/>
<rect x="496.20" y="367.80" width="24.00" height="2.15" fill="#d6e2e6"/>
<rect x="496.20" y="369.90" width="24.00" height="2.15" fill="#e4ece4"/>
<rect x="496.20" y="372.00" width="24.00" height="2.15" fill="#d6e2e6"/>
<rect x="496.20" y="374.10" width="24.00" height="2.15" fill="#e4ece4"/>
<rect x="496.20" y="376.20" width="24.00" height="2.15" fill="#d6e2e6"/>
<rect x="496.20" y="378.30" width="24.00" height="2.15" fill="#e4ece4"/>
<rect x="496.20" y="380.40" width="24.00" height="4.85" fill="#d6e2e6"/>
<rect x="496.20" y="385.20" width="24.00" height="2.05" fill="#e6ead8"/>
<rect x="496.20" y="387.20" width="24.00" height="1.65" fill="#f3e2a8"/>
<rect x="496.20" y="388.80" width="24.00" height="2.15" fill="#b8cadc"/>
<rect x="496.20" y="390.90" width="24.00" height="2.15" fill="#d6e2e6"/>
<rect x="496.20" y="393.00" width="24.00" height="2.05" fill="#cbd7dc"/>
<rect x="496.20" y="395.00" width="24.00" height="2.25" fill="#d6e2e6"/>
<rect x="496.20" y="397.20" width="24.00" height="6.35" fill="#e6ead8"/>
<rect x="496.20" y="403.50" width="24.00" height="2.15" fill="#d6e2e6"/>
<rect x="496.20" y="405.60" width="24.00" height="2.15" fill="#e6ead8"/>
<rect x="496.20" y="407.70" width="24.00" height="6.35" fill="#e6ead8"/>
<rect x="496.20" y="414.00" width="24.00" height="7.85" fill="#e4ece4"/>
<rect x="520.20" y="220.40" width="24.00" height="2.85" fill="#eef0da"/>
<rect x="520.20" y="223.20" width="24.00" height="1.65" fill="#f8ecb8"/>
<rect x="520.20" y="224.80" width="24.00" height="1.55" fill="#fadf98"/>
<rect x="520.20" y="226.30" width="24.00" height="2.25" fill="#f5b070"/>
<rect x="520.20" y="228.50" width="24.00" height="1.05" fill="#fadf98"/>
<rect x="520.20" y="229.50" width="24.00" height="2.65" fill="#d4e4ec"/>
<rect x="520.20" y="232.10" width="24.00" height="1.65" fill="#f8ecb8"/>
<rect x="520.20" y="233.70" width="24.00" height="2.15" fill="#d4e4ec"/>
<rect x="520.20" y="235.80" width="24.00" height="0.35" fill="#eef0da"/>
<rect x="520.20" y="236.10" width="24.00" height="0.95" fill="#d6372a"/>
<rect x="520.20" y="237.00" width="24.00" height="2.05" fill="#e25a3a"/>
<rect x="520.20" y="239.00" width="24.00" height="2.05" fill="#e66a40"/>
<rect x="520.20" y="241.00" width="24.00" height="2.25" fill="#ec7a48"/>
<rect x="520.20" y="243.20" width="24.00" height="2.65" fill="#eea870"/>
<rect x="520.20" y="245.80" width="24.00" height="1.05" fill="#d6372a"/>
<rect x="520.20" y="246.80" width="24.00" height="1.85" fill="#e8784c"/>
<rect x="520.20" y="248.60" width="24.00" height="1.95" fill="#eb9a68"/>
<rect x="520.20" y="250.50" width="24.00" height="3.25" fill="#e9cfa0"/>
<rect x="520.20" y="253.70" width="24.00" height="1.65" fill="#fadf98"/>
<rect x="520.20" y="255.30" width="24.00" height="1.55" fill="#eef0da"/>
<rect x="520.20" y="256.80" width="24.00" height="2.65" fill="#d4e4ec"/>
<rect x="520.20" y="259.40" width="24.00" height="1.65" fill="#fadf98"/>
<rect x="520.20" y="261.00" width="24.00" height="3.25" fill="#aec8de"/>
<rect x="520.20" y="264.20" width="24.00" height="1.65" fill="#a0c0dc"/>
<rect x="520.20" y="265.80" width="24.00" height="2.25" fill="#d4e4ec"/>
<rect x="520.20" y="268.00" width="24.00" height="1.65" fill="#eef0da"/>
<rect x="520.20" y="269.60" width="24.00" height="5.25" fill="#f8ecb8"/>
<rect x="520.20" y="274.80" width="24.00" height="1.45" fill="#ec804c"/>
<rect x="520.20" y="276.20" width="24.00" height="1.85" fill="#c6d6e0"/>
<rect x="520.20" y="278.00" width="24.00" height="1.85" fill="#eef0da"/>
<rect x="520.20" y="279.80" width="24.00" height="1.95" fill="#c6d6e0"/>
<rect x="520.20" y="281.70" width="24.00" height="2.35" fill="#eef0da"/>
<rect x="520.20" y="284.00" width="24.00" height="2.05" fill="#d4e4ec"/>
<rect x="520.20" y="286.00" width="24.00" height="1.85" fill="#eef0da"/>
<rect x="520.20" y="287.80" width="24.00" height="1.75" fill="#d4e4ec"/>
<rect x="520.20" y="289.50" width="24.00" height="1.65" fill="#aec8de"/>
<rect x="520.20" y="291.10" width="24.00" height="1.65" fill="#eef0da"/>
<rect x="520.20" y="292.70" width="24.00" height="1.45" fill="#e04a30"/>
<rect x="520.20" y="294.10" width="24.00" height="1.85" fill="#d4e4ec"/>
<rect x="520.20" y="295.90" width="24.00" height="2.15" fill="#eef0da"/>
<rect x="520.20" y="298.00" width="24.00" height="2.05" fill="#f8ecb8"/>
<rect x="520.20" y="300.00" width="24.00" height="1.65" fill="#c6d6e0"/>
<rect x="520.20" y="301.60" width="24.00" height="2.15" fill="#eef0da"/>
<rect x="520.20" y="303.70" width="24.00" height="3.25" fill="#f8ecb8"/>
<rect x="520.20" y="306.90" width="24.00" height="2.15" fill="#e0eef2"/>
<rect x="520.20" y="309.00" width="24.00" height="4.25" fill="#f8ecb8"/>
<rect x="520.20" y="313.20" width="24.00" height="3.15" fill="#eef0da"/>
<rect x="520.20" y="316.30" width="24.00" height="2.15" fill="#d4e4ec"/>
<rect x="520.20" y="318.40" width="24.00" height="3.65" fill="#f8ecb8"/>
<rect x="520.20" y="322.00" width="24.00" height="1.25" fill="#eef0da"/>
<rect x="520.20" y="323.20" width="24.00" height="2.15" fill="#d4e4ec"/>
<rect x="520.20" y="325.30" width="24.00" height="2.15" fill="#eef0da"/>
<rect x="520.20" y="327.40" width="24.00" height="2.15" fill="#d4e4ec"/>
<rect x="520.20" y="329.50" width="24.00" height="1.55" fill="#aec8de"/>
<rect x="520.20" y="331.00" width="24.00" height="2.05" fill="#eef0da"/>
<rect x="520.20" y="333.00" width="24.00" height="2.05" fill="#d4e4ec"/>
<rect x="520.20" y="335.00" width="24.00" height="2.05" fill="#eef0da"/>
<rect x="520.20" y="337.00" width="24.00" height="2.05" fill="#d4e4ec"/>
<rect x="520.20" y="339.00" width="24.00" height="1.55" fill="#eef0da"/>
<rect x="520.20" y="340.50" width="24.00" height="1.55" fill="#aec8de"/>
<rect x="520.20" y="342.00" width="24.00" height="2.15" fill="#eef0da"/>
<rect x="520.20" y="344.10" width="24.00" height="2.15" fill="#d6e2e6"/>
<rect x="520.20" y="346.20" width="24.00" height="2.15" fill="#e6ead8"/>
<rect x="520.20" y="348.30" width="24.00" height="2.15" fill="#d6e2e6"/>
<rect x="520.20" y="350.40" width="24.00" height="2.15" fill="#e6ead8"/>
<rect x="520.20" y="352.50" width="24.00" height="2.15" fill="#d6e2e6"/>
<rect x="520.20" y="354.60" width="24.00" height="2.15" fill="#e6ead8"/>
<rect x="520.20" y="356.70" width="24.00" height="2.15" fill="#d6e2e6"/>
<rect x="520.20" y="358.80" width="24.00" height="2.15" fill="#e6ead8"/>
<rect x="520.20" y="360.90" width="24.00" height="2.15" fill="#d6e2e6"/>
<rect x="520.20" y="363.00" width="24.00" height="2.15" fill="#e6ead8"/>
<rect x="520.20" y="365.10" width="24.00" height="2.15" fill="#d6e2e6"/>
<rect x="520.20" y="367.20" width="24.00" height="2.15" fill="#e6ead8"/>
<rect x="520.20" y="369.30" width="24.00" height="2.15" fill="#d6e2e6"/>
<rect x="520.20" y="371.40" width="24.00" height="0.65" fill="#e6ead8"/>
<rect x="520.20" y="372.00" width="24.00" height="3.25" fill="#e6ead8"/>
<rect x="520.20" y="375.20" width="24.00" height="2.15" fill="#efe9c4"/>
<rect x="520.20" y="377.30" width="24.00" height="1.55" fill="#e6ead8"/>
<rect x="520.20" y="378.80" width="24.00" height="2.15" fill="#d6e2e6"/>
<rect x="520.20" y="380.90" width="24.00" height="1.65" fill="#efe9c4"/>
<rect x="520.20" y="382.50" width="24.00" height="2.15" fill="#f6d890"/>
<rect x="520.20" y="384.60" width="24.00" height="1.65" fill="#e6ead8"/>
<rect x="520.20" y="386.20" width="24.00" height="1.85" fill="#d9583a"/>
<rect x="520.20" y="388.00" width="24.00" height="1.95" fill="#efe9c4"/>
<rect x="520.20" y="389.90" width="24.00" height="3.15" fill="#d6e2e6"/>
<rect x="520.20" y="393.00" width="24.00" height="2.55" fill="#c4d4e0"/>
<rect x="520.20" y="395.50" width="24.00" height="2.85" fill="#cbd7dc"/>
<rect x="520.20" y="398.30" width="24.00" height="2.15" fill="#efe9c4"/>
<rect x="520.20" y="400.40" width="24.00" height="2.15" fill="#e6ead8"/>
<rect x="520.20" y="402.50" width="24.00" height="2.15" fill="#d6e2e6"/>
<rect x="520.20" y="404.60" width="24.00" height="2.15" fill="#e6ead8"/>
<rect x="520.20" y="406.70" width="24.00" height="15.15" fill="#e4ece4"/>
<rect x="544.20" y="220.40" width="24.00" height="2.85" fill="#eef0da"/>
<rect x="544.20" y="223.20" width="24.00" height="2.15" fill="#fadf98"/>
<rect x="544.20" y="225.30" width="24.00" height="2.15" fill="#e6efe8"/>
<rect x="544.20" y="227.40" width="24.00" height="2.15" fill="#d4e4ec"/>
<rect x="544.20" y="229.50" width="24.00" height="2.15" fill="#f8ecb8"/>
<rect x="544.20" y="231.60" width="24.00" height="1.45" fill="#eef0da"/>
<rect x="544.20" y="233.00" width="24.00" height="1.75" fill="#e88060"/>
<rect x="544.20" y="234.70" width="24.00" height="1.85" fill="#d4e4ec"/>
<rect x="544.20" y="236.50" width="24.00" height="2.15" fill="#eef0da"/>
<rect x="544.20" y="238.60" width="24.00" height="2.85" fill="#f8d690"/>
<rect x="544.20" y="241.40" width="24.00" height="1.45" fill="#e86a48"/>
<rect x="544.20" y="242.80" width="24.00" height="2.85" fill="#aec8de"/>
<rect x="544.20" y="245.60" width="24.00" height="2.15" fill="#f8ecb8"/>
<rect x="544.20" y="247.70" width="24.00" height="2.15" fill="#d4e4ec"/>
<rect x="544.20" y="249.80" width="24.00" height="2.15" fill="#fadf98"/>
<rect x="544.20" y="251.90" width="24.00" height="1.45" fill="#d4e4ec"/>
<rect x="544.20" y="253.30" width="24.00" height="2.85" fill="#f3a870"/>
<rect x="544.20" y="256.10" width="24.00" height="1.05" fill="#eef0da"/>
<rect x="544.20" y="257.10" width="24.00" height="3.75" fill="#d6372a"/>
<rect x="544.20" y="260.80" width="24.00" height="2.35" fill="#d4e4ec"/>
<rect x="544.20" y="263.10" width="24.00" height="1.45" fill="#f5b878"/>
<rect x="544.20" y="264.50" width="24.00" height="4.95" fill="#d4e4ec"/>
<rect x="544.20" y="269.40" width="24.00" height="1.45" fill="#eef0da"/>
<rect x="544.20" y="270.80" width="24.00" height="3.95" fill="#d6372a"/>
<rect x="544.20" y="274.70" width="24.00" height="1.75" fill="#eef0da"/>
<rect x="544.20" y="276.40" width="24.00" height="2.85" fill="#fadf98"/>
<rect x="544.20" y="279.20" width="24.00" height="2.15" fill="#c6d6e0"/>
<rect x="544.20" y="281.30" width="24.00" height="2.15" fill="#eef0da"/>
<rect x="544.20" y="283.40" width="24.00" height="2.15" fill="#f8ecb8"/>
<rect x="544.20" y="285.50" width="24.00" height="2.15" fill="#d4e4ec"/>
<rect x="544.20" y="287.60" width="24.00" height="2.85" fill="#f8ecb8"/>
<rect x="544.20" y="290.40" width="24.00" height="2.15" fill="#eef0da"/>
<rect x="544.20" y="292.50" width="24.00" height="2.15" fill="#fadf98"/>
<rect x="544.20" y="294.60" width="24.00" height="1.45" fill="#f5b878"/>
<rect x="544.20" y="296.00" width="24.00" height="2.15" fill="#d4e4ec"/>
<rect x="544.20" y="298.10" width="24.00" height="2.15" fill="#fadf98"/>
<rect x="544.20" y="300.20" width="24.00" height="2.15" fill="#d4e4ec"/>
<rect x="544.20" y="302.30" width="24.00" height="2.15" fill="#eef0da"/>
<rect x="544.20" y="304.40" width="24.00" height="2.85" fill="#d4e4ec"/>
<rect x="544.20" y="307.20" width="24.00" height="4.25" fill="#94bcdc"/>
<rect x="544.20" y="311.40" width="24.00" height="2.15" fill="#d4e4ec"/>
<rect x="544.20" y="313.50" width="24.00" height="2.85" fill="#eef0da"/>
<rect x="544.20" y="316.30" width="24.00" height="2.15" fill="#d4e4ec"/>
<rect x="544.20" y="318.40" width="24.00" height="3.05" fill="#eef0da"/>
<rect x="544.20" y="321.40" width="24.00" height="2.15" fill="#e6efe8"/>
<rect x="544.20" y="323.50" width="24.00" height="2.15" fill="#f8ecb8"/>
<rect x="544.20" y="325.60" width="24.00" height="4.25" fill="#d4e4ec"/>
<rect x="544.20" y="329.80" width="24.00" height="1.45" fill="#f8c888"/>
<rect x="544.20" y="331.20" width="24.00" height="2.85" fill="#fadf98"/>
<rect x="544.20" y="334.00" width="24.00" height="1.45" fill="#d4e4ec"/>
<rect x="544.20" y="335.40" width="24.00" height="2.15" fill="#c6d6e0"/>
<rect x="544.20" y="337.50" width="24.00" height="2.15" fill="#fadf98"/>
<rect x="544.20" y="339.60" width="24.00" height="2.15" fill="#eef0da"/>
<rect x="544.20" y="341.70" width="24.00" height="2.15" fill="#e6efe8"/>
<rect x="544.20" y="343.80" width="24.00" height="2.15" fill="#eef0da"/>
<rect x="544.20" y="345.90" width="24.00" height="2.15" fill="#e4ece4"/>
<rect x="544.20" y="348.00" width="24.00" height="2.15" fill="#e6ead8"/>
<rect x="544.20" y="350.10" width="24.00" height="1.95" fill="#e4ece4"/>
<rect x="544.20" y="352.00" width="24.00" height="4.45" fill="#d6e2e6"/>
<rect x="544.20" y="356.40" width="24.00" height="2.15" fill="#f3e2a8"/>
<rect x="544.20" y="358.50" width="24.00" height="2.15" fill="#e4ece4"/>
<rect x="544.20" y="360.60" width="24.00" height="2.15" fill="#b8d0e2"/>
<rect x="544.20" y="362.70" width="24.00" height="2.15" fill="#f8d490"/>
<rect x="544.20" y="364.80" width="24.00" height="2.95" fill="#e6ead8"/>
<rect x="544.20" y="367.70" width="24.00" height="2.85" fill="#e4ece4"/>
<rect x="544.20" y="370.50" width="24.00" height="4.35" fill="#efe9c4"/>
<rect x="544.20" y="374.80" width="24.00" height="4.25" fill="#e4ece4"/>
<rect x="544.20" y="379.00" width="24.00" height="2.85" fill="#e6ead8"/>
<rect x="544.20" y="381.80" width="24.00" height="2.85" fill="#e4ece4"/>
<rect x="544.20" y="384.60" width="24.00" height="2.85" fill="#d6e2e6"/>
<rect x="544.20" y="387.40" width="24.00" height="1.45" fill="#f8d080"/>
<rect x="544.20" y="388.80" width="24.00" height="2.85" fill="#cbd7dc"/>
<rect x="544.20" y="391.60" width="24.00" height="2.15" fill="#e4ece4"/>
<rect x="544.20" y="393.70" width="24.00" height="2.15" fill="#e6ead8"/>
<rect x="544.20" y="395.80" width="24.00" height="2.15" fill="#f3e2a8"/>
<rect x="544.20" y="397.90" width="24.00" height="2.15" fill="#e4ece4"/>
<rect x="544.20" y="400.00" width="24.00" height="2.15" fill="#e6ead8"/>
<rect x="544.20" y="402.10" width="24.00" height="2.15" fill="#e4ece4"/>
<rect x="544.20" y="404.20" width="24.00" height="17.65" fill="#e4ece4"/>
<rect x="568.20" y="220.40" width="24.00" height="2.85" fill="#b8d0e2"/>
<rect x="568.20" y="223.20" width="24.00" height="2.85" fill="#e6efe8"/>
<rect x="568.20" y="226.00" width="24.00" height="1.45" fill="#d4e4ec"/>
<rect x="568.20" y="227.40" width="24.00" height="2.15" fill="#e6efe8"/>
<rect x="568.20" y="229.50" width="24.00" height="1.45" fill="#a8c8e0"/>
<rect x="568.20" y="230.90" width="24.00" height="2.15" fill="#fadf98"/>
<rect x="568.20" y="233.00" width="24.00" height="2.85" fill="#eef0da"/>
<rect x="568.20" y="235.80" width="24.00" height="2.85" fill="#d4e4ec"/>
<rect x="568.20" y="238.60" width="24.00" height="2.15" fill="#fadf98"/>
<rect x="568.20" y="240.70" width="24.00" height="2.15" fill="#eef0da"/>
<rect x="568.20" y="242.80" width="24.00" height="1.75" fill="#f4c890"/>
<rect x="568.20" y="244.50" width="24.00" height="2.55" fill="#c6d6e0"/>
<rect x="568.20" y="247.00" width="24.00" height="2.15" fill="#fadf98"/>
<rect x="568.20" y="249.10" width="24.00" height="2.15" fill="#e9cfa0"/>
<rect x="568.20" y="251.20" width="24.00" height="1.45" fill="#e6efe8"/>
<rect x="568.20" y="252.60" width="24.00" height="1.45" fill="#88b0d6"/>
<rect x="568.20" y="254.00" width="24.00" height="1.45" fill="#f3b070"/>
<rect x="568.20" y="255.40" width="24.00" height="1.45" fill="#eef0da"/>
<rect x="568.20" y="256.80" width="24.00" height="2.85" fill="#fadf98"/>
<rect x="568.20" y="259.60" width="24.00" height="1.45" fill="#e0503a"/>
<rect x="568.20" y="261.00" width="24.00" height="2.15" fill="#f3a660"/>
<rect x="568.20" y="263.10" width="24.00" height="2.95" fill="#fadf98"/>
<rect x="568.20" y="266.00" width="24.00" height="2.05" fill="#f8ecb8"/>
<rect x="568.20" y="268.00" width="24.00" height="1.45" fill="#f8d490"/>
<rect x="568.20" y="269.40" width="24.00" height="1.45" fill="#eef0da"/>
<rect x="568.20" y="270.80" width="24.00" height="2.85" fill="#f8ecb8"/>
<rect x="568.20" y="273.60" width="24.00" height="1.45" fill="#e6efe8"/>
<rect x="568.20" y="275.00" width="24.00" height="1.45" fill="#e9cfa0"/>
<rect x="568.20" y="276.40" width="24.00" height="3.65" fill="#d63c2c"/>
<rect x="568.20" y="280.00" width="24.00" height="2.05" fill="#dc4a32"/>
<rect x="568.20" y="282.00" width="24.00" height="4.05" fill="#d63c2c"/>
<rect x="568.20" y="286.00" width="24.00" height="1.55" fill="#dc4a32"/>
<rect x="568.20" y="287.50" width="24.00" height="2.25" fill="#d63c2c"/>
<rect x="568.20" y="289.70" width="24.00" height="1.45" fill="#eef0da"/>
<rect x="568.20" y="291.10" width="24.00" height="2.15" fill="#e9cfa0"/>
<rect x="568.20" y="293.20" width="24.00" height="1.15" fill="#e6efe8"/>
<rect x="568.20" y="294.30" width="24.00" height="2.45" fill="#e4603e"/>
<rect x="568.20" y="296.70" width="24.00" height="2.15" fill="#f09a5c"/>
<rect x="568.20" y="298.80" width="24.00" height="2.15" fill="#f5b878"/>
<rect x="568.20" y="300.90" width="24.00" height="2.15" fill="#eef0da"/>
<rect x="568.20" y="303.00" width="24.00" height="2.85" fill="#f8ecb8"/>
<rect x="568.20" y="305.80" width="24.00" height="2.85" fill="#fadf98"/>
<rect x="568.20" y="308.60" width="24.00" height="5.65" fill="#f8ecb8"/>
<rect x="568.20" y="314.20" width="24.00" height="2.15" fill="#eef0da"/>
<rect x="568.20" y="316.30" width="24.00" height="5.75" fill="#f8ecb8"/>
<rect x="568.20" y="322.00" width="24.00" height="2.25" fill="#eef0da"/>
<rect x="568.20" y="324.20" width="24.00" height="2.15" fill="#fadf98"/>
<rect x="568.20" y="326.30" width="24.00" height="2.15" fill="#eef0da"/>
<rect x="568.20" y="328.40" width="24.00" height="2.15" fill="#fadf98"/>
<rect x="568.20" y="330.50" width="24.00" height="2.15" fill="#eef0da"/>
<rect x="568.20" y="332.60" width="24.00" height="2.85" fill="#fadf98"/>
<rect x="568.20" y="335.40" width="24.00" height="2.15" fill="#eef0da"/>
<rect x="568.20" y="337.50" width="24.00" height="2.15" fill="#fadf98"/>
<rect x="568.20" y="339.60" width="24.00" height="1.45" fill="#eef0da"/>
<rect x="568.20" y="341.00" width="24.00" height="1.15" fill="#e4603e"/>
<rect x="568.20" y="342.10" width="24.00" height="1.75" fill="#eef0da"/>
<rect x="568.20" y="343.80" width="24.00" height="3.55" fill="#fadf98"/>
<rect x="568.20" y="347.30" width="24.00" height="1.45" fill="#e6ead8"/>
<rect x="568.20" y="348.70" width="24.00" height="2.15" fill="#f09a5c"/>
<rect x="568.20" y="350.80" width="24.00" height="4.25" fill="#e4ece4"/>
<rect x="568.20" y="355.00" width="24.00" height="2.85" fill="#f3e2a8"/>
<rect x="568.20" y="357.80" width="24.00" height="2.25" fill="#e4ece4"/>
<rect x="568.20" y="360.00" width="24.00" height="2.05" fill="#f3e2a8"/>
<rect x="568.20" y="362.00" width="24.00" height="2.85" fill="#e4ece4"/>
<rect x="568.20" y="364.80" width="24.00" height="2.95" fill="#f8d088"/>
<rect x="568.20" y="367.70" width="24.00" height="7.15" fill="#f3e2a8"/>
<rect x="568.20" y="374.80" width="24.00" height="5.65" fill="#efe9c4"/>
<rect x="568.20" y="380.40" width="24.00" height="2.85" fill="#e4ece4"/>
<rect x="568.20" y="383.20" width="24.00" height="4.25" fill="#cbd7dc"/>
<rect x="568.20" y="387.40" width="24.00" height="1.45" fill="#e06a40"/>
<rect x="568.20" y="388.80" width="24.00" height="2.25" fill="#d6e2e6"/>
<rect x="568.20" y="391.00" width="24.00" height="2.05" fill="#e6ead8"/>
<rect x="568.20" y="393.00" width="24.00" height="2.85" fill="#e4ece4"/>
<rect x="568.20" y="395.80" width="24.00" height="1.45" fill="#f5b878"/>
<rect x="568.20" y="397.20" width="24.00" height="3.35" fill="#e4ece4"/>
<rect x="568.20" y="400.50" width="24.00" height="3.75" fill="#e6ead8"/>
<rect x="568.20" y="404.20" width="24.00" height="2.55" fill="#f3e2a8"/>
<rect x="568.20" y="406.70" width="24.00" height="3.15" fill="#e4ece4"/>
<rect x="568.20" y="409.80" width="24.00" height="2.85" fill="#d6e2e6"/>
<rect x="568.20" y="412.60" width="24.00" height="9.25" fill="#ece9cc"/>
<rect x="592.20" y="220.40" width="24.00" height="2.15" fill="#eef0da"/>
<rect x="592.20" y="222.50" width="24.00" height="3.85" fill="#d4e4ec"/>
<rect x="592.20" y="226.30" width="24.00" height="2.55" fill="#eef0da"/>
<rect x="592.20" y="228.80" width="24.00" height="1.75" fill="#f0aa70"/>
<rect x="592.20" y="230.50" width="24.00" height="1.85" fill="#f8ecb8"/>
<rect x="592.20" y="232.30" width="24.00" height="1.45" fill="#d4e4ec"/>
<rect x="592.20" y="233.70" width="24.00" height="1.05" fill="#eef0da"/>
<rect x="592.20" y="234.70" width="24.00" height="1.15" fill="#e86a48"/>
<rect x="592.20" y="235.80" width="24.00" height="2.15" fill="#d4e4ec"/>
<rect x="592.20" y="237.90" width="24.00" height="1.45" fill="#f5b878"/>
<rect x="592.20" y="239.30" width="24.00" height="2.85" fill="#c6dae6"/>
<rect x="592.20" y="242.10" width="24.00" height="1.05" fill="#eef0da"/>
<rect x="592.20" y="243.10" width="24.00" height="2.85" fill="#f3cf90"/>
<rect x="592.20" y="245.90" width="24.00" height="2.55" fill="#d4e4ec"/>
<rect x="592.20" y="248.40" width="24.00" height="2.15" fill="#eef0da"/>
<rect x="592.20" y="250.50" width="24.00" height="2.15" fill="#b4cce0"/>
<rect x="592.20" y="252.60" width="24.00" height="2.65" fill="#eef0da"/>
<rect x="592.20" y="255.20" width="24.00" height="1.45" fill="#e87050"/>
<rect x="592.20" y="256.60" width="24.00" height="3.05" fill="#eef0da"/>
<rect x="592.20" y="259.60" width="24.00" height="2.15" fill="#d4e4ec"/>
<rect x="592.20" y="261.70" width="24.00" height="2.15" fill="#e8704a"/>
<rect x="592.20" y="263.80" width="24.00" height="4.25" fill="#fad890"/>
<rect x="592.20" y="268.00" width="24.00" height="1.45" fill="#f3b070"/>
<rect x="592.20" y="269.40" width="24.00" height="3.55" fill="#fadf98"/>
<rect x="592.20" y="272.90" width="24.00" height="1.45" fill="#eef0da"/>
<rect x="592.20" y="274.30" width="24.00" height="1.45" fill="#90b8dc"/>
<rect x="592.20" y="275.70" width="24.00" height="2.05" fill="#e9cfa0"/>
<rect x="592.20" y="277.70" width="24.00" height="2.95" fill="#c6d6e0"/>
<rect x="592.20" y="280.60" width="24.00" height="2.85" fill="#f8ecb8"/>
<rect x="592.20" y="283.40" width="24.00" height="2.85" fill="#c6d6e0"/>
<rect x="592.20" y="286.20" width="24.00" height="2.85" fill="#eef0da"/>
<rect x="592.20" y="289.00" width="24.00" height="3.55" fill="#c6d6e0"/>
<rect x="592.20" y="292.50" width="24.00" height="2.85" fill="#eef0da"/>
<rect x="592.20" y="295.30" width="24.00" height="2.15" fill="#d4e4ec"/>
<rect x="592.20" y="297.40" width="24.00" height="2.15" fill="#6a9acc"/>
<rect x="592.20" y="299.50" width="24.00" height="1.55" fill="#f0a070"/>
<rect x="592.20" y="301.00" width="24.00" height="7.05" fill="#e4603e"/>
<rect x="592.20" y="308.00" width="24.00" height="2.05" fill="#f09a5c"/>
<rect x="592.20" y="310.00" width="24.00" height="5.05" fill="#f3a868"/>
<rect x="592.20" y="315.00" width="24.00" height="3.55" fill="#d6372a"/>
<rect x="592.20" y="318.50" width="24.00" height="5.75" fill="#e4603e"/>
<rect x="592.20" y="324.20" width="24.00" height="8.45" fill="#e87250"/>
<rect x="592.20" y="332.60" width="24.00" height="7.05" fill="#e88058"/>
<rect x="592.20" y="339.60" width="24.00" height="1.45" fill="#f0a070"/>
<rect x="592.20" y="341.00" width="24.00" height="1.15" fill="#fcf0c0"/>
<rect x="592.20" y="342.10" width="24.00" height="2.45" fill="#f09058"/>
<rect x="592.20" y="344.50" width="24.00" height="2.15" fill="#f3b070"/>
<rect x="592.20" y="346.60" width="24.00" height="1.45" fill="#f09a5c"/>
<rect x="592.20" y="348.00" width="24.00" height="2.15" fill="#d8e0e0"/>
<rect x="592.20" y="350.10" width="24.00" height="4.95" fill="#f0a060"/>
<rect x="592.20" y="355.00" width="24.00" height="2.85" fill="#f5b878"/>
<rect x="592.20" y="357.80" width="24.00" height="4.25" fill="#f09a5c"/>
<rect x="592.20" y="362.00" width="24.00" height="1.45" fill="#eef0da"/>
<rect x="592.20" y="363.40" width="24.00" height="2.85" fill="#f5b878"/>
<rect x="592.20" y="366.20" width="24.00" height="2.25" fill="#eef0da"/>
<rect x="592.20" y="368.40" width="24.00" height="3.65" fill="#fbdc90"/>
<rect x="592.20" y="372.00" width="24.00" height="7.05" fill="#e6efe8"/>
<rect x="592.20" y="379.00" width="24.00" height="1.45" fill="#e4603e"/>
<rect x="592.20" y="380.40" width="24.00" height="2.65" fill="#eb8a58"/>
<rect x="592.20" y="383.00" width="24.00" height="3.05" fill="#f0a070"/>
<rect x="592.20" y="386.00" width="24.00" height="1.75" fill="#f8d8a0"/>
<rect x="592.20" y="387.70" width="24.00" height="1.15" fill="#8cb4d8"/>
<rect x="592.20" y="388.80" width="24.00" height="4.25" fill="#e8a070"/>
<rect x="592.20" y="393.00" width="24.00" height="2.85" fill="#f3c890"/>
<rect x="592.20" y="395.80" width="24.00" height="1.45" fill="#eef0da"/>
<rect x="592.20" y="397.20" width="24.00" height="7.05" fill="#f8ecb8"/>
<rect x="592.20" y="404.20" width="24.00" height="1.45" fill="#d6372a"/>
<rect x="592.20" y="405.60" width="24.00" height="4.25" fill="#ec8a5c"/>
<rect x="592.20" y="409.80" width="24.00" height="4.25" fill="#f0a064"/>
<rect x="592.20" y="414.00" width="24.00" height="4.25" fill="#f8c07a"/>
<rect x="592.20" y="418.20" width="24.00" height="3.65" fill="#fde0a0"/>
<rect x="616.20" y="220.40" width="24.00" height="2.15" fill="#eef0da"/>
<rect x="616.20" y="222.50" width="24.00" height="2.85" fill="#c8dce8"/>
<rect x="616.20" y="225.30" width="24.00" height="2.85" fill="#bcd4e4"/>
<rect x="616.20" y="228.10" width="24.00" height="2.15" fill="#fadf98"/>
<rect x="616.20" y="230.20" width="24.00" height="1.75" fill="#d4e4ec"/>
<rect x="616.20" y="231.90" width="24.00" height="1.45" fill="#e87050"/>
<rect x="616.20" y="233.30" width="24.00" height="1.45" fill="#eef0da"/>
<rect x="616.20" y="234.70" width="24.00" height="1.45" fill="#f3b070"/>
<rect x="616.20" y="236.10" width="24.00" height="2.55" fill="#eef0da"/>
<rect x="616.20" y="238.60" width="24.00" height="4.25" fill="#d4e4ec"/>
<rect x="616.20" y="242.80" width="24.00" height="1.45" fill="#88b0d6"/>
<rect x="616.20" y="244.20" width="24.00" height="1.45" fill="#eb9a68"/>
<rect x="616.20" y="245.60" width="24.00" height="2.85" fill="#eef0da"/>
<rect x="616.20" y="248.40" width="24.00" height="2.85" fill="#d4e4ec"/>
<rect x="616.20" y="251.20" width="24.00" height="1.75" fill="#e87a58"/>
<rect x="616.20" y="252.90" width="24.00" height="1.85" fill="#d4e4ec"/>
<rect x="616.20" y="254.70" width="24.00" height="2.85" fill="#fadf98"/>
<rect x="616.20" y="257.50" width="24.00" height="2.15" fill="#d4e4ec"/>
<rect x="616.20" y="259.60" width="24.00" height="2.85" fill="#eef0da"/>
<rect x="616.20" y="262.40" width="24.00" height="2.95" fill="#e6efe8"/>
<rect x="616.20" y="265.30" width="24.00" height="2.75" fill="#d94a30"/>
<rect x="616.20" y="268.00" width="24.00" height="1.45" fill="#e06040"/>
<rect x="616.20" y="269.40" width="24.00" height="1.45" fill="#f3b070"/>
<rect x="616.20" y="270.80" width="24.00" height="2.85" fill="#d4e4ec"/>
<rect x="616.20" y="273.60" width="24.00" height="2.15" fill="#e6efe8"/>
<rect x="616.20" y="275.70" width="24.00" height="2.15" fill="#c6d6e0"/>
<rect x="616.20" y="277.80" width="24.00" height="2.85" fill="#fadf98"/>
<rect x="616.20" y="280.60" width="24.00" height="2.85" fill="#e6efe8"/>
<rect x="616.20" y="283.40" width="24.00" height="1.45" fill="#c6d6e0"/>
<rect x="616.20" y="284.80" width="24.00" height="2.85" fill="#e6efe8"/>
<rect x="616.20" y="287.60" width="24.00" height="2.85" fill="#d4e4ec"/>
<rect x="616.20" y="290.40" width="24.00" height="2.15" fill="#e0603e"/>
<rect x="616.20" y="292.50" width="24.00" height="2.85" fill="#fadf98"/>
<rect x="616.20" y="295.30" width="24.00" height="2.15" fill="#d4e4ec"/>
<rect x="616.20" y="297.40" width="24.00" height="2.15" fill="#fadf98"/>
<rect x="616.20" y="299.50" width="24.00" height="1.45" fill="#a8c4dc"/>
<rect x="616.20" y="300.90" width="24.00" height="2.15" fill="#d4e4ec"/>
<rect x="616.20" y="303.00" width="24.00" height="1.75" fill="#f8c880"/>
<rect x="616.20" y="304.70" width="24.00" height="1.85" fill="#d4e4ec"/>
<rect x="616.20" y="306.50" width="24.00" height="2.15" fill="#aec8de"/>
<rect x="616.20" y="308.60" width="24.00" height="2.15" fill="#d4e4ec"/>
<rect x="616.20" y="310.70" width="24.00" height="1.45" fill="#f8c080"/>
<rect x="616.20" y="312.10" width="24.00" height="2.25" fill="#5a8cc4"/>
<rect x="616.20" y="314.30" width="24.00" height="2.05" fill="#d4e4ec"/>
<rect x="616.20" y="316.30" width="24.00" height="5.75" fill="#f8d490"/>
<rect x="616.20" y="322.00" width="24.00" height="2.25" fill="#f0a870"/>
<rect x="616.20" y="324.20" width="24.00" height="2.15" fill="#fbe8a8"/>
<rect x="616.20" y="326.30" width="24.00" height="2.15" fill="#f09a5c"/>
<rect x="616.20" y="328.40" width="24.00" height="1.45" fill="#f8ecb8"/>
<rect x="616.20" y="329.80" width="24.00" height="1.45" fill="#eef0da"/>
<rect x="616.20" y="331.20" width="24.00" height="2.85" fill="#f0a070"/>
<rect x="616.20" y="334.00" width="24.00" height="2.85" fill="#e88060"/>
<rect x="616.20" y="336.80" width="24.00" height="2.85" fill="#f5b878"/>
<rect x="616.20" y="339.60" width="24.00" height="1.45" fill="#9cbcd8"/>
<rect x="616.20" y="341.00" width="24.00" height="2.85" fill="#e87250"/>
<rect x="616.20" y="343.80" width="24.00" height="4.25" fill="#eb8a58"/>
<rect x="616.20" y="348.00" width="24.00" height="8.05" fill="#e8663f"/>
<rect x="616.20" y="356.00" width="24.00" height="8.05" fill="#e4603e"/>
<rect x="616.20" y="364.00" width="24.00" height="6.55" fill="#e0543a"/>
<rect x="616.20" y="370.50" width="24.00" height="8.55" fill="#d83a2a"/>
<rect x="616.20" y="379.00" width="24.00" height="1.45" fill="#f8d890"/>
<rect x="616.20" y="380.40" width="24.00" height="5.65" fill="#f0a070"/>
<rect x="616.20" y="386.00" width="24.00" height="2.15" fill="#f8e8b8"/>
<rect x="616.20" y="388.10" width="24.00" height="0.75" fill="#eef0da"/>
<rect x="616.20" y="388.80" width="24.00" height="4.25" fill="#d86050"/>
<rect x="616.20" y="393.00" width="24.00" height="2.85" fill="#e07050"/>
<rect x="616.20" y="395.80" width="24.00" height="2.85" fill="#e06048"/>
<rect x="616.20" y="398.60" width="24.00" height="4.95" fill="#d6372a"/>
<rect x="616.20" y="403.50" width="24.00" height="1.45" fill="#eca080"/>
<rect x="616.20" y="404.90" width="24.00" height="4.95" fill="#e87250"/>
<rect x="616.20" y="409.80" width="24.00" height="4.25" fill="#e05a3c"/>
<rect x="616.20" y="414.00" width="24.00" height="7.85" fill="#d8402c"/>
<line x1="496.20" y1="220.40" x2="496.20" y2="421.80" stroke="#b8b8b0" stroke-width="0.5" opacity="0.8"/>
<line x1="520.20" y1="220.40" x2="520.20" y2="421.80" stroke="#b8b8b0" stroke-width="0.5" opacity="0.8"/>
<line x1="544.20" y1="220.40" x2="544.20" y2="421.80" stroke="#b8b8b0" stroke-width="0.5" opacity="0.8"/>
<line x1="568.20" y1="220.40" x2="568.20" y2="421.80" stroke="#b8b8b0" stroke-width="0.5" opacity="0.8"/>
<line x1="592.20" y1="220.40" x2="592.20" y2="421.80" stroke="#b8b8b0" stroke-width="0.5" opacity="0.8"/>
<line x1="616.20" y1="220.40" x2="616.20" y2="421.80" stroke="#b8b8b0" stroke-width="0.5" opacity="0.8"/>
<line x1="649.00" y1="221.40" x2="649.00" y2="244.70" stroke="#222" stroke-width="1.0"/>
<text x="651.0" y="235.7" font-size="8.8" fill="#222">WNT</text>
<line x1="646.20" y1="246.00" x2="646.20" y2="269.30" stroke="#222" stroke-width="1.0"/>
<text x="648.2" y="261.0" font-size="8.8" fill="#222">NOTCH</text>
<line x1="649.00" y1="271.30" x2="649.00" y2="293.80" stroke="#222" stroke-width="1.0"/>
<text x="651.0" y="283.9" font-size="8.8" fill="#222">HIPPO</text>
<line x1="647.00" y1="294.60" x2="647.00" y2="314.20" stroke="#222" stroke-width="1.0"/>
<text x="649.0" y="306.4" font-size="8.8" fill="#222">SHH</text>
<line x1="649.00" y1="315.40" x2="649.00" y2="378.40" stroke="#222" stroke-width="1.0"/>
<text x="651.0" y="348.9" font-size="8.8" fill="#222">VEGF</text>
<line x1="646.20" y1="379.60" x2="646.20" y2="402.90" stroke="#222" stroke-width="1.0"/>
<text x="653.0" y="394.2" font-size="8.8" fill="#222">TGF</text>
<line x1="648.20" y1="404.00" x2="648.20" y2="421.70" stroke="#222" stroke-width="1.0"/>
<text x="651.0" y="415.9" font-size="8.8" fill="#222">PDGFR</text>
<text x="444.3" y="352.8" font-size="9.1" fill="#222">Score</text>
<defs><linearGradient id="rdylbu" x1="0" y1="0" x2="0" y2="1"><stop offset="0" stop-color="#d73027"/><stop offset="0.2" stop-color="#f46d43"/><stop offset="0.35" stop-color="#fdae61"/><stop offset="0.45" stop-color="#fee090"/><stop offset="0.55" stop-color="#f5f5e0"/><stop offset="0.7" stop-color="#d6e8f0"/><stop offset="0.85" stop-color="#91bfdb"/><stop offset="1" stop-color="#4575b4"/></linearGradient></defs>
<rect x="463.60" y="357.00" width="4.30" height="64.30" fill="url(#rdylbu)"/>
<text x="462.3" y="362.8" font-size="7.2" text-anchor="end" fill="#333">2</text>
<text x="462.3" y="377.1" font-size="7.2" text-anchor="end" fill="#333">1</text>
<text x="462.3" y="391.1" font-size="7.2" text-anchor="end" fill="#333">0</text>
<text x="462.3" y="405.8" font-size="7.2" text-anchor="end" fill="#333">-1</text>
<text x="462.3" y="420.3" font-size="7.2" text-anchor="end" fill="#333">-2</text>
<text x="290.2" y="339.0" font-size="10.2" font-weight="bold" fill="#111">G</text>
<rect x="291.20" y="344.30" width="150.60" height="93.60" fill="none" stroke="#333" stroke-width="1.0"/>
<text x="326.5" y="355.6" font-size="9.6" font-weight="bold" fill="#222">cyNESC</text>
<text x="318.5" y="369.4" font-size="6.9" fill="#333">WNT</text>
<text x="356.2" y="366.9" font-size="6.9" fill="#333">NOTCH</text>
<text x="371.8" y="373.8" font-size="6.9" fill="#333">HIPPO</text>
<text x="393.7" y="381.8" font-size="6.9" fill="#333">SHH</text>
<text x="403.6" y="389.7" font-size="6.9" fill="#333">VEGF</text>
<text x="411.0" y="397.2" font-size="6.9" fill="#333">TGF</text>
<text x="415.3" y="404.6" font-size="6.9" fill="#333">PDGFR</text>
<text x="354.0" y="419.8" font-size="9.6" font-weight="bold" fill="#222">MES</text>
<text x="388.7" y="435.2" font-size="9.6" font-weight="bold" fill="#222">PC</text>
<text x="293.7" y="435.2" font-size="9.5" font-weight="bold" fill="#222">Neuroglial</text>
<path d="M334.6 372 C327 371 320 375 317.2 380.2" fill="none" stroke="#333" stroke-width="0.8"/>
<polygon points="315.2,378.8 316.6,383.2 319.4,380.2" fill="#333"/>
<path d="M357 370.9 C366 370.5 372 375 374 380.5" fill="none" stroke="#333" stroke-width="0.8"/>
<polygon points="371.6,379.6 374.6,383.6 376.2,379.0" fill="#333"/>
<path d="M394.7 393.2 C402 392.5 408 396 410.6 401.5" fill="none" stroke="#333" stroke-width="0.8"/>
<polygon points="408.2,400.6 411.4,404.2 412.6,399.6" fill="#333"/>
<path d="M345 362.2 C348 368 351 372 350.8 376 C350.6 381 347.5 385 345.2 389.6 C342.6 385 339.6 381 339.5 376 C339.4 371 342 367 345 362.2 Z" fill="#7d4fa6"/>
<ellipse cx="345" cy="376.5" rx="2.8" ry="5.2" fill="#4b2277"/>
<path d="M357.9 394.4 Q361 391 363.8 388.5 Q367 390 370.2 389.7 Q373 388.8 376 387.9 Q380 386 384.2 383.8 Q384.6 386 385.4 387.9 Q387.5 386.5 390 385.6 Q389.2 388.5 388.9 390.8 Q392 392 394.7 393.2 Q392 394.5 390 395.5 Q392.5 397 394.7 398.4 Q391 399.2 387.7 399.6 Q389 402 390 404.3 Q386.5 402.6 383 401.4 Q375 404.5 366.7 407.8 Q368 404.8 369 401.9 Q364.8 401.5 360.8 400.8 Q362.5 399.2 364.3 397.9 Q361 396 357.9 394.4 Z" fill="#3b5db5"/>
<ellipse cx="377.2" cy="393.8" rx="4.6" ry="2.4" transform="rotate(-12 377.2 393.8)" fill="#1a2e8a"/>
<path d="M390 417.6 C394 416.8 398 415.5 400.5 412.8 C402.5 410.2 404.5 409 406.6 409 C409 409 412 410.2 415.7 412.8 C419 415.2 423 416.6 426.8 417.6 C424 419 420 419.8 408 419.9 C398 419.8 393 419.2 390 417.6 Z" fill="#82b2e0"/>
<path d="M393.5 419 Q392 420 391.3 421.6 M399.5 419.4 Q399 421.5 398.6 423 M405.2 419.6 L405.2 424 M410.5 419.6 Q411 421.5 411.3 423.4 M416.4 419.4 Q417.2 421.5 417.8 423 M423 418.8 Q424.5 420 425.2 421.5" stroke="#82b2e0" stroke-width="1.3" stroke-linecap="round" fill="none"/>
<ellipse cx="408.1" cy="414.2" rx="2.5" ry="1.3" fill="#5a8ccc"/>
<g stroke="#6e3a98" stroke-width="0.75" fill="none" stroke-linecap="round"><path d="M315.6 394.3 L307.7 389 M307.7 389 L305.7 387.7 M307.7 389 L306.6 391.6 M309.5 390.3 L309 387.8 M315.6 394.3 L314.9 386.4 M314.9 386.4 L313 385.6 M314.9 386.4 L316.6 385.2 M315.2 389 L317.5 388.2 M315.6 394.3 L322.1 389 M322.1 389 L324.2 390.3 M322.1 389 L322.6 386.8 M319.5 391.5 L320.6 389.4 M315.6 394.3 L309 396.9 L306.8 398.6 M309 396.9 L308.4 399.2 M315.6 394.3 L313.6 400.2"/><path d="M316.5 395.2 C320 396.5 325 397.5 326.7 400.2 C328.5 403 328 406 327.3 407.4 C326 410.5 324 412 323.4 413.9 C322 416 320.5 417.5 319.5 419.1 M319.5 419.1 L315.6 420.4 M319.5 419.1 L323.4 421.8 L326 424.4 M323.4 421.8 L322.6 424.2 M317.5 419.8 L316.8 422.6"/><path d="M298.5 413.9 L294.6 406.7 M294.6 406.7 L293 405.5 M294.6 406.7 L296.2 404.8 M298.5 413.9 L299.9 404.7 M299.9 404.7 L298.6 403.2 M299.9 404.7 L301.6 403.6 M298.5 413.9 L292.7 411.3 M292.7 411.3 L292.2 409.4 M298.5 413.9 L301.2 421.8 L302.5 424.4 M301.2 421.8 L299.6 423.6 M298.5 413.9 L295 419 L293.8 421 M298.5 413.9 L305.1 414.6 L312.9 417.2 M305.1 414.6 C306.5 411 307.2 408 307.7 404.7 M309 415.8 L310.5 419"/></g>
<ellipse cx="315.6" cy="394.3" rx="3.3" ry="2.6" fill="#6e3a98"/>
<ellipse cx="315.6" cy="394.3" rx="1.6" ry="1.3" fill="#4b2277"/>
<ellipse cx="298.5" cy="413.9" rx="3.9" ry="3.3" fill="#6e3a98"/>
<ellipse cx="298.5" cy="413.9" rx="1.9" ry="1.6" fill="#4b2277"/>
<text x="292.1" y="452.9" font-size="10.2" font-weight="bold" fill="#111">H</text>
<text x="303.9" y="463.2" font-size="9.6" fill="#222">Ligand-receptor interactions in putative RG to PC differentiation</text>
<rect x="309.80" y="470.10" width="259.00" height="129.70" fill="none" stroke="#333" stroke-width="1.0"/>
<circle cx="320.00" cy="478.00" r="5.00" fill="#3a3a3a"/>
<circle cx="324.60" cy="478.00" r="0.60" fill="#3a3a3a"/>
<circle cx="322.30" cy="481.98" r="0.60" fill="#3a3a3a"/>
<circle cx="317.70" cy="481.98" r="0.60" fill="#3a3a3a"/>
<circle cx="315.40" cy="478.00" r="0.60" fill="#3a3a3a"/>
<circle cx="317.70" cy="474.02" r="0.60" fill="#3a3a3a"/>
<circle cx="322.30" cy="474.02" r="0.60" fill="#3a3a3a"/>
<polygon points="320.00,473.40 321.20,475.92 323.98,475.70 322.40,478.00 323.98,480.30 321.20,480.08 320.00,482.60 318.80,480.08 316.02,480.30 317.60,478.00 316.02,475.70 318.80,475.92" fill="#bdb8b1"/>
<circle cx="320.00" cy="478.00" r="2.70" fill="#bdb8b1"/>
<g transform="translate(329.10,477.10) scale(1.020)"><path d="M0 2.5 C0.7 1.8 1.4 1.4 2.1 1.3 L3.4 0.2 L4.3 0.1 L4.8 0.8 C6 0.7 7.2 0.6 8.4 0.9 C10.2 1.3 11.8 2.2 13.0 3.4 C13.8 4.2 14.4 4.8 14.4 5.4 C14.4 6.1 14.1 6.5 13.8 6.6 L12.2 7.0 L10.2 7.7 L8.0 7.8 L9.8 7.1 L10.8 6.4 C9 6.0 7.5 5.8 6.2 5.7 C5.2 5.6 4.6 5.8 4.1 6.2 L2.1 6.9 L2.0 6.6 L3.4 5.8 C2.5 5.2 1.8 4.5 1.5 3.9 C1.0 3.4 0.4 3.0 0 2.5 Z" fill="#2a2a2a"/><path d="M14.3 5.6 C15.6 5.9 16.6 6.4 16.7 7.4 C16.5 8.4 14.6 8.6 12 8.1" fill="none" stroke="#2a2a2a" stroke-width="0.55"/></g>
<g filter="url(#bl1)">
<polygon points="514.2,553.2 522.9,535.7 531.7,528.0 540.4,526.9 547.0,533.5 551.4,542.3 555.8,555.4 558.0,568.5 556.9,583.9 551.4,592.6 542.6,597.0 529.5,595.9 512.0,592.6 485.7,588.2 463.8,585.0 450.7,582.8 446.3,579.5 450.7,576.2 474.7,577.3 496.6,576.2 512.0,570.7 516.3,562.0" fill="#f9d6c8" opacity="1.0"/>
</g>
<polygon points="514.2,553.2 522.9,535.7 531.7,528.0 540.4,526.9 547.0,533.5 551.4,542.3 555.8,555.4 558.0,568.5 556.9,583.9 551.4,592.6 542.6,597.0 529.5,595.9 512.0,592.6 485.7,588.2 463.8,585.0 450.7,582.8 446.3,579.5 450.7,576.2 474.7,577.3 496.6,576.2 512.0,570.7 516.3,562.0" fill="#fadbd0" opacity="0.9"/>
<path d="M360.4 485h.1m.1 .2h.1m2.6 1.3h.1m-0-1.5h.1m1.4-1.6h.1m1.4 4.7h.1m.3-.1h.1m.2-1.5h.1m4.5 2.4h.1m.4-4.9h.1m.5 .3h.1m2.7 3.2h.1m2.7 1.3h.1m2.3-.7h.1m2.2-.8h.1m.2-1.5h.1m6.2 1.4h.1m.7 .5h.1m.8 1h.1m-42.3 4h.1m2.4-1.1h.1m1.4 2.2h.1m.3-3h.1m.5 .7h.1m.1 .1h.1m1.1-.7h.1m-0 .3h.1m1.1 1.8h.1m1.8 .7h.1m1.2-4.7h.1m.7 .6h.1m1.8 1.2h.1m1.1-.1h.1m1.5-1.1h.1m.7 3.1h.1m1-3.6h.1m.1 1.7h.1m.5 1.1h.1m1-2.3h.1m-.1 5.4h.1m1.8-.9h.1m.7 .7h.1m.3-5.4h.1m.1 2.5h.1m0 2.2h.1m.6 .9h.1m.3-5.8h.1m.5 5h.1m1-.8h.1m-.1-.6h.1m.1 1.5h.1m1.7-2.7h.1m.1 .8h.1m1.5-1h.1m.5 1.3h.1m1.2-1.2h.1m1.5 3.2h.1m-.1-3.7h.1m1.4-1h.1m2.1 4.8h.1m1.2-1.8h.1m0 .8h.1m1-.3h.1m.4-1.2h.1m.4 2.6h.1m1.2-5.2h.1m1.6 3.8h.1m3-3.5h.1m1.2 4.8h.1m4.7 .2h.1m-46.7 5.2h.1m.1-1.1h.1m.8 .4h.1m-0-4.4h.1m.3 4.4h.1m1.7-.2h.1m.5-1.3h.1m.5 1.5h.1m-.1 1.1h.1m.6-3.7h.1m1.6 4h.1m3.3-.1h.1m2.1-2.3h.1m1.9 .7h.1m-0 1.6h.1m.3-1.5h.1m.9-.8h.1m1 1.1h.1m0-4.4h.1m.1 2.2h.1m.2-.7h.1m.6 2.8h.1m.4-.4h.1m.5-2.1h.1m3.6 2.7h.1m.1-3.2h.1m3 4.2h.1m.4-5h.1m1.2 1.6h.1m1.2 1.3h.1m1.4-3h.1m1.9 3h.1m2.1 .9h.1m2.5-2.7h.1m5.7 0h.1m0 .6h.1m.7 3.4h.1m0-2.5h.1m.4-3.2h.1m2.9 3.4h.1m1.6 2.2h.1m0-2.8h.1m-48.4 8.4h.1m1.8-2.7h.1m2 2.3h.1m1.7-2.5h.1m3.7-2.2h.1m.3 .2h.1m-.1 1.5h.1m.1-.9h.1m1 2.8h.1m1.9 2h.1m2.6-.8h.1m1.1-.1h.1m2.6-2.6h.1m.7-2.1h.1m2.8 3.7h.1m-0-1.9h.1m2.1-1.1h.1m.4 3.2h.1m0-3.5h.1m1.3 4.9h.1m1.3-4.8h.1m.1 3.9h.1m.4-1.8h.1m.2-2h.1m.2 4.6h.1m-0-1.5h.1m.3-1.7h.1m1.3-.2h.1m-.1-1.6h.1m.3 5.5h.1m1-1.8h.1m2.3-2h.1m.4-1h.1m0 2.1h.1m2.4-2h.1m1.2 2.4h.1m.9-3.6h.1m1.3 0h.1m.5 5.5h.1m.1-2.6h.1m1.9-.4h.1m-47.4 3.8h.1m3.9 4.3h.1m.6-2.3h.1m.6 .3h.1m.2-1.5h.1m.3 2.8h.1m1.8-.5h.1m2.1 2.1h.1m.7-4h.1m.6 3.9h.1m.3-4.9h.1m.2 5.2h.1m.9-1.2h.1m.2-1.9h.1m.8-1.3h.1m.5 4.3h.1m0-2h.1m1.4-1.3h.1m.5-.5h.1m.1 3.4h.1m1.8-1.2h.1m.5 .5h.1m2.1-.9h.1m1 .1h.1m3.5-2.9h.1m2.2 .1h.1m1.7 3.4h.1m-0 .9h.1m4.7-.7h.1m.5-.1h.1m1.1-3.5h.1m1.8 2h.1m-29.7 7h.1m-0-1h.1m-.1 .4h.1m0-3.3h.1m1.7 5.3h.1m1-3.2h.1m.5 2.5h.1m.6-1.8h.1m.2 1.5h.1m1.5-4.3h.1m7.6 5.9h.1m-0-1.5h.1m-.1-2h.1m3.7 .9h.1m.9 1.9h.1m.3-4.2h.1m.4 .5h.1m1.5-.9h.1m-12 7.8h.1m1-1.4h.1" stroke="#4a4aa6" stroke-width="0.85" stroke-linecap="round" fill="none"/>
<path d="M352.8 488.5h.1m1.3-.8h.1m2.8-.8h.1m1.8-3.1h.1m1.9 .4h.1m.2-.4h.1m-0 2.4h.1m1.8-.2h.1m1 .1h.1m3.7 .5h.1m1.6-2.3h.1m.6 .1h.1m4.3 .5h.1m.4 2h.1m.3 0h.1m1.2 .4h.1m.6-1.4h.1m.2 .1h.1m1 .8h.1m.7-1.2h.1m1.2 1.8h.1m1.2-.8h.1m.1-1h.1m0 3h.1m1.9-1.3h.1m.8 .9h.1m2.6 0h.1m.1-1.4h.1m.5 1.2h.1m.9-.4h.1m2 .8h.1m-42.9 3h.1m2.6-2.4h.1m.6 .5h.1m.9 4.4h.1m3.7 .2h.1m.7-3.4h.1m.8-1.2h.1m.4 2.5h.1m1.8 .8h.1m0-2.4h.1m.3-.5h.1m1 .5h.1m2.2 4.3h.1m1-4.7h.1m.3-.9h.1m1 2.6h.1m.8 2.3h.1m.4-1.4h.1m.7-3.2h.1m.7 4.8h.1m.2-.5h.1m.1 1.1h.1m.3-2.8h.1m1.1-1.8h.1m2.1 0h.1m.4 3.4h.1m.6-3.8h.1m0 1.2h.1m2.6 3.8h.1m1.6-3.5h.1m0 2h.1m-.1-1.4h.1m.8 2.9h.1m1.3-5.6h.1m1.4 5.3h.1m-.1-3.1h.1m1.2-1.3h.1m1.5 2.7h.1m1.5-1.2h.1m.6 2.6h.1m.2-1.7h.1m-.1 2.1h.1m.6 .4h.1m3.8-3.2h.1m.6-2.3h.1m.8 1.4h.1m1.7 .8h.1m1.8 .2h.1m1.5 2.5h.1m2.5-1h.1m-54.8 3.1h.1m4 2.1h.1m3-1.2h.1m1.2 1.1h.1m-0-.2h.1m1.4-2.7h.1m.1 5.2h.1m1.3-1.3h.1m.4-2.9h.1m1.3-.3h.1m1.6 1.8h.1m.1 .4h.1m.5-2.5h.1m.2 1.9h.1m1.2-.3h.1m.2-1.3h.1m2.1 2.1h.1m3-1.9h.1m.7-.9h.1m.3 .8h.1m.9 3.1h.1m1.8-3.7h.1m1.6 5h.1m3.2-2.6h.1m-.1 2h.1m5.4-2.4h.1m1.4-1.5h.1m3.5-1.1h.1m.5 .3h.1m1.5 1h.1m1.8 3h.1m1-1.6h.1m1.2-.2h.1m2.8-.7h.1m1.8 1.3h.1m.9-.2h.1m-51.4 5.1h.1m.6-1h.1m.3 1.1h.1m6.5 2.5h.1m.2-.7h.1m1.2-.3h.1m2.2 1.6h.1m1-.9h.1m-.1-1.5h.1m1.9-2.5h.1m.7 .2h.1m3.8 .7h.1m.8 .1h.1m-.1 .6h.1m2.9 2.6h.1m2.2-4.1h.1m.5 1.7h.1m3.1 3h.1m1-5.2h.1m.8 1h.1m.8-.2h.1m.9 1.7h.1m1-2.4h.1m.1 1.2h.1m3-1.2h.1m.8 5.2h.1m.1-5h.1m1 3.1h.1m.7-3.5h.1m.4 5.6h.1m.3-3.9h.1m2.5-1h.1m.7 .6h.1m.3 2.5h.1m.6-.5h.1m.6 2h.1m2.1-5.3h.1m2.3 1h.1m-47.8 6.6h.1m3.2 0h.1m2.1 .8h.1m.8-1.6h.1m2 .5h.1m2.4 1.6h.1m2.9-1.5h.1m1.4 .1h.1m.4 3.8h.1m4.2-4.2h.1m.1 .3h.1m0 0h.1m1.1 .9h.1m.7-1h.1m2.2-1.2h.1m0 4.8h.1m.6 0h.1m.6-3.9h.1m3.3 4h.1m-.1-1.8h.1m1 .7h.1m.3-.8h.1m1 2.7h.1m.7-1.1h.1m.8-4.5h.1m.7 3.7h.1m.1-.2h.1m-29.9 3.5h.1m.8-1h.1m1.5-.1h.1m3.1 1.6h.1m.8-.2h.1m.7 2.9h.1m.1-1.3h.1m.6 2.4h.1m1.3-5.2h.1m.3 5.7h.1m1.1-5.9h.1m.6 1.1h.1m.9 2.9h.1m-.1-3.3h.1m.7 .6h.1m.3 3.6h.1m1.5 .9h.1m.5-4.8h.1m.4-.6h.1m1.6 2.4h.1m.8 1h.1m4.6-2.1h.1m-12.1 4.8h.1m3.5-.4h.1m.5 2.1h.1m-.1-1.8h.1" stroke="#3f44a2" stroke-width="0.85" stroke-linecap="round" fill="none"/>
<path d="M384.6 482.1h.1m2.9-.3h.1m-34.9 6.5h.1m.7-1.1h.1m-.1-.3h.1m.3 1.6h.1m.2-5.2h.1m1.2 2.6h.1m.7 1.2h.1m4.6-2h.1m2.3-1.8h.1m.4 4.1h.1m1.9 .8h.1m1.3 .5h.1m1.6-1.1h.1m1.4-3.9h.1m1-.2h.1m1.9 3.8h.1m1.2-2.6h.1m.4 3.2h.1m.4 .6h.1m.3-.6h.1m1-.6h.1m1.7-.8h.1m2.9 .8h.1m2.1 0h.1m.2-.3h.1m1.6 1.4h.1m.4 .4h.1m.9-4.3h.1m1.3 3.6h.1m2.9 .1h.1m1.7-2.1h.1m10.9-.2h.1m-55.4 7h.1m.3-2.6h.1m.2-1.1h.1m2.7 1.9h.1m.3-.6h.1m.2 1.5h.1m2.5 1.3h.1m1.7-3.2h.1m0 2.2h.1m.1-.5h.1m1.5 2.8h.1m-.1-2.6h.1m0-2.8h.1m.2 2.1h.1m1.3 3.2h.1m2.2-2.9h.1m1.3-.4h.1m.6 2.5h.1m1.4-2.8h.1m.7 .1h.1m2.2-1.6h.1m.4-.4h.1m.5 .6h.1m2.1 1.7h.1m1.2-2.3h.1m-.1 1.8h.1m.2 .7h.1m-0-2.2h.1m-.1 5.6h.1m0-4.3h.1m1.4 2.4h.1m.2 .5h.1m3.6-2h.1m-0-2.4h.1m.1 3.3h.1m.4 .9h.1m.6 1.7h.1m.9-6h.1m1.8 .4h.1m0 1.7h.1m.3 2h.1m1.9 0h.1m1.3-3.5h.1m3.6 2.3h.1m-.1-2.7h.1m.7 4.8h.1m1.6-3.8h.1m.7 3.8h.1m.7-2.2h.1m1.4 .7h.1m0 1.5h.1m3.2-.8h.1m1.2 .7h.1m.1-4.4h.1m-52.2 6.1h.1m1.2 2.2h.1m1.8 2.4h.1m2.8-3.4h.1m2.6-1.3h.1m1 4.4h.1m.5 0h.1m.6-2.8h.1m-.1-.3h.1m1.5 0h.1m.3-.1h.1m.6-1.6h.1m.5 4.9h.1m0-.2h.1m1 .4h.1m.2-.8h.1m1.7-3h.1m.9 2.8h.1m1.8-.6h.1m.2-.8h.1m.3 .4h.1m.9 1.4h.1m.8-1.6h.1m.2 1.2h.1m.1 1.1h.1m1.4-2.2h.1m.7-2.6h.1m.6 .1h.1m-.1 4.1h.1m1.6-2.3h.1m.3 1h.1m.1-2.4h.1m.8 2.7h.1m-.1-2.9h.1m.4 .2h.1m.7 3.1h.1m1.7-.6h.1m1 2.3h.1m.4-1h.1m.3 0h.1m.1-3.9h.1m2.3 .1h.1m3.5 4.3h.1m0-5.2h.1m.7 0h.1m1.8 .2h.1m8 0h.1m1.1 5h.1m2.7-.1h.1m-56.2 1.3h.1m1.2 1.1h.1m3.1 .8h.1m.4 .1h.1m.4 3.5h.1m2.9-4.3h.1m.2 1.1h.1m-.1-2.7h.1m.3 5.5h.1m.5 .4h.1m-0-1.8h.1m0 1h.1m.5-4.8h.1m.5 .8h.1m0-.9h.1m.9 2.8h.1m5.2-.3h.1m-.1 2h.1m1.1-2.9h.1m.1-1.9h.1m1 5h.1m5.7-3.1h.1m1.1 2.6h.1m.3-3.9h.1m1.4 3.7h.1m4-1.8h.1m.2-1.4h.1m.6 3h.1m0-1.9h.1m.3 2.1h.1m.9 .2h.1m.8-1.8h.1m-0 2.3h.1m4.9-1.9h.1m.8-.8h.1m-.1 .5h.1m.3 2.7h.1m2.2-3.6h.1m1.8 1.3h.1m1.6-.1h.1m.5 .4h.1m.1 .9h.1m3.2 1.5h.1m.6-4.6h.1m.1 4.7h.1m.9-.3h.1m-53.6 3.7h.1m4.9-3.2h.1m2.3 3h.1m0-1.5h.1m1.9-1.6h.1m.7 1.2h.1m1 1.1h.1m.8 .3h.1m2.5 .7h.1m1.3 .4h.1m2.7-2.4h.1m1 3.9h.1m1.5-1.8h.1m.9-2.4h.1m.4 1.4h.1m7.3-.1h.1m.5 1.8h.1m.1 .4h.1m3.3-.2h.1m.9-1.1h.1m0-1.7h.1m1.3 .1h.1m.2-.7h.1m.6 3.8h.1m.2-2.6h.1m.6-.7h.1m.5 2.2h.1m1.3-.7h.1m1.2-1.2h.1m1.6-.6h.1m.2 .1h.1m4.3-.2h.1m6.2 .1h.1m6.4 4.2h.1m-78.7 4.5h.1m10.5-1h.1m.1-.1h.1m16.8-1.8h.1m2.5-.5h.1m-.1 5h.1m3.3-1.6h.1m1.6-2.2h.1m.7 3.8h.1m.7-2.6h.1m1.1 2.9h.1m.8-1.1h.1m.3 .2h.1m1.1-.9h.1m1.2 1.4h.1m0-2.4h.1m.1-1.7h.1m0 3.4h.1m.1 .2h.1m.2-1.5h.1m1.8 .3h.1m.9-3.2h.1m1.2 4.5h.1m.3-4.9h.1m.5 .8h.1m1.7 1.3h.1m1-2h.1m.8 5.5h.1m7.4-2.9h.1m2.9-.7h.1m16.8-1.1h.1m-44.9 5.2h.1m2.5 2h.1m.9-.4h.1m1.8-.4h.1m.9 1h.1m2.3 .2h.1m1.8-2.5h.1m43 1.8h.1m-83 5.1h.1m3.8 3.6h.1m14 6.5h.1m40.7-2h.1m-55.9 6.9h.1m13.2-4h.1m29.7 4.3h.1m31-3.2h.1m5.7 1.3h.1m-88.7 4.3h.1m3.3 .3h.1m46.6 .9h.1m17.3 3.8h.1m1.1-4.2h.1m-41.9 7.5h.1m8.1-1.4h.1m-27.6 5.2h.1m21.5 1.3h.1m11.3-1.4h.1m.9 6.9h.1m8 5.3h.1m-54.1 7.3h.1m8.8 2.4h.1m28.8 1.2h.1m33 .1h.1m-67.5 1.7h.1m0 3.5h.1m37.8 .1h.1m.3-3.6h.1m27.1 3.2h.1m-47.6 6.4h.1m30.9-5.2h.1m28.5 2.7h.1m10.4 3.2h.1m-61.4 .7h.1m28.8-.1h.1" stroke="#4b4cab" stroke-width="0.85" stroke-linecap="round" fill="none"/>
<path d="M349 481.9h.1m5.7-1.4h.1m.9-.4h.1m22.3 1.2h.1m7.9 .7h.1m8.1 .3h.1m.5 .2h.1m-38.2 2.9h.1m.1-.7h.1m1.4 2.4h.1m2.8 .6h.1m-.1-.4h.1m1.5-1.4h.1m.9-2.5h.1m2.3-.2h.1m5.8 .9h.1m1.7 1.7h.1m0-1.3h.1m4.4 2.7h.1m.3 .1h.1m5.5 1.1h.1m.3-2h.1m1.1 1h.1m3.1-.3h.1m.2 1.1h.1m-40.9 1h.1m.5 3.6h.1m2-2.3h.1m-0 1.4h.1m.3 .3h.1m.5-1.8h.1m2.2-.3h.1m3.1 2.7h.1m2.5 1.2h.1m0-.9h.1m.1-2.4h.1m.2-1.5h.1m3.6 2.4h.1m1.8-.6h.1m0 3.7h.1m.2-1.3h.1m1 .8h.1m.2-1.8h.1m0-.8h.1m-0-1.7h.1m1.9-.3h.1m1.3 3.6h.1m1.2-3.8h.1m5.4 3.3h.1m1.8-1.5h.1m-.1 2.7h.1m.3-2.5h.1m3.3 2.6h.1m.8-2.6h.1m-.1 .3h.1m1.7 1.3h.1m.5 1.8h.1m2.3-1.3h.1m2.5 .7h.1m0-.8h.1m1.4-2.9h.1m.2 3.5h.1m1.2-2h.1m.5-.9h.1m3.2 3.8h.1m0-2.8h.1m-49.3 3.6h.1m.6 4.9h.1m1.8-4.3h.1m.8 2.7h.1m.5-1.8h.1m1.7 1.4h.1m.6-.7h.1m.7-2h.1m1 .6h.1m0 .7h.1m.3 1.6h.1m.1-2.7h.1m.4 4.5h.1m3.3-2h.1m.1-1.3h.1m2.1 .6h.1m0-.2h.1m.3 1.8h.1m.4 .3h.1m.2 .3h.1m-.1 .4h.1m.4 .1h.1m1.1-2.7h.1m.7 .8h.1m.7 2h.1m.1-4.3h.1m3.8 .7h.1m.9 2.2h.1m.7-2.1h.1m.4 2.2h.1m.8-2.1h.1m2.5-.4h.1m1.5 2.4h.1m2.6-.1h.1m3.1-3.9h.1m-.1 .6h.1m.2 1.8h.1m.8-.8h.1m.1-1.8h.1m4.3 1.7h.1m.5-.5h.1m.8 2.9h.1m.3-3.5h.1m-.1 4.9h.1m.3-1h.1m.1-1.7h.1m0-1.8h.1m1.1 1.4h.1m.1-.2h.1m.2 3.5h.1m1.1 .1h.1m-.1-3.3h.1m3-.7h.1m.4 2.7h.1m.3-4.4h.1m.2 1h.1m-51.9 5.8h.1m3 .9h.1m1-1.5h.1m.5 4.2h.1m.4-.4h.1m1.5 .2h.1m1.8 .6h.1m1.2-2.4h.1m-0 .8h.1m-.1 1.8h.1m1 .7h.1m.7-2.3h.1m.2 2.1h.1m.1-4.1h.1m1.4 1h.1m3.7 2h.1m.1-1.8h.1m-.1 2.4h.1m-.1-.4h.1m3.4-3h.1m-0-1h.1m1.4-.7h.1m.7 5.5h.1m-.1-1.9h.1m1.3-1.1h.1m2.3-.3h.1m1.9 3.5h.1m.2-1.9h.1m.3-1h.1m2.4 .1h.1m0-.2h.1m.1-1.2h.1m1.6 3.7h.1m1.5-.3h.1m.1-1.4h.1m.5-2.5h.1m.1 4h.1m.2-4.8h.1m1.8 1.5h.1m.5 3.7h.1m2.1 .2h.1m.8 0h.1m2.8-3.4h.1m.7 1.6h.1m.2-2.5h.1m2.5-.7h.1m1.9 1.1h.1m-50.6 5.7h.1m3.2-.9h.1m.7-.3h.1m.9 .5h.1m1 3h.1m.5 1.1h.1m-0-1.7h.1m.6 .5h.1m2.8-1.7h.1m1.4 .9h.1m.1 2.4h.1m.2-5.1h.1m.5 3.3h.1m.4 2.4h.1m2.7-5.5h.1m2.4 3.4h.1m.3 .9h.1m.8-4h.1m-.1 4.8h.1m1.1-2.7h.1m-.1-1.7h.1m0 1.7h.1m.7-1.2h.1m6.7-1.1h.1m1.3-.4h.1m1.8 1.9h.1m.8-1.6h.1m.2 4.3h.1m1.1 .8h.1m.5 .2h.1m.1-3.6h.1m.2 2.3h.1m5.4-3.3h.1m3.9-.4h.1m4.2-.3h.1m-41.9 8.3h.1m4.4-.3h.1m1.8-2.1h.1m.5 4.7h.1m2.2-5h.1m1.8 3h.1m.3-1.7h.1m.3 .6h.1m.2 1.6h.1m2.3 1.7h.1m2.8-1.9h.1m-.1-.5h.1m-.1 .2h.1m.6-2.7h.1m.8 2.9h.1m.2-.5h.1m.1 3h.1m.5-5.6h.1m2.8 3.3h.1m.8-2.2h.1m.7-1.1h.1m2.1 4.3h.1m-40.7 1.9h.1m10.4 2.4h.1m-.1 .7h.1m5.3 .5h.1m4.9-3.6h.1m.5-.1h.1m2.9 4.5h.1m1.4-2.9h.1m13.1 1.6h.1m1.2 .1h.1m2.2 .8h.1m5.5 .5h.1m12.4-2.8h.1" stroke="#5a58b4" stroke-width="0.85" stroke-linecap="round" fill="none"/>
<path d="M440.5 486.9h.1m2.2-.4h.1m4.2 1.1h.1m-16.9 4.4h.1m.9 .5h.1m.2-3h.1m3.3 5.5h.1m.3-1.3h.1m2.3-3.5h.1m3.7 3.1h.1m.1-2.3h.1m-0-1.2h.1m.8 2.7h.1m1.4-2.2h.1m-.1 1.3h.1m.1 1.8h.1m0-2.8h.1m2.2 3.4h.1m1.9-2.7h.1m1.3 1.9h.1m1.3 .9h.1m0-.1h.1m1.1 .6h.1m.1-2.9h.1m.4 1.4h.1m0 1.1h.1m-46 5.6h.1m1.4 1.1h.1m.8-.5h.1m-0-4.3h.1m1 3.7h.1m3.5-.8h.1m.7 1.1h.1m4.3-3.5h.1m.5 3.4h.1m9.4 0h.1m.6-3h.1m.3 2.6h.1m1.4-3.5h.1m2.6-.6h.1m1.6 4.3h.1m0-4.6h.1m0 .8h.1m2 1.5h.1m0 .4h.1m4.1 .8h.1m1.8 .5h.1m.3-1.9h.1m2.7 3.2h.1m-.1-.7h.1m.2-4h.1m2.9 1.6h.1m.1-.5h.1m.3-1.6h.1m2 .7h.1m1.2 .8h.1m.2-1.2h.1m.1 .5h.1m1.5-.7h.1m1.9 1.8h.1m.2 2.9h.1m-77.1 6.4h.1m9.4-.9h.1m11.6-4.4h.1m0 4.5h.1m8.6-.4h.1m.4-1.9h.1m.6-1h.1m4.4 4.5h.1m1.1-1.4h.1m.2-2.8h.1m2.1 3.2h.1m.8-3.2h.1m4.4 2.4h.1m.7-3.8h.1m0 4.1h.1m.4-4.1h.1m2.2 2.3h.1m4.6 .5h.1m3.1-2.8h.1m1.5 4.5h.1m1.4-2.9h.1m1 3.2h.1m1.3 .9h.1m-0-3.9h.1m.9 3.4h.1m.3-4.1h.1m.3-.8h.1m-.1 .1h.1m4.6 .8h.1m.8-.6h.1m1.7 .5h.1m.4 .1h.1m.5 .1h.1m.8 4h.1m1.6 .2h.1m1.6-3.2h.1m2.3-1.3h.1m.5 2.8h.1m.1 1.6h.1m.7-.2h.1m.2-3.5h.1m2.4-.1h.1m.1 .2h.1m2.2 3.7h.1m-115.8 5.4h.1m6.7-4.7h.1m5.9 1.4h.1m33.1-1.1h.1m9.4 2.9h.1m2.7-1.4h.1m1.9 3.5h.1m.3-.8h.1m.6-2.5h.1m1.5 2.9h.1m3.1-1.8h.1m.8-1.8h.1m.9 3.6h.1m1.6-2.3h.1m1.9-.2h.1m2.7-1.5h.1m0 .8h.1m3.6-1.2h.1m-.1 2.1h.1m1.3 .2h.1m1.6 .6h.1m-.1 .5h.1m1.2-4.2h.1m1.3 3.6h.1m1-3.5h.1m.4 1.2h.1m0 .5h.1m.1 1.2h.1m1.4 2.6h.1m.6-4.7h.1m.7 2.4h.1m.8-3.3h.1m.2 3.4h.1m-.1-3h.1m4.3 1.2h.1m1 2.3h.1m1-1.9h.1m.8-1.4h.1m-.1 1.2h.1m1.1 1.9h.1m.6-1.1h.1m.1 1.5h.1m.5 .5h.1m1.3-3.9h.1m2.3 2.4h.1m2.7-.4h.1m1.4-1h.1m.5-1.8h.1m.6 .7h.1m3.6 1.5h.1m0 .7h.1m.6-.1h.1m.2 1.6h.1m1.2-3.5h.1m.1 .4h.1m.5 1h.1m2 3.2h.1m2.4-1.8h.1m.9-1.1h.1m.6 2.7h.1m-103.5 .7h.1m36.6 3.6h.1m1-1.7h.1m1.6 3.6h.1m2.7-4h.1m7.5 0h.1m-.1 2.1h.1m4.3-.3h.1m.9-2.2h.1m5.5 .9h.1m.2-1.5h.1m.9 1.7h.1m2.4-.7h.1m0 1.5h.1m.1-.9h.1m2.1-1.3h.1m.8 1h.1m1.7 1h.1m0-2.2h.1m-0 3.8h.1m3.4-1.3h.1m.6 1.6h.1m.6-3.4h.1m1.1 2.9h.1m.4-1.1h.1m1.7-.6h.1m2.2-1.7h.1m.3 2.9h.1m3.1 0h.1m1.1-1.8h.1m1.6 3.2h.1m2.1-3.6h.1m1.6-1.5h.1m.3 5.7h.1m-.1-.5h.1m1.1-4.1h.1m3.3 .8h.1m2.8 3.5h.1m2.1-2.9h.1m.4-1.7h.1m.9 5.1h.1m.9-.1h.1m.8-3.2h.1m.2-2.2h.1m.6 3.6h.1m.9 .2h.1m-131.5 5h.1m26.3-2.7h.1m12.9 2.5h.1m1.1 1h.1m16.2 1.6h.1m1.1-1.1h.1m-.1-1.4h.1m.1 1.4h.1m1.7-1.4h.1m2.8 1.2h.1m.6-.5h.1m8.1 1.9h.1m.2-3.5h.1m3.2 .2h.1m1.7-2.4h.1m1.2 .2h.1m14 1.3h.1m2.3 3.2h.1m3.7-2.1h.1m.4 .5h.1m-.1-.5h.1m1.5-1.3h.1m.7-.2h.1m4.6 1.5h.1m1.1 2.8h.1m4.9-2.8h.1m1 2.6h.1m.6-3.6h.1m-.1 .5h.1m.6-1.4h.1m5.2 2.8h.1m3-1.6h.1m1.6 .8h.1m2.8-1h.1m2.3 .1h.1m-148 8.3h.1m29.9 1.2h.1m7.4-.5h.1m23.4 1.1h.1m1.8-.1h.1m1.3 .1h.1m1.8-1.6h.1m4.2 .8h.1m12.1-2.9h.1m1.2 0h.1m-0 3.7h.1m1.2-2.2h.1m2.7-.5h.1m.9-3h.1m5.4 2.2h.1m1.4 2h.1m1.2-1h.1m.6 0h.1m21.1-3.5h.1m.4 3.1h.1m.4-2.1h.1m1.9 1.2h.1m1.1-1.1h.1m7.1 1.6h.1m-123.8 6.1h.1m8.8-2.2h.1m45.9 3.4h.1m1.5 .5h.1m0-3.4h.1m.3 2.3h.1m0-1.1h.1m2.2 1.5h.1m.5-.7h.1m1.9-2.3h.1m.4 3.9h.1m.4-2h.1m.3 1h.1m-0 1.2h.1m.8-4.2h.1m.7 .1h.1m.4 1.9h.1m1.8 1.7h.1m.3-1.5h.1m0-.7h.1m.6-.5h.1m.2 .5h.1m-.1 1h.1m.8 2h.1m2.6 .1h.1m.6-1.5h.1m1-1.3h.1m.9-.8h.1m2 2h.1m4.4-.1h.1m8.4-3.4h.1m.4 .4h.1m-99.1 10.7h.1m1.2-4.6h.1m3.5 2.7h.1m33-2.6h.1m.9 4.5h.1m.7-3.9h.1m10.2 1.8h.1m.3-2.2h.1m.8 4.1h.1m12.6-3h.1m.4 3.3h.1m.1-2h.1m.5 1.4h.1m-.1-.1h.1m.5-2.1h.1m.2-1.6h.1m-0 .8h.1m3 3.1h.1m1 .6h.1m3.8-2.9h.1m.3 1.5h.1m2.4 .2h.1m6.5 .6h.1m4-3.1h.1m1.2-.5h.1m1.5 4.1h.1m2.1-.3h.1m2-4.3h.1m2 3.4h.1m1.1 .7h.1m1.1-1.3h.1m-99.2 3.6h.1m.6 4.3h.1m22.8-.7h.1m33.6 .7h.1m6.2 0h.1m6-3.8h.1m3.7-.5h.1m1.2-.5h.1m.8 .3h.1m13.9-.8h.1m3.2 1h.1m.5 1h.1m-0 .4h.1m-71.1 5.2h.1m34-1.6h.1m.5 5.1h.1m.5-.7h.1m.8-.1h.1m.3-.6h.1m.3-.2h.1m4.1-2.6h.1m.8 1h.1m.1 2.8h.1m7.5-3.7h.1m1.1 .8h.1m11.5 2.1h.1m-87.1 4.5h.1m6.8 .2h.1m6-.9h.1m30.8 2.2h.1m7.8 1.8h.1m.8-1.1h.1m3.4-.1h.1m.9-4.6h.1m.1 1.2h.1m2.6 2.9h.1m.7-1.6h.1m.1-.5h.1m1.2-.1h.1m.2 2.9h.1m-0-4.6h.1m1.4 2h.1m1.1 2h.1m.5 .8h.1m.6-4.1h.1m1.2 2h.1m.6 2.1h.1m9.3-4.4h.1m-.1 4.4h.1m7.5-4h.1m1.9 1.5h.1m-80.6 5.6h.1m1.5 2.1h.1m12 1.4h.1m8.3-2h.1m2-.4h.1m.6 .2h.1m19 2.2h.1m4.7-1.4h.1m2.4-1h.1m1-1.1h.1m1 2.4h.1m0-.5h.1m.2-3h.1m1.7 2.4h.1m.4 1.9h.1m2.2-4.6h.1m22.2 4.9h.1m8.2-2.5h.1m.6 1.3h.1m5.3 .3h.1m-0-1.8h.1m4.2 .8h.1m1.6-.5h.1m2.2 1.7h.1m-92.1 3h.1m6.3 1.1h.1m4.9 1.5h.1m1.3-2.8h.1m.9 1h.1m-0-2.6h.1m1.7 4.1h.1m1-2.3h.1m.2-1.3h.1m-0 2.3h.1m.4 1.8h.1m1 .2h.1m.2-3.7h.1m-0 1.8h.1m9.5-1.1h.1m4.6 3.4h.1m7.4-5.3h.1m1.7 4.5h.1m2.4-3.8h.1m.2 4.1h.1m1.8 .9h.1m2.4-2.9h.1m11.5 1.8h.1m3.6-4.5h.1m8.7 .8h.1m.7 4h.1m3.3-2.8h.1m-0-1.9h.1m1 3h.1m3-.3h.1m1.9 2.6h.1m.1-5.4h.1m1 1.1h.1m1.6 .3h.1m3.2-.9h.1m.6 .7h.1m4.7 1.7h.1m1.1-.7h.1m-0-1.4h.1m.3 3.3h.1m1.6 1.3h.1m-0-.4h.1m-85.5 3.5h.1m2.8 .2h.1m.5-1.4h.1m24.2 1.7h.1m1.6 .1h.1m0 .3h.1m.6-1.9h.1m1.6-1.7h.1m2 3.8h.1m3-.7h.1m3.9-1.2h.1m19.2 1.4h.1m.1 .8h.1m1.3-.9h.1m.2-2.2h.1m2.8-.7h.1m3.4 1h.1m2.5 3.9h.1m.5-3.9h.1m-.1 2h.1m.1 1.8h.1m.5-1.4h.1m.2-1.5h.1m4.3 1.4h.1m3.5-1.7h.1m-0 1.5h.1m1.4-2.6h.1m.9 1.1h.1m.2-1.6h.1m.7 1.5h.1m.7 3.2h.1m-86.6 3.3h.1m3-.7h.1m3.5 3.4h.1m2.9-1.3h.1m60.9-2.4h.1m6.5-.2h.1m5.1 .7h.1m1.4 2.2h.1m.4 .1h.1m-117 2.5h.1m17.5 1h.1m3.1 1.5h.1m9.6 1.4h.1m4-4.4h.1m1.4 5.8h.1m31.4-1.6h.1m1.4-.2h.1m-66.1 4.5h.1m36.1-.9h.1m6.3-1.4h.1m12.2 .5h.1m-38.7 5.3h.1m30.5 1.1h.1" stroke="#2b3a8f" stroke-width="0.85" stroke-linecap="round" fill="none"/>
<path d="M440.3 488.2h.1m3.9-1.3h.1m-15.1 7.5h.1m3-3.5h.1m0 1.3h.1m2.2 1.4h.1m2-3h.1m0 2.7h.1m2-2.8h.1m3 1.5h.1m-.1 1.5h.1m0 .6h.1m.7 .9h.1m1.6-4.2h.1m2.3-.4h.1m.3 .4h.1m7.1 1.4h.1m-40.7 7.3h.1m1.9 .6h.1m3.7 .1h.1m4.8 .7h.1m3.5-4h.1m1.2 1.2h.1m.3-1h.1m.2-1h.1m1 3.6h.1m5.5-3h.1m.4 3.5h.1m.2 .4h.1m.9-.1h.1m-.1-4.1h.1m1.6 3.8h.1m.9-4.3h.1m3.7 3.4h.1m1.1 .6h.1m.8-.4h.1m.1 .7h.1m1.7-5h.1m-0 1.3h.1m3 1.4h.1m2-.5h.1m2.7 2.8h.1m.2-.4h.1m1.7 .6h.1m.3-.7h.1m.1 1.1h.1m-54.2 3.2h.1m.2 .8h.1m1.8-3.6h.1m5.1 2.7h.1m2.3 1.2h.1m-.1 1h.1m3.8-1.4h.1m5.6-3.5h.1m1.4 4.4h.1m0-1.3h.1m1.1-2.9h.1m.7 .2h.1m.4 2.5h.1m.1-2.3h.1m.8-.6h.1m.9 4.9h.1m.7-3h.1m.8 1.5h.1m.3-.3h.1m.6 .8h.1m1.4-3.3h.1m-.1 3.1h.1m-.1-2.9h.1m.9-.8h.1m1.1 4.2h.1m.5-3.2h.1m0 4h.1m3.3-1.8h.1m1.7 .2h.1m.5 0h.1m1-1.9h.1m.3-.2h.1m.7-1.2h.1m4.5 5.6h.1m3.9-2.8h.1m-0 1.5h.1m1.3-2.4h.1m-0-1.3h.1m0 3.3h.1m1.1 .9h.1m.1-1.5h.1m.7-.5h.1m.1 .9h.1m.5-1.6h.1m1.1 .7h.1m.1-1.2h.1m2.3 .1h.1m.1 3.5h.1m.6 .4h.1m.4-4.7h.1m.6-.4h.1m.3 5h.1m4.9-1.2h.1m-67.2 7.1h.1m.2-5h.1m0 .9h.1m1.3 3.9h.1m3.8 .2h.1m5.3-.1h.1m2.6-3.4h.1m3.8 1.9h.1m2.8-2.5h.1m6.2 2.9h.1m.5-.5h.1m.6 1.2h.1m.3-4.4h.1m1 1.7h.1m.2-1.7h.1m.2 2.2h.1m.1 2.9h.1m.4-1.9h.1m3.7-2h.1m1.5-1.9h.1m.1 4.2h.1m.6-3h.1m2.5 2.6h.1m1.1-2.1h.1m.8 1h.1m.1 1.5h.1m1.4-2.8h.1m.8 3.1h.1m2.5 .2h.1m2.9-2.5h.1m0 3.6h.1m2.6-4.8h.1m1.5 3.2h.1m.2-2h.1m.2 1.2h.1m1-3.2h.1m1.6 3.3h.1m.8-.1h.1m.6-2.6h.1m1.9 .6h.1m-0 3.5h.1m.4 .1h.1m.3-3.2h.1m.4-.6h.1m.3 4.5h.1m3.2-3.9h.1m4 2.7h.1m.1-2.1h.1m-65.8 3.7h.1m1.2 3.9h.1m1.7 1.4h.1m0 .2h.1m.9-1.4h.1m1.8-.3h.1m.4 1h.1m4.5-1.1h.1m.3-1.3h.1m1.9 2.9h.1m3-4.2h.1m8.6 .3h.1m.9 1.4h.1m1.3-2.4h.1m.2 4.7h.1m.4-.2h.1m.6-4.2h.1m2.2 1.1h.1m.8 3.4h.1m.1-5.1h.1m3.2 .5h.1m2 .1h.1m.6 3.1h.1m2.2-2.2h.1m1.7-1.2h.1m.1 4.7h.1m4.3-2.1h.1m.1 0h.1m-0-.3h.1m0 .9h.1m.6 1.4h.1m3 .4h.1m.5-1.3h.1m1.4-1.1h.1m1.2-2.7h.1m2.1 .1h.1m1.2 4.8h.1m1.2-3.2h.1m0 3.5h.1m1.7-.8h.1m1.6-3.5h.1m.5 3.1h.1m.8-2.9h.1m.5-.8h.1m1.8 2.9h.1m1 .9h.1m1.8 .9h.1m-63.8 3.7h.1m6.8 1.6h.1m3.1-4.7h.1m12.9 .6h.1m1.6 1h.1m1.5 1.1h.1m1-2.6h.1m2.3 2.4h.1m.5-1.6h.1m3.4-.9h.1m.1 5.6h.1m3.8-4.4h.1m.4 4.2h.1m1.2-1.9h.1m2-2h.1m.3 3.4h.1m3.7-1.5h.1m2-3.2h.1m0 2.2h.1m-0-1.4h.1m.9-.4h.1m0 .7h.1m2.3-1.3h.1m3.2 .9h.1m2.1-.7h.1m.4 1.4h.1m4.3-.9h.1m-84.5 10.6h.1m6.7 .4h.1m1-.6h.1m48.9-4.3h.1m2.8 2h.1m.9-1h.1m.6 .9h.1m.5-.5h.1m-64.1 5.3h.1m1.9 .3h.1m.5 2.1h.1m1.5 1.9h.1m3.6-1.5h.1m0-3.9h.1m.2 .6h.1m3.4 3.2h.1m1.4 .9h.1m.3-3.9h.1m2.5 4.5h.1m.3-1.7h.1m-17.3 5h.1m.9-2.1h.1m.5-.1h.1m.9 4.3h.1m-.1-4.9h.1m.3 5.6h.1m0-5.2h.1m.2 3.7h.1m.4 .7h.1m2.5-2.3h.1m.5 2.8h.1m.3-5.4h.1m.9 1.5h.1m0 2.3h.1m.3-1.7h.1m1 2.3h.1m.9-2.8h.1m.2-1h.1m.2-.2h.1m.3 5.2h.1m3.3-3.5h.1m-12.7 4.1h.1m2-.1h.1m4.4 .9h.1m-15 5.7h.1m1.3 3.4h.1m1.9-3h.1m-2.4 5.9h.1m5.4 4.3h.1m1.1-2h.1m.7-.6h.1m1.6-2.7h.1m-36.3 11.4h.1m2.4 .2h.1m22.8-3.4h.1m-0-1.6h.1m.7 2.4h.1m.6 2.4h.1m2.8-2.5h.1m-0-1h.1m.2 1.5h.1m1.8 .5h.1m.6-2.4h.1m2.4-1.2h.1m26.2 3.4h.1m4 .8h.1m4.1 .1h.1m.9-2.7h.1m.8 3.6h.1m-0-1.7h.1m.4-1.9h.1m3.7 .6h.1m.2 .8h.1m6.1 1.4h.1m-82.6 4.9h.1m.4-.7h.1m1.3 2h.1m.7-3.8h.1m-.1 2.5h.1m.6 .1h.1m0-.8h.1m.5-.2h.1m1.4 1.6h.1m.9-2.7h.1m21.9-1.2h.1m.1 2.1h.1m.8-.1h.1m1.4 2.7h.1m1.9-4.7h.1m2.1-.4h.1m-.1 2.7h.1m25.6 .2h.1m1.6-.5h.1m1.3-.6h.1m2 1.9h.1m-.1-2.2h.1m5-.9h.1m.4 4.6h.1m2.1-1.4h.1m.1 .8h.1m6-3.5h.1m1.9 4h.1m2.1-2h.1m1.5 2.2h.1m3.2-.3h.1m-88.4 2.3h.1m.3 1.2h.1m-0 .4h.1m3.4-1.2h.1m24.1 .6h.1m.5-2h.1m1.2 2.1h.1m-0-1.4h.1m.5 4h.1m0-3.9h.1m31.9 .4h.1m.3-.3h.1m3 1.4h.1m5.7 1.9h.1m.2-3.2h.1m.7-1.5h.1m.8 5.7h.1m.4-5.7h.1m2.3 2.2h.1m1 1.6h.1m1.1 2.2h.1m.7-.4h.1m.7-1.9h.1m3.6-3.6h.1m.6 3.7h.1m1.1-3.6h.1m-0 1.4h.1m.6 4h.1m1.9-5.3h.1m-16.7 6.7h.1m3.2 .2h.1m1 .4h.1m.6-.1h.1m1.1-.1h.1m2.8 2.1h.1m.4-2.4h.1m.9 1.1h.1m.4-1.3h.1m.2 .9h.1m0-.9h.1m.9 1.6h.1m1.1 2.2h.1m1.2-2.6h.1" stroke="#1f2c78" stroke-width="0.85" stroke-linecap="round" fill="none"/>
<path d="M439.2 488.1h.1m.1-.9h.1m.4 0h.1m5.5 .6h.1m0-.5h.1m3.5 .8h.1m-18.3 4.6h.1m.2-1.6h.1m3.3-.9h.1m1.3 1.4h.1m.6 2.3h.1m.6-.4h.1m.2-1.8h.1m.6 2.1h.1m2.5-3.2h.1m.4 4h.1m-0-5.4h.1m.7 2.4h.1m3.8 2.2h.1m.1-4h.1m-0 4.3h.1m1.2-2.9h.1m1.9 1.1h.1m.2 2.5h.1m1.9-5.6h.1m1.6 2.8h.1m1.3 1.7h.1m-48.5 5.1h.1m.3 .7h.1m1 .4h.1m2 0h.1m3.8 .3h.1m9.7 .7h.1m2.4-.6h.1m1.5-2.2h.1m5.4-2.5h.1m6.1-.3h.1m1.6 3.1h.1m2.4 1.5h.1m2.5-.5h.1m1 .6h.1m.1-1.1h.1m.2 .4h.1m7.4 1.3h.1m0-.7h.1m.6-3.8h.1m.3 3.5h.1m1.5-2.1h.1m2.5 .5h.1m-50.1 7.5h.1m3.5-2.2h.1m4.2 2.8h.1m.4-4.2h.1m.2 1.2h.1m8.4-1.3h.1m2.9 4.8h.1m-0-2h.1m0-2.1h.1m2.4-.6h.1m1.1 3.8h.1m.2-3.5h.1m3.2 4h.1m5.5-1.2h.1m6.3 1.3h.1m4.7-2.8h.1m1.6-1.7h.1m-0-.2h.1m.2 5.3h.1m1.9-3.3h.1m.4-.7h.1m4.8 2.3h.1m4.1 1.8h.1m-62.9 5.3h.1m.6-4.8h.1m.1 5.1h.1m.8-1.1h.1m.2 1.4h.1m2.8-5.5h.1m.4 3.4h.1m2.8 .5h.1m2.5-1.3h.1m.8-1.4h.1m5.2 4.1h.1m3.8-2.9h.1m1.3-1.9h.1m.3 3.2h.1m.8-2.4h.1m.9-1.6h.1m2.6 0h.1m.4 5.2h.1m1.1-4.8h.1m.6 2.5h.1m.4 1.2h.1m1-1.5h.1m.6 .2h.1m2.7-2.1h.1m.9 1.5h.1m1.6-1.5h.1m.3 4.1h.1m.9-2.9h.1m3-1.2h.1m2-.6h.1m1.5 5.7h.1m1.1-4.5h.1m1.6 2.1h.1m-0 1.5h.1m1.3-3.1h.1m.1-.3h.1m2.3 2.6h.1m1.6-3.7h.1m1.7 1.4h.1m.2 2.1h.1m.2 .4h.1m-.1-.4h.1m.6 0h.1m.2-.8h.1m-0 1.6h.1m0-3.1h.1m-.1 .5h.1m2.1 2.5h.1m.1-4.6h.1m0 1.7h.1m.8 3h.1m1.2-1.5h.1m0-1.5h.1m.5-1.4h.1m0 .8h.1m1.2 1.6h.1m.9-2.6h.1m.7 3.2h.1m2.1 .3h.1m1.2 .9h.1m.1 1.3h.1m-65.9 2.3h.1m-.1 .7h.1m1.4-1.4h.1m4.1-.7h.1m3.8 1.2h.1m.3-.9h.1m2.2 3.9h.1m.3 .9h.1m1.1-5.6h.1m10.8-.3h.1m.3 .5h.1m1.9 .2h.1m.3 .2h.1m.2-.7h.1m2 0h.1m.2 3h.1m1.9 1.9h.1m3.7 .3h.1m2.2-4.3h.1m1.1 4h.1m1.9-1h.1m1.8-2.9h.1m-.1-.4h.1m.9 3.5h.1m1.4-3.1h.1m.2-.8h.1m1 2h.1m.5-2.1h.1m2 .5h.1m3.4-.7h.1m2.3 5.9h.1m1.5-3.4h.1m2.1-.9h.1m.4-1.1h.1m.1 .9h.1m2.3 1.6h.1m0 1.2h.1m2.4-3.1h.1m1.3 3.8h.1m.2-3h.1m0-.2h.1m.1 3h.1m-62.6 3h.1m1-1.7h.1m2.3 0h.1m1.4 .4h.1m.7-.4h.1m3.3 2.8h.1m19-1.6h.1m1.9 2.3h.1m.6 .8h.1m.2-1.6h.1m-0 3h.1m.2-1.5h.1m0-2.9h.1m-0 3.9h.1m.1 .4h.1m1.5-.9h.1m0-3.1h.1m.2 2h.1m.8-.4h.1m.4-2.2h.1m3.4 4.4h.1m.9-1.7h.1m1.5-2.5h.1m1-.1h.1m0 1.6h.1m1.9-1.9h.1m1.1 3.5h.1m0-3.3h.1m.4-1h.1m.4 2h.1m2.2 .7h.1m1.2-.2h.1m1.4-1.5h.1m1 .7h.1m.9-1.1h.1m.3 2.2h.1m-73.8 9.1h.1m.5-1.8h.1m1.1 1.2h.1m.5-.9h.1m.6-.9h.1m.1 .4h.1m.9-.6h.1m47.7-2.8h.1m.7-.3h.1m1.1 2.7h.1m.4-.6h.1m10.1-2.1h.1m-70.3 5.8h.1m1.5 5.2h.1m2.5-1.7h.1m.3-1.8h.1m3.5 1.4h.1m.2-1.3h.1m.2 3.6h.1m1.7-2.8h.1m.5 .2h.1m.2-1.3h.1m.1-.2h.1m-.1-.4h.1m.5 .5h.1m.9 2h.1m.8-1.4h.1m-.1-.8h.1m.1 1.2h.1m-14.2 6.8h.1m.2-.6h.1m.6-1.3h.1m.4 2.1h.1m.7 1.9h.1m.7-2.4h.1m2.6 1.8h.1m.1-2.6h.1m.2-1.3h.1m.9 3.6h.1m1.9-2.6h.1m1.6 1.8h.1m1.5-1.3h.1m1 2.2h.1m-16.8 7h.1m5.1-.5h.1m4.6-4.8h.1m1.6 .9h.1m-.1 .4h.1m2 .1h.1m.3-.1h.1m-16.5 5.5h.1m1.4 1.2h.1m5.2 3.7h.1m.6-2.5h.1m.9 2.5h.1m-9.3 2.8h.1m.9-1.8h.1m2.9 2.6h.1m4.9 1.5h.1m-33.7 6.6h.1m.6-2h.1m2.3-1.3h.1m.2 1.2h.1m.3 2.3h.1m19.8-1.6h.1m0-1.2h.1m.4-1.9h.1m.8 4.5h.1m0 .2h.1m2.5-3.7h.1m1.2 3h.1m.6-3h.1m2.9-.7h.1m.1 0h.1m.5 2.2h.1m1.3 1.2h.1m1.5 0h.1m1-4.3h.1m-39.5 6.3h.1m1.2 .2h.1m1.2 3.9h.1m.1-4.2h.1m1.7 2.5h.1m1.1-2.3h.1m.8 1.8h.1m.4-.1h.1m.1 1.9h.1m.8 .6h.1m.1-1.3h.1m0-.9h.1m18.1-.1h.1m1.4-1.1h.1m.4 1.5h.1m2.1-2.7h.1m2.8 5.2h.1m-0-4.4h.1m2 0h.1m.3 .1h.1m.5 3.2h.1m1.5-2.7h.1m-37.5 4.8h.1m28.4 .9h.1m3.8 3.7h.1m.1-.3h.1m1-.7h.1m1.9-2.9h.1m-3.6 4.7h.1" stroke="#2a3588" stroke-width="0.85" stroke-linecap="round" fill="none"/>
<path d="M437.5 488.1h.1m2.2 .8h.1m3.7-.1h.1m4.2-1.4h.1m-26.9 6.1h.1m9.3-.6h.1m1.1-2.8h.1m0 3.6h.1m.4-1.5h.1m1.4 1.6h.1m.6-4.1h.1m-.1 1.2h.1m.6 3.2h.1m.9-4.5h.1m1.2-.6h.1m0 5.9h.1m-.1-3.8h.1m.6-1.9h.1m-0 4.2h.1m0 .7h.1m1.6-2.8h.1m4.3-1.7h.1m2 .9h.1m0 3.6h.1m3.1-2.3h.1m.1-1.6h.1m.2 2.4h.1m.2-2.9h.1m.9 4.6h.1m1.3-3.4h.1m.2 2.4h.1m.8-.6h.1m-47 5.7h.1m3 1.2h.1m5.5-.2h.1m.8-.4h.1m11.9-3.1h.1m3.3 3.3h.1m0-1.5h.1m1.2 .3h.1m2.6-1.3h.1m1 3.2h.1m0 .5h.1m.2 .1h.1m-0 .4h.1m.8-.5h.1m-0-5h.1m1.1 3.2h.1m2.2 2.2h.1m.7-1.5h.1m1.1-3.8h.1m1.2-.4h.1m1.4 .9h.1m.7-.3h.1m2.8 1.3h.1m.4 .9h.1m.4-.1h.1m4.8 2.9h.1m2-.9h.1m2.2-1.1h.1m1.6 .6h.1m1.1 .6h.1m-58.5 1.3h.1m4.6 2.5h.1m1.5-1.3h.1m3.7 4.4h.1m2.4-5.6h.1m3.9 3.1h.1m1.4-.5h.1m1.1 2.4h.1m.1-1.9h.1m.1-.8h.1m.7-.1h.1m.6 3.2h.1m1-4.4h.1m.1 3.2h.1m.1 .2h.1m1.8-4.2h.1m.6 2.1h.1m1.4 1.8h.1m.6-3.4h.1m1.5 2.6h.1m.1 1.4h.1m.6-1.7h.1m3 2.5h.1m.4-1.7h.1m.4-2.8h.1m3.5-.7h.1m.7 4.2h.1m-.1-2.1h.1m3.8-2.4h.1m0 2.6h.1m4.5-1.9h.1m.8 4h.1m.5-4.7h.1m2.3 .3h.1m1.7-.5h.1m-0 3.9h.1m.9 1.7h.1m1.1-.8h.1m.3-4.3h.1m1.4 .2h.1m1.5 .7h.1m.1 2.7h.1m3.6 0h.1m.8-1.1h.1m.3 .6h.1m-65.2 5.8h.1m.8-.7h.1m.3 .3h.1m4.7 0h.1m-0-1.5h.1m1.1 3.1h.1m.5-2.9h.1m.2 3.5h.1m2-1h.1m.2 0h.1m.9-2.2h.1m.8 1.5h.1m.9-2.1h.1m4.3 .2h.1m2.7 2.2h.1m0 1.6h.1m2-3.1h.1m.4-.4h.1m.1 .2h.1m.7 2.3h.1m1.2-1h.1m4.5-2h.1m.5 .9h.1m.3-1.2h.1m1.4 3.4h.1m-0-2.3h.1m.1 .3h.1m.2 1.3h.1m.7 .4h.1m.3-2.3h.1m2.8 1.8h.1m4.1 2.1h.1m1.6-1.9h.1m.5-1.2h.1m2.9 2.3h.1m2.9-4.4h.1m1.2 3h.1m.1-2.3h.1m1.5 3.6h.1m1.1-4.2h.1m.8 3h.1m1-2.7h.1m.4 4.5h.1m2.8-4.3h.1m.6 .2h.1m.2 3.4h.1m3.9-.4h.1m0-2.5h.1m1.2-1.7h.1m.2 3.5h.1m.3-2.5h.1m.3 1h.1m0 .3h.1m.7-1.3h.1m-59.3 6.6h.1m3.2 2.1h.1m1-3.4h.1m3 5.4h.1m0-2.2h.1m-.1 1.2h.1m.9-2.3h.1m.9 .8h.1m.5-2.5h.1m.4 1h.1m3.6-1.6h.1m7.6 4.8h.1m1.9-3.9h.1m.2 1.3h.1m.8-1h.1m1.9-.2h.1m-.1 2.6h.1m.2-2.5h.1m.3 4.3h.1m2.1-3.3h.1m.1 2.6h.1m.6-4.3h.1m.1 2.2h.1m1.9 2.6h.1m.7-4.4h.1m-0 .6h.1m.9 .9h.1m1.4-1h.1m.2 3.4h.1m.8-.5h.1m2.6-4.4h.1m1.3 0h.1m.4 2.7h.1m1.8 .9h.1m.1-2.6h.1m.2 2.3h.1m1.2 1.4h.1m.6-4.3h.1m.4 1.5h.1m1.4 .3h.1m.7 3.3h.1m1-4.2h.1m.7 0h.1m.3 3.8h.1m1.6-2.9h.1m2.4-1.7h.1m.7 3h.1m.6 .2h.1m.7-.2h.1m3.3 2.4h.1m.5-.1h.1m0-5.1h.1m.8 3.9h.1m1.7-.7h.1m-63.8 5.6h.1m24.5-3.4h.1m3 .1h.1m1.2 .3h.1m.8 4.2h.1m.6-3.1h.1m.6 2.6h.1m1.3-4.2h.1m1.1 5h.1m2.5-1.9h.1m.3 .9h.1m1.5 1.5h.1m.2-4.7h.1m.5 4.7h.1m.5-4.4h.1m2.1 4h.1m1.3-1.6h.1m.9 1.5h.1m2.4-3.1h.1m-.1-1h.1m.7 2.2h.1m3.1 0h.1m1.1-1.2h.1m-0 2.7h.1m2.3-4.1h.1m2.2 .8h.1m-67.4 5.1h.1m16.3 1.9h.1m6.2 2.5h.1m19.5-.2h.1m.6-2.9h.1m14.4 1.2h.1m-68.7 4.4h.1m.6 4.5h.1m.3-3.6h.1m1 .7h.1m.5-2.3h.1m.4-.4h.1m-.1 1.2h.1m.3-1.1h.1m1.1 2.7h.1m.5-1.5h.1m.5 4h.1m1.9-2.5h.1m.1-2.2h.1m.4 4.6h.1m.7 0h.1m1.7-1.8h.1m2-2.1h.1m.1 2.1h.1m.3-.1h.1m.8 .2h.1m-16.2 3.5h.1m4.4-1.3h.1m-.1 4.6h.1m.9-3.6h.1m.6 2.3h.1m-0-1.2h.1m1.9-1.5h.1m2.5 1.7h.1m1.3-1.9h.1m1.3 1.4h.1m1.1-.2h.1m-19.9 10h.1m8.6-5.1h.1m.6 1.4h.1m1.6-.2h.1m-0-.9h.1m-13.6 8.9h.1m0-.8h.1m4.4 2.5h.1m1.7 .3h.1m1.6-.7h.1m.1-1.8h.1m-8.1 5.3h.1m1.9-2.2h.1m1.9 5h.1m0 .2h.1m.7-3.8h.1m-.1 2.8h.1m1-3h.1m2.7 3.7h.1m.4-4h.1m1.8 1.8h.1m.6-1h.1m-36.4 9.6h.1m1.4-3.2h.1m1.2 2.8h.1m1.9-2.1h.1m0 1.4h.1m20.5-1.4h.1m1.1 .7h.1m.3 1.5h.1m.2 .7h.1m.1-2.8h.1m.9-2.3h.1m3.3 5.1h.1m5.7-1h.1m-38.8 3.1h.1m.8-1.1h.1m.2 1.3h.1m.1-1.5h.1m1 1.1h.1m.7 2.4h.1m2.1-2h.1m1.8-1.4h.1m.6 3.7h.1m21.8-.5h.1m2.7-2.4h.1m.1-1.3h.1m1.9 .3h.1m-31.6 6.7h.1m.5 .3h.1m.9-.4h.1m.4 1.5h.1m.6-1.8h.1m23.3 1.1h.1m.1-1.3h.1m1.6 .5h.1m.3 .7h.1m2.5-1.7h.1" stroke="#24337f" stroke-width="0.85" stroke-linecap="round" fill="none"/>
<path d="M408.3 500.7h.1m3.2-.3h.1m.1-.8h.1m9 .2h.1m-16.5 5.5h.1m8.7 .2h.1m.1-.2h.1m5.5-1.2h.1m.9 .6h.1m2.8 0h.1m3.8-1.8h.1m.7-1.1h.1m-23.4 9.7h.1m1.8-.1h.1m.1-1.6h.1m.9-.2h.1m0-1.1h.1m1.6 2.3h.1m.2 1.2h.1m.5-4.7h.1m2.9 5h.1m-.1-2h.1m9.2-1.3h.1m.5 1.7h.1m1.4 1.4h.1m3.1 .3h.1m-15.7 4.8h.1m1.4 .5h.1m2.4-3.9h.1m3.4 .8h.1m7.4 .6h.1m2-.9h.1m-.1 2.7h.1m-16.1 3.9h.1m5-1.3h.1m2.9 3.8h.1m1.6-3.6h.1m1.1 1.4h.1" stroke="#6aa8d8" stroke-width="0.85" stroke-linecap="round" fill="none"/>
<path d="M421.6 524.8h.1m-9.4 4h.1m.2-1.7h.1m.1-1.1h.1m3.2 2.8h.1m1.9-1h.1m.5 2.1h.1m1.8-3.4h.1m1 3h.1m0-.9h.1m1.6 .3h.1m.1-1.8h.1m.5 3.3h.1m.9-3.1h.1m3.2 1.7h.1m-15.4 6.6h.1m1.4-3.1h.1m.8 .7h.1m.3-1h.1m1.1 2.5h.1m.7-1.1h.1m.4 1.7h.1m.7-3.9h.1m0 4.1h.1m.1-3.3h.1m3.1 4.3h.1m3.3 .2h.1m3.4-.7h.1m.3-1.9h.1m.8 2.8h.1m-18.4 .1h.1m1.1 2.5h.1m.7-1.3h.1m3.7 3.4h.1m.7-2.9h.1m.3 3.2h.1m.8-1h.1m.7 1.8h.1m.4-1.4h.1m2.5-3.6h.1m2.3 4.4h.1m.1-.5h.1m.9-3.5h.1m-4 5.4h.1" stroke="#7ac0e8" stroke-width="0.85" stroke-linecap="round" fill="none"/>
<path d="M411.2 527.1h.1m.5 .1h.1m.4 2.6h.1m1.1-1.3h.1m1.1-2.3h.1m6.4 4.3h.1m2.5-4.2h.1m1.2 .2h.1m-10.9 7.1h.1m1-2.1h.1m0 4.6h.1m-.1-1.3h.1m.1 .6h.1m1.2-4h.1m5.9 4.1h.1m2.8 .1h.1m.6-3.3h.1m1.2 .7h.1m1.1-.8h.1m-14.9 7.1h.1m1.4-.7h.1m1.3 4.1h.1m.3-5.5h.1m1.4 5.3h.1m.1-.9h.1m4.4-3.6h.1m1.2-.9h.1m.9 4h.1m1.9-.7h.1m-9.4 3.2h.1" stroke="#4a90d0" stroke-width="0.85" stroke-linecap="round" fill="none"/>
<path d="M412.3 529.7h.1m1.6 1.3h.1m.9-4.9h.1m.6 3h.1m1.4-1.7h.1m.3 .8h.1m.3-.2h.1m1.5-.1h.1m2-2.1h.1m.2 .1h.1m1.2 .8h.1m1.8 2.2h.1m2.4 .3h.1m1.5 .3h.1m-17.4 2h.1m3.2 3.6h.1m1.1-1.1h.1m1.1 2.6h.1m.4-4.7h.1m2.3 2.8h.1m1 .2h.1m-.1-2.2h.1m1 2.8h.1m1.4-.2h.1m.7 1.2h.1m1.8-3h.1m.6-1.6h.1m1.5 .6h.1m.6 3.5h.1m-16.7 1.2h.1m.3 3.1h.1m.3-1.2h.1m2.8 3.6h.1m2.8-1.3h.1m1-3.8h.1m1.5 3.1h.1m2-1.7h.1m.2-1.9h.1m.9 2.3h.1m.9 2.2h.1m4.1-1.7h.1m-11.6 3.2h.1m1.4 .2h.1" stroke="#6ab0e0" stroke-width="0.85" stroke-linecap="round" fill="none"/>
<path d="M328.7 530.4h.1m-.1 .5h.1m3.7-1.3h.1m.1 .2h.1m.4 1.1h.1m.7-1.8h.1m.8 .6h.1m1.2-.5h.1m.5-.8h.1m1.7 .8h.1m-.1-.3h.1m2.7-1.1h.1m.3-.1h.1m2.5 .4h.1m.6 2.9h.1m.2-1.3h.1m0 1.1h.1m.3-.4h.1m.3-.3h.1m4-1.8h.1m.3-.5h.1m1.1 1.6h.1m1.7-1.9h.1m2.4 2.5h.1m.5-.6h.1m0 1.5h.1m.4-2.5h.1m6 1.9h.1m-41 6.5h.1m3.6-5.1h.1m.4 4.8h.1m1.1-.1h.1m.9-1.7h.1m1.4-.8h.1m.1 .1h.1m.2-2.2h.1m.3 3.3h.1m.5 .9h.1m2.2-.8h.1m-.1-1.5h.1m0 .1h.1m.6 2h.1m.5-1h.1m.3 1.9h.1m1.1-.7h.1m.9 .4h.1m1.5-1.2h.1m.5-.3h.1m-.1-.5h.1m-0-.5h.1m1 2.5h.1m1.7-1.8h.1m.4-1.3h.1m1.2-1.6h.1m2 1.7h.1m.9 .2h.1m.6-.2h.1m1-1.9h.1m2 4.4h.1m1.4-2.2h.1m2 2.3h.1m.1 .7h.1m.1 0h.1m0-2.5h.1m.4-1.1h.1m1 3.3h.1m.7-4.6h.1m.5 3.2h.1m1.3 1.1h.1m3.3-1.7h.1m.2 1.4h.1m.2-3.3h.1m.3 2.7h.1m.2 .9h.1m1.2 .2h.1m-43.7 3.5h.1m-0-2.3h.1m1.5 .3h.1m2 4h.1m1.3 .2h.1m.7-2h.1m.1-2.2h.1m-.1 4.6h.1m.5-5.2h.1m.1 .3h.1m1.2 2.4h.1m-0 2.5h.1m0-5.4h.1m2.3 3.8h.1m1.4-1.8h.1m.6-1.1h.1m.5 1.6h.1m.4-1.8h.1m.7 1.2h.1m-.1-.4h.1m2 .7h.1m1.3 3.4h.1m.2-1.2h.1m1.4 .4h.1m1.7 .1h.1m.3-2.6h.1m.2-1.4h.1m-.1 3.8h.1m.2-.2h.1m.7-4.4h.1m.2 4.2h.1m.5-4.2h.1m2.6 1.1h.1m.4-.3h.1m.6 4.5h.1m.7-4.6h.1m.1-.4h.1m3.1 2.9h.1m.9-3.2h.1m.4 5.5h.1m0-2h.1m.6-1.1h.1m.3 2h.1m.5-4.2h.1m.3 2.5h.1m-.1-1.7h.1m.1 3h.1m.4 1h.1m.3 .6h.1m3.5-4.1h.1m-40 7.8h.1m3 1.3h.1m1.4 1.2h.1m.8 0h.1m-.1-4.9h.1m.4 3.4h.1m.3-1h.1m.3 1.5h.1m0-.8h.1m.9-1.3h.1m1.2 .9h.1m-.1-1.6h.1m.7 .6h.1m1.3 2.5h.1m.1-.5h.1m-0-.9h.1m2.9-1.7h.1m.6 .3h.1m1.6 3h.1m.9-4h.1m.1 2h.1m.1 .5h.1m.5-.7h.1m.2 2.4h.1m.6-3.5h.1m.2 .1h.1m1.3-1.7h.1m.9 4.2h.1m1.1-.8h.1m0-1.9h.1m.5-.6h.1m.9 4h.1m.1-4.3h.1m-.1 1.7h.1m1.8 2.9h.1m0 .2h.1m1.8-3.6h.1m0 3.2h.1m-0-5.2h.1m3.4-.1h.1m1.8 .3h.1m-31.4 5.6h.1m.3 4h.1m.5-1.5h.1m.4-2h.1m1.2 3.3h.1m1.1-3.6h.1m.5 0h.1m.3 5.7h.1m.3-4.7h.1m1.2 3h.1m2.1-1.7h.1m-.1-.2h.1m1.2 .6h.1m-.1 2.5h.1m.4-5.1h.1m.4 3.3h.1m2.4-3.7h.1m.1 3h.1m1.1-1.9h.1m.6 .7h.1m2.7 .2h.1m0-1.1h.1m.7-.8h.1m2.1 1.4h.1m0 .6h.1m.5-.5h.1m-18 10.2h.1m3.1-2.7h.1m2.1 .6h.1m.4-2.4h.1m3.4 2.5h.1m0-1.6h.1m1.4 .3h.1m.8-1.6h.1m-7.6 6.7h.1" stroke="#3aaed0" stroke-width="0.85" stroke-linecap="round" fill="none"/>
<path d="M423.2 506.8h.1m-58.3 5.8h.1m25.9 .3h.1m-59.4 3.7h.1m7.9-2.7h.1m65.4 2.1h.1m-41.3 7.7h.1m57-4.3h.1m-91.8 10.5h.1m5.2-1.1h.1m.7-.5h.1m1.4 .9h.1m.1 1.8h.1m.3-2.6h.1m4.4 .9h.1m.5 .8h.1m1.5-.2h.1m2.1-.7h.1m.1-1.4h.1m1 3h.1m2.1-1.5h.1m.9-1.8h.1m2.3-.1h.1m.5 .1h.1m2.2 1.2h.1m.2-.8h.1m.9 2.7h.1m1.3-.8h.1m2.4-.1h.1m10.8-.7h.1m10.1-2.7h.1m41.4 1.6h.1m-99 5.8h.1m0 1.8h.1m1.1-4h.1m.9 3.7h.1m.1-2.4h.1m1.5 .3h.1m-0 .1h.1m2.3-2h.1m4.1 4h.1m.2-2.2h.1m.3 1.8h.1m.6-2.9h.1m.1-.1h.1m.9 2h.1m.9-2.7h.1m.2 .3h.1m.2 0h.1m.4 3h.1m.3-1.1h.1m-0 .4h.1m.5 1.5h.1m1.6-2h.1m.1 0h.1m.3 3.1h.1m.1-4.7h.1m-0 .1h.1m2 4.9h.1m.2 .1h.1m.1-.8h.1m.7 .3h.1m-.1-1.6h.1m.1 1.8h.1m1.4-1.1h.1m.3-.2h.1m.4 1.8h.1m.3-5.6h.1m.1 5.1h.1m.1-3.5h.1m.2 1.4h.1m1.3-.9h.1m1.6 1.4h.1m2.6-1.6h.1m-0 .8h.1m1-2.8h.1m.7 0h.1m3.1 3.9h.1m.7-1.9h.1m.3 1h.1m.9-.1h.1m.9-.7h.1m2.2-2h.1m-46.2 11.3h.1m.1 .1h.1m.3-1.5h.1m1.1-3.4h.1m1.2 0h.1m0 2.6h.1m1.7 .4h.1m-.1-3.1h.1m.3 1.2h.1m1 .3h.1m.2 .5h.1m.8 1.7h.1m.9-4.2h.1m.5-.1h.1m.8 3h.1m-.1-.2h.1m.9 1.7h.1m.9-3.2h.1m1 1.9h.1m-.1-1h.1m.4 1h.1m.6-.3h.1m.3 .4h.1m.2 1.8h.1m1.2 .4h.1m.6-2.7h.1m.2 .9h.1m.3-.2h.1m.1-2.7h.1m.7 4.9h.1m.6-4.6h.1m.1 .9h.1m.9 3.3h.1m.1-2.3h.1m0 .8h.1m.5-2.7h.1m.3 1.5h.1m.4 1.6h.1m.3-2.1h.1m.9-1.2h.1m.8 3.2h.1m1.1 .2h.1m.1-4.4h.1m0 3.9h.1m.4 .2h.1m.8-1.4h.1m.6 1.7h.1m1-4.2h.1m.2 .5h.1m.4 4.1h.1m.4-1.5h.1m.8-.2h.1m0 .5h.1m.1 2.3h.1m.8-5.3h.1m1.1 4h.1m.1-1.5h.1m.3 1.4h.1m.5 1h.1m.1-3.4h.1m.8 .9h.1m-.1-1.5h.1m.3 2.2h.1m.1 .6h.1m.2 1.3h.1m.5-1.7h.1m.3-3.3h.1m-.1 2.6h.1m.1-.8h.1m.1 .6h.1m.1-.2h.1m.1-2.1h.1m-.1 1.9h.1m.5 .9h.1m0-3.5h.1m.3 3.8h.1m.3-3.6h.1m-0 1.6h.1m-.1 1.7h.1m1-1.7h.1m.4 2.4h.1m.1 .1h.1m0-1.8h.1m-0 3.4h.1m.7-.9h.1m.5 .9h.1m.2-5h.1m.4 1.9h.1m1 1.5h.1m11.4-3.2h.1m19.2 1.4h.1m-75.6 5.1h.1m1.4 2.9h.1m.2-.8h.1m.1 0h.1m.4-3.6h.1m.7 1.9h.1m1.8-1.6h.1m.3 3.7h.1m.2 .3h.1m1.2 .1h.1m.3-3.5h.1m1 .8h.1m.5 2.2h.1m-0-1.7h.1m1.3 3.3h.1m.7-.7h.1m2-4h.1m.5 2.4h.1m.3 1h.1m.7-1.3h.1m.1-.3h.1m.2-.3h.1m.6 2.6h.1m.3-.1h.1m0-.2h.1m1.1 .5h.1m1.1-4.5h.1m1.6 1.7h.1m.3-.2h.1m.1 2.4h.1m.2-3.7h.1m.9 .6h.1m.2 4.2h.1m-0-1.2h.1m0-3.1h.1m.5 3.8h.1m1.7-.9h.1m1.6-4.2h.1m1.7 2h.1m.4 .2h.1m.4-1.1h.1m1.1 .9h.1m.2 2.5h.1m1.4-1.1h.1m.9-.8h.1m.1-2.2h.1m.6 1.1h.1m1-.7h.1m.5-.4h.1m.8 2h.1m1.1-2.3h.1m.9 1.3h.1m.6 1.3h.1m26-1.8h.1m37.3-.4h.1m-101.9 5.4h.1m5.7 4.4h.1m.3-2.5h.1m.3 2.7h.1m-.1-.1h.1m-0-.5h.1m.4 1.8h.1m1.5-4.9h.1m1.4 4.8h.1m1.4-4.7h.1m.1-.7h.1m.1 1h.1m0 2.6h.1m1.7 1h.1m3-3.3h.1m4.1 3.5h.1m.8-2.7h.1m2.9-1h.1m.3-.9h.1m-.1 .2h.1m50.2 4.4h.1m-71.4 3.2h.1m.3-2.1h.1m2.5 2.3h.1m.4 2.8h.1m1-5.1h.1m.1 1.1h.1m1.3 .3h.1m1.2 1.5h.1m.3-1.3h.1m4 .7h.1m.5-.8h.1m1.5-.6h.1m13.5 4.2h.1m53.7-1.8h.1m14.9-.3h.1m-93.4 3.4h.1m2.5 0h.1m2.4 3.5h.1m22.9 7.5h.1m-19.2 5.2h.1m5.2-.4h.1m30.6 1h.1m-28.6 6.1h.1m39.8-2.1h.1m-20.2 3.6h.1m2.7 3.7h.1m55.5 9.6h.1" stroke="#4fb8d8" stroke-width="0.85" stroke-linecap="round" fill="none"/>
<path d="M335 529.2h.1m1.8-.2h.1m.8 1.8h.1m2-2.7h.1m.1 .4h.1m2.8 2h.1m.8 .2h.1m2-.1h.1m-.1-1.3h.1m.6-.6h.1m.2 .6h.1m3.7-.2h.1m.1 1.3h.1m.6-3.1h.1m3.8 3.3h.1m1.3-1.7h.1m.9 1.2h.1m.4-.4h.1m-35.5 6.1h.1m.4 .3h.1m.8-1.8h.1m-.1 1.7h.1m.7-.9h.1m.8-3.3h.1m2.6 1.7h.1m.2-.1h.1m.3 2.4h.1m1.1-2.9h.1m.8 .7h.1m-.1-1.2h.1m.3-.7h.1m-0-.1h.1m1.1 1.1h.1m.6 2.6h.1m.3 .3h.1m.7-1.3h.1m.4-3h.1m.3 1.2h.1m2.2 1.4h.1m.8-.7h.1m.8-.7h.1m1.8 4.4h.1m1.3-1.4h.1m.3-3h.1m.7 .5h.1m-0 3.4h.1m.3-5.1h.1m2.3 2.7h.1m.7-.7h.1m.7-1.1h.1m.7-.8h.1m.9 .2h.1m1.1 4.9h.1m6-1.6h.1m.2 .9h.1m.5-1h.1m4.8-.1h.1m.1-2.1h.1m.1-.1h.1m.5 2.6h.1m.2 .9h.1m-43.6 6.7h.1m.1-.3h.1m.6-5.2h.1m1 3.1h.1m.3-.2h.1m.1 2.7h.1m.2-1.5h.1m1.1-2h.1m1.2 .7h.1m.5 .1h.1m2.1-2.7h.1m1.3 3.7h.1m.6-1.9h.1m-0 1.4h.1m.6 .8h.1m-.1-1.4h.1m.4 1h.1m1.2-2.1h.1m-.1-.7h.1m1 1.6h.1m.6-2h.1m1.9 .3h.1m.1 3h.1m1-3.5h.1m.4 0h.1m.2 .6h.1m.5-.9h.1m.2 4.4h.1m1.9-1.5h.1m3.2 2.3h.1m.1 .3h.1m.9-4.9h.1m.3-.7h.1m.1 2.8h.1m1-2.6h.1m.7 .5h.1m.2 .1h.1m.9 3.5h.1m2.9 1.3h.1m.3-2.3h.1m.3-2h.1m1.1-1.5h.1m0 1.8h.1m.2-1.8h.1m-.1 3.1h.1m1.1 .1h.1m.5 2.3h.1m.3-2.1h.1m.6-.2h.1m1.5 1.2h.1m0-3.2h.1m2.1-.9h.1m.2 2.1h.1m-42 6.2h.1m1.1 .3h.1m.6 2.9h.1m1-1.3h.1m-0-.9h.1m.2-1.1h.1m.4 2.9h.1m.7-1.8h.1m2-.4h.1m4.7-.7h.1m-.1 1.7h.1m1.4-.5h.1m-.1-2.1h.1m1.5 1.7h.1m.6 0h.1m1.8 .1h.1m.2-2.5h.1m.5 4.2h.1m2.4-3.3h.1m-0 2.4h.1m.7-1.7h.1m-.1 3.3h.1m.2-4h.1m-.1 4.1h.1m1.3-2.8h.1m.8-.6h.1m1.8 .2h.1m.1 1.6h.1m.1 .2h.1m.1 0h.1m.5-1.6h.1m.1 2.6h.1m.5-4.3h.1m.1-.3h.1m.1 1.3h.1m.2 .3h.1m0-1.2h.1m0-.5h.1m1.2-.4h.1m1.5 2.7h.1m1.7 .9h.1m-31.1 2.4h.1m.7 1.2h.1m.2 1.4h.1m1.3 1.8h.1m.5-2.9h.1m0 2.9h.1m.3-.7h.1m.9-2.9h.1m4.2 0h.1m.8 2h.1m2 1.1h.1m2.5 .1h.1m.5-1h.1m1.3-.5h.1m.7-1.3h.1m.8 .4h.1m.3-.4h.1m.4 3.7h.1m1.1-3.4h.1m3.9-.4h.1m.1-1.2h.1m1 .5h.1m1.1 .2h.1m-19 10.9h.1m.3-1.8h.1m1 1.2h.1m.6-1.7h.1m.4 1.5h.1m1-2.6h.1m0 3h.1m-.1-.8h.1m1.3 1h.1m-.1-.1h.1m1.5-1h.1m2.9-.8h.1m.9-3.2h.1m1.4 .2h.1m-5.4 5.2h.1" stroke="#5cc0dc" stroke-width="0.85" stroke-linecap="round" fill="none"/>
<path d="M332.7 529.6h.1m3.2-.2h.1m2.3 .3h.1m1.2-1.9h.1m0-.3h.1m-.1 2.7h.1m.8-.9h.1m2.1-1.3h.1m.7 2.8h.1m.9-1.2h.1m1.2-.9h.1m.4 2.3h.1m.2-2.9h.1m.6-.9h.1m.1 .5h.1m.3 1.4h.1m1.7-.6h.1m1.7-1.2h.1m0-.2h.1m-.1 1h.1m.1 2.5h.1m.1 .4h.1m1.1-.2h.1m.3-.6h.1m3.5-.3h.1m.1 .3h.1m2.1-.8h.1m-36.8 5.8h.1m.4-1.9h.1m1.2 2.5h.1m0-2.7h.1m.2 1.9h.1m.3-.9h.1m2 1.1h.1m-.1-2.2h.1m-.1-.6h.1m.3-.5h.1m.9 3.8h.1m.1 .4h.1m1.9-3.5h.1m.8-1.4h.1m.4 5.3h.1m.8-3.4h.1m-.1-.8h.1m.2 3.4h.1m.5-2.6h.1m.5-.2h.1m.1-1h.1m.1-.4h.1m.4 4.5h.1m2-.5h.1m1-2h.1m.7-.9h.1m.5-.3h.1m0-1.2h.1m.3 5.3h.1m.9-1.6h.1m.9-.5h.1m0 2.2h.1m-0-.3h.1m.2-3.5h.1m0-.5h.1m.1 4.6h.1m2-1.2h.1m.1-2.3h.1m-0-1.5h.1m1.1 .3h.1m1.3 3.8h.1m3.5-.7h.1m.1-1.4h.1m.4 .7h.1m4 .2h.1m0 1.9h.1m0-.2h.1m-.1-.4h.1m2.5-1.7h.1m.2 1.4h.1m1.1 .4h.1m.7-3.2h.1m.6-1.5h.1m1.1 .3h.1m1.8 3.9h.1m-44.1 7.1h.1m-0-4.9h.1m.8-.3h.1m.8 1.9h.1m.1-1.1h.1m.3 .7h.1m1.2-.9h.1m1-.3h.1m0 2.3h.1m1.4 1.3h.1m.2-2.8h.1m1.7-.5h.1m1 1.8h.1m1.3-.2h.1m.1-.6h.1m.9 1.2h.1m.9-3h.1m.1 4.5h.1m1.9-2.8h.1m.7 .9h.1m.6 1.6h.1m.4-1h.1m.1 1.9h.1m.2-3.5h.1m.1-1.3h.1m.2 .1h.1m.4 1.4h.1m.1 2.9h.1m.9-2.3h.1m0-1.9h.1m1.8 2.6h.1m-.1-1.4h.1m0 .2h.1m1.6 3.6h.1m-.1-.6h.1m.6-4.6h.1m.9 .2h.1m.5 1.3h.1m1.3-1.4h.1m1.3 1.4h.1m.2 1.8h.1m1.7-1h.1m.7 .2h.1m.5 2.8h.1m0-1.2h.1m.5-.6h.1m-.1-.2h.1m.9-1.9h.1m.1 2.5h.1m.1-3h.1m.1 3.5h.1m.1-5h.1m0 4.5h.1m1-2.1h.1m.1 2.1h.1m.2-1h.1m.1 1.1h.1m.5-3.9h.1m0 2h.1m-.1 .2h.1m.9-2.7h.1m0 2.9h.1m.3 2h.1m0-2.8h.1m.1-.7h.1m.1 2.4h.1m0-1.1h.1m-.1 1.4h.1m-0 .3h.1m.4-2h.1m1.1-2.6h.1m.3 3.1h.1m.5 1.4h.1m-.1-.4h.1m.7 1.2h.1m1-3.9h.1m1.3 1.9h.1m1.3 1h.1m-45.9 4h.1m.9 .7h.1m.2-2.7h.1m.8 2.1h.1m.5 .4h.1m-0 1.5h.1m4.2-2.6h.1m2.1-.1h.1m.8 3.4h.1m.1 .6h.1m.4-3.7h.1m-0 2.1h.1m0 .6h.1m.5-3.2h.1m.5 3.5h.1m1-2.7h.1m.4-1.2h.1m.5-.3h.1m.3 4.5h.1m1.1-3.4h.1m.8-.3h.1m0 1.5h.1m.1 2.6h.1m-.1-1.2h.1m.6 .8h.1m1.6-1.8h.1m.2-1.1h.1m.7-1.7h.1m1.7 3.6h.1m0 1.3h.1m.5-4.1h.1m.2 4.4h.1m.8-2.5h.1m.3-2.3h.1m1.3 2.1h.1m.2 .5h.1m.6 .8h.1m-.1 0h.1m.5-1h.1m1.1-2.2h.1m.1 2.9h.1m0 .3h.1m-0-3.3h.1m.7 2.6h.1m-.1-1.2h.1m1.1-1.7h.1m.5 3.1h.1m1.3 .7h.1m.6-2.1h.1m.3-.8h.1m.3-1.5h.1m1.4 1h.1m1.1 1.1h.1m.4-.1h.1m2.7-2.1h.1m.4 .7h.1m2-.2h.1m-39.7 6h.1m.5 3.3h.1m.1-1.2h.1m.7-.9h.1m.9 3.8h.1m.8-1.7h.1m1-2.3h.1m.6 1.1h.1m0-1.9h.1m-0 .6h.1m1.5 1.8h.1m.8-2h.1m.6 .8h.1m1.8 .1h.1m.6 2.2h.1m2 .4h.1m1.1-4.6h.1m3.3 5h.1m.1-2h.1m.2 1.4h.1m1.2-.2h.1m2.4-4.3h.1m-19.7 6.5h.1m.2 2.4h.1m.6 .6h.1m.8 .7h.1m.5-3.4h.1m1.5 .3h.1m.4 4.1h.1m.3-1.8h.1m1.9 .4h.1m.6 1.9h.1m.1-2.1h.1m.8-1h.1m.1 1.3h.1m-0-2.6h.1m-.1-1h.1m.1 1.1h.1m.4 1.7h.1m.1-2.2h.1m1.1 4.9h.1m.3-3.5h.1m0 1.2h.1m.1-.5h.1m.8-1.6h.1m.3 .1h.1m-0 .6h.1m.2-.6h.1m-7.6 4.9h.1m0 .7h.1m3.6-1h.1m.3 .8h.1" stroke="#6ac6e0" stroke-width="0.85" stroke-linecap="round" fill="none"/>
<path d="M341.8 572.9h.1m.1-1.4h.1m.4-3.5h.1m-.1 2.8h.1m.6 .4h.1m.5-.5h.1m1.9-1.1h.1m-.1 3.1h.1m-0-2.8h.1m0 2.7h.1m1.3-1.8h.1m0-1.8h.1m.6 1.2h.1m2-.9h.1m-0 1.4h.1m0-1h.1m.6 1.9h.1m.8-.1h.1m-9.7 5h.1m1 .8h.1m.3-3.1h.1m.7 .7h.1m1.3 3.3h.1m1.9-1.4h.1m1-1.8h.1m1.7-1.9h.1m.1 4.1h.1m-.1-2.1h.1m.6-1.8h.1m.1 2.4h.1m.4-.1h.1m.3-1.6h.1m-0 3.9h.1m.3-2.5h.1m.4 .8h.1m-12.4 3.8h.1m1.5 .1h.1m.5 1.3h.1m0 2.4h.1m-0 .3h.1m.1-2.5h.1m.5 3.1h.1m.7-2h.1m-0 1.1h.1m.8-.2h.1m.7-3.2h.1m.3 .5h.1m.7-1.5h.1m.2 .9h.1m-.1 1.4h.1m.3 3.1h.1m0-2.1h.1m.4 1.9h.1m-0-5.2h.1m.1 1.6h.1m1.3 0h.1m.4 3.5h.1m.2-3.5h.1m-0-.8h.1m.4 3.7h.1m1.2 .6h.1m.7-1.6h.1m-13.1 4.7h.1m1.2-2.3h.1m.1 2.6h.1m1.1 2.2h.1m0 .2h.1m.7-4.3h.1m3.4 3.4h.1m.1 .2h.1m.2-.3h.1m.4-2.8h.1m.3 4.2h.1m2.2-2h.1m1.1-.9h.1m.2 1h.1m.6-1.7h.1m.1-.7h.1m-11.3 4.8h.1m.3 1.7h.1m0-.1h.1m1-.1h.1m0 1.6h.1m.1-1.7h.1m.6-1.4h.1m.2 2.7h.1m1.6-1.6h.1m-.1 .5h.1m1.4 1h.1m.6-2.1h.1m-0 5h.1m.3-2.1h.1m.5-1.8h.1m0-.3h.1m.2 .2h.1m.1 0h.1m.2-1.3h.1m.5-.1h.1m.2 3.9h.1m0-3.3h.1m-0 1.2h.1m.6-1.9h.1m0 2.1h.1m.1-1.5h.1m.3-.4h.1m-8.1 5.9h.1m1.7-.3h.1m1.6 1.4h.1m.3-.6h.1m2.6-.3h.1" stroke="#9a3a96" stroke-width="0.85" stroke-linecap="round" fill="none"/>
<path d="M341.8 572.3h.1m2.5-3.5h.1m0-.8h.1m0 .2h.1m.1 3.9h.1m.4-1.3h.1m.1-.7h.1m.7-1.7h.1m1.5 1.3h.1m.5 .2h.1m3.1 1h.1m-9 6.2h.1m.1-3.5h.1m.4 5.1h.1m1.3-2.9h.1m0 1.9h.1m.6-1.1h.1m.2-.2h.1m.5-1.7h.1m.5 1.7h.1m.8 2.2h.1m.5-3.7h.1m.6-1.2h.1m.1 4.4h.1m2.3-4.3h.1m.3 3.2h.1m.1-3.6h.1m.5 1.5h.1m.6 .4h.1m.3 2.7h.1m8.1 .1h.1m3.4 0h.1m1.2 .8h.1m-24.3 1.1h.1m.3 4.6h.1m.6-2.9h.1m0 1.6h.1m.1-.9h.1m0-.7h.1m2.9 .3h.1m1.1 2.1h.1m.1-.8h.1m.3-.4h.1m.2-3h.1m.4 4.7h.1m1.1-.5h.1m0-1.8h.1m1 2.1h.1m.9-1.3h.1m.3-3.5h.1m6.2 1.9h.1m.7-2.1h.1m.7 .6h.1m.7 2h.1m.3-2.2h.1m-0-.5h.1m.2-.1h.1m0 3.6h.1m-0 .1h.1m-.1-2h.1m.4 .8h.1m.3-.3h.1m.5-.9h.1m.5 .6h.1m.8-1.8h.1m.6 2.5h.1m.1-1.1h.1m-25.6 5.5h.1m1.4 3.4h.1m.2-.4h.1m.3-.3h.1m.4-.2h.1m-0 1.9h.1m1.1-1.3h.1m-.1-3.2h.1m.4 .9h.1m.2 3.9h.1m.4-3.6h.1m.4-1.2h.1m.7 3.1h.1m-.1 1.2h.1m.1-1.4h.1m1.2 1.4h.1m0-4.8h.1m.2 .4h.1m-.1 2.3h.1m.4-.2h.1m.2 2.3h.1m.5-.1h.1m.3-2.1h.1m.1 .9h.1m1 1h.1m.1-4.6h.1m.8 5.4h.1m-9.5 5.7h.1m1.3-.9h.1m.9-1.8h.1m.4-.5h.1m.3 2.5h.1m0-4.7h.1m.6 5.2h.1m.7-4.8h.1m-0 .7h.1m0-.3h.1m1 1.1h.1m.4-1.6h.1m.1 3.5h.1m-0-2.4h.1m0-1.4h.1m0 3.3h.1m-.1 1.6h.1m.2-4.9h.1m.7 2.3h.1m.1-1.1h.1m-.1 .6h.1m-8.1 4.8h.1m1.1 .1h.1m1.7-.2h.1m1.9 .4h.1" stroke="#a5489e" stroke-width="0.85" stroke-linecap="round" fill="none"/>
<path d="M342.3 568.9h.1m1.9 1.2h.1m1.8 2.7h.1m.2-2.8h.1m1 2.6h.1m-0-.7h.1m.6-3.7h.1m.4 4.4h.1m1.3-.1h.1m.1-2.9h.1m-9.1 4.8h.1m.2 1.1h.1m.9 .3h.1m-.1 2.4h.1m.5-3.9h.1m-.1 4.6h.1m2-3.5h.1m.1 2.8h.1m.5-4.2h.1m-.1 3.3h.1m1-1.8h.1m1 2h.1m.2-.8h.1m-0 1.3h.1m.6 .1h.1m-0-2h.1m1 .9h.1m.2-3.7h.1m1.5 4h.1m0 1.6h.1m-0 0h.1m1.1-1.1h.1m.1-2.9h.1m-0 3.2h.1m-12.5 4.3h.1m.7 .3h.1m.4 .7h.1m2.7-3h.1m1.5 3.6h.1m0 .7h.1m.1-1.8h.1m.3 .7h.1m.6-4h.1m.6 2.2h.1m-0 3.1h.1m.9-5.5h.1m.1-.2h.1m.5 1.6h.1m.1 1h.1m0 1.6h.1m1.7-2.3h.1m.1-1.1h.1m-11.2 6.4h.1m.3 2.8h.1m1.7-4h.1m1.2 5.1h.1m.2-3.5h.1m.8 4h.1m.7-3.9h.1m.6-1.3h.1m1 1.5h.1m.4 3.3h.1m.4 .4h.1m.7-5.7h.1m.6 .2h.1m.1 1.3h.1m.9-.8h.1m.8 3.2h.1m.2-3.7h.1m.7 3.5h.1m-10.3 4.9h.1m0 1.3h.1m.1 1.3h.1m.3-1.4h.1m0-1.4h.1m1.7-1.3h.1m-.1 .8h.1m1.7 2.4h.1m-0-4.3h.1m.9 5.8h.1m1.1-.6h.1m.2-2.1h.1m.1 2h.1m.4-.5h.1m.6-4.5h.1m.1 1.5h.1m-0-1h.1m.1 1.4h.1m-6.2 4.6h.1m.8-.1h.1m2.5-.6h.1" stroke="#8a2a8a" stroke-width="0.85" stroke-linecap="round" fill="none"/>
<path d="M414.7 578.8h.1m-.1-.2h.1m23.1 .3h.1m-37.8 1.5h.1m1 2h.1m.6 .6h.1m.1-2.1h.1m.6-.9h.1m.7 2.7h.1m.4 1.5h.1m.2-.8h.1m.5-1.4h.1m1.9-.7h.1m3 1.4h.1m1.6 1.4h.1m.2 .4h.1m1.4-2.4h.1m.8 .5h.1m.3 1.7h.1m.7-4h.1m.5 1.4h.1m.2 2.1h.1m3 .7h.1m.3-4.2h.1m.2 4h.1m.2-2.7h.1m.6 3.1h.1m.9-.2h.1m.8-3.4h.1m2.1 2.9h.1m.1-.3h.1m.6 .8h.1m.2-1.8h.1m.2 1.1h.1m.4-.3h.1m.1-1.5h.1m-0 1.9h.1m5.7-.1h.1m2-4.3h.1m.1-.3h.1m.3-.1h.1m.7 1.1h.1m.9-.8h.1m.8 .6h.1m.3 2.7h.1m.3 .6h.1m.4-4h.1m.2 4.1h.1m3.2-.5h.1m-45.9 4.4h.1m2 .6h.1m3.1-2.9h.1m1.2 3.6h.1m-.1-1.9h.1m1.4 3.5h.1m-.1-4.7h.1m.7 1.9h.1m2.3 .1h.1m1.1 1.9h.1m.9-2.4h.1m1 .6h.1m.4-2.2h.1m.1 .2h.1m0 4.2h.1m.3-2.4h.1m3.5 3.5h.1m.2-2.3h.1m0-2h.1m0 .2h.1m5.7 2.3h.1m0-3h.1m5.8 1.8h.1m2.7-1.6h.1m.8-.4h.1m-0 4h.1m.5-1.9h.1m.7-1.9h.1m1.2 1h.1m1 3.9h.1m1.4-.6h.1m.9-1.9h.1m0 1.7h.1m.1-1.9h.1m1.6 2.6h.1m.2-5.4h.1m1.2 2h.1m.5 .1h.1m.1 2.9h.1m1.3 .3h.1m-45.5 .7h.1m.7 4.7h.1m1.2-1.6h.1m.2 1.1h.1m.5-1.8h.1m-.1-2.7h.1m0 3.4h.1m.2-1.8h.1m3.7-1.6h.1m.6 4.4h.1m1.5 .6h.1m1.8-2.3h.1m.1-.9h.1m.6 2.4h.1m.1 .9h.1m.4-1.8h.1m1.1-1.2h.1m1.3 .9h.1m-.1-.6h.1m2.9 1.5h.1m.1 0h.1m3.8 1.5h.1m-0-3.1h.1m1.4 3.2h.1m.3-2.1h.1m.7 1.8h.1m1-3.4h.1m.2 1h.1m.4 .6h.1m.3-2.8h.1m.8 2.1h.1m3.8 1.3h.1m.9 .2h.1m.3-1.1h.1m0 .9h.1m.6-.1h.1m2.3-.5h.1m2.8-3.1h.1m.5 2.3h.1m.7 1.3h.1m.2 1.4h.1m1-2.9h.1m.6 1.2h.1m0 0h.1m1.3 1.9h.1m.2-2.1h.1m-44.1 3.5h.1m1.6-.4h.1m.6 .3h.1m11.4-.2h.1m.7-.3h.1m.4-.1h.1m5.9 .4h.1m1.6-.5h.1m.5-.2h.1m2.7 .2h.1m.4 .3h.1m.3-.2h.1m5.4-.3h.1m1.3 1.1h.1m0-1h.1m4.1 1.1h.1m.6 .1h.1m1.9 0h.1m.2-.6h.1" stroke="#9acd32" stroke-width="0.85" stroke-linecap="round" fill="none"/>
<path d="M399.1 584.5h.1m.2-3h.1m1.1-.7h.1m1.1-.2h.1m.9 3.4h.1m.5-1.9h.1m1.9-1.6h.1m.4-1.2h.1m.1 3.8h.1m1.2 .7h.1m0-.3h.1m1.7-.1h.1m.7-.7h.1m.3-2h.1m1 1.5h.1m.5-2.6h.1m0 0h.1m1.6 4h.1m2-2.5h.1m1.2-.6h.1m.9 2.8h.1m.1-2.2h.1m.4 .4h.1m.5 2.9h.1m.4-4h.1m2 4.5h.1m.9-4.1h.1m1.5-1.2h.1m.1 1.8h.1m1.4-.2h.1m.5 1.1h.1m.4 2.1h.1m4.6-4.2h.1m1.7 4.6h.1m1.3-1.1h.1m.5 1h.1m1.8-1.8h.1m.3 .2h.1m1-1h.1m.1-.2h.1m1-2.5h.1m0 3.7h.1m.6 .1h.1m-.1 1h.1m.3-1.6h.1m.6-.2h.1m.1 .7h.1m.8 .2h.1m0 .5h.1m.4 0h.1m-47.8 6.2h.1m1-1.7h.1m.1 .1h.1m3.3 .4h.1m1.9 .1h.1m.5-.3h.1m1.3-.2h.1m.1-.5h.1m.6-.1h.1m1.8-1.2h.1m.7-1.2h.1m.5 .5h.1m0 1.3h.1m.3-1.4h.1m.4 3.7h.1m1.2-1.8h.1m.5 2.3h.1m3.5-4.3h.1m2.3 .8h.1m1.2 1.9h.1m.7 2.4h.1m3.5-1.6h.1m.6 .3h.1m1 1.5h.1m2.2-3.9h.1m.8 1.5h.1m1 .4h.1m.9 1.2h.1m.7 .2h.1m2.1-4.4h.1m.8 3.1h.1m1.5-2.4h.1m.3 .5h.1m2.6 3.7h.1m.1-1.8h.1m2.2-2.4h.1m1 .1h.1m1.1 .6h.1m.8 2.6h.1m-45.8 5.8h.1m1.8-2.6h.1m.4-.1h.1m.1-1h.1m1.7 4.1h.1m1.7-.8h.1m1.3-1.8h.1m.9-.2h.1m-0 3.5h.1m.2-5.5h.1m.1 1.4h.1m1.3-1.2h.1m.1 2.1h.1m-0 .6h.1m.6 .5h.1m.1 .1h.1m5.5 .2h.1m.5-3.6h.1m.5 4.3h.1m.3 1h.1m.4-4.7h.1m.1 .8h.1m.4 3.8h.1m2.8-5.3h.1m.7 5.4h.1m.1-4.7h.1m2 3.1h.1m1.1-2.6h.1m.6-.6h.1m-.1-.3h.1m-0 1.1h.1m-.1 1.7h.1m.5 .1h.1m.6 .3h.1m1 .8h.1m.3-.8h.1m1.1-2.1h.1m.9-.3h.1m.9 .7h.1m.2 2.6h.1m2.6-.4h.1m.4-1.8h.1m-.1-.5h.1m1.1 3.2h.1m1.1-4.9h.1m1.7 5h.1m.5-.3h.1m1.7-1.4h.1m.9 .5h.1m.1-2.5h.1m-40.4 4.6h.1m1.4 .2h.1m1.3 .9h.1m6.7-1.4h.1m11.3 1.3h.1m1.2-1h.1m3.6 .9h.1m2.5-.8h.1m.5-.2h.1m1.9 .7h.1m.2 .3h.1m.9-1.2h.1m.3 1.2h.1m.8-.2h.1m.4-.1h.1m1.6 .1h.1" stroke="#8cc43a" stroke-width="0.85" stroke-linecap="round" fill="none"/>
<path d="M409.5 579h.1m2.7-.3h.1m-13.9 5.1h.1m1.1 1h.1m.9-2.6h.1m.6-1.5h.1m3.2 2.2h.1m.3-2.4h.1m.4 0h.1m.8 4h.1m.8-2.3h.1m1.8-1h.1m.3 2.2h.1m.5-2.1h.1m.5 1.1h.1m.1 1.3h.1m.2 .4h.1m.1-2.6h.1m-.1 2.3h.1m1.5-3.4h.1m.6-1.3h.1m.1 2.4h.1m.1-.5h.1m1.2 2.5h.1m1.8-3.2h.1m.4 .9h.1m.6 3.3h.1m.1-5.4h.1m1.5 2.2h.1m0 1h.1m.1-3.2h.1m.6 1.5h.1m1 3.6h.1m.4 .6h.1m-0-1h.1m1.2-1h.1m1-2.3h.1m4.1 1.7h.1m.8 .4h.1m-.1 .2h.1m4.3-3.6h.1m.1 5.5h.1m1.6-4.9h.1m.2 1.6h.1m.4-.3h.1m.9 2.6h.1m.9-2.4h.1m2.9 1.3h.1m1-.3h.1m-47.4 6.8h.1m1.2-1.8h.1m.3 .6h.1m1.1-1.4h.1m.6-1.2h.1m.9 5.4h.1m.2-4.8h.1m1.3 1.2h.1m2.4-1.2h.1m.5 .5h.1m2.4 2.3h.1m3.3 .2h.1m.3 2h.1m.3-4.6h.1m.1 3.3h.1m4.6-2.1h.1m3.1 .3h.1m.7-1.1h.1m1 2.2h.1m.2-3.6h.1m1.5-.1h.1m2.2 2.4h.1m-.1 .8h.1m.2-1.4h.1m.3 .7h.1m-0 3h.1m1.2-.3h.1m.9-4.7h.1m.5 1.2h.1m1.5 2.3h.1m-.1 1.1h.1m2.4-3.4h.1m.4 .8h.1m2.7 2.6h.1m0-4.3h.1m.3 1.6h.1m.1 2.6h.1m2.3 .2h.1m2.2-3.5h.1m.1 .4h.1m.3-1.6h.1m.9 1.4h.1m-48 6.9h.1m.7 1.1h.1m.8-3.1h.1m2.1 2.4h.1m5.3-.9h.1m.9-2.1h.1m1.3 1.2h.1m.4-.2h.1m.7-1h.1m.2 5.3h.1m1.4-2.7h.1m9.4 1.9h.1m1.3-3.4h.1m.2 3.7h.1m4.1-5h.1m.1 4.6h.1m.7 .6h.1m.2-4.1h.1m-.1-.5h.1m-0 4.9h.1m.5-5.6h.1m-0 4h.1m2.1 1.6h.1m3-2.2h.1m.2 .7h.1m.9 .8h.1m1.1-4.6h.1m1.6 .8h.1m1.1 4.1h.1m.5-3h.1m1 1.5h.1m1.3 2.1h.1m2.6-4.2h.1m-47.3 4.4h.1m4.7 .5h.1m1.4 .3h.1m5.8 .5h.1m7.6-1.4h.1m1.9 1.2h.1m8.8-.7h.1m9.5 .5h.1m.7-.6h.1m4.2 .3h.1m.2-.1h.1" stroke="#b0d860" stroke-width="0.85" stroke-linecap="round" fill="none"/>
<path d="M436.4 578.8h.1m-37.5 5.1h.1m1.6-.8h.1m.6-1.7h.1m0-1.6h.1m1.6 3.5h.1m1.8 1.1h.1m2.2-2.3h.1m.4 .9h.1m.4 1h.1m.1-3.1h.1m1.3 1.1h.1m2.8 2.6h.1m4.2-2.3h.1m1.7-1.9h.1m.1 .4h.1m1.5 .7h.1m.2 1.3h.1m1.1 1h.1m.2-3.6h.1m1.3 3.5h.1m1.7-3.2h.1m1.5-.5h.1m0 0h.1m.2 2.8h.1m.6 2.1h.1m.1-5h.1m-.1 1.9h.1m.1 3h.1m1.1-2h.1m.1-.3h.1m.8 1.2h.1m0 1h.1m1.1-4.1h.1m4.8 1h.1m0-.6h.1m-.1 .2h.1m.5 1h.1m.1-2.1h.1m.1 2.4h.1m2.7 1.4h.1m-.1-.9h.1m.7-1.8h.1m1.3 1h.1m-46.4 5.6h.1m.2-1.6h.1m1.4 .9h.1m.7 1.9h.1m3.6 .4h.1m.6-3.4h.1m.9 2.5h.1m.3-3.1h.1m.9 4.7h.1m.4-4.9h.1m1 5.4h.1m.1-.8h.1m1.1 .6h.1m.1-.8h.1m4.1-2.8h.1m.4 3.4h.1m.4 .7h.1m0-.2h.1m.8-2.6h.1m.7 .1h.1m.2-3h.1m.8 .4h.1m.5 2.1h.1m.9-2.1h.1m1-.4h.1m.8 1.6h.1m.4-1.8h.1m.5 4.5h.1m1.4-3.5h.1m.3 3.9h.1m.1-3.8h.1m.4 3.7h.1m-.1-2.3h.1m3 0h.1m.3-1h.1m.3 1.5h.1m1 2.9h.1m.6-2.4h.1m2 1.1h.1m.1-3.8h.1m-.1-.7h.1m.6 .1h.1m.8 3.2h.1m1.1-.7h.1m1.4 3h.1m1.1-1.2h.1m.1-4.5h.1m.3 1.2h.1m1.5-.3h.1m.2 .9h.1m-43 7.3h.1m2-1.3h.1m3.2 .4h.1m.2 1.9h.1m-0-4h.1m1.1 4.9h.1m0-3.1h.1m.5-1.2h.1m1.5 2.1h.1m1.4 3h.1m.3-5.4h.1m.7 4.9h.1m.7-.3h.1m1.7-3.3h.1m1.3-1h.1m.1 0h.1m1.8 2.8h.1m.1 2.2h.1m.3 .1h.1m.7-1.6h.1m.9-2.7h.1m2.9-.6h.1m0-.4h.1m0 .2h.1m1 .3h.1m.1 3.8h.1m1.1-3.1h.1m.7 1.3h.1m.6 2.3h.1m1.1-4.2h.1m2.1 2.7h.1m2 .2h.1m.7-1.3h.1m-.1 3.1h.1m0-4.6h.1m1.1 .4h.1m.7 1.1h.1m2.2 1.7h.1m.2-2.1h.1m.3 1.1h.1m0 2.5h.1m.4-.2h.1m1.1-2.7h.1m2.5-.9h.1m1.2 1.2h.1m2 .4h.1m.4-3.5h.1m-43.4 6.9h.1m.8-.3h.1m1.1-.1h.1m-.1-.5h.1m1.8 1.2h.1m5.6-1.4h.1m1.8 1.5h.1m2.5-.1h.1m8.9-.8h.1m2.2 .1h.1m2-.7h.1m1.4 1h.1m4.5-.1h.1m4.5-.2h.1m.8-.4h.1" stroke="#a6d04a" stroke-width="0.85" stroke-linecap="round" fill="none"/>
<path d="M423.3 566.1h.1m-0-1.1h.1m2.2 2h.1m.4-3.8h.1m.9 2.3h.1m1.5-.3h.1m.8-.5h.1m3.4-.1h.1m3.9 2h.1m7.2 .3h.1m-21.4 .3h.1m.6 3.9h.1m2.2-2.5h.1m5.5-.2h.1m3.3 2.3h.1m.1 .4h.1m.6-1.7h.1m.1-1.7h.1m1.5 4.8h.1m6.4-3.7h.1m2-1.4h.1m1.8 2.9h.1m-23.5 6.9h.1m2-1.1h.1m.3 .2h.1m.2-1.2h.1m2-1.2h.1m.6 .3h.1m7 .2h.1m.8 2.5h.1m1.8-2.8h.1m.6 4h.1m.1-1.9h.1m1.7-.6h.1m.1 .4h.1m.6-.9h.1m.6 2h.1m1.8 .9h.1m1.4-2h.1m.1 2.5h.1m1.4-.9h.1m.4-2.5h.1m.1-.4h.1m-15.3 6.3h.1m7 .4h.1m1 .8h.1m3.2-2.9h.1" stroke="#4a7fc8" stroke-width="0.85" stroke-linecap="round" fill="none"/>
<path d="M420.9 562.4h.1m.4 3.3h.1m1-3.7h.1m.6 2.2h.1m4.4 .8h.1m.3-.8h.1m1.3 .2h.1m1.3-1.2h.1m.8-.5h.1m3.6 .8h.1m7.3 2h.1m-20.4 2.8h.1m3.7 2.7h.1m-.1-1.9h.1m.7-.2h.1m1 .5h.1m3.9 2.7h.1m1-4.6h.1m4.5 1.3h.1m.5-.6h.1m.9 .1h.1m.9-1h.1m5.1 3.4h.1m.6-2.5h.1m.7 .2h.1m.4-.2h.1m-0 1.2h.1m-23.4 6.4h.1m2.1-1.2h.1m2.6 4h.1m.5-3.5h.1m.1 .1h.1m1 3.2h.1m.5-.1h.1m1.4-1.4h.1m3.8-.7h.1m.3-.9h.1m1.6 2.5h.1m2.5-4h.1m1.8 2.9h.1m.6 1.9h.1m1.2-2.9h.1m.5 0h.1m.8-1.8h.1m1.3 2.3h.1m1.5-2.2h.1m.5 4.4h.1m-16 1.2h.1m4.3 .4h.1m.2-.8h.1m2.3 1.7h.1m3 2.1h.1m4.3-.3h.1m.4-1.2h.1m.3-1.5h.1" stroke="#3a6ab8" stroke-width="0.85" stroke-linecap="round" fill="none"/>
<path d="M423.2 564.7h.1m8.8 1h.1m4-1.9h.1m.7 .8h.1m4.4 2.4h.1m0-2.2h.1m-18.3 2.5h.1m.4 0h.1m1.7 3.1h.1m.2 1.2h.1m1.7-.2h.1m-0-3.4h.1m.5 1.6h.1m2.6 .9h.1m.3-.8h.1m4.8-2h.1m.3 3.7h.1m1.4-3.2h.1m1.2-.2h.1m.5 .5h.1m.1 4.2h.1m.7-5.5h.1m.5 5.4h.1m.3-3.9h.1m.1-.3h.1m.2 2.5h.1m5 .7h.1m3.2 1.1h.1m-27.2 4.1h.1m3.6 1.1h.1m.4 1.1h.1m.3-2.6h.1m1.3-1.9h.1m4.1 3.9h.1m.9 .5h.1m.7-1h.1m.8-1h.1m.1 1.6h.1m0-4.2h.1m2.1-.5h.1m.6 3.6h.1m2 1.6h.1m2.1-1.3h.1m3.8-2.6h.1m-.1 2h.1m-16.3 2.4h.1m1.2-.3h.1m6.5 1h.1m4-.2h.1m1 .5h.1m2.6 2.8h.1m.2-3.8h.1" stroke="#6aa0d8" stroke-width="0.85" stroke-linecap="round" fill="none"/>
<path d="M515.5 570.7h.1m1.1 2.1h.1m3.4-2h.1m2.6-.3h.1m.4 1.9h.1m.7-.7h.1m.7-.4h.1m1.6 .9h.1m4.2 .4h.1m3-.1h.1m8.4-.3h.1m-25.4 5h.1m5.7-2.4h.1m1.1-.5h.1m.3-.8h.1m1.3 3.6h.1m1.1-1.5h.1m.4-1.4h.1m4.1-.9h.1m.4 .3h.1m2.8 .5h.1m.7 2.5h.1m-0 2.1h.1m7.7-2.5h.1m2.6 1.4h.1m.5 .9h.1m1.2-3.9h.1m3.3 3.8h.1m.9 .2h.1m.1 .2h.1m.9-.8h.1m1.7-1.3h.1m.2-1h.1m-113.2 5.1h.1m1.3 3.2h.1m1.7-3h.1m5.7-1.1h.1m.9 1.7h.1m3.8 2.7h.1m1.3-1.6h.1m.5 .4h.1m1.4-2.1h.1m.9 1.4h.1m1.4 1h.1m.2 .2h.1m2.5 .3h.1m7.3-.2h.1m1.2-1.2h.1m1.4-.2h.1m1.7 .1h.1m2.6 .9h.1m-0 .8h.1m.5-1.9h.1m.1-.9h.1m.1-1.2h.1m2.2 4.7h.1m2-1.7h.1m.7 1.3h.1m.5-4.2h.1m1 2.8h.1m.1 1.6h.1m.8-3.6h.1m2.4 3.5h.1m2-2.7h.1m2.8 .6h.1m.4 1.1h.1m.5-2.8h.1m-.1-.5h.1m-.1 1.3h.1m.2 2.2h.1m.2-.9h.1m-0-2.7h.1m.4 1.6h.1m1.5 3h.1m.2-2.8h.1m-.1-1.5h.1m.3 .7h.1m.2 2.5h.1m.1-.5h.1m3 .5h.1m1.6-.7h.1m-0-.8h.1m2.3 1.5h.1m1.1 .3h.1m6.3-3h.1m2.5 .4h.1m.2 3.5h.1m3-.5h.1m1.5 .5h.1m1.6-3.3h.1m.8-1h.1m1.2-.2h.1m.1-.7h.1m4.6 4.9h.1m2.5-2.2h.1m0-1.9h.1m2.2 3.3h.1m2.6-3.3h.1m1 3h.1m.7-3.3h.1m.2 .3h.1m2.7 4.5h.1m.8-2.2h.1m0-2h.1m1.5 1.4h.1m6 1h.1m.2-3.1h.1m.6 4.1h.1m-104.8 1.8h.1m6.9 .8h.1m1.8-1.6h.1m6.6 1.2h.1m4.7 .7h.1m.1-1.3h.1m1.8 .6h.1m1-.9h.1m8.4 2.3h.1m4.9-.8h.1m2.1 .6h.1m2.2-.8h.1m1 1.3h.1m0-1.5h.1m1.1 .4h.1m7.6-1.5h.1m1.8 1.5h.1m1.2-1.5h.1m2.1 1h.1m3.7 .7h.1m2.6 1.6h.1m2.6-2.8h.1m.5 .6h.1m1.1 3.2h.1m.9-2.3h.1m2.6-.7h.1m1.4 3.8h.1m2.5-1.6h.1m1.3 .7h.1m-.1-3.3h.1m0-.8h.1m2.4 5.1h.1m.4-3.6h.1m3 2.9h.1m.5-1.6h.1m1.8-1.6h.1m2.6 4h.1m-0-3.8h.1m.6-1.5h.1m.8 .3h.1m-.1 3.2h.1m1.7 1.9h.1m2.8 .2h.1m1.2-2.5h.1m.6 0h.1m-.1-2.8h.1m.2 1h.1m.8 2.1h.1m.7-.7h.1m-.1 .8h.1m0-1.1h.1m2.8 .8h.1m-30.7 2.5h.1m14.2 .9h.1" stroke="#3a8a3a" stroke-width="0.85" stroke-linecap="round" fill="none"/>
<path d="M517.7 572.1h.1m2.6 .2h.1m.7-.1h.1m10.7-.4h.1m5 1.1h.1m4.4-.4h.1m4-.5h.1m-32.3 6.5h.1m3-4.9h.1m1 1.7h.1m1.4 .4h.1m.1-1.5h.1m0 .6h.1m.3 3.4h.1m3.7-3h.1m.1 3.7h.1m1.1-1.4h.1m.4 1h.1m4.6-3.3h.1m.2-.4h.1m2.1 .6h.1m.4-1.4h.1m0-.6h.1m5.1 3.9h.1m-.1 1.6h.1m-.1-3h.1m3.2 0h.1m2.5-2.4h.1m2.6 5.2h.1m1.2 .3h.1m3.4-2.3h.1m.6-.1h.1m.3-3.4h.1m.8 .5h.1m2.1 1h.1m-114.3 6.4h.1m.8 1.6h.1m2.7-2.9h.1m.6 4.2h.1m5.1-.9h.1m.8-1h.1m.1 2.6h.1m3.6-.1h.1m2.6-2.6h.1m1.9 2.1h.1m-0-1.4h.1m1.6-1.7h.1m2.8 3.7h.1m1-2.2h.1m4.6 0h.1m1.6 1.6h.1m-0-4.1h.1m.7 1.9h.1m2.7 1.1h.1m.2-2.2h.1m.8 1.1h.1m0 2.9h.1m.2-3.2h.1m5.5 2.5h.1m.6 .3h.1m1.3-1.9h.1m.5-1.8h.1m1.9 1.2h.1m.2-1.2h.1m.4 2.7h.1m3.4 .5h.1m1.5-3.3h.1m1.4 3h.1m-.1-1.6h.1m1.1 1.9h.1m6.4-.5h.1m.9-2.5h.1m1.3-.3h.1m4 3.2h.1m2.9 .9h.1m.2-.4h.1m-.1-.9h.1m0-2.3h.1m.1 .5h.1m2.5 2.3h.1m7.2-1h.1m1.3-2.7h.1m.9 4.1h.1m6.5-.6h.1m7.3 .2h.1m.9-3.6h.1m.1 2.7h.1m1.9-2.4h.1m.3 .6h.1m4.7-.6h.1m3.6 .8h.1m2.9-2.1h.1m.5 2h.1m.2-1.3h.1m-182.4 10.8h.1m70-5.2h.1m9.1-.1h.1m3.3 .4h.1m2.7-.1h.1m.4 .6h.1m2.6 .8h.1m.1-.2h.1m10.4-1.5h.1m1.6 .5h.1m2.6-.9h.1m1.3 1.7h.1m-.1-1.7h.1m.2 .9h.1m2.5 .6h.1m.8 .7h.1m9.6-.6h.1m-0 .5h.1m1.7-2h.1m1.2 .8h.1m.1-.6h.1m.9 .5h.1m.7 .7h.1m5.1 .7h.1m3.4-1.4h.1m.2-.6h.1m6.2 1.5h.1m1.9-.8h.1m1.3 .8h.1m1.6 1.2h.1m1.3-.1h.1m1.6 1.2h.1m2.9-.5h.1m0-3.6h.1m.2 4.2h.1m1.8-3.9h.1m1.3 4.8h.1m-0 .7h.1m2.5-1.4h.1m1.2-3h.1m1.8 2.5h.1m1.6 1.6h.1m.1-1.9h.1m6.7-1.3h.1m.4 2.7h.1m.3-4.8h.1m1.2 3.5h.1m1.3 .4h.1m1-1.4h.1m2-.8h.1m.5 .7h.1m.3 .7h.1m.8-2.4h.1m2.5 1.1h.1m-190.7 9.1h.1m2.6-2h.1m.6 1.8h.1m.7-4.7h.1m.8 3.5h.1m.2 .5h.1m.9-3.8h.1m2.5 3.8h.1m0-.8h.1m.7-1h.1m.9-2.3h.1m1 1.3h.1m.1 2.6h.1m.3 1h.1m.5 .6h.1m.1-1.1h.1m149.7-4.3h.1m7.3 .3h.1m4.1 .2h.1m.7-.2h.1m4.7-.1h.1m3.6 .2h.1m-168 5.5h.1" stroke="#2e7d32" stroke-width="0.85" stroke-linecap="round" fill="none"/>
<path d="M516.3 571.3h.1m5.2 1.2h.1m2.6-1.8h.1m4.5 1h.1m3 .8h.1m.3 .4h.1m.7-2.5h.1m1.3 2h.1m3.2-1.7h.1m7.1 2h.1m-31.4 .3h.1m.4 .2h.1m.3 0h.1m.5 4.7h.1m.8-1h.1m.6 2.1h.1m2.5-.4h.1m2.5-1.4h.1m2-3.7h.1m1 4.4h.1m1-3.4h.1m1.7-.6h.1m1.2 3h.1m-.1 1.2h.1m1-2h.1m.4 1.4h.1m.5-3.7h.1m.4 4.2h.1m.6-.9h.1m.4-1.2h.1m1-2.4h.1m3 2.5h.1m.3 1.4h.1m.1-3.7h.1m.5 1.4h.1m.1 .9h.1m2.5 1h.1m.5-.6h.1m2 1.5h.1m.7-3.9h.1m.6-.4h.1m.1 3.8h.1m3.3-.6h.1m1.3-3.4h.1m1.9 5.5h.1m2.9 .1h.1m-.1-1.1h.1m-112.8 2.9h.1m.5 3.4h.1m.2-4.7h.1m.6 3.9h.1m3.6-2.3h.1m1-1.9h.1m-.1 2.8h.1m3.3 .2h.1m.6-2h.1m.5 1h.1m2.3 1.8h.1m.2-1.3h.1m0-2.1h.1m.6 4.2h.1m4.1 .8h.1m1.6 .2h.1m2.8-4.9h.1m3.8 1.2h.1m.5 1.4h.1m1.1-.9h.1m5.2-1.2h.1m-.1 1.8h.1m0 1.1h.1m2.8 1.4h.1m.7-3.5h.1m.5 3.2h.1m1.9-3.8h.1m0 4.2h.1m1.6-2.7h.1m1.8 .3h.1m.1-.9h.1m-.1 1.2h.1m6.4-1.1h.1m2.3 1h.1m.1-.8h.1m2.4 2.3h.1m1.1-3h.1m.1 .4h.1m2.1-.2h.1m2.5 .1h.1m3-.8h.1m.4 1h.1m0-1.3h.1m3.4 1.8h.1m1-1.3h.1m2.9 3.8h.1m.3-.9h.1m.1-4.4h.1m-.1 3.5h.1m1.5-3h.1m2.1 1.2h.1m-.1 2.8h.1m2.3 .1h.1m.2 1h.1m2-3.5h.1m.1 2.8h.1m1.5-4.7h.1m.5-.4h.1m1.5 2.1h.1m.4-.3h.1m2.2 1.3h.1m1.6-2.9h.1m3.6 5.6h.1m.1-3.7h.1m.7-2h.1m1.3 5.3h.1m.3-2.5h.1m3.6 2.1h.1m1.9 .1h.1m.8-.3h.1m2.4-1.9h.1m.3-2.9h.1m.5 3.6h.1m-104.2 2.6h.1m12.5 0h.1m.3 0h.1m.8-.2h.1m8.1 2.3h.1m.6-.5h.1m1.1-1h.1m.6 .9h.1m4.5 .8h.1m3.1-1.4h.1m.5 1.8h.1m6.2-1.6h.1m2.4 .2h.1m4.6 1.3h.1m1.9-2.6h.1m.9 2.8h.1m.5-1.9h.1m.7 0h.1m4 .6h.1m8.2 .3h.1m1.9-.1h.1m.8 1h.1m3-2.1h.1m1.1-.2h.1m.5 2.1h.1m1.4-.4h.1m.4-1.2h.1m1.1 1.9h.1m2.6 2.2h.1m3.1 .3h.1m3.6-4.4h.1m.1-.2h.1m1.1 3.4h.1m7.1-1.4h.1m.9-3h.1m4.8 2h.1m-.1 2.5h.1m2.2-.7h.1m.5-.4h.1m1.8 2.5h.1m.2-5.2h.1m.4 4h.1m1.8 .9h.1m.2-5.2h.1m1.4 4.3h.1m.2-3.9h.1m.3 3.7h.1m.5-4h.1m-12.6 5.8h.1m1.4 0h.1m1.8 .5h.1" stroke="#4a9a4a" stroke-width="0.85" stroke-linecap="round" fill="none"/>
<path d="M365.1 591h.1m9-.7h.1m1.4 .3h.1m-12.8 2h.1m-.1 3.2h.1m.8-3.8h.1m.3 4.6h.1m1.1-3.9h.1m.3-1.2h.1m.3 1h.1m.3 2.9h.1m.3-3.5h.1m1.5 3.3h.1m.2-3.3h.1m1 3.5h.1m.2-.6h.1m.2-2.9h.1m.8 3.9h.1m.3-2.4h.1m.2 .4h.1m2.1 2h.1m.1-1.7h.1m.9 .8h.1m.4 .6h.1m.1-3.6h.1m.3 3.3h.1m.7-3.9h.1m-.1 3.8h.1m-13.7 2h.1m5.1 .2h.1m1.4-.2h.1m6.5-.1h.1" stroke="#3a8a5a" stroke-width="0.85" stroke-linecap="round" fill="none"/>
<path d="M529 532.4h.1m2 4.4h.1m1.5-2.2h.1m-.1 1.3h.1m.8-1.3h.1m2 0h.1m4.1-1.2h.1m3.1 2.9h.1m-15.5 5.9h.1m1.4-3.9h.1m1.9 2.4h.1m1.9-1h.1m3.8-2.6h.1m.1 5.1h.1m.9-4.1h.1m1.2 .4h.1m.9 3.7h.1m2.3-1.2h.1m.8 1.8h.1m-14.9 .6h.1m1.5-.2h.1m1.8 1.2h.1m4-1.3h.1m6.7 5.2h.1m.5-2h.1m.8 1.8h.1m6.8 .4h.1m-7.2 1.9h.1m-.1 2.6h.1m1.1-.9h.1m1.4 1.3h.1m.1-2.2h.1m.4 2.3h.1m1.8 1.2h.1m.8-2.9h.1m.9-2.8h.1m-6.9 7h.1m7.9 1.1h.1m-1.1 4.6h.1" stroke="#f5b030" stroke-width="0.85" stroke-linecap="round" fill="none"/>
<path d="M529.4 532.8h.1m2.1 3.6h.1m1.7-.7h.1m2.2 .4h.1m5.9-2.1h.1m-14.1 5.3h.1m1.6-1.1h.1m5.9 3.8h.1m1-3.8h.1m0-.4h.1m0 1.7h.1m3.3 3.4h.1m.7-2.4h.1m.6 .5h.1m3.1 .1h.1m-7.2 2.2h.1m-0 1.5h.1m3.5-1.1h.1m2 0h.1m.6 4.2h.1m.4-1.4h.1m5.8 1.1h.1m-5.9 2.5h.1m0 .8h.1m1.2 3.5h.1m.7-5h.1m-.4 8.7h.1m.8 .8h.1m-.1-2.4h.1m2.4 .8h.1m.3-.2h.1m2.4 4.2h.1" stroke="#f0a020" stroke-width="0.85" stroke-linecap="round" fill="none"/>
<path d="M527.5 535.5h.1m3.4-3h.1m3.9 3h.1m3.5-1.8h.1m-10 8.5h.1m2.5-2h.1m0-2.9h.1m.6 4.3h.1m2.2-4.6h.1m1.4 .9h.1m2.1 .4h.1m.5 4.2h.1m.1-4.7h.1m0 2.8h.1m0-.8h.1m0 2.1h.1m.2-2.3h.1m0-1.2h.1m.1 3.7h.1m2.4-1.5h.1m-11.3 3.3h.1m11.4 1.1h.1m.7 2h.1m1.1-2.1h.1m.4-.4h.1m.9 4.3h.1m5.8 .1h.1m-8.9 1.1h.1m1.4-.9h.1m.8 0h.1m3.3 1.7h.1m.7-1.4h.1m1.8 .9h.1m.9 1.2h.1m-3.1 5.3h.1m.6 2h.1m.2-3.4h.1m.8 4.6h.1m.2-3.5h.1" stroke="#e89a20" stroke-width="0.85" stroke-linecap="round" fill="none"/>
<path d="M525.7 545.6h.1m2.5-2.3h.1m.2 .7h.1m3.9 .5h.1m1.3-.7h.1m1.4 1.7h.1m1.6-.4h.1m2.5 3.3h.1m6.3-.7h.1m-22.9 2.2h.1m1.8 1.1h.1m.9-.7h.1m3.5 .8h.1m1.3-2.1h.1m1 .9h.1m3.6 1h.1m1 2.1h.1m1.8 1h.1m1.9-1.5h.1m0-2.5h.1m-.1 2.8h.1m2.9 1.1h.1m1.4-3.7h.1m2.4-.6h.1m.1 3.6h.1m.1 .1h.1m-24.5 5.2h.1m4.1-3.1h.1m.2 5.3h.1m1.8-4.2h.1m.9-1.3h.1m1.7 2.9h.1m1.5 1.3h.1m4.2-2.9h.1m.8 3h.1m.2-.2h.1m.9-4.2h.1m1.1 2.2h.1m1.5 3.2h.1m.9-4.7h.1m.3 2.8h.1m2.5-1.2h.1m1 0h.1m.2-.3h.1m.1-1.3h.1m.4 5.1h.1m3.1-1h.1m-.1-4.4h.1m0 5.3h.1m-24.7 .9h.1m.4 2.5h.1m.9 1.9h.1m2.8 .2h.1m.1-4.2h.1m.7-1h.1m1.7 1.3h.1m.4 1.3h.1m.8-2.1h.1m.8 1.2h.1m2.9-1.4h.1m.1-.1h.1m1.3 5.1h.1m1.6-3.7h.1m3-1.5h.1m.2 2.1h.1m-.1-2.1h.1m3.1 3.5h.1m1.9 1h.1m-26.7 4.4h.1m3.6-.5h.1m2.1 .7h.1m.9 1.6h.1m.3-1.5h.1m1.5 .6h.1m1.3-3.4h.1m1 .3h.1m3.6 1.9h.1m0-1.1h.1m1.1 3.5h.1m3.6-4.7h.1m5.1 3.3h.1m-0 1.1h.1m.2-.4h.1" stroke="#d84060" stroke-width="0.85" stroke-linecap="round" fill="none"/>
<path d="M526.6 544.1h.1m2.2 4.2h.1m.1-.1h.1m0-1.6h.1m5.2-1.7h.1m.2 2.4h.1m.7-3.3h.1m3.4 2.2h.1m.2 .1h.1m2.9 2.6h.1m-18.1 2.2h.1m2.8 1.1h.1m4.1-2.6h.1m1.4 .1h.1m0 2.8h.1m.4-.8h.1m1.4 .1h.1m.4 2.5h.1m5.2 .1h.1m.9-2.2h.1m3.5 1h.1m1.3 1.4h.1m1.2-4.6h.1m.2 2.9h.1m2.6 .2h.1m1.4-.2h.1m-28.7 7.7h.1m4.5-5.5h.1m6.9 4.6h.1m1.3-2.2h.1m.9 2.1h.1m.1-.4h.1m.9 1.3h.1m1.6-.7h.1m1.2 .3h.1m1.5-3h.1m0-1.1h.1m.8 3.6h.1m3.3-.4h.1m.8 .9h.1m1.5-.1h.1m0-1.9h.1m.8 .4h.1m.4-.4h.1m1.6 .8h.1m-29.4 6.4h.1m.2-2.6h.1m.4-.2h.1m.1 4.3h.1m1.6-2.4h.1m1.4 1.1h.1m4.1-3h.1m1 .3h.1m1.1 1.2h.1m3.5 2h.1m.7-1.9h.1m.7-1h.1m1.6 3.5h.1m2.6-1.6h.1m.1 1.1h.1m1.6 .6h.1m.4-5.3h.1m.6 2.5h.1m2.9 .8h.1m1.7-.7h.1m.4-.5h.1m.1-.7h.1m-27.6 4.8h.1m5.5 2.8h.1m3.1-3.1h.1m1.2 .4h.1m.1 2.5h.1m1.5-.6h.1m3.3 1.1h.1m.8-1.6h.1m2.7 .2h.1m.3 1h.1m3.7-1.5h.1m1.5 2.1h.1m-8.2 2.9h.1" stroke="#e05a78" stroke-width="0.85" stroke-linecap="round" fill="none"/>
<path d="M526.7 542.8h.1m.8 .2h.1m-1.7 .1h.1m.4 .1h.1m3 2.6h.1m.9 .4h.1m3.2-2.2h.1m.6 4.2h.1m-.1-1.5h.1m-.1-1.9h.1m.2-.3h.1m4.9-.1h.1m.3 1.1h.1m1.5 0h.1m.3 2.1h.1m-13.9 6.4h.1m.6 .8h.1m1.2-1.7h.1m.6 .7h.1m9.4-.7h.1m.2-3.6h.1m.3 3.5h.1m1.4 1.7h.1m1.5 .3h.1m-.1-3.6h.1m1.7 2.5h.1m1-4.1h.1m.3 2.8h.1m.5-2h.1m.7 1.2h.1m1.1 1.4h.1m.2-1.5h.1m.8-.5h.1m.2 1h.1m-29.6 4.2h.1m1.8 .4h.1m-.1 3.3h.1m.4-4.4h.1m0 2.6h.1m2-.3h.1m4.2 .1h.1m.2-2.6h.1m.3 3.4h.1m.4 1.3h.1m1.2 .3h.1m1.4-1.7h.1m4.9-.5h.1m.2-3h.1m1.2 .4h.1m-.1 5.1h.1m.4-2.7h.1m.8 .1h.1m2.7 1.9h.1m.1-1.8h.1m.6 1.4h.1m1.1 .7h.1m1.3-1.8h.1m0 1.2h.1m2.3-3.6h.1m-26.3 5.4h.1m4.5 .7h.1m.3 3.4h.1m4-1.2h.1m2.9 1.5h.1m1.7 .9h.1m1.6-4.9h.1m3 .7h.1m.5 3.1h.1m1.3-4.1h.1m1.8 2.8h.1m2.9-1.1h.1m-25.5 5.2h.1m1-.1h.1m.7-1.3h.1m2.8 2.4h.1m1.7-1.7h.1m4.9-.7h.1m3.4 .2h.1m3.9 .3h.1m2.1 3.1h.1m3.4-2.2h.1m2.7 0h.1" stroke="#e8506e" stroke-width="0.85" stroke-linecap="round" fill="none"/>
<path d="M529.5 542.8h.1m-3.9 1.9h.1m2.6 2.9h.1m.5-2h.1m1.2 3h.1m4.8-2.6h.1m.1 1.1h.1m1.8 1.2h.1m1.6-4.3h.1m.1 4.9h.1m.8-.6h.1m.1-1.4h.1m.4 1.3h.1m-12.4 2.4h.1m.3-.2h.1m1.3 0h.1m.9 1.5h.1m.1 2.2h.1m1.1-4.6h.1m2.2 4.1h.1m1.4 1.4h.1m1.6-1.7h.1m.3-.2h.1m2.7 0h.1m0-3.8h.1m1.2 .6h.1m1.2-.5h.1m-16.6 8.1h.1m.8-.9h.1m2.7 4.1h.1m2.5-5.3h.1m1.4 1.6h.1m.7-1.5h.1m1 2.5h.1m.7 .8h.1m.3-1h.1m1.5-1.5h.1m2.8 0h.1m2.2 4.4h.1m.8-4.4h.1m.3 3.4h.1m1.1-.6h.1m.6 1.6h.1m1.4-3.7h.1m-21.7 5.9h.1m.3 1.2h.1m.9-.9h.1m.5 2.8h.1m2.3-2.5h.1m.2-.3h.1m.4-1.3h.1m1.7 2.8h.1m.1-.1h.1m.5 .1h.1m1.1 .1h.1m2.5-3.4h.1m.2 3.6h.1m1.8 1.1h.1m1.5-.5h.1m0-2.7h.1m3.6 1.6h.1m.5 .6h.1m-.1-3h.1m4.7 4.7h.1m1.3-1.4h.1m-28.4 4.1h.1m2.2-.3h.1m0-1.5h.1m.1 1.9h.1m.9-1.9h.1m1.7 1.8h.1m.5 .8h.1m2.6 1.6h.1m3.8-1.7h.1m1.3 .6h.1m.5 .2h.1m.2 1.8h.1m1.6-2.9h.1m.4 1.3h.1m1.3-2.5h.1m.9 3.7h.1m2.9-4.6h.1m1.3 5h.1m1.9-4.7h.1m.5 3.7h.1" stroke="#f07090" stroke-width="0.85" stroke-linecap="round" fill="none"/>
<path d="M516.1 571.3h.1m1.3 1.1h.1m3.7-.4h.1m5.2-.6h.1m0 .5h.1m1.6-1h.1m3.6-.1h.1m5.1 1h.1m3.2-1h.1m-26.2 4h.1m.2 2.2h.1m.3 .4h.1m2.4-2.5h.1m-.1 .2h.1m.6 1.5h.1m.3-3h.1m2 3.5h.1m4.2-3.3h.1m-0 4.3h.1m.8-2.9h.1m.6 2.2h.1m.2-3.6h.1m.5 4.6h.1m.4-3.4h.1m.8-1.5h.1m.2 1.8h.1m1.7 2.6h.1m2-3.9h.1m.3 4.4h.1m.8 .3h.1m.5-.6h.1m.5-5.1h.1m.8 2h.1m2.6 3.8h.1m2.2-4.4h.1m.5 1.9h.1m2.8 .3h.1m2.5 2.3h.1m.5-4.1h.1m3 1.3h.1m.2-.9h.1m3.2 .2h.1m-38.4 9.1h.1m2.1-2.8h.1m.7-.1h.1m-.1-1.9h.1m3.7 .2h.1m1.1 2.4h.1m1.1 2h.1m1.2-.4h.1m1.8-2.3h.1m0-1.9h.1m1.3 4.5h.1m.9-2.9h.1m1.3-1.7h.1m.6 5.3h.1m2.3-4.7h.1m.8 1.5h.1m5.4 .8h.1m1.7 1.4h.1m.7 .8h.1m.2-3.9h.1m.5 1.8h.1m3.8 .2h.1m1.3-1h.1m2.9 .3h.1m-39.6 6.1h.1m.8 .5h.1m0-.5h.1m2.2 1.4h.1m1.7-.5h.1m3.5-3.7h.1m1 3.8h.1m2.2 0h.1m4.2 1.4h.1m1.5-2.3h.1m1.1-2.7h.1m.3 2.7h.1m.8 1.4h.1m.5-2.8h.1m4 .5h.1m2.9-1.6h.1m.1 1.5h.1m1.6 1.4h.1m2.9-2.6h.1m.2-1.1h.1m2.2 2.8h.1m3.5 1h.1m0-3.5h.1m.5 2.8h.1m-26 3.2h.1m3-.1h.1m4.8 1.1h.1m8.2-.8h.1" stroke="#2a6a2a" stroke-width="0.85" stroke-linecap="round" fill="none"/>
<text x="396.8" y="489.6" font-size="8.6" fill="#222">cyNESC</text>
<text x="533.7" y="522.0" font-size="8.0" fill="#222">ETMR</text>
<text x="368.6" y="531.2" font-size="8.6" fill="#222">MES</text>
<text x="379.9" y="546.4" font-size="8.6" fill="#222">MES</text>
<text x="415.9" y="544.4" font-size="8.6" fill="#222">PC</text>
<path d="M512.3 555.2 C490 520 440 500 389 516" fill="none" stroke="#e6007e" stroke-width="1.4"/>
<polygon points="385.3,516.9 390.1,517.8 388.5,513.2" fill="#e6007e"/>
<path d="M511.2 557.4 C488 525 440 508 392 516.5" fill="none" stroke="#8dc63f" stroke-width="1.4"/>
<polygon points="388.6,516.9 393.1,518.7 392.4,513.9" fill="#8dc63f"/>
<path d="M512 557.4 C495 545 470 532 438.6 528.4" fill="none" stroke="#e5382a" stroke-width="1.4"/>
<polygon points="434.6,528.3 438.7,530.9 438.9,526.1" fill="#e5382a"/>
<path d="M511.2 560.7 C490 550 470 535 439.7 531.4" fill="none" stroke="#8dc63f" stroke-width="1.4"/>
<polygon points="435.7,531.1 439.7,533.8 440.1,529.0" fill="#8dc63f"/>
<path d="M511.2 561.8 C490 552 460 538 427.6 534.6" fill="none" stroke="#8b2a8b" stroke-width="1.4"/>
<polygon points="423.6,534.4 427.7,537.0 427.9,532.2" fill="#8b2a8b"/>
<path d="M512 562 C495 556 470 550 441.9 548.2" fill="none" stroke="#e5382a" stroke-width="1.4"/>
<polygon points="437.9,548.0 442.0,550.6 442.2,545.8" fill="#e5382a"/>
<path d="M511.2 564.6 C490 560 450 550 409 544.6" fill="none" stroke="#8dc63f" stroke-width="1.4"/>
<polygon points="405.0,544.3 408.9,547.1 409.4,542.3" fill="#8dc63f"/>
<path d="M511.2 566 C490 562 450 553 410 546.5" fill="none" stroke="#8dc63f" stroke-width="1.4"/>
<polygon points="406.5,546.0 410.4,548.8 410.9,544.0" fill="#8dc63f"/>
<path d="M511.2 567.3 C485 565 445 557 406.8 547" fill="none" stroke="#8b2a8b" stroke-width="1.4"/>
<polygon points="402.8,546.5 406.4,549.7 407.4,545.0" fill="#8b2a8b"/>
<path d="M386.4 521.3 C400 521 415 522 424.5 527.5" fill="none" stroke="#f39200" stroke-width="1.4"/>
<polygon points="428.0,528.9 425.0,525.1 423.2,529.6" fill="#f39200"/>
<path d="M391.9 524.6 C403 524 410 526 414 531.5" fill="none" stroke="#f39200" stroke-width="1.4"/>
<polygon points="417.0,534.4 416.0,529.7 412.4,532.8" fill="#f39200"/>
<path d="M386.4 527.8 C391 529 394 531 395.5 532.8" fill="none" stroke="#f39200" stroke-width="1.4"/>
<polygon points="397.4,535.5 396.8,530.7 393.0,533.6" fill="#f39200"/>
<circle cx="582.5" cy="506.6" r="5.2" fill="#e6007e" stroke="#333" stroke-width="0.9"/>
<text x="591.6" y="510.2" font-size="9.8" fill="#222">WNT5A_FZD5</text>
<circle cx="582.5" cy="522.6" r="5.2" fill="#f39200" stroke="#333" stroke-width="0.9"/>
<text x="591.6" y="526.2" font-size="9.8" fill="#222">DLK1_NOTCH (2,3)</text>
<circle cx="582.5" cy="539.5" r="5.2" fill="#8dc63f" stroke="#333" stroke-width="0.9"/>
<text x="591.6" y="543.1" font-size="9.8" fill="#222">VEGFA_NRP2</text>
<circle cx="582.5" cy="556.3" r="5.2" fill="#8b2a8b" stroke="#333" stroke-width="0.9"/>
<text x="591.6" y="559.9" font-size="9.8" fill="#222">TGFB2_TGFBR (2,3)</text>
<circle cx="582.5" cy="573.7" r="5.2" fill="#e5382a" stroke="#333" stroke-width="0.9"/>
<text x="591.6" y="577.3" font-size="9.8" fill="#222">PDGFA_PDGFRA</text></svg></body></html>
